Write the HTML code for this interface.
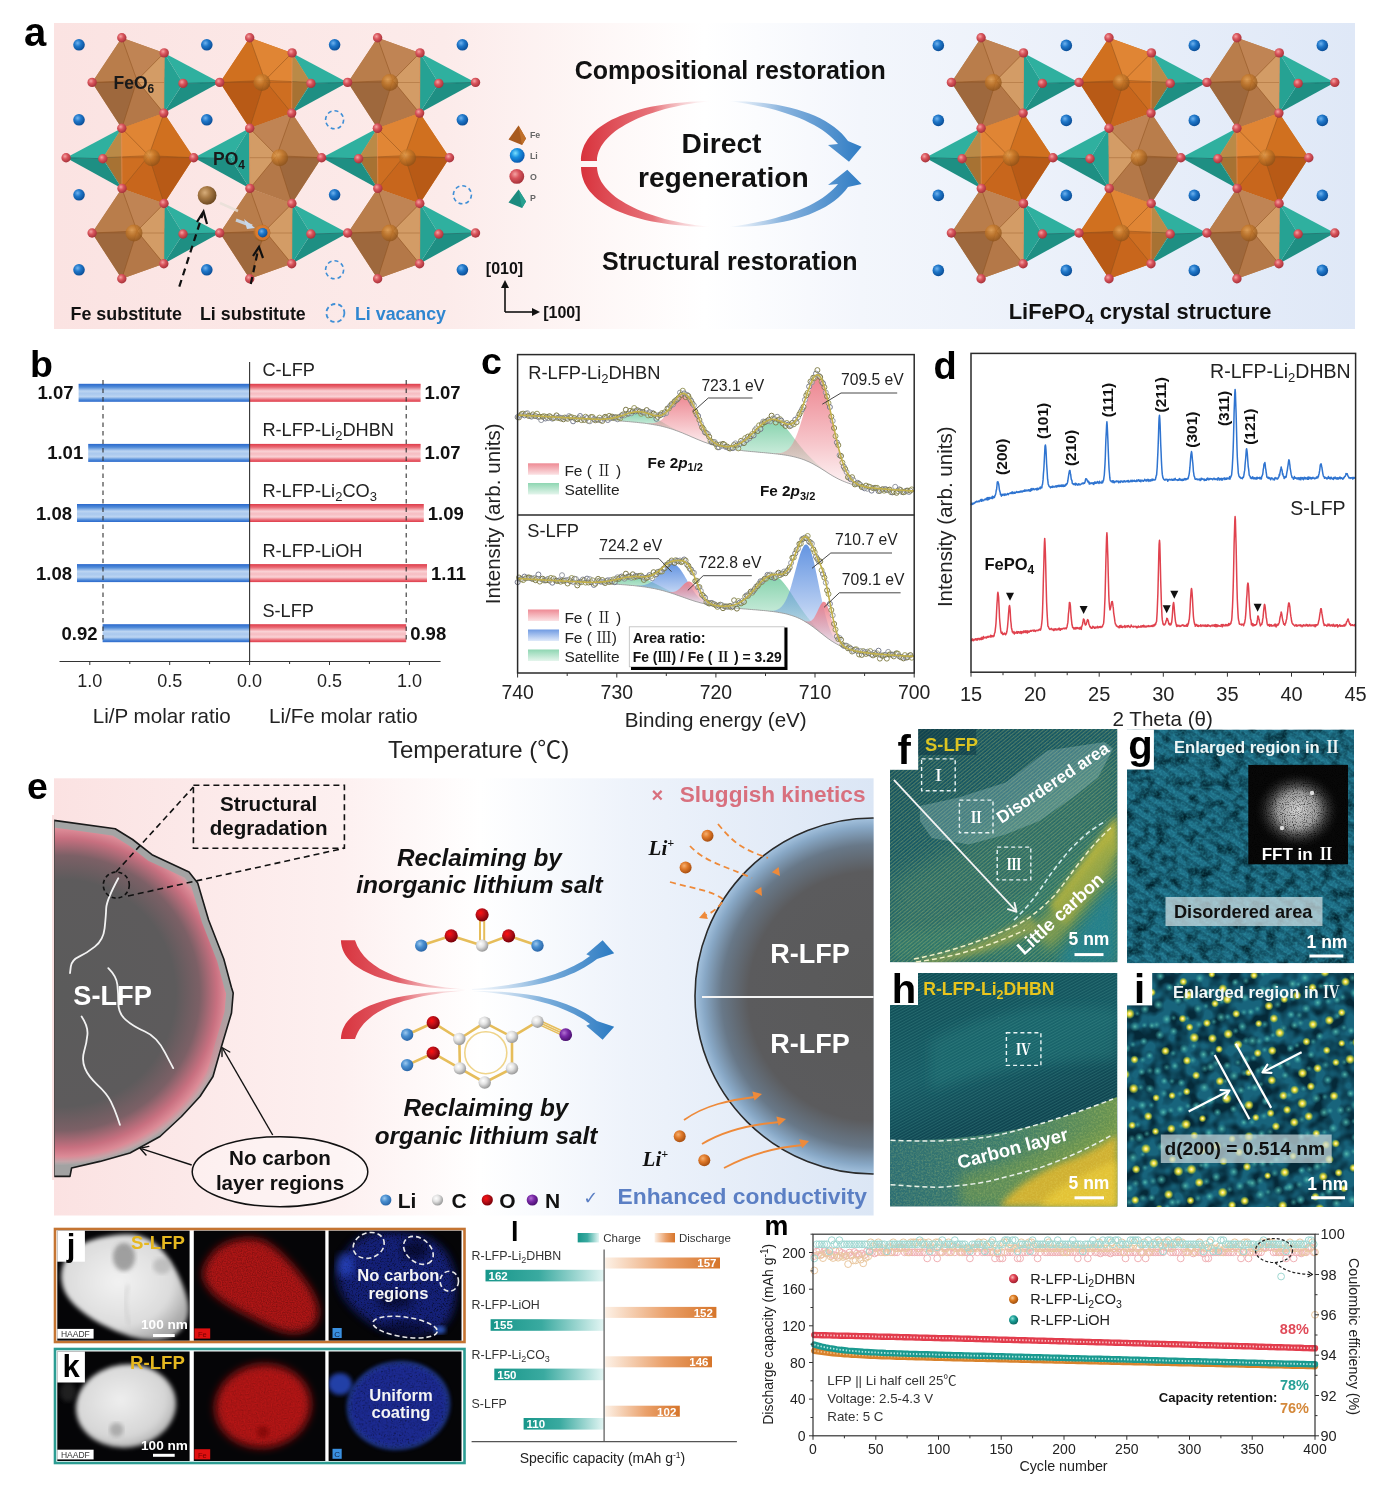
<!DOCTYPE html><html><head><meta charset="utf-8"><title>LFP regeneration figure</title><style>html,body{margin:0;padding:0;background:#fff;}svg{display:block;}</style></head><body><svg width="1381" height="1487" viewBox="0 0 1381 1487" font-family='"Liberation Sans", Arial, sans-serif'><defs><radialGradient id="gO" cx="0.38" cy="0.35" r="0.65"><stop offset="0" stop-color="#f4a3a3"/><stop offset="0.45" stop-color="#d9545c"/><stop offset="1" stop-color="#a8333b"/></radialGradient><radialGradient id="gLi" cx="0.38" cy="0.35" r="0.65"><stop offset="0" stop-color="#6fb2ee"/><stop offset="0.45" stop-color="#1f77c9"/><stop offset="1" stop-color="#0b4f99"/></radialGradient><radialGradient id="gLiL" cx="0.38" cy="0.35" r="0.65"><stop offset="0" stop-color="#7ae0ff"/><stop offset="0.45" stop-color="#1890e0"/><stop offset="1" stop-color="#0a5ab0"/></radialGradient><radialGradient id="gFe" cx="0.38" cy="0.35" r="0.65"><stop offset="0" stop-color="#e9a85a"/><stop offset="0.45" stop-color="#c67a2a"/><stop offset="1" stop-color="#8e5218"/></radialGradient><radialGradient id="gFeS" cx="0.38" cy="0.35" r="0.65"><stop offset="0" stop-color="#d7ad7a"/><stop offset="0.45" stop-color="#a87a45"/><stop offset="1" stop-color="#6e4a22"/></radialGradient><radialGradient id="gC" cx="0.38" cy="0.35" r="0.65"><stop offset="0" stop-color="#ffffff"/><stop offset="0.45" stop-color="#e2e2e2"/><stop offset="1" stop-color="#9a9a9a"/></radialGradient><radialGradient id="gOr" cx="0.38" cy="0.35" r="0.65"><stop offset="0" stop-color="#ff0f0f"/><stop offset="0.45" stop-color="#c01018"/><stop offset="1" stop-color="#7a0008"/></radialGradient><radialGradient id="gN" cx="0.38" cy="0.35" r="0.65"><stop offset="0" stop-color="#b070d0"/><stop offset="0.45" stop-color="#7a2aa8"/><stop offset="1" stop-color="#4a1070"/></radialGradient><radialGradient id="gLiE" cx="0.38" cy="0.35" r="0.65"><stop offset="0" stop-color="#9cc8ee"/><stop offset="0.45" stop-color="#4a8fd0"/><stop offset="1" stop-color="#2a66a8"/></radialGradient><radialGradient id="gOrg" cx="0.38" cy="0.35" r="0.65"><stop offset="0" stop-color="#f5b070"/><stop offset="0.45" stop-color="#e07a2a"/><stop offset="1" stop-color="#a85012"/></radialGradient><linearGradient id="bgA" x1="0" x2="1" y1="0" y2="0"><stop offset="0" stop-color="#fbe3e2"/><stop offset="0.30" stop-color="#fcebea"/><stop offset="0.50" stop-color="#ffffff"/><stop offset="0.62" stop-color="#f3f6fc"/><stop offset="1" stop-color="#dfe8f7"/></linearGradient><linearGradient id="gRedA" x1="0" x2="1" y1="0" y2="0"><stop offset="0" stop-color="#d8323c"/><stop offset="0.55" stop-color="#e4646c" stop-opacity="0.9"/><stop offset="1" stop-color="#f4c0c4" stop-opacity="0"/></linearGradient><linearGradient id="gBlueA" x1="0" x2="1" y1="0" y2="0"><stop offset="0" stop-color="#a8c8e8" stop-opacity="0"/><stop offset="0.4" stop-color="#8ab4de"/><stop offset="1" stop-color="#2f7cc4"/></linearGradient><linearGradient id="gBarB" x1="0" x2="0" y1="0" y2="1"><stop offset="0" stop-color="#2a68cc"/><stop offset="0.18" stop-color="#4f8ad8"/><stop offset="0.4" stop-color="#bcd5f2"/><stop offset="0.55" stop-color="#a9c8ee"/><stop offset="0.72" stop-color="#bcd5f2"/><stop offset="0.88" stop-color="#4f8ad8"/><stop offset="1" stop-color="#2a68cc"/></linearGradient><linearGradient id="gBarR" x1="0" x2="0" y1="0" y2="1"><stop offset="0" stop-color="#de3c4a"/><stop offset="0.18" stop-color="#ea6a74"/><stop offset="0.4" stop-color="#fad2d5"/><stop offset="0.55" stop-color="#f6bcc1"/><stop offset="0.72" stop-color="#fad2d5"/><stop offset="0.88" stop-color="#ea6a74"/><stop offset="1" stop-color="#de3c4a"/></linearGradient><linearGradient id="cP" x1="0" x2="0" y1="0" y2="1"><stop offset="0" stop-color="#ec7f8a" stop-opacity="0.95"/><stop offset="0.6" stop-color="#ec7f8a" stop-opacity="0.45"/><stop offset="1" stop-color="#ec7f8a" stop-opacity="0.08"/></linearGradient><linearGradient id="cG" x1="0" x2="0" y1="0" y2="1"><stop offset="0" stop-color="#7fd0a8" stop-opacity="0.95"/><stop offset="0.6" stop-color="#7fd0a8" stop-opacity="0.45"/><stop offset="1" stop-color="#7fd0a8" stop-opacity="0.08"/></linearGradient><linearGradient id="cB" x1="0" x2="0" y1="0" y2="1"><stop offset="0" stop-color="#5c8fe0" stop-opacity="0.95"/><stop offset="0.6" stop-color="#5c8fe0" stop-opacity="0.45"/><stop offset="1" stop-color="#5c8fe0" stop-opacity="0.08"/></linearGradient><linearGradient id="swP" x1="0" x2="0" y1="0" y2="1"><stop offset="0" stop-color="#ee8a94"/><stop offset="1" stop-color="#fbe2e4"/></linearGradient><linearGradient id="swG" x1="0" x2="0" y1="0" y2="1"><stop offset="0" stop-color="#8ed6b2"/><stop offset="1" stop-color="#e4f5ec"/></linearGradient><linearGradient id="swB" x1="0" x2="0" y1="0" y2="1"><stop offset="0" stop-color="#6f9ae2"/><stop offset="1" stop-color="#e0eafa"/></linearGradient><linearGradient id="bgE" x1="0" x2="1" y1="0" y2="0"><stop offset="0" stop-color="#fbe2e2"/><stop offset="0.35" stop-color="#fdf0f0"/><stop offset="0.52" stop-color="#ffffff"/><stop offset="0.7" stop-color="#eef3fb"/><stop offset="1" stop-color="#dbe6f5"/></linearGradient><clipPath id="cpS"><path d="M54,820.4 L115.2,828.7 L132.6,839.5 L152,854.7 L189,872 L197.7,883 L208.6,920 L223.8,959 L231.4,987.3 L233.2,993 L231.5,1013 L221.5,1046.5 L213,1076.5 L200,1096.5 L181.5,1116.5 L160,1136.5 L130,1153 L100,1161.4 L71.6,1168 L70,1176.4 L54,1176.4 Z"/></clipPath><radialGradient id="gS" cx="62" cy="993" r="172" gradientUnits="userSpaceOnUse"><stop offset="0" stop-color="#5b5b5b"/><stop offset="0.66" stop-color="#5d5b5c"/><stop offset="0.8" stop-color="#7c6066"/><stop offset="0.9" stop-color="#c87080"/><stop offset="0.95" stop-color="#dc8a96"/><stop offset="0.98" stop-color="#c4a4a8"/><stop offset="1" stop-color="#a6a6a6"/></radialGradient><linearGradient id="gShell" x1="0" y1="0" x2="0" y2="1"><stop offset="0" stop-color="#a4a4a4"/><stop offset="0.5" stop-color="#a4a4a4"/><stop offset="0.75" stop-color="#a4a4a4" stop-opacity="0"/></linearGradient><linearGradient id="gRedE" x1="340" x2="470" y1="0" y2="0" gradientUnits="userSpaceOnUse"><stop offset="0" stop-color="#d8343e"/><stop offset="0.45" stop-color="#e2606a"/><stop offset="1" stop-color="#f8d4d6" stop-opacity="0.2"/></linearGradient><linearGradient id="gBlueE" x1="470" x2="615" y1="0" y2="0" gradientUnits="userSpaceOnUse"><stop offset="0" stop-color="#cfe0f2" stop-opacity="0.2"/><stop offset="0.5" stop-color="#7fb0dc"/><stop offset="1" stop-color="#2a7ac2"/></linearGradient><clipPath id="cpE"><rect x="54" y="778.3" width="819.6" height="437.2"/></clipPath><radialGradient id="gR" cx="873" cy="996" r="178" gradientUnits="userSpaceOnUse"><stop offset="0" stop-color="#595959"/><stop offset="0.7" stop-color="#5b5b5d"/><stop offset="0.85" stop-color="#687888"/><stop offset="0.95" stop-color="#88a8c6"/><stop offset="1" stop-color="#a4c2de"/></radialGradient><clipPath id="cpF"><rect x="890" y="729" width="227.5" height="233.29999999999995"/></clipPath><linearGradient id="gF" x1="0" y1="0" x2="0.6" y2="1"><stop offset="0" stop-color="#0d4a5a"/><stop offset="0.5" stop-color="#135866"/><stop offset="1" stop-color="#1a6466"/></linearGradient><filter id="blur6"><feGaussianBlur stdDeviation="6"/></filter><filter id="blur3"><feGaussianBlur stdDeviation="3"/></filter><filter id="blur10"><feGaussianBlur stdDeviation="10"/></filter><pattern id="fringeF" width="2.8" height="2.8" patternUnits="userSpaceOnUse" patternTransform="rotate(-40)"><rect width="2.8" height="1.1" fill="#d8d870" opacity="0.3"/></pattern><filter id="nzF" x="0" y="0" width="1" height="1" color-interpolation-filters="sRGB"><feTurbulence type="fractalNoise" baseFrequency="0.7" numOctaves="2" seed="4" result="n"/><feColorMatrix in="n" type="matrix" values="0 0 0 0 0.85  0 0 0 0 0.9  0 0 0 0 0.6  0 0 0 -1.3 0.9" result="c"/><feComposite in="c" in2="SourceGraphic" operator="in"/></filter><clipPath id="cpG"><rect x="1127" y="729.5" width="227" height="233.79999999999995"/></clipPath><filter id="nzG" x="0" y="0" width="1" height="1" color-interpolation-filters="sRGB"><feTurbulence type="fractalNoise" baseFrequency="0.09" numOctaves="2" seed="11" result="n"/><feColorMatrix in="n" type="matrix" values="0 0 0 0 0.0  0 0 0 0 0.12  0 0 0 0 0.16  0 0 0 -2.6 1.45" result="c"/><feComposite in="c" in2="SourceGraphic" operator="in"/></filter><filter id="nzG2" x="0" y="0" width="1" height="1" color-interpolation-filters="sRGB"><feTurbulence type="fractalNoise" baseFrequency="0.45" numOctaves="1" seed="12" result="n"/><feColorMatrix in="n" type="matrix" values="0 0 0 0 0.3  0 0 0 0 0.8  0 0 0 0 0.85  0 0 0 -2.0 1.15" result="c"/><feComposite in="c" in2="SourceGraphic" operator="in"/></filter><pattern id="fringeG" width="9" height="9" patternUnits="userSpaceOnUse" patternTransform="rotate(33)"><rect width="9" height="3.6" fill="#042a38" opacity="0.3"/></pattern><clipPath id="cpFFT"><rect x="1248.3" y="764.9" width="99.70000000000005" height="99.39999999999998"/></clipPath><radialGradient id="gFFT" cx="0.5" cy="0.5" r="0.5"><stop offset="0" stop-color="#d8d8d8"/><stop offset="0.45" stop-color="#9a9a9a"/><stop offset="1" stop-color="#000" stop-opacity="0"/></radialGradient><filter id="nzFFT" x="0" y="0" width="1" height="1" color-interpolation-filters="sRGB"><feTurbulence type="fractalNoise" baseFrequency="0.9" numOctaves="1" seed="21" result="n"/><feColorMatrix in="n" type="matrix" values="0 0 0 0 0  0 0 0 0 0  0 0 0 0 0  0 0 0 -2.5 1.3" result="c"/><feComposite in="c" in2="SourceGraphic" operator="in"/></filter><clipPath id="cpH"><rect x="890" y="973" width="227.5" height="233.5"/></clipPath><linearGradient id="gH" x1="0" y1="0" x2="0.3" y2="1"><stop offset="0" stop-color="#0e4a52"/><stop offset="0.45" stop-color="#145862"/><stop offset="0.7" stop-color="#0e4450"/><stop offset="1" stop-color="#0c3e48"/></linearGradient><pattern id="fringeH" width="2.6" height="2.6" patternUnits="userSpaceOnUse" patternTransform="rotate(-28)"><rect width="2.6" height="1.1" fill="#5aa8a0" opacity="0.28"/></pattern><filter id="nzH" x="0" y="0" width="1" height="1" color-interpolation-filters="sRGB"><feTurbulence type="fractalNoise" baseFrequency="0.55" numOctaves="2" seed="31" result="n"/><feColorMatrix in="n" type="matrix" values="0 0 0 0 0.95  0 0 0 0 0.95  0 0 0 0 0.5  0 0 0 -1.6 1.0" result="c"/><feComposite in="c" in2="SourceGraphic" operator="in"/></filter><linearGradient id="gBand" x1="0" x2="1" y1="0" y2="0"><stop offset="0" stop-color="#2c6e74"/><stop offset="0.5" stop-color="#3c7c6c"/><stop offset="1" stop-color="#6a9450"/></linearGradient><clipPath id="cpI"><rect x="1127" y="972.9" width="227" height="234.10000000000002"/></clipPath><filter id="nzI" x="0" y="0" width="1" height="1" color-interpolation-filters="sRGB"><feTurbulence type="fractalNoise" baseFrequency="0.07" numOctaves="2" seed="41" result="n"/><feColorMatrix in="n" type="matrix" values="0 0 0 0 0.02  0 0 0 0 0.16  0 0 0 0 0.22  0 0 0 -3.0 1.9" result="c"/><feComposite in="c" in2="SourceGraphic" operator="in"/></filter><radialGradient id="gDot"><stop offset="0" stop-color="#fffbd0"/><stop offset="0.35" stop-color="#f2e040"/><stop offset="0.7" stop-color="#b8c830" stop-opacity="0.6"/><stop offset="1" stop-color="#60a060" stop-opacity="0"/></radialGradient><radialGradient id="gDot2"><stop offset="0" stop-color="#60c8b8"/><stop offset="1" stop-color="#2a9aa0" stop-opacity="0"/></radialGradient><filter id="nzJ" x="0" y="0" width="1" height="1" color-interpolation-filters="sRGB"><feTurbulence type="fractalNoise" baseFrequency="0.8" numOctaves="1" seed="51" result="n"/><feColorMatrix in="n" type="matrix" values="0 0 0 0 0  0 0 0 0 0  0 0 0 0 0  0 0 0 -1.6 1.05" result="c"/><feComposite in="c" in2="SourceGraphic" operator="in"/></filter><filter id="nzJ2" x="0" y="0" width="1" height="1" color-interpolation-filters="sRGB"><feTurbulence type="fractalNoise" baseFrequency="0.65" numOctaves="2" seed="52" result="n"/><feColorMatrix in="n" type="matrix" values="0 0 0 0 0  0 0 0 0 0  0 0 0 0 0  0 0 0 -2.2 1.1" result="c"/><feComposite in="c" in2="SourceGraphic" operator="in"/></filter><filter id="blur2"><feGaussianBlur stdDeviation="2"/></filter><filter id="blur4"><feGaussianBlur stdDeviation="4"/></filter><radialGradient id="gHA" cx="0.45" cy="0.45" r="0.6"><stop offset="0" stop-color="#f2f2f2"/><stop offset="0.7" stop-color="#dcdcdc"/><stop offset="1" stop-color="#a8a8a8"/></radialGradient><radialGradient id="gHA2" cx="0.45" cy="0.42" r="0.6"><stop offset="0" stop-color="#eeeeee"/><stop offset="0.75" stop-color="#d6d6d6"/><stop offset="1" stop-color="#b0b0b0"/></radialGradient><clipPath id="cJ1"><rect x="57.3" y="1230.7" width="132.3" height="109.9"/></clipPath><clipPath id="cJ2"><rect x="193.8" y="1230.7" width="131.5" height="109.9"/></clipPath><clipPath id="cJ3"><rect x="328.6" y="1230.7" width="132.9" height="109.9"/></clipPath><clipPath id="cK1"><rect x="57.3" y="1351.5" width="132.3" height="109.5"/></clipPath><clipPath id="cK2"><rect x="193.8" y="1351.5" width="131.5" height="109.5"/></clipPath><clipPath id="cK3"><rect x="328.6" y="1351.5" width="132.9" height="109.5"/></clipPath><linearGradient id="gCh" x1="0" x2="1" y1="0" y2="0"><stop offset="0" stop-color="#17968a"/><stop offset="0.45" stop-color="#3aaaa0"/><stop offset="1" stop-color="#e4f6f4"/></linearGradient><linearGradient id="gDis" x1="0" x2="1" y1="0" y2="0"><stop offset="0" stop-color="#fdf1e6"/><stop offset="0.55" stop-color="#eaa06a"/><stop offset="1" stop-color="#d6752a"/></linearGradient><radialGradient id="gRb" cx="0.38" cy="0.35" r="0.65"><stop offset="0" stop-color="#f8b8b8"/><stop offset="0.45" stop-color="#e04050"/><stop offset="1" stop-color="#a02030"/></radialGradient><radialGradient id="gOb" cx="0.38" cy="0.35" r="0.65"><stop offset="0" stop-color="#f8c890"/><stop offset="0.45" stop-color="#dc7a20"/><stop offset="1" stop-color="#a05010"/></radialGradient><radialGradient id="gTb" cx="0.38" cy="0.35" r="0.65"><stop offset="0" stop-color="#90e0d8"/><stop offset="0.45" stop-color="#1aa098"/><stop offset="1" stop-color="#0a6a64"/></radialGradient></defs><rect x="54" y="23" width="1301" height="306" fill="url(#bgA)" /><text x="24" y="46" font-size="40" font-weight="bold" text-anchor="start" fill="#000" >a</text><polygon points="164.2,52.9 219.7,82.4 183,83.4" fill="#2fb09f" /><polygon points="183,83.4 219.7,82.4 163.8,113.1" fill="#1e8f83" /><polygon points="164.2,52.9 183,83.4 163.8,113.1" fill="#26a293" /><line x1="183" y1="83.4" x2="219.7" y2="82.4" stroke="#17706a" stroke-width="0.8" /><polygon points="121.8,37.8 164.2,52.9 163.8,113.1 121.8,128.2 92.1,82.4" fill="#b97d4b" /><polygon points="92.1,82.4 121.8,37.8 137,80.4" fill="#b97d4b" /><polygon points="121.8,37.8 164.2,52.9 137,80.4" fill="#c08454" /><polygon points="164.2,52.9 163.8,113.1 137,80.4" fill="#d39c66" /><polygon points="163.8,113.1 121.8,128.2 137,80.4" fill="#b47848" /><polygon points="121.8,128.2 92.1,82.4 137,80.4" fill="#9e683d" /><line x1="137" y1="80.4" x2="121.8" y2="37.8" stroke="#8a4e1c" stroke-width="0.9" opacity="0.55"/><line x1="137" y1="80.4" x2="164.2" y2="52.9" stroke="#8a4e1c" stroke-width="0.9" opacity="0.55"/><line x1="137" y1="80.4" x2="163.8" y2="113.1" stroke="#8a4e1c" stroke-width="0.9" opacity="0.55"/><line x1="137" y1="80.4" x2="121.8" y2="128.2" stroke="#8a4e1c" stroke-width="0.9" opacity="0.55"/><line x1="137" y1="80.4" x2="92.1" y2="82.4" stroke="#8a4e1c" stroke-width="0.9" opacity="0.55"/><line x1="164.2" y1="52.9" x2="163.8" y2="113.1" stroke="#e0905a" stroke-width="1" opacity="0.7"/><line x1="92.1" y1="82.4" x2="164" y2="82.4" stroke="#8a4e1c" stroke-width="0.8" opacity="0.45"/><polygon points="292.1,52.9 347.6,82.4 310.9,83.4" fill="#2fb09f" /><polygon points="310.9,83.4 347.6,82.4 291.7,113.1" fill="#1e8f83" /><polygon points="292.1,52.9 310.9,83.4 291.7,113.1" fill="#26a293" /><line x1="310.9" y1="83.4" x2="347.6" y2="82.4" stroke="#17706a" stroke-width="0.8" /><polygon points="249.7,37.8 292.1,52.9 291.7,113.1 249.7,128.2 220,82.4" fill="#d0701f" /><polygon points="220,82.4 249.7,37.8 264.9,80.4" fill="#d0701f" /><polygon points="249.7,37.8 292.1,52.9 264.9,80.4" fill="#e08534" /><polygon points="292.1,52.9 291.7,113.1 264.9,80.4" fill="#e48c3a" /><polygon points="291.7,113.1 249.7,128.2 264.9,80.4" fill="#c8661c" /><polygon points="249.7,128.2 220,82.4 264.9,80.4" fill="#b85a16" /><polygon points="292.1,52.9 310.9,82.4 264.9,80.4" fill="#e08534" opacity="0.8"/><polygon points="310.9,82.4 291.7,113.1 264.9,80.4" fill="#c8661c" opacity="0.8"/><line x1="264.9" y1="80.4" x2="310.9" y2="82.4" stroke="#8a4e1c" stroke-width="0.9" opacity="0.55"/><line x1="264.9" y1="80.4" x2="249.7" y2="37.8" stroke="#8a4e1c" stroke-width="0.9" opacity="0.55"/><line x1="264.9" y1="80.4" x2="292.1" y2="52.9" stroke="#8a4e1c" stroke-width="0.9" opacity="0.55"/><line x1="264.9" y1="80.4" x2="291.7" y2="113.1" stroke="#8a4e1c" stroke-width="0.9" opacity="0.55"/><line x1="264.9" y1="80.4" x2="249.7" y2="128.2" stroke="#8a4e1c" stroke-width="0.9" opacity="0.55"/><line x1="264.9" y1="80.4" x2="220" y2="82.4" stroke="#8a4e1c" stroke-width="0.9" opacity="0.55"/><line x1="292.1" y1="52.9" x2="291.7" y2="113.1" stroke="#e0905a" stroke-width="1" opacity="0.7"/><line x1="220" y1="82.4" x2="291.9" y2="82.4" stroke="#8a4e1c" stroke-width="0.8" opacity="0.45"/><polygon points="420,52.9 475.5,82.4 438.8,83.4" fill="#2fb09f" /><polygon points="438.8,83.4 475.5,82.4 419.6,113.1" fill="#1e8f83" /><polygon points="420,52.9 438.8,83.4 419.6,113.1" fill="#26a293" /><line x1="438.8" y1="83.4" x2="475.5" y2="82.4" stroke="#17706a" stroke-width="0.8" /><polygon points="377.6,37.8 420,52.9 419.6,113.1 377.6,128.2 347.9,82.4" fill="#b97d4b" /><polygon points="347.9,82.4 377.6,37.8 392.8,80.4" fill="#b97d4b" /><polygon points="377.6,37.8 420,52.9 392.8,80.4" fill="#c08454" /><polygon points="420,52.9 419.6,113.1 392.8,80.4" fill="#d39c66" /><polygon points="419.6,113.1 377.6,128.2 392.8,80.4" fill="#b47848" /><polygon points="377.6,128.2 347.9,82.4 392.8,80.4" fill="#9e683d" /><line x1="392.8" y1="80.4" x2="377.6" y2="37.8" stroke="#8a4e1c" stroke-width="0.9" opacity="0.55"/><line x1="392.8" y1="80.4" x2="420" y2="52.9" stroke="#8a4e1c" stroke-width="0.9" opacity="0.55"/><line x1="392.8" y1="80.4" x2="419.6" y2="113.1" stroke="#8a4e1c" stroke-width="0.9" opacity="0.55"/><line x1="392.8" y1="80.4" x2="377.6" y2="128.2" stroke="#8a4e1c" stroke-width="0.9" opacity="0.55"/><line x1="392.8" y1="80.4" x2="347.9" y2="82.4" stroke="#8a4e1c" stroke-width="0.9" opacity="0.55"/><line x1="420" y1="52.9" x2="419.6" y2="113.1" stroke="#e0905a" stroke-width="1" opacity="0.7"/><line x1="347.9" y1="82.4" x2="419.8" y2="82.4" stroke="#8a4e1c" stroke-width="0.8" opacity="0.45"/><polygon points="121.6,128.2 66.1,157.7 102.8,158.7" fill="#2fb09f" /><polygon points="102.8,158.7 66.1,157.7 122,188.4" fill="#1e8f83" /><polygon points="121.6,128.2 102.8,158.7 122,188.4" fill="#26a293" /><line x1="102.8" y1="158.7" x2="66.1" y2="157.7" stroke="#17706a" stroke-width="0.8" /><polygon points="164,113.1 121.6,128.2 122,188.4 164,203.5 193.7,157.7" fill="#d0701f" /><polygon points="193.7,157.7 164,113.1 148.8,155.7" fill="#d0701f" /><polygon points="164,113.1 121.6,128.2 148.8,155.7" fill="#e08534" /><polygon points="121.6,128.2 122,188.4 148.8,155.7" fill="#e48c3a" /><polygon points="122,188.4 164,203.5 148.8,155.7" fill="#c8661c" /><polygon points="164,203.5 193.7,157.7 148.8,155.7" fill="#b85a16" /><polygon points="121.6,128.2 102.8,157.7 148.8,155.7" fill="#e08534" opacity="0.8"/><polygon points="102.8,157.7 122,188.4 148.8,155.7" fill="#c8661c" opacity="0.8"/><line x1="148.8" y1="155.7" x2="102.8" y2="157.7" stroke="#8a4e1c" stroke-width="0.9" opacity="0.55"/><line x1="148.8" y1="155.7" x2="164" y2="113.1" stroke="#8a4e1c" stroke-width="0.9" opacity="0.55"/><line x1="148.8" y1="155.7" x2="121.6" y2="128.2" stroke="#8a4e1c" stroke-width="0.9" opacity="0.55"/><line x1="148.8" y1="155.7" x2="122" y2="188.4" stroke="#8a4e1c" stroke-width="0.9" opacity="0.55"/><line x1="148.8" y1="155.7" x2="164" y2="203.5" stroke="#8a4e1c" stroke-width="0.9" opacity="0.55"/><line x1="148.8" y1="155.7" x2="193.7" y2="157.7" stroke="#8a4e1c" stroke-width="0.9" opacity="0.55"/><line x1="121.6" y1="128.2" x2="122" y2="188.4" stroke="#e0905a" stroke-width="1" opacity="0.7"/><line x1="193.7" y1="157.7" x2="121.8" y2="157.7" stroke="#8a4e1c" stroke-width="0.8" opacity="0.45"/><polygon points="249.5,128.2 194,157.7 230.7,158.7" fill="#2fb09f" /><polygon points="230.7,158.7 194,157.7 249.9,188.4" fill="#1e8f83" /><polygon points="249.5,128.2 230.7,158.7 249.9,188.4" fill="#26a293" /><line x1="230.7" y1="158.7" x2="194" y2="157.7" stroke="#17706a" stroke-width="0.8" /><polygon points="291.9,113.1 249.5,128.2 249.9,188.4 291.9,203.5 321.6,157.7" fill="#b97d4b" /><polygon points="321.6,157.7 291.9,113.1 276.7,155.7" fill="#b97d4b" /><polygon points="291.9,113.1 249.5,128.2 276.7,155.7" fill="#c08454" /><polygon points="249.5,128.2 249.9,188.4 276.7,155.7" fill="#d39c66" /><polygon points="249.9,188.4 291.9,203.5 276.7,155.7" fill="#b47848" /><polygon points="291.9,203.5 321.6,157.7 276.7,155.7" fill="#9e683d" /><line x1="276.7" y1="155.7" x2="291.9" y2="113.1" stroke="#8a4e1c" stroke-width="0.9" opacity="0.55"/><line x1="276.7" y1="155.7" x2="249.5" y2="128.2" stroke="#8a4e1c" stroke-width="0.9" opacity="0.55"/><line x1="276.7" y1="155.7" x2="249.9" y2="188.4" stroke="#8a4e1c" stroke-width="0.9" opacity="0.55"/><line x1="276.7" y1="155.7" x2="291.9" y2="203.5" stroke="#8a4e1c" stroke-width="0.9" opacity="0.55"/><line x1="276.7" y1="155.7" x2="321.6" y2="157.7" stroke="#8a4e1c" stroke-width="0.9" opacity="0.55"/><line x1="249.5" y1="128.2" x2="249.9" y2="188.4" stroke="#e0905a" stroke-width="1" opacity="0.7"/><line x1="321.6" y1="157.7" x2="249.7" y2="157.7" stroke="#8a4e1c" stroke-width="0.8" opacity="0.45"/><polygon points="377.4,128.2 321.9,157.7 358.6,158.7" fill="#2fb09f" /><polygon points="358.6,158.7 321.9,157.7 377.8,188.4" fill="#1e8f83" /><polygon points="377.4,128.2 358.6,158.7 377.8,188.4" fill="#26a293" /><line x1="358.6" y1="158.7" x2="321.9" y2="157.7" stroke="#17706a" stroke-width="0.8" /><polygon points="419.8,113.1 377.4,128.2 377.8,188.4 419.8,203.5 449.5,157.7" fill="#d0701f" /><polygon points="449.5,157.7 419.8,113.1 404.6,155.7" fill="#d0701f" /><polygon points="419.8,113.1 377.4,128.2 404.6,155.7" fill="#e08534" /><polygon points="377.4,128.2 377.8,188.4 404.6,155.7" fill="#e48c3a" /><polygon points="377.8,188.4 419.8,203.5 404.6,155.7" fill="#c8661c" /><polygon points="419.8,203.5 449.5,157.7 404.6,155.7" fill="#b85a16" /><polygon points="377.4,128.2 358.6,157.7 404.6,155.7" fill="#e08534" opacity="0.8"/><polygon points="358.6,157.7 377.8,188.4 404.6,155.7" fill="#c8661c" opacity="0.8"/><line x1="404.6" y1="155.7" x2="358.6" y2="157.7" stroke="#8a4e1c" stroke-width="0.9" opacity="0.55"/><line x1="404.6" y1="155.7" x2="419.8" y2="113.1" stroke="#8a4e1c" stroke-width="0.9" opacity="0.55"/><line x1="404.6" y1="155.7" x2="377.4" y2="128.2" stroke="#8a4e1c" stroke-width="0.9" opacity="0.55"/><line x1="404.6" y1="155.7" x2="377.8" y2="188.4" stroke="#8a4e1c" stroke-width="0.9" opacity="0.55"/><line x1="404.6" y1="155.7" x2="419.8" y2="203.5" stroke="#8a4e1c" stroke-width="0.9" opacity="0.55"/><line x1="404.6" y1="155.7" x2="449.5" y2="157.7" stroke="#8a4e1c" stroke-width="0.9" opacity="0.55"/><line x1="377.4" y1="128.2" x2="377.8" y2="188.4" stroke="#e0905a" stroke-width="1" opacity="0.7"/><line x1="449.5" y1="157.7" x2="377.6" y2="157.7" stroke="#8a4e1c" stroke-width="0.8" opacity="0.45"/><polygon points="164.2,203.5 219.7,233 183,234" fill="#2fb09f" /><polygon points="183,234 219.7,233 163.8,263.7" fill="#1e8f83" /><polygon points="164.2,203.5 183,234 163.8,263.7" fill="#26a293" /><line x1="183" y1="234" x2="219.7" y2="233" stroke="#17706a" stroke-width="0.8" /><polygon points="121.8,188.4 164.2,203.5 163.8,263.7 121.8,278.8 92.1,233" fill="#b97d4b" /><polygon points="92.1,233 121.8,188.4 137,231" fill="#b97d4b" /><polygon points="121.8,188.4 164.2,203.5 137,231" fill="#c08454" /><polygon points="164.2,203.5 163.8,263.7 137,231" fill="#d39c66" /><polygon points="163.8,263.7 121.8,278.8 137,231" fill="#b47848" /><polygon points="121.8,278.8 92.1,233 137,231" fill="#9e683d" /><line x1="137" y1="231" x2="121.8" y2="188.4" stroke="#8a4e1c" stroke-width="0.9" opacity="0.55"/><line x1="137" y1="231" x2="164.2" y2="203.5" stroke="#8a4e1c" stroke-width="0.9" opacity="0.55"/><line x1="137" y1="231" x2="163.8" y2="263.7" stroke="#8a4e1c" stroke-width="0.9" opacity="0.55"/><line x1="137" y1="231" x2="121.8" y2="278.8" stroke="#8a4e1c" stroke-width="0.9" opacity="0.55"/><line x1="137" y1="231" x2="92.1" y2="233" stroke="#8a4e1c" stroke-width="0.9" opacity="0.55"/><line x1="164.2" y1="203.5" x2="163.8" y2="263.7" stroke="#e0905a" stroke-width="1" opacity="0.7"/><line x1="92.1" y1="233" x2="164" y2="233" stroke="#8a4e1c" stroke-width="0.8" opacity="0.45"/><polygon points="292.1,203.5 347.6,233 310.9,234" fill="#2fb09f" /><polygon points="310.9,234 347.6,233 291.7,263.7" fill="#1e8f83" /><polygon points="292.1,203.5 310.9,234 291.7,263.7" fill="#26a293" /><line x1="310.9" y1="234" x2="347.6" y2="233" stroke="#17706a" stroke-width="0.8" /><polygon points="249.7,188.4 292.1,203.5 291.7,263.7 249.7,278.8 220,233" fill="#b97d4b" /><polygon points="220,233 249.7,188.4 264.9,231" fill="#b97d4b" /><polygon points="249.7,188.4 292.1,203.5 264.9,231" fill="#c08454" /><polygon points="292.1,203.5 291.7,263.7 264.9,231" fill="#d39c66" /><polygon points="291.7,263.7 249.7,278.8 264.9,231" fill="#b47848" /><polygon points="249.7,278.8 220,233 264.9,231" fill="#9e683d" /><line x1="264.9" y1="231" x2="249.7" y2="188.4" stroke="#8a4e1c" stroke-width="0.9" opacity="0.55"/><line x1="264.9" y1="231" x2="292.1" y2="203.5" stroke="#8a4e1c" stroke-width="0.9" opacity="0.55"/><line x1="264.9" y1="231" x2="291.7" y2="263.7" stroke="#8a4e1c" stroke-width="0.9" opacity="0.55"/><line x1="264.9" y1="231" x2="249.7" y2="278.8" stroke="#8a4e1c" stroke-width="0.9" opacity="0.55"/><line x1="264.9" y1="231" x2="220" y2="233" stroke="#8a4e1c" stroke-width="0.9" opacity="0.55"/><line x1="292.1" y1="203.5" x2="291.7" y2="263.7" stroke="#e0905a" stroke-width="1" opacity="0.7"/><line x1="220" y1="233" x2="291.9" y2="233" stroke="#8a4e1c" stroke-width="0.8" opacity="0.45"/><polygon points="420,203.5 475.5,233 438.8,234" fill="#2fb09f" /><polygon points="438.8,234 475.5,233 419.6,263.7" fill="#1e8f83" /><polygon points="420,203.5 438.8,234 419.6,263.7" fill="#26a293" /><line x1="438.8" y1="234" x2="475.5" y2="233" stroke="#17706a" stroke-width="0.8" /><polygon points="377.6,188.4 420,203.5 419.6,263.7 377.6,278.8 347.9,233" fill="#b97d4b" /><polygon points="347.9,233 377.6,188.4 392.8,231" fill="#b97d4b" /><polygon points="377.6,188.4 420,203.5 392.8,231" fill="#c08454" /><polygon points="420,203.5 419.6,263.7 392.8,231" fill="#d39c66" /><polygon points="419.6,263.7 377.6,278.8 392.8,231" fill="#b47848" /><polygon points="377.6,278.8 347.9,233 392.8,231" fill="#9e683d" /><line x1="392.8" y1="231" x2="377.6" y2="188.4" stroke="#8a4e1c" stroke-width="0.9" opacity="0.55"/><line x1="392.8" y1="231" x2="420" y2="203.5" stroke="#8a4e1c" stroke-width="0.9" opacity="0.55"/><line x1="392.8" y1="231" x2="419.6" y2="263.7" stroke="#8a4e1c" stroke-width="0.9" opacity="0.55"/><line x1="392.8" y1="231" x2="377.6" y2="278.8" stroke="#8a4e1c" stroke-width="0.9" opacity="0.55"/><line x1="392.8" y1="231" x2="347.9" y2="233" stroke="#8a4e1c" stroke-width="0.9" opacity="0.55"/><line x1="420" y1="203.5" x2="419.6" y2="263.7" stroke="#e0905a" stroke-width="1" opacity="0.7"/><line x1="347.9" y1="233" x2="419.8" y2="233" stroke="#8a4e1c" stroke-width="0.8" opacity="0.45"/><circle cx="261.9" cy="82.4" r="8.5" fill="url(#gFe)" opacity="0.75"/><circle cx="389.8" cy="82.4" r="8.5" fill="url(#gFe)" opacity="0.75"/><circle cx="151.8" cy="157.7" r="8.5" fill="url(#gFe)" opacity="0.75"/><circle cx="279.7" cy="157.7" r="8.5" fill="url(#gFe)" opacity="0.75"/><circle cx="407.6" cy="157.7" r="8.5" fill="url(#gFe)" opacity="0.75"/><circle cx="134" cy="233" r="8.5" fill="url(#gFe)" opacity="0.75"/><circle cx="261.9" cy="233" r="8.5" fill="url(#gFe)" opacity="0.75"/><circle cx="389.8" cy="233" r="8.5" fill="url(#gFe)" opacity="0.75"/><circle cx="121.8" cy="37.8" r="4.7" fill="url(#gO)" /><circle cx="164.2" cy="52.9" r="4.7" fill="url(#gO)" /><circle cx="92.1" cy="82.4" r="4.7" fill="url(#gO)" /><circle cx="163.8" cy="113.1" r="4.7" fill="url(#gO)" /><circle cx="121.8" cy="128.2" r="4.7" fill="url(#gO)" /><circle cx="183" cy="83.4" r="4.7" fill="url(#gO)" /><circle cx="219.7" cy="82.4" r="4.7" fill="url(#gO)" /><circle cx="249.7" cy="37.8" r="4.7" fill="url(#gO)" /><circle cx="292.1" cy="52.9" r="4.7" fill="url(#gO)" /><circle cx="291.7" cy="113.1" r="4.7" fill="url(#gO)" /><circle cx="249.7" cy="128.2" r="4.7" fill="url(#gO)" /><circle cx="310.9" cy="83.4" r="4.7" fill="url(#gO)" /><circle cx="347.6" cy="82.4" r="4.7" fill="url(#gO)" /><circle cx="377.6" cy="37.8" r="4.7" fill="url(#gO)" /><circle cx="420" cy="52.9" r="4.7" fill="url(#gO)" /><circle cx="419.6" cy="113.1" r="4.7" fill="url(#gO)" /><circle cx="377.6" cy="128.2" r="4.7" fill="url(#gO)" /><circle cx="438.8" cy="83.4" r="4.7" fill="url(#gO)" /><circle cx="475.5" cy="82.4" r="4.7" fill="url(#gO)" /><circle cx="193.7" cy="157.7" r="4.7" fill="url(#gO)" /><circle cx="122" cy="188.4" r="4.7" fill="url(#gO)" /><circle cx="164" cy="203.5" r="4.7" fill="url(#gO)" /><circle cx="102.8" cy="158.7" r="4.7" fill="url(#gO)" /><circle cx="66.1" cy="157.7" r="4.7" fill="url(#gO)" /><circle cx="321.6" cy="157.7" r="4.7" fill="url(#gO)" /><circle cx="249.9" cy="188.4" r="4.7" fill="url(#gO)" /><circle cx="291.9" cy="203.5" r="4.7" fill="url(#gO)" /><circle cx="377.4" cy="128.2" r="4.7" fill="url(#gO)" /><circle cx="449.5" cy="157.7" r="4.7" fill="url(#gO)" /><circle cx="377.8" cy="188.4" r="4.7" fill="url(#gO)" /><circle cx="419.8" cy="203.5" r="4.7" fill="url(#gO)" /><circle cx="358.6" cy="158.7" r="4.7" fill="url(#gO)" /><circle cx="92.1" cy="233" r="4.7" fill="url(#gO)" /><circle cx="163.8" cy="263.7" r="4.7" fill="url(#gO)" /><circle cx="121.8" cy="278.8" r="4.7" fill="url(#gO)" /><circle cx="183" cy="234" r="4.7" fill="url(#gO)" /><circle cx="219.7" cy="233" r="4.7" fill="url(#gO)" /><circle cx="291.7" cy="263.7" r="4.7" fill="url(#gO)" /><circle cx="249.7" cy="278.8" r="4.7" fill="url(#gO)" /><circle cx="310.9" cy="234" r="4.7" fill="url(#gO)" /><circle cx="347.6" cy="233" r="4.7" fill="url(#gO)" /><circle cx="419.6" cy="263.7" r="4.7" fill="url(#gO)" /><circle cx="377.6" cy="278.8" r="4.7" fill="url(#gO)" /><circle cx="438.8" cy="234" r="4.7" fill="url(#gO)" /><circle cx="475.5" cy="233" r="4.7" fill="url(#gO)" /><circle cx="79" cy="44.8" r="5.8" fill="url(#gLi)" /><circle cx="206.8" cy="44.8" r="5.8" fill="url(#gLi)" /><circle cx="334.6" cy="44.8" r="5.8" fill="url(#gLi)" /><circle cx="462.4" cy="44.8" r="5.8" fill="url(#gLi)" /><circle cx="79" cy="119.8" r="5.8" fill="url(#gLi)" /><circle cx="206.8" cy="119.8" r="5.8" fill="url(#gLi)" /><circle cx="334.6" cy="119.8" r="9" fill="none" stroke="#3f8fd6" stroke-width="1.6" stroke-dasharray="4 3"/><circle cx="462.4" cy="119.8" r="5.8" fill="url(#gLi)" /><circle cx="79" cy="194.8" r="5.8" fill="url(#gLi)" /><circle cx="206.8" cy="194.8" r="5.8" fill="url(#gLi)" /><circle cx="334.6" cy="194.8" r="5.8" fill="url(#gLi)" /><circle cx="462.4" cy="194.8" r="9" fill="none" stroke="#3f8fd6" stroke-width="1.6" stroke-dasharray="4 3"/><circle cx="79" cy="269.8" r="5.8" fill="url(#gLi)" /><circle cx="206.8" cy="269.8" r="5.8" fill="url(#gLi)" /><circle cx="334.6" cy="269.8" r="9" fill="none" stroke="#3f8fd6" stroke-width="1.6" stroke-dasharray="4 3"/><circle cx="462.4" cy="269.8" r="5.8" fill="url(#gLi)" /><polygon points="1023.5,52.9 1079,82.4 1042.3,83.4" fill="#2fb09f" /><polygon points="1042.3,83.4 1079,82.4 1023.1,113.1" fill="#1e8f83" /><polygon points="1023.5,52.9 1042.3,83.4 1023.1,113.1" fill="#26a293" /><line x1="1042.3" y1="83.4" x2="1079" y2="82.4" stroke="#17706a" stroke-width="0.8" /><polygon points="981.1,37.8 1023.5,52.9 1023.1,113.1 981.1,128.2 951.4,82.4" fill="#b97d4b" /><polygon points="951.4,82.4 981.1,37.8 996.3,80.4" fill="#b97d4b" /><polygon points="981.1,37.8 1023.5,52.9 996.3,80.4" fill="#c08454" /><polygon points="1023.5,52.9 1023.1,113.1 996.3,80.4" fill="#d39c66" /><polygon points="1023.1,113.1 981.1,128.2 996.3,80.4" fill="#b47848" /><polygon points="981.1,128.2 951.4,82.4 996.3,80.4" fill="#9e683d" /><line x1="996.3" y1="80.4" x2="981.1" y2="37.8" stroke="#8a4e1c" stroke-width="0.9" opacity="0.55"/><line x1="996.3" y1="80.4" x2="1023.5" y2="52.9" stroke="#8a4e1c" stroke-width="0.9" opacity="0.55"/><line x1="996.3" y1="80.4" x2="1023.1" y2="113.1" stroke="#8a4e1c" stroke-width="0.9" opacity="0.55"/><line x1="996.3" y1="80.4" x2="981.1" y2="128.2" stroke="#8a4e1c" stroke-width="0.9" opacity="0.55"/><line x1="996.3" y1="80.4" x2="951.4" y2="82.4" stroke="#8a4e1c" stroke-width="0.9" opacity="0.55"/><line x1="1023.5" y1="52.9" x2="1023.1" y2="113.1" stroke="#e0905a" stroke-width="1" opacity="0.7"/><line x1="951.4" y1="82.4" x2="1023.3" y2="82.4" stroke="#8a4e1c" stroke-width="0.8" opacity="0.45"/><polygon points="1151.4,52.9 1206.9,82.4 1170.2,83.4" fill="#2fb09f" /><polygon points="1170.2,83.4 1206.9,82.4 1151,113.1" fill="#1e8f83" /><polygon points="1151.4,52.9 1170.2,83.4 1151,113.1" fill="#26a293" /><line x1="1170.2" y1="83.4" x2="1206.9" y2="82.4" stroke="#17706a" stroke-width="0.8" /><polygon points="1109,37.8 1151.4,52.9 1151,113.1 1109,128.2 1079.3,82.4" fill="#d0701f" /><polygon points="1079.3,82.4 1109,37.8 1124.2,80.4" fill="#d0701f" /><polygon points="1109,37.8 1151.4,52.9 1124.2,80.4" fill="#e08534" /><polygon points="1151.4,52.9 1151,113.1 1124.2,80.4" fill="#e48c3a" /><polygon points="1151,113.1 1109,128.2 1124.2,80.4" fill="#c8661c" /><polygon points="1109,128.2 1079.3,82.4 1124.2,80.4" fill="#b85a16" /><polygon points="1151.4,52.9 1170.2,82.4 1124.2,80.4" fill="#e08534" opacity="0.8"/><polygon points="1170.2,82.4 1151,113.1 1124.2,80.4" fill="#c8661c" opacity="0.8"/><line x1="1124.2" y1="80.4" x2="1170.2" y2="82.4" stroke="#8a4e1c" stroke-width="0.9" opacity="0.55"/><line x1="1124.2" y1="80.4" x2="1109" y2="37.8" stroke="#8a4e1c" stroke-width="0.9" opacity="0.55"/><line x1="1124.2" y1="80.4" x2="1151.4" y2="52.9" stroke="#8a4e1c" stroke-width="0.9" opacity="0.55"/><line x1="1124.2" y1="80.4" x2="1151" y2="113.1" stroke="#8a4e1c" stroke-width="0.9" opacity="0.55"/><line x1="1124.2" y1="80.4" x2="1109" y2="128.2" stroke="#8a4e1c" stroke-width="0.9" opacity="0.55"/><line x1="1124.2" y1="80.4" x2="1079.3" y2="82.4" stroke="#8a4e1c" stroke-width="0.9" opacity="0.55"/><line x1="1151.4" y1="52.9" x2="1151" y2="113.1" stroke="#e0905a" stroke-width="1" opacity="0.7"/><line x1="1079.3" y1="82.4" x2="1151.2" y2="82.4" stroke="#8a4e1c" stroke-width="0.8" opacity="0.45"/><polygon points="1279.3,52.9 1334.8,82.4 1298.1,83.4" fill="#2fb09f" /><polygon points="1298.1,83.4 1334.8,82.4 1278.9,113.1" fill="#1e8f83" /><polygon points="1279.3,52.9 1298.1,83.4 1278.9,113.1" fill="#26a293" /><line x1="1298.1" y1="83.4" x2="1334.8" y2="82.4" stroke="#17706a" stroke-width="0.8" /><polygon points="1236.9,37.8 1279.3,52.9 1278.9,113.1 1236.9,128.2 1207.2,82.4" fill="#b97d4b" /><polygon points="1207.2,82.4 1236.9,37.8 1252.1,80.4" fill="#b97d4b" /><polygon points="1236.9,37.8 1279.3,52.9 1252.1,80.4" fill="#c08454" /><polygon points="1279.3,52.9 1278.9,113.1 1252.1,80.4" fill="#d39c66" /><polygon points="1278.9,113.1 1236.9,128.2 1252.1,80.4" fill="#b47848" /><polygon points="1236.9,128.2 1207.2,82.4 1252.1,80.4" fill="#9e683d" /><line x1="1252.1" y1="80.4" x2="1236.9" y2="37.8" stroke="#8a4e1c" stroke-width="0.9" opacity="0.55"/><line x1="1252.1" y1="80.4" x2="1279.3" y2="52.9" stroke="#8a4e1c" stroke-width="0.9" opacity="0.55"/><line x1="1252.1" y1="80.4" x2="1278.9" y2="113.1" stroke="#8a4e1c" stroke-width="0.9" opacity="0.55"/><line x1="1252.1" y1="80.4" x2="1236.9" y2="128.2" stroke="#8a4e1c" stroke-width="0.9" opacity="0.55"/><line x1="1252.1" y1="80.4" x2="1207.2" y2="82.4" stroke="#8a4e1c" stroke-width="0.9" opacity="0.55"/><line x1="1279.3" y1="52.9" x2="1278.9" y2="113.1" stroke="#e0905a" stroke-width="1" opacity="0.7"/><line x1="1207.2" y1="82.4" x2="1279.1" y2="82.4" stroke="#8a4e1c" stroke-width="0.8" opacity="0.45"/><polygon points="980.9,128.2 925.4,157.7 962.1,158.7" fill="#2fb09f" /><polygon points="962.1,158.7 925.4,157.7 981.3,188.4" fill="#1e8f83" /><polygon points="980.9,128.2 962.1,158.7 981.3,188.4" fill="#26a293" /><line x1="962.1" y1="158.7" x2="925.4" y2="157.7" stroke="#17706a" stroke-width="0.8" /><polygon points="1023.3,113.1 980.9,128.2 981.3,188.4 1023.3,203.5 1053,157.7" fill="#d0701f" /><polygon points="1053,157.7 1023.3,113.1 1008.1,155.7" fill="#d0701f" /><polygon points="1023.3,113.1 980.9,128.2 1008.1,155.7" fill="#e08534" /><polygon points="980.9,128.2 981.3,188.4 1008.1,155.7" fill="#e48c3a" /><polygon points="981.3,188.4 1023.3,203.5 1008.1,155.7" fill="#c8661c" /><polygon points="1023.3,203.5 1053,157.7 1008.1,155.7" fill="#b85a16" /><polygon points="980.9,128.2 962.1,157.7 1008.1,155.7" fill="#e08534" opacity="0.8"/><polygon points="962.1,157.7 981.3,188.4 1008.1,155.7" fill="#c8661c" opacity="0.8"/><line x1="1008.1" y1="155.7" x2="962.1" y2="157.7" stroke="#8a4e1c" stroke-width="0.9" opacity="0.55"/><line x1="1008.1" y1="155.7" x2="1023.3" y2="113.1" stroke="#8a4e1c" stroke-width="0.9" opacity="0.55"/><line x1="1008.1" y1="155.7" x2="980.9" y2="128.2" stroke="#8a4e1c" stroke-width="0.9" opacity="0.55"/><line x1="1008.1" y1="155.7" x2="981.3" y2="188.4" stroke="#8a4e1c" stroke-width="0.9" opacity="0.55"/><line x1="1008.1" y1="155.7" x2="1023.3" y2="203.5" stroke="#8a4e1c" stroke-width="0.9" opacity="0.55"/><line x1="1008.1" y1="155.7" x2="1053" y2="157.7" stroke="#8a4e1c" stroke-width="0.9" opacity="0.55"/><line x1="980.9" y1="128.2" x2="981.3" y2="188.4" stroke="#e0905a" stroke-width="1" opacity="0.7"/><line x1="1053" y1="157.7" x2="981.1" y2="157.7" stroke="#8a4e1c" stroke-width="0.8" opacity="0.45"/><polygon points="1108.8,128.2 1053.3,157.7 1090,158.7" fill="#2fb09f" /><polygon points="1090,158.7 1053.3,157.7 1109.2,188.4" fill="#1e8f83" /><polygon points="1108.8,128.2 1090,158.7 1109.2,188.4" fill="#26a293" /><line x1="1090" y1="158.7" x2="1053.3" y2="157.7" stroke="#17706a" stroke-width="0.8" /><polygon points="1151.2,113.1 1108.8,128.2 1109.2,188.4 1151.2,203.5 1180.9,157.7" fill="#b97d4b" /><polygon points="1180.9,157.7 1151.2,113.1 1136,155.7" fill="#b97d4b" /><polygon points="1151.2,113.1 1108.8,128.2 1136,155.7" fill="#c08454" /><polygon points="1108.8,128.2 1109.2,188.4 1136,155.7" fill="#d39c66" /><polygon points="1109.2,188.4 1151.2,203.5 1136,155.7" fill="#b47848" /><polygon points="1151.2,203.5 1180.9,157.7 1136,155.7" fill="#9e683d" /><line x1="1136" y1="155.7" x2="1151.2" y2="113.1" stroke="#8a4e1c" stroke-width="0.9" opacity="0.55"/><line x1="1136" y1="155.7" x2="1108.8" y2="128.2" stroke="#8a4e1c" stroke-width="0.9" opacity="0.55"/><line x1="1136" y1="155.7" x2="1109.2" y2="188.4" stroke="#8a4e1c" stroke-width="0.9" opacity="0.55"/><line x1="1136" y1="155.7" x2="1151.2" y2="203.5" stroke="#8a4e1c" stroke-width="0.9" opacity="0.55"/><line x1="1136" y1="155.7" x2="1180.9" y2="157.7" stroke="#8a4e1c" stroke-width="0.9" opacity="0.55"/><line x1="1108.8" y1="128.2" x2="1109.2" y2="188.4" stroke="#e0905a" stroke-width="1" opacity="0.7"/><line x1="1180.9" y1="157.7" x2="1109" y2="157.7" stroke="#8a4e1c" stroke-width="0.8" opacity="0.45"/><polygon points="1236.7,128.2 1181.2,157.7 1217.9,158.7" fill="#2fb09f" /><polygon points="1217.9,158.7 1181.2,157.7 1237.1,188.4" fill="#1e8f83" /><polygon points="1236.7,128.2 1217.9,158.7 1237.1,188.4" fill="#26a293" /><line x1="1217.9" y1="158.7" x2="1181.2" y2="157.7" stroke="#17706a" stroke-width="0.8" /><polygon points="1279.1,113.1 1236.7,128.2 1237.1,188.4 1279.1,203.5 1308.8,157.7" fill="#d0701f" /><polygon points="1308.8,157.7 1279.1,113.1 1263.9,155.7" fill="#d0701f" /><polygon points="1279.1,113.1 1236.7,128.2 1263.9,155.7" fill="#e08534" /><polygon points="1236.7,128.2 1237.1,188.4 1263.9,155.7" fill="#e48c3a" /><polygon points="1237.1,188.4 1279.1,203.5 1263.9,155.7" fill="#c8661c" /><polygon points="1279.1,203.5 1308.8,157.7 1263.9,155.7" fill="#b85a16" /><polygon points="1236.7,128.2 1217.9,157.7 1263.9,155.7" fill="#e08534" opacity="0.8"/><polygon points="1217.9,157.7 1237.1,188.4 1263.9,155.7" fill="#c8661c" opacity="0.8"/><line x1="1263.9" y1="155.7" x2="1217.9" y2="157.7" stroke="#8a4e1c" stroke-width="0.9" opacity="0.55"/><line x1="1263.9" y1="155.7" x2="1279.1" y2="113.1" stroke="#8a4e1c" stroke-width="0.9" opacity="0.55"/><line x1="1263.9" y1="155.7" x2="1236.7" y2="128.2" stroke="#8a4e1c" stroke-width="0.9" opacity="0.55"/><line x1="1263.9" y1="155.7" x2="1237.1" y2="188.4" stroke="#8a4e1c" stroke-width="0.9" opacity="0.55"/><line x1="1263.9" y1="155.7" x2="1279.1" y2="203.5" stroke="#8a4e1c" stroke-width="0.9" opacity="0.55"/><line x1="1263.9" y1="155.7" x2="1308.8" y2="157.7" stroke="#8a4e1c" stroke-width="0.9" opacity="0.55"/><line x1="1236.7" y1="128.2" x2="1237.1" y2="188.4" stroke="#e0905a" stroke-width="1" opacity="0.7"/><line x1="1308.8" y1="157.7" x2="1236.9" y2="157.7" stroke="#8a4e1c" stroke-width="0.8" opacity="0.45"/><polygon points="1023.5,203.5 1079,233 1042.3,234" fill="#2fb09f" /><polygon points="1042.3,234 1079,233 1023.1,263.7" fill="#1e8f83" /><polygon points="1023.5,203.5 1042.3,234 1023.1,263.7" fill="#26a293" /><line x1="1042.3" y1="234" x2="1079" y2="233" stroke="#17706a" stroke-width="0.8" /><polygon points="981.1,188.4 1023.5,203.5 1023.1,263.7 981.1,278.8 951.4,233" fill="#b97d4b" /><polygon points="951.4,233 981.1,188.4 996.3,231" fill="#b97d4b" /><polygon points="981.1,188.4 1023.5,203.5 996.3,231" fill="#c08454" /><polygon points="1023.5,203.5 1023.1,263.7 996.3,231" fill="#d39c66" /><polygon points="1023.1,263.7 981.1,278.8 996.3,231" fill="#b47848" /><polygon points="981.1,278.8 951.4,233 996.3,231" fill="#9e683d" /><line x1="996.3" y1="231" x2="981.1" y2="188.4" stroke="#8a4e1c" stroke-width="0.9" opacity="0.55"/><line x1="996.3" y1="231" x2="1023.5" y2="203.5" stroke="#8a4e1c" stroke-width="0.9" opacity="0.55"/><line x1="996.3" y1="231" x2="1023.1" y2="263.7" stroke="#8a4e1c" stroke-width="0.9" opacity="0.55"/><line x1="996.3" y1="231" x2="981.1" y2="278.8" stroke="#8a4e1c" stroke-width="0.9" opacity="0.55"/><line x1="996.3" y1="231" x2="951.4" y2="233" stroke="#8a4e1c" stroke-width="0.9" opacity="0.55"/><line x1="1023.5" y1="203.5" x2="1023.1" y2="263.7" stroke="#e0905a" stroke-width="1" opacity="0.7"/><line x1="951.4" y1="233" x2="1023.3" y2="233" stroke="#8a4e1c" stroke-width="0.8" opacity="0.45"/><polygon points="1151.4,203.5 1206.9,233 1170.2,234" fill="#2fb09f" /><polygon points="1170.2,234 1206.9,233 1151,263.7" fill="#1e8f83" /><polygon points="1151.4,203.5 1170.2,234 1151,263.7" fill="#26a293" /><line x1="1170.2" y1="234" x2="1206.9" y2="233" stroke="#17706a" stroke-width="0.8" /><polygon points="1109,188.4 1151.4,203.5 1151,263.7 1109,278.8 1079.3,233" fill="#d0701f" /><polygon points="1079.3,233 1109,188.4 1124.2,231" fill="#d0701f" /><polygon points="1109,188.4 1151.4,203.5 1124.2,231" fill="#e08534" /><polygon points="1151.4,203.5 1151,263.7 1124.2,231" fill="#e48c3a" /><polygon points="1151,263.7 1109,278.8 1124.2,231" fill="#c8661c" /><polygon points="1109,278.8 1079.3,233 1124.2,231" fill="#b85a16" /><polygon points="1151.4,203.5 1170.2,233 1124.2,231" fill="#e08534" opacity="0.8"/><polygon points="1170.2,233 1151,263.7 1124.2,231" fill="#c8661c" opacity="0.8"/><line x1="1124.2" y1="231" x2="1170.2" y2="233" stroke="#8a4e1c" stroke-width="0.9" opacity="0.55"/><line x1="1124.2" y1="231" x2="1109" y2="188.4" stroke="#8a4e1c" stroke-width="0.9" opacity="0.55"/><line x1="1124.2" y1="231" x2="1151.4" y2="203.5" stroke="#8a4e1c" stroke-width="0.9" opacity="0.55"/><line x1="1124.2" y1="231" x2="1151" y2="263.7" stroke="#8a4e1c" stroke-width="0.9" opacity="0.55"/><line x1="1124.2" y1="231" x2="1109" y2="278.8" stroke="#8a4e1c" stroke-width="0.9" opacity="0.55"/><line x1="1124.2" y1="231" x2="1079.3" y2="233" stroke="#8a4e1c" stroke-width="0.9" opacity="0.55"/><line x1="1151.4" y1="203.5" x2="1151" y2="263.7" stroke="#e0905a" stroke-width="1" opacity="0.7"/><line x1="1079.3" y1="233" x2="1151.2" y2="233" stroke="#8a4e1c" stroke-width="0.8" opacity="0.45"/><polygon points="1279.3,203.5 1334.8,233 1298.1,234" fill="#2fb09f" /><polygon points="1298.1,234 1334.8,233 1278.9,263.7" fill="#1e8f83" /><polygon points="1279.3,203.5 1298.1,234 1278.9,263.7" fill="#26a293" /><line x1="1298.1" y1="234" x2="1334.8" y2="233" stroke="#17706a" stroke-width="0.8" /><polygon points="1236.9,188.4 1279.3,203.5 1278.9,263.7 1236.9,278.8 1207.2,233" fill="#b97d4b" /><polygon points="1207.2,233 1236.9,188.4 1252.1,231" fill="#b97d4b" /><polygon points="1236.9,188.4 1279.3,203.5 1252.1,231" fill="#c08454" /><polygon points="1279.3,203.5 1278.9,263.7 1252.1,231" fill="#d39c66" /><polygon points="1278.9,263.7 1236.9,278.8 1252.1,231" fill="#b47848" /><polygon points="1236.9,278.8 1207.2,233 1252.1,231" fill="#9e683d" /><line x1="1252.1" y1="231" x2="1236.9" y2="188.4" stroke="#8a4e1c" stroke-width="0.9" opacity="0.55"/><line x1="1252.1" y1="231" x2="1279.3" y2="203.5" stroke="#8a4e1c" stroke-width="0.9" opacity="0.55"/><line x1="1252.1" y1="231" x2="1278.9" y2="263.7" stroke="#8a4e1c" stroke-width="0.9" opacity="0.55"/><line x1="1252.1" y1="231" x2="1236.9" y2="278.8" stroke="#8a4e1c" stroke-width="0.9" opacity="0.55"/><line x1="1252.1" y1="231" x2="1207.2" y2="233" stroke="#8a4e1c" stroke-width="0.9" opacity="0.55"/><line x1="1279.3" y1="203.5" x2="1278.9" y2="263.7" stroke="#e0905a" stroke-width="1" opacity="0.7"/><line x1="1207.2" y1="233" x2="1279.1" y2="233" stroke="#8a4e1c" stroke-width="0.8" opacity="0.45"/><circle cx="993.3" cy="82.4" r="8.5" fill="url(#gFe)" opacity="0.75"/><circle cx="1121.2" cy="82.4" r="8.5" fill="url(#gFe)" opacity="0.75"/><circle cx="1249.1" cy="82.4" r="8.5" fill="url(#gFe)" opacity="0.75"/><circle cx="1011.1" cy="157.7" r="8.5" fill="url(#gFe)" opacity="0.75"/><circle cx="1139" cy="157.7" r="8.5" fill="url(#gFe)" opacity="0.75"/><circle cx="1266.9" cy="157.7" r="8.5" fill="url(#gFe)" opacity="0.75"/><circle cx="993.3" cy="233" r="8.5" fill="url(#gFe)" opacity="0.75"/><circle cx="1121.2" cy="233" r="8.5" fill="url(#gFe)" opacity="0.75"/><circle cx="1249.1" cy="233" r="8.5" fill="url(#gFe)" opacity="0.75"/><circle cx="981.1" cy="37.8" r="4.7" fill="url(#gO)" /><circle cx="1023.5" cy="52.9" r="4.7" fill="url(#gO)" /><circle cx="951.4" cy="82.4" r="4.7" fill="url(#gO)" /><circle cx="1023.1" cy="113.1" r="4.7" fill="url(#gO)" /><circle cx="981.1" cy="128.2" r="4.7" fill="url(#gO)" /><circle cx="1042.3" cy="83.4" r="4.7" fill="url(#gO)" /><circle cx="1079" cy="82.4" r="4.7" fill="url(#gO)" /><circle cx="1109" cy="37.8" r="4.7" fill="url(#gO)" /><circle cx="1151.4" cy="52.9" r="4.7" fill="url(#gO)" /><circle cx="1151" cy="113.1" r="4.7" fill="url(#gO)" /><circle cx="1109" cy="128.2" r="4.7" fill="url(#gO)" /><circle cx="1170.2" cy="83.4" r="4.7" fill="url(#gO)" /><circle cx="1206.9" cy="82.4" r="4.7" fill="url(#gO)" /><circle cx="1236.9" cy="37.8" r="4.7" fill="url(#gO)" /><circle cx="1279.3" cy="52.9" r="4.7" fill="url(#gO)" /><circle cx="1278.9" cy="113.1" r="4.7" fill="url(#gO)" /><circle cx="1236.9" cy="128.2" r="4.7" fill="url(#gO)" /><circle cx="1298.1" cy="83.4" r="4.7" fill="url(#gO)" /><circle cx="1334.8" cy="82.4" r="4.7" fill="url(#gO)" /><circle cx="1053" cy="157.7" r="4.7" fill="url(#gO)" /><circle cx="981.3" cy="188.4" r="4.7" fill="url(#gO)" /><circle cx="1023.3" cy="203.5" r="4.7" fill="url(#gO)" /><circle cx="962.1" cy="158.7" r="4.7" fill="url(#gO)" /><circle cx="925.4" cy="157.7" r="4.7" fill="url(#gO)" /><circle cx="1180.9" cy="157.7" r="4.7" fill="url(#gO)" /><circle cx="1109.2" cy="188.4" r="4.7" fill="url(#gO)" /><circle cx="1151.2" cy="203.5" r="4.7" fill="url(#gO)" /><circle cx="1090" cy="158.7" r="4.7" fill="url(#gO)" /><circle cx="1308.8" cy="157.7" r="4.7" fill="url(#gO)" /><circle cx="1237.1" cy="188.4" r="4.7" fill="url(#gO)" /><circle cx="1279.1" cy="203.5" r="4.7" fill="url(#gO)" /><circle cx="1217.9" cy="158.7" r="4.7" fill="url(#gO)" /><circle cx="1023.5" cy="203.5" r="4.7" fill="url(#gO)" /><circle cx="951.4" cy="233" r="4.7" fill="url(#gO)" /><circle cx="1023.1" cy="263.7" r="4.7" fill="url(#gO)" /><circle cx="981.1" cy="278.8" r="4.7" fill="url(#gO)" /><circle cx="1042.3" cy="234" r="4.7" fill="url(#gO)" /><circle cx="1079" cy="233" r="4.7" fill="url(#gO)" /><circle cx="1151" cy="263.7" r="4.7" fill="url(#gO)" /><circle cx="1109" cy="278.8" r="4.7" fill="url(#gO)" /><circle cx="1170.2" cy="234" r="4.7" fill="url(#gO)" /><circle cx="1206.9" cy="233" r="4.7" fill="url(#gO)" /><circle cx="1278.9" cy="263.7" r="4.7" fill="url(#gO)" /><circle cx="1236.9" cy="278.8" r="4.7" fill="url(#gO)" /><circle cx="1298.1" cy="234" r="4.7" fill="url(#gO)" /><circle cx="1334.8" cy="233" r="4.7" fill="url(#gO)" /><circle cx="938.3" cy="45.4" r="5.8" fill="url(#gLi)" /><circle cx="1066.3" cy="45.4" r="5.8" fill="url(#gLi)" /><circle cx="1194.3" cy="45.4" r="5.8" fill="url(#gLi)" /><circle cx="1322.3" cy="45.4" r="5.8" fill="url(#gLi)" /><circle cx="938.3" cy="120.4" r="5.8" fill="url(#gLi)" /><circle cx="1066.3" cy="120.4" r="5.8" fill="url(#gLi)" /><circle cx="1194.3" cy="120.4" r="5.8" fill="url(#gLi)" /><circle cx="1322.3" cy="120.4" r="5.8" fill="url(#gLi)" /><circle cx="938.3" cy="195.4" r="5.8" fill="url(#gLi)" /><circle cx="1066.3" cy="195.4" r="5.8" fill="url(#gLi)" /><circle cx="1194.3" cy="195.4" r="5.8" fill="url(#gLi)" /><circle cx="1322.3" cy="195.4" r="5.8" fill="url(#gLi)" /><circle cx="938.3" cy="270.4" r="5.8" fill="url(#gLi)" /><circle cx="1066.3" cy="270.4" r="5.8" fill="url(#gLi)" /><circle cx="1194.3" cy="270.4" r="5.8" fill="url(#gLi)" /><circle cx="1322.3" cy="270.4" r="5.8" fill="url(#gLi)" /><circle cx="207.1" cy="195.4" r="9.4" fill="url(#gFeS)" /><circle cx="262.7" cy="232.7" r="7.5" fill="#e07a30" opacity="0.8"/><circle cx="262.7" cy="232.7" r="4.8" fill="url(#gLi)" /><line x1="220" y1="203" x2="238" y2="211" stroke="#e8e0d8" stroke-width="2.6" opacity="0.8"/><line x1="236" y1="220" x2="252" y2="226" stroke="#c8d8ea" stroke-width="3.2" opacity="0.9"/><polygon points="255,228 244,219 247,229" fill="#c8d8ea" /><line x1="179.3" y1="286.7" x2="203" y2="213" stroke="#111" stroke-width="2.2" stroke-dasharray="7 5"/><polyline points="197,222 203.5,211.5 207,224" fill="none" stroke="#111" stroke-width="2.2" /><line x1="250.8" y1="283.9" x2="258.5" y2="248" stroke="#111" stroke-width="2.2" stroke-dasharray="7 5"/><polyline points="253,256 259,247 263,258" fill="none" stroke="#111" stroke-width="2.2" /><text x="113.5" y="89" font-size="17.5" font-weight="bold" text-anchor="start" fill="#1a1a1a" >FeO<tspan dy="4" font-size="12">6</tspan></text><text x="213" y="165.3" font-size="17.5" font-weight="bold" text-anchor="start" fill="#1a1a1a" >PO<tspan dy="4" font-size="12">4</tspan></text><text x="70.5" y="319.5" font-size="17.9" font-weight="bold" text-anchor="start" fill="#111" >Fe substitute</text><text x="200" y="319.5" font-size="17.8" font-weight="bold" text-anchor="start" fill="#111" >Li substitute</text><circle cx="335.4" cy="313" r="9" fill="none" stroke="#3f8fd6" stroke-width="1.8" stroke-dasharray="4.5 3"/><text x="355" y="319.5" font-size="17.8" font-weight="bold" text-anchor="start" fill="#2f86d0" >Li vacancy</text><text x="485.8" y="273.5" font-size="16" font-weight="bold" text-anchor="start" fill="#111" >[010]</text><line x1="505" y1="312" x2="505" y2="285" stroke="#111" stroke-width="1.6" /><polygon points="505,280 501,288 509,288" fill="#111" /><line x1="505" y1="312" x2="534" y2="312" stroke="#111" stroke-width="1.6" /><polygon points="540,312 532,308 532,316" fill="#111" /><text x="543.2" y="318" font-size="16" font-weight="bold" text-anchor="start" fill="#111" >[100]</text><polygon points="508.5,139.5 518.5,125.5 526,138.5 522,145" fill="#a85a1e" /><polygon points="518.5,125.5 526,138.5 522,145" fill="#c0702a" /><text x="530" y="137.5" font-size="8.8" font-weight="bold" text-anchor="start" fill="#666" >Fe</text><circle cx="517.2" cy="155.4" r="7.4" fill="url(#gLiL)" /><text x="530" y="158.5" font-size="8.8" font-weight="bold" text-anchor="start" fill="#666" >Li</text><circle cx="516.8" cy="176.4" r="7.4" fill="url(#gO)" /><text x="530" y="179.5" font-size="8.8" font-weight="bold" text-anchor="start" fill="#666" >O</text><polygon points="508.5,202.5 518.5,189.5 526,201.5 522,208" fill="#1c8a7e" /><polygon points="518.5,189.5 526,201.5 522,208" fill="#28a090" /><text x="530" y="200.5" font-size="8.8" font-weight="bold" text-anchor="start" fill="#666" >P</text><text x="730.2" y="79" font-size="25" font-weight="bold" text-anchor="middle" fill="#111" >Compositional restoration</text><text x="721.5" y="153.2" font-size="28.2" font-weight="bold" text-anchor="middle" fill="#111" >Direct</text><text x="723.3" y="187.3" font-size="28.2" font-weight="bold" text-anchor="middle" fill="#111" >regeneration</text><text x="729.8" y="270.1" font-size="25" font-weight="bold" text-anchor="middle" fill="#111" >Structural restoration</text><path d="M581,161 C581,125 630,102 712,101 C655,106 598,128 597,161 Z" fill="url(#gRedA)"/><path d="M581,167 C581,203 630,226 712,227 C655,222 598,200 597,167 Z" fill="url(#gRedA)"/><path d="M728,101 C785,101 830,115 848,141 L861.6,146.8 L849,161.8 L828,145 L838,144 C822,124 785,108 728,101 Z" fill="url(#gBlueA)"/><path d="M728,227 C785,227 830,213 848,187 L861.6,184 L847.3,169.7 L828,185 L838,184 C822,204 785,220 728,227 Z" fill="url(#gBlueA)"/><text x="1008.7" y="318.5" font-size="21.9" font-weight="bold" text-anchor="start" fill="#111" >LiFePO<tspan dy="5" font-size="15">4</tspan><tspan dy="-5"> crystal structure</tspan></text><text x="30" y="376.5" font-size="37.5" font-weight="bold" text-anchor="start" fill="#000" >b</text><rect x="78.6" y="383.8" width="171" height="18" fill="url(#gBarB)" /><rect x="249.6" y="383.8" width="171" height="18" fill="url(#gBarR)" /><text x="73.6" y="399.3" font-size="18.5" font-weight="bold" text-anchor="end" fill="#111" >1.07</text><text x="424.6" y="399.3" font-size="18.5" font-weight="bold" text-anchor="start" fill="#111" >1.07</text><text x="262.4" y="376.3" font-size="18.2" font-weight="normal" text-anchor="start" fill="#222" >C-LFP</text><rect x="88.2" y="443.9" width="161.4" height="18" fill="url(#gBarB)" /><rect x="249.6" y="443.9" width="171" height="18" fill="url(#gBarR)" /><text x="83.2" y="459.4" font-size="18.5" font-weight="bold" text-anchor="end" fill="#111" >1.01</text><text x="424.6" y="459.4" font-size="18.5" font-weight="bold" text-anchor="start" fill="#111" >1.07</text><text x="262.4" y="436.4" font-size="18.2" font-weight="normal" text-anchor="start" fill="#222" >R-LFP-Li<tspan dy="4" font-size="13">2</tspan><tspan dy="-4">DHBN</tspan></text><rect x="77" y="504" width="172.6" height="18" fill="url(#gBarB)" /><rect x="249.6" y="504" width="174.2" height="18" fill="url(#gBarR)" /><text x="72" y="519.5" font-size="18.5" font-weight="bold" text-anchor="end" fill="#111" >1.08</text><text x="427.8" y="519.5" font-size="18.5" font-weight="bold" text-anchor="start" fill="#111" >1.09</text><text x="262.4" y="496.5" font-size="18.2" font-weight="normal" text-anchor="start" fill="#222" >R-LFP-Li<tspan dy="4" font-size="13">2</tspan><tspan dy="-4">CO</tspan><tspan dy="4" font-size="13">3</tspan></text><rect x="77" y="564.1" width="172.6" height="18" fill="url(#gBarB)" /><rect x="249.6" y="564.1" width="177.4" height="18" fill="url(#gBarR)" /><text x="72" y="579.6" font-size="18.5" font-weight="bold" text-anchor="end" fill="#111" >1.08</text><text x="431" y="579.6" font-size="18.5" font-weight="bold" text-anchor="start" fill="#111" >1.11</text><text x="262.4" y="556.6" font-size="18.2" font-weight="normal" text-anchor="start" fill="#222" >R-LFP-LiOH</text><rect x="102.6" y="624.2" width="147" height="18" fill="url(#gBarB)" /><rect x="249.6" y="624.2" width="156.6" height="18" fill="url(#gBarR)" /><text x="97.6" y="639.7" font-size="18.5" font-weight="bold" text-anchor="end" fill="#111" >0.92</text><text x="410.2" y="639.7" font-size="18.5" font-weight="bold" text-anchor="start" fill="#111" >0.98</text><text x="262.4" y="616.7" font-size="18.2" font-weight="normal" text-anchor="start" fill="#222" >S-LFP</text><line x1="103" y1="380" x2="103" y2="640" stroke="#333" stroke-width="1.1" stroke-dasharray="4.5 4"/><line x1="406.2" y1="380" x2="406.2" y2="640" stroke="#333" stroke-width="1.1" stroke-dasharray="4.5 4"/><line x1="249.6" y1="362" x2="249.6" y2="662" stroke="#333" stroke-width="1.1" /><line x1="59.5" y1="661.5" x2="440.6" y2="661.5" stroke="#333" stroke-width="1.2" /><line x1="89.8" y1="661.5" x2="89.8" y2="665" stroke="#333" stroke-width="1" /><line x1="129.8" y1="661.5" x2="129.8" y2="664" stroke="#333" stroke-width="1" /><line x1="169.7" y1="661.5" x2="169.7" y2="665" stroke="#333" stroke-width="1" /><line x1="209.6" y1="661.5" x2="209.6" y2="664" stroke="#333" stroke-width="1" /><line x1="249.6" y1="661.5" x2="249.6" y2="665" stroke="#333" stroke-width="1" /><line x1="289.6" y1="661.5" x2="289.6" y2="664" stroke="#333" stroke-width="1" /><line x1="329.5" y1="661.5" x2="329.5" y2="665" stroke="#333" stroke-width="1" /><line x1="369.4" y1="661.5" x2="369.4" y2="664" stroke="#333" stroke-width="1" /><line x1="409.4" y1="661.5" x2="409.4" y2="665" stroke="#333" stroke-width="1" /><text x="89.8" y="687.4" font-size="18" font-weight="normal" text-anchor="middle" fill="#222" >1.0</text><text x="169.7" y="687.4" font-size="18" font-weight="normal" text-anchor="middle" fill="#222" >0.5</text><text x="249.6" y="687.4" font-size="18" font-weight="normal" text-anchor="middle" fill="#222" >0.0</text><text x="329.5" y="687.4" font-size="18" font-weight="normal" text-anchor="middle" fill="#222" >0.5</text><text x="409.4" y="687.4" font-size="18" font-weight="normal" text-anchor="middle" fill="#222" >1.0</text><text x="92.7" y="723.1" font-size="20.6" font-weight="normal" text-anchor="start" fill="#222" >Li/P molar ratio</text><text x="269" y="723.1" font-size="20.6" font-weight="normal" text-anchor="start" fill="#222" >Li/Fe molar ratio</text><text x="387.9" y="758.4" font-size="24" fill="#222">Temperature (<tspan font-family='"Liberation Sans", "Noto Sans CJK SC", sans-serif'>&#8451;</tspan>)</text><text x="481" y="374" font-size="37.5" font-weight="bold" text-anchor="start" fill="#000" >c</text><polygon points="599.9,419.2 600.4,419.2 600.9,419.2 601.4,419.2 601.9,419.2 602.4,419.2 602.9,419.2 603.4,419.1 603.9,419.1 604.4,419.1 604.9,419.1 605.3,419 605.8,419 606.3,419 606.8,418.9 607.3,418.9 607.8,418.8 608.3,418.8 608.8,418.7 609.3,418.6 609.8,418.6 610.3,418.5 610.8,418.4 611.3,418.3 611.8,418.3 612.3,418.2 612.8,418.1 613.3,418 613.8,417.9 614.3,417.8 614.8,417.6 615.3,417.5 615.8,417.4 616.3,417.3 616.8,417.1 617.2,417 617.7,416.9 618.2,416.7 618.7,416.6 619.2,416.4 619.7,416.3 620.2,416.1 620.7,416 621.2,415.8 621.7,415.6 622.2,415.5 622.7,415.3 623.2,415.1 623.7,415 624.2,414.8 624.7,414.6 625.2,414.5 625.7,414.3 626.2,414.1 626.7,414 627.2,413.8 627.7,413.6 628.2,413.5 628.6,413.3 629.1,413.2 629.6,413 630.1,412.9 630.6,412.7 631.1,412.6 631.6,412.5 632.1,412.4 632.6,412.3 633.1,412.2 633.6,412.1 634.1,412 634.6,411.9 635.1,411.8 635.6,411.8 636.1,411.7 636.6,411.7 637.1,411.7 637.6,411.6 638.1,411.6 638.6,411.6 639.1,411.7 639.6,411.7 640.1,411.7 640.5,411.8 641,411.8 641.5,411.9 642,412 642.5,412.1 643,412.2 643.5,412.3 644,412.4 644.5,412.6 645,412.7 645.5,412.9 646,413.1 646.5,413.3 647,413.4 647.5,413.7 648,413.9 648.5,414.1 649,414.3 649.5,414.5 650,414.8 650.5,415 651,415.3 651.5,415.6 651.9,415.8 652.4,416.1 652.9,416.4 653.4,416.7 653.9,417 654.4,417.3 654.9,417.5 655.4,417.8 655.9,418.1 656.4,418.4 656.9,418.8 657.4,419.1 657.9,419.4 658.4,419.7 658.9,420 659.4,420.3 659.9,420.6 660.4,420.9 660.9,421.2 661.4,421.5 661.9,421.8 662.4,422.1 662.9,422.4 663.4,422.7 663.8,423 664.3,423.3 664.8,423.6 665.3,423.9 665.8,424.2 666.3,424.5 666.8,424.8 667.3,425 667.8,425.3 668.3,425.6 668.8,425.9 669.3,426.1 669.8,426.4 670.3,426.7 670.8,426.9 671.3,427.2 671.8,427.4 672.3,427.7 672.8,428 673.3,428.2 673.8,428.5 674.3,428.7 674.8,429 675.2,429.2 675.7,429.4 676.2,429.7 676.7,429.9 677.2,430.2 677.7,430.4 678.2,430.6 678.7,430.9 679.2,431.1 679.7,431.3 680.2,431.6 680.7,431.8 681.2,432 681.2,432.4 680.7,432.2 680.2,432.1 679.7,431.9 679.2,431.7 678.7,431.5 678.2,431.3 677.7,431.1 677.2,430.9 676.7,430.7 676.2,430.6 675.7,430.4 675.2,430.2 674.8,430 674.3,429.9 673.8,429.7 673.3,429.5 672.8,429.4 672.3,429.2 671.8,429 671.3,428.9 670.8,428.7 670.3,428.6 669.8,428.4 669.3,428.3 668.8,428.1 668.3,428 667.8,427.8 667.3,427.7 666.8,427.5 666.3,427.4 665.8,427.3 665.3,427.1 664.8,427 664.3,426.9 663.8,426.8 663.4,426.6 662.9,426.5 662.4,426.4 661.9,426.3 661.4,426.2 660.9,426.1 660.4,425.9 659.9,425.8 659.4,425.7 658.9,425.6 658.4,425.5 657.9,425.4 657.4,425.3 656.9,425.2 656.4,425.1 655.9,425 655.4,424.9 654.9,424.8 654.4,424.8 653.9,424.7 653.4,424.6 652.9,424.5 652.4,424.4 651.9,424.3 651.5,424.2 651,424.2 650.5,424.1 650,424 649.5,423.9 649,423.9 648.5,423.8 648,423.7 647.5,423.6 647,423.6 646.5,423.5 646,423.4 645.5,423.4 645,423.3 644.5,423.2 644,423.2 643.5,423.1 643,423.1 642.5,423 642,422.9 641.5,422.9 641,422.8 640.5,422.8 640.1,422.7 639.6,422.7 639.1,422.6 638.6,422.6 638.1,422.5 637.6,422.4 637.1,422.4 636.6,422.3 636.1,422.3 635.6,422.2 635.1,422.2 634.6,422.2 634.1,422.1 633.6,422.1 633.1,422 632.6,422 632.1,421.9 631.6,421.9 631.1,421.8 630.6,421.8 630.1,421.7 629.6,421.7 629.1,421.7 628.6,421.6 628.2,421.6 627.7,421.5 627.2,421.5 626.7,421.5 626.2,421.4 625.7,421.4 625.2,421.3 624.7,421.3 624.2,421.3 623.7,421.2 623.2,421.2 622.7,421.1 622.2,421.1 621.7,421.1 621.2,421 620.7,421 620.2,421 619.7,420.9 619.2,420.9 618.7,420.9 618.2,420.8 617.7,420.8 617.2,420.8 616.8,420.7 616.3,420.7 615.8,420.7 615.3,420.6 614.8,420.6 614.3,420.6 613.8,420.5 613.3,420.5 612.8,420.5 612.3,420.4 611.8,420.4 611.3,420.4 610.8,420.3 610.3,420.3 609.8,420.3 609.3,420.2 608.8,420.2 608.3,420.2 607.8,420.1 607.3,420.1 606.8,420.1 606.3,420 605.8,420 605.3,420 604.9,419.9 604.4,419.9 603.9,419.9 603.4,419.9 602.9,419.8 602.4,419.8 601.9,419.8 601.4,419.7 600.9,419.7 600.4,419.7 599.9,419.6" fill="url(#cG)" /><polygon points="648,423.3 648.5,423.3 649,423.3 649.5,423.3 650,423.3 650.5,423.3 651,423.3 651.5,423.3 651.9,423.2 652.4,423.2 652.9,423.1 653.4,423.1 653.9,423 654.4,422.9 654.9,422.8 655.4,422.7 655.9,422.6 656.4,422.4 656.9,422.2 657.4,422.1 657.9,421.9 658.4,421.6 658.9,421.4 659.4,421.1 659.9,420.8 660.4,420.5 660.9,420.2 661.4,419.8 661.9,419.4 662.4,419 662.9,418.6 663.4,418.1 663.8,417.6 664.3,417.1 664.8,416.6 665.3,416 665.8,415.4 666.3,414.8 666.8,414.2 667.3,413.5 667.8,412.8 668.3,412.1 668.8,411.4 669.3,410.6 669.8,409.9 670.3,409.1 670.8,408.3 671.3,407.5 671.8,406.7 672.3,405.9 672.8,405.1 673.3,404.3 673.8,403.5 674.3,402.7 674.8,401.9 675.2,401.2 675.7,400.4 676.2,399.7 676.7,399 677.2,398.3 677.7,397.7 678.2,397.1 678.7,396.5 679.2,396 679.7,395.5 680.2,395.1 680.7,394.8 681.2,394.4 681.7,394.2 682.2,394 682.7,393.8 683.2,393.8 683.7,393.7 684.2,393.8 684.7,393.9 685.2,394.1 685.7,394.3 686.2,394.6 686.7,395 687.1,395.4 687.6,395.9 688.1,396.5 688.6,397.1 689.1,397.8 689.6,398.5 690.1,399.3 690.6,400.1 691.1,401 691.6,401.9 692.1,402.9 692.6,403.9 693.1,404.9 693.6,406 694.1,407 694.6,408.2 695.1,409.3 695.6,410.4 696.1,411.6 696.6,412.8 697.1,413.9 697.6,415.1 698.1,416.3 698.5,417.5 699,418.6 699.5,419.8 700,420.9 700.5,422.1 701,423.2 701.5,424.3 702,425.3 702.5,426.4 703,427.4 703.5,428.4 704,429.4 704.5,430.3 705,431.2 705.5,432.1 706,432.9 706.5,433.8 707,434.6 707.5,435.3 708,436 708.5,436.7 709,437.4 709.5,438 710,438.7 710.4,439.2 710.9,439.8 711.4,440.3 711.9,440.8 712.4,441.3 712.9,441.7 713.4,442.2 713.9,442.6 714.4,443 714.9,443.3 715.4,443.7 715.9,444 716.4,444.3 716.9,444.6 717.4,444.9 717.9,445.1 718.4,445.4 718.9,445.6 719.4,445.9 719.9,446.1 720.4,446.3 720.9,446.5 721.4,446.6 721.8,446.8 722.3,447 722.3,447.4 721.8,447.3 721.4,447.2 720.9,447.1 720.4,447 719.9,446.9 719.4,446.7 718.9,446.6 718.4,446.5 717.9,446.4 717.4,446.2 716.9,446.1 716.4,446 715.9,445.8 715.4,445.7 714.9,445.6 714.4,445.4 713.9,445.3 713.4,445.1 712.9,445 712.4,444.8 711.9,444.7 711.4,444.5 710.9,444.4 710.4,444.2 710,444.1 709.5,443.9 709,443.7 708.5,443.6 708,443.4 707.5,443.2 707,443.1 706.5,442.9 706,442.7 705.5,442.5 705,442.3 704.5,442.2 704,442 703.5,441.8 703,441.6 702.5,441.4 702,441.2 701.5,441 701,440.8 700.5,440.6 700,440.4 699.5,440.2 699,440 698.5,439.8 698.1,439.6 697.6,439.4 697.1,439.2 696.6,439 696.1,438.8 695.6,438.6 695.1,438.3 694.6,438.1 694.1,437.9 693.6,437.7 693.1,437.5 692.6,437.3 692.1,437.1 691.6,436.8 691.1,436.6 690.6,436.4 690.1,436.2 689.6,436 689.1,435.8 688.6,435.6 688.1,435.3 687.6,435.1 687.1,434.9 686.7,434.7 686.2,434.5 685.7,434.3 685.2,434.1 684.7,433.9 684.2,433.7 683.7,433.5 683.2,433.2 682.7,433 682.2,432.8 681.7,432.6 681.2,432.4 680.7,432.2 680.2,432.1 679.7,431.9 679.2,431.7 678.7,431.5 678.2,431.3 677.7,431.1 677.2,430.9 676.7,430.7 676.2,430.6 675.7,430.4 675.2,430.2 674.8,430 674.3,429.9 673.8,429.7 673.3,429.5 672.8,429.4 672.3,429.2 671.8,429 671.3,428.9 670.8,428.7 670.3,428.6 669.8,428.4 669.3,428.3 668.8,428.1 668.3,428 667.8,427.8 667.3,427.7 666.8,427.5 666.3,427.4 665.8,427.3 665.3,427.1 664.8,427 664.3,426.9 663.8,426.8 663.4,426.6 662.9,426.5 662.4,426.4 661.9,426.3 661.4,426.2 660.9,426.1 660.4,425.9 659.9,425.8 659.4,425.7 658.9,425.6 658.4,425.5 657.9,425.4 657.4,425.3 656.9,425.2 656.4,425.1 655.9,425 655.4,424.9 654.9,424.8 654.4,424.8 653.9,424.7 653.4,424.6 652.9,424.5 652.4,424.4 651.9,424.3 651.5,424.2 651,424.2 650.5,424.1 650,424 649.5,423.9 649,423.9 648.5,423.8 648,423.7" fill="url(#cP)" /><polygon points="717.4,445.8 717.9,445.9 718.4,446 718.9,446.1 719.4,446.2 719.9,446.3 720.4,446.3 720.9,446.4 721.4,446.5 721.8,446.5 722.3,446.6 722.8,446.6 723.3,446.6 723.8,446.7 724.3,446.7 724.8,446.7 725.3,446.7 725.8,446.7 726.3,446.7 726.8,446.7 727.3,446.7 727.8,446.7 728.3,446.7 728.8,446.6 729.3,446.6 729.8,446.5 730.3,446.5 730.8,446.4 731.3,446.3 731.8,446.2 732.3,446.1 732.8,446 733.3,445.9 733.7,445.8 734.2,445.6 734.7,445.5 735.2,445.3 735.7,445.2 736.2,445 736.7,444.8 737.2,444.6 737.7,444.4 738.2,444.2 738.7,443.9 739.2,443.7 739.7,443.4 740.2,443.2 740.7,442.9 741.2,442.6 741.7,442.3 742.2,442 742.7,441.7 743.2,441.3 743.7,441 744.2,440.6 744.7,440.3 745.1,439.9 745.6,439.5 746.1,439.1 746.6,438.7 747.1,438.3 747.6,437.8 748.1,437.4 748.6,437 749.1,436.5 749.6,436.1 750.1,435.6 750.6,435.1 751.1,434.7 751.6,434.2 752.1,433.7 752.6,433.2 753.1,432.7 753.6,432.2 754.1,431.7 754.6,431.2 755.1,430.7 755.6,430.2 756.1,429.7 756.6,429.2 757,428.7 757.5,428.3 758,427.8 758.5,427.3 759,426.8 759.5,426.4 760,425.9 760.5,425.5 761,425 761.5,424.6 762,424.2 762.5,423.8 763,423.4 763.5,423 764,422.7 764.5,422.3 765,422 765.5,421.7 766,421.4 766.5,421.1 767,420.9 767.5,420.7 768,420.5 768.4,420.3 768.9,420.1 769.4,419.9 769.9,419.8 770.4,419.7 770.9,419.6 771.4,419.6 771.9,419.5 772.4,419.5 772.9,419.6 773.4,419.6 773.9,419.7 774.4,419.7 774.9,419.9 775.4,420 775.9,420.2 776.4,420.3 776.9,420.5 777.4,420.8 777.9,421 778.4,421.3 778.9,421.6 779.4,421.9 779.9,422.3 780.3,422.6 780.8,423 781.3,423.4 781.8,423.8 782.3,424.3 782.8,424.7 783.3,425.2 783.8,425.7 784.3,426.2 784.8,426.7 785.3,427.3 785.8,427.8 786.3,428.4 786.8,428.9 787.3,429.5 787.8,430.1 788.3,430.7 788.8,431.3 789.3,431.9 789.8,432.6 790.3,433.2 790.8,433.8 791.3,434.5 791.7,435.1 792.2,435.8 792.7,436.4 793.2,437.1 793.7,437.7 794.2,438.4 794.7,439 795.2,439.7 795.7,440.3 796.2,441 796.7,441.6 797.2,442.3 797.7,442.9 798.2,443.6 798.7,444.2 799.2,444.8 799.7,445.5 800.2,446.1 800.7,446.7 801.2,447.3 801.7,447.9 802.2,448.5 802.7,449.1 803.2,449.7 803.6,450.3 804.1,450.9 804.6,451.4 805.1,452 805.6,452.6 806.1,453.1 806.6,453.7 807.1,454.2 807.6,454.7 808.1,455.3 808.6,455.8 809.1,456.3 809.6,456.8 810.1,457.3 810.6,457.8 811.1,458.3 811.6,458.8 812.1,459.3 812.6,459.7 813.1,460.2 813.6,460.7 814.1,461.1 814.6,461.6 815,462 815.5,462.5 816,462.9 816.5,463.4 817,463.8 817.5,464.2 818,464.7 818.5,465.1 819,465.5 819.5,465.9 820,466.3 820.5,466.7 821,467.1 821.5,467.5 822,467.9 822.5,468.3 823,468.7 823.5,469.1 824,469.5 824.5,469.9 825,470.2 825.5,470.6 826,471 826.5,471.3 826.9,471.7 827.4,472.1 827.9,472.4 828.4,472.8 828.9,473.1 829.4,473.5 829.4,473.9 828.9,473.6 828.4,473.2 827.9,472.9 827.4,472.6 826.9,472.3 826.5,472 826,471.7 825.5,471.4 825,471 824.5,470.7 824,470.4 823.5,470.1 823,469.8 822.5,469.5 822,469.2 821.5,468.8 821,468.5 820.5,468.2 820,467.9 819.5,467.6 819,467.3 818.5,467 818,466.7 817.5,466.4 817,466.1 816.5,465.8 816,465.6 815.5,465.3 815,465 814.6,464.7 814.1,464.4 813.6,464.2 813.1,463.9 812.6,463.6 812.1,463.4 811.6,463.1 811.1,462.9 810.6,462.6 810.1,462.4 809.6,462.2 809.1,461.9 808.6,461.7 808.1,461.5 807.6,461.3 807.1,461.1 806.6,460.8 806.1,460.6 805.6,460.4 805.1,460.2 804.6,460 804.1,459.9 803.6,459.7 803.2,459.5 802.7,459.3 802.2,459.1 801.7,459 801.2,458.8 800.7,458.6 800.2,458.5 799.7,458.3 799.2,458.2 798.7,458 798.2,457.9 797.7,457.7 797.2,457.6 796.7,457.5 796.2,457.3 795.7,457.2 795.2,457.1 794.7,457 794.2,456.8 793.7,456.7 793.2,456.6 792.7,456.5 792.2,456.4 791.7,456.3 791.3,456.2 790.8,456.1 790.3,456 789.8,455.9 789.3,455.8 788.8,455.7 788.3,455.6 787.8,455.5 787.3,455.4 786.8,455.4 786.3,455.3 785.8,455.2 785.3,455.1 784.8,455 784.3,455 783.8,454.9 783.3,454.8 782.8,454.7 782.3,454.7 781.8,454.6 781.3,454.5 780.8,454.5 780.3,454.4 779.9,454.3 779.4,454.3 778.9,454.2 778.4,454.2 777.9,454.1 777.4,454 776.9,454 776.4,453.9 775.9,453.9 775.4,453.8 774.9,453.8 774.4,453.7 773.9,453.6 773.4,453.6 772.9,453.5 772.4,453.5 771.9,453.4 771.4,453.4 770.9,453.3 770.4,453.3 769.9,453.2 769.4,453.2 768.9,453.1 768.4,453.1 768,453.1 767.5,453 767,453 766.5,452.9 766,452.9 765.5,452.8 765,452.8 764.5,452.7 764,452.7 763.5,452.6 763,452.6 762.5,452.6 762,452.5 761.5,452.5 761,452.4 760.5,452.4 760,452.3 759.5,452.3 759,452.2 758.5,452.2 758,452.2 757.5,452.1 757,452.1 756.6,452 756.1,452 755.6,451.9 755.1,451.9 754.6,451.8 754.1,451.8 753.6,451.7 753.1,451.7 752.6,451.7 752.1,451.6 751.6,451.6 751.1,451.5 750.6,451.5 750.1,451.4 749.6,451.4 749.1,451.3 748.6,451.3 748.1,451.2 747.6,451.2 747.1,451.1 746.6,451.1 746.1,451 745.6,451 745.1,450.9 744.7,450.9 744.2,450.8 743.7,450.8 743.2,450.7 742.7,450.6 742.2,450.6 741.7,450.5 741.2,450.5 740.7,450.4 740.2,450.3 739.7,450.3 739.2,450.2 738.7,450.2 738.2,450.1 737.7,450 737.2,450 736.7,449.9 736.2,449.8 735.7,449.8 735.2,449.7 734.7,449.6 734.2,449.6 733.7,449.5 733.3,449.4 732.8,449.3 732.3,449.3 731.8,449.2 731.3,449.1 730.8,449 730.3,448.9 729.8,448.9 729.3,448.8 728.8,448.7 728.3,448.6 727.8,448.5 727.3,448.4 726.8,448.3 726.3,448.2 725.8,448.1 725.3,448 724.8,447.9 724.3,447.8 723.8,447.7 723.3,447.6 722.8,447.5 722.3,447.4 721.8,447.3 721.4,447.2 720.9,447.1 720.4,447 719.9,446.9 719.4,446.7 718.9,446.6 718.4,446.5 717.9,446.4 717.4,446.2" fill="url(#cG)" /><polygon points="775.4,453.4 775.9,453.4 776.4,453.4 776.9,453.3 777.4,453.3 777.9,453.3 778.4,453.3 778.9,453.2 779.4,453.2 779.9,453.1 780.3,453 780.8,452.9 781.3,452.8 781.8,452.7 782.3,452.6 782.8,452.4 783.3,452.2 783.8,452 784.3,451.8 784.8,451.6 785.3,451.3 785.8,451 786.3,450.7 786.8,450.4 787.3,450 787.8,449.6 788.3,449.2 788.8,448.7 789.3,448.2 789.8,447.6 790.3,447 790.8,446.4 791.3,445.7 791.7,445 792.2,444.2 792.7,443.4 793.2,442.5 793.7,441.6 794.2,440.6 794.7,439.6 795.2,438.5 795.7,437.4 796.2,436.3 796.7,435 797.2,433.7 797.7,432.4 798.2,431 798.7,429.6 799.2,428.1 799.7,426.6 800.2,425 800.7,423.4 801.2,421.8 801.7,420.1 802.2,418.4 802.7,416.7 803.2,414.9 803.6,413.1 804.1,411.3 804.6,409.5 805.1,407.7 805.6,405.8 806.1,404 806.6,402.2 807.1,400.4 807.6,398.7 808.1,396.9 808.6,395.2 809.1,393.5 809.6,391.9 810.1,390.3 810.6,388.8 811.1,387.4 811.6,386 812.1,384.7 812.6,383.5 813.1,382.4 813.6,381.3 814.1,380.4 814.6,379.6 815,378.9 815.5,378.2 816,377.7 816.5,377.4 817,377.1 817.5,377 818,377 818.5,377.1 819,377.3 819.5,377.7 820,378.2 820.5,378.8 821,379.5 821.5,380.4 822,381.4 822.5,382.4 823,383.6 823.5,385 824,386.4 824.5,387.9 825,389.5 825.5,391.2 826,393 826.5,394.9 826.9,396.8 827.4,398.8 827.9,400.9 828.4,403 828.9,405.1 829.4,407.4 829.9,409.6 830.4,411.9 830.9,414.2 831.4,416.5 831.9,418.8 832.4,421.1 832.9,423.4 833.4,425.7 833.9,428 834.4,430.3 834.9,432.5 835.4,434.7 835.9,436.9 836.4,439.1 836.9,441.2 837.4,443.2 837.9,445.3 838.4,447.2 838.8,449.2 839.3,451 839.8,452.8 840.3,454.6 840.8,456.3 841.3,457.9 841.8,459.5 842.3,461 842.8,462.5 843.3,463.9 843.8,465.2 844.3,466.5 844.8,467.8 845.3,468.9 845.8,470 846.3,471.1 846.8,472.1 847.3,473.1 847.8,474 848.3,474.8 848.8,475.7 849.3,476.4 849.8,477.2 850.2,477.8 850.7,478.5 851.2,479.1 851.7,479.7 852.2,480.2 852.7,480.7 853.2,481.2 853.7,481.6 854.2,482 854.7,482.4 855.2,482.8 855.7,483.1 856.2,483.4 856.7,483.7 857.2,484 857.7,484.3 858.2,484.5 858.7,484.8 859.2,485 859.7,485.2 860.2,485.4 860.7,485.5 861.2,485.7 861.7,485.9 862.1,486 862.6,486.2 862.6,486.6 862.1,486.5 861.7,486.4 861.2,486.3 860.7,486.3 860.2,486.2 859.7,486.1 859.2,486 858.7,485.9 858.2,485.8 857.7,485.7 857.2,485.6 856.7,485.5 856.2,485.3 855.7,485.2 855.2,485.1 854.7,485 854.2,484.9 853.7,484.7 853.2,484.6 852.7,484.5 852.2,484.3 851.7,484.2 851.2,484 850.7,483.9 850.2,483.8 849.8,483.6 849.3,483.4 848.8,483.3 848.3,483.1 847.8,482.9 847.3,482.8 846.8,482.6 846.3,482.4 845.8,482.2 845.3,482 844.8,481.8 844.3,481.6 843.8,481.4 843.3,481.2 842.8,481 842.3,480.8 841.8,480.6 841.3,480.4 840.8,480.1 840.3,479.9 839.8,479.7 839.3,479.4 838.8,479.2 838.4,478.9 837.9,478.7 837.4,478.4 836.9,478.2 836.4,477.9 835.9,477.6 835.4,477.4 834.9,477.1 834.4,476.8 833.9,476.5 833.4,476.3 832.9,476 832.4,475.7 831.9,475.4 831.4,475.1 830.9,474.8 830.4,474.5 829.9,474.2 829.4,473.9 828.9,473.6 828.4,473.2 827.9,472.9 827.4,472.6 826.9,472.3 826.5,472 826,471.7 825.5,471.4 825,471 824.5,470.7 824,470.4 823.5,470.1 823,469.8 822.5,469.5 822,469.2 821.5,468.8 821,468.5 820.5,468.2 820,467.9 819.5,467.6 819,467.3 818.5,467 818,466.7 817.5,466.4 817,466.1 816.5,465.8 816,465.6 815.5,465.3 815,465 814.6,464.7 814.1,464.4 813.6,464.2 813.1,463.9 812.6,463.6 812.1,463.4 811.6,463.1 811.1,462.9 810.6,462.6 810.1,462.4 809.6,462.2 809.1,461.9 808.6,461.7 808.1,461.5 807.6,461.3 807.1,461.1 806.6,460.8 806.1,460.6 805.6,460.4 805.1,460.2 804.6,460 804.1,459.9 803.6,459.7 803.2,459.5 802.7,459.3 802.2,459.1 801.7,459 801.2,458.8 800.7,458.6 800.2,458.5 799.7,458.3 799.2,458.2 798.7,458 798.2,457.9 797.7,457.7 797.2,457.6 796.7,457.5 796.2,457.3 795.7,457.2 795.2,457.1 794.7,457 794.2,456.8 793.7,456.7 793.2,456.6 792.7,456.5 792.2,456.4 791.7,456.3 791.3,456.2 790.8,456.1 790.3,456 789.8,455.9 789.3,455.8 788.8,455.7 788.3,455.6 787.8,455.5 787.3,455.4 786.8,455.4 786.3,455.3 785.8,455.2 785.3,455.1 784.8,455 784.3,455 783.8,454.9 783.3,454.8 782.8,454.7 782.3,454.7 781.8,454.6 781.3,454.5 780.8,454.5 780.3,454.4 779.9,454.3 779.4,454.3 778.9,454.2 778.4,454.2 777.9,454.1 777.4,454 776.9,454 776.4,453.9 775.9,453.9 775.4,453.8" fill="url(#cP)" /><polyline points="517.6,415 519.6,415.1 521.6,415.2 523.5,415.3 525.5,415.4 527.5,415.6 529.5,415.7 531.5,415.8 533.5,415.9 535.4,416 537.4,416.1 539.4,416.2 541.4,416.3 543.4,416.4 545.4,416.5 547.3,416.7 549.3,416.8 551.3,416.9 553.3,417 555.3,417.1 557.3,417.2 559.2,417.3 561.2,417.4 563.2,417.5 565.2,417.6 567.2,417.8 569.2,417.9 571.1,418 573.1,418.1 575.1,418.2 577.1,418.3 579.1,418.4 581.1,418.5 583,418.7 585,418.8 587,418.9 589,419 591,419.1 593,419.2 594.9,419.3 596.9,419.5 598.9,419.6 600.9,419.7 602.9,419.8 604.9,419.9 606.8,420.1 608.8,420.2 610.8,420.3 612.8,420.5 614.8,420.6 616.8,420.7 618.7,420.9 620.7,421 622.7,421.1 624.7,421.3 626.7,421.5 628.6,421.6 630.6,421.8 632.6,422 634.6,422.2 636.6,422.3 638.6,422.6 640.5,422.8 642.5,423 644.5,423.2 646.5,423.5 648.5,423.8 650.5,424.1 652.4,424.4 654.4,424.8 656.4,425.1 658.4,425.5 660.4,425.9 662.4,426.4 664.3,426.9 666.3,427.4 668.3,428 670.3,428.6 672.3,429.2 674.3,429.9 676.2,430.6 678.2,431.3 680.2,432.1 682.2,432.8 684.2,433.7 686.2,434.5 688.1,435.3 690.1,436.2 692.1,437.1 694.1,437.9 696.1,438.8 698.1,439.6 700,440.4 702,441.2 704,442 706,442.7 708,443.4 710,444.1 711.9,444.7 713.9,445.3 715.9,445.8 717.9,446.4 719.9,446.9 721.8,447.3 723.8,447.7 725.8,448.1 727.8,448.5 729.8,448.9 731.8,449.2 733.7,449.5 735.7,449.8 737.7,450 739.7,450.3 741.7,450.5 743.7,450.8 745.6,451 747.6,451.2 749.6,451.4 751.6,451.6 753.6,451.7 755.6,451.9 757.5,452.1 759.5,452.3 761.5,452.5 763.5,452.6 765.5,452.8 767.5,453 769.4,453.2 771.4,453.4 773.4,453.6 775.4,453.8 777.4,454 779.4,454.3 781.3,454.5 783.3,454.8 785.3,455.1 787.3,455.4 789.3,455.8 791.3,456.2 793.2,456.6 795.2,457.1 797.2,457.6 799.2,458.2 801.2,458.8 803.2,459.5 805.1,460.2 807.1,461.1 809.1,461.9 811.1,462.9 813.1,463.9 815,465 817,466.1 819,467.3 821,468.5 823,469.8 825,471 826.9,472.3 828.9,473.6 830.9,474.8 832.9,476 834.9,477.1 836.9,478.2 838.8,479.2 840.8,480.1 842.8,481 844.8,481.8 846.8,482.6 848.8,483.3 850.7,483.9 852.7,484.5 854.7,485 856.7,485.5 858.7,485.9 860.7,486.3 862.6,486.6 864.6,486.9 866.6,487.2 868.6,487.5 870.6,487.7 872.6,488 874.5,488.2 876.5,488.4 878.5,488.6 880.5,488.7 882.5,488.9 884.5,489.1 886.4,489.2 888.4,489.4 890.4,489.5 892.4,489.6 894.4,489.8 896.4,489.9 898.3,490 900.3,490.1 902.3,490.3 904.3,490.4 906.3,490.5 908.3,490.6 910.2,490.7 912.2,490.9 914.2,491" fill="none" stroke="#9a9a9a" stroke-width="0.9" /><circle cx="517.6" cy="417.1" r="2.5" fill="#fff" fill-opacity="0.25" stroke="#6a6e82" stroke-width="0.9"/><circle cx="519" cy="417.4" r="2.5" fill="#fff" fill-opacity="0.25" stroke="#7e7a42" stroke-width="0.9"/><circle cx="520.4" cy="415.3" r="2.5" fill="#fff" fill-opacity="0.25" stroke="#8a8e98" stroke-width="0.9"/><circle cx="521.8" cy="414" r="2.5" fill="#fff" fill-opacity="0.25" stroke="#6e6a34" stroke-width="0.9"/><circle cx="523.2" cy="413.6" r="2.5" fill="#fff" fill-opacity="0.25" stroke="#909050" stroke-width="0.9"/><circle cx="524.5" cy="415.4" r="2.5" fill="#fff" fill-opacity="0.25" stroke="#6a6e82" stroke-width="0.9"/><circle cx="525.9" cy="413.8" r="2.5" fill="#fff" fill-opacity="0.25" stroke="#7e7a42" stroke-width="0.9"/><circle cx="527.3" cy="413.2" r="2.5" fill="#fff" fill-opacity="0.25" stroke="#8a8e98" stroke-width="0.9"/><circle cx="528.7" cy="415.9" r="2.5" fill="#fff" fill-opacity="0.25" stroke="#6e6a34" stroke-width="0.9"/><circle cx="530.1" cy="415.9" r="2.5" fill="#fff" fill-opacity="0.25" stroke="#909050" stroke-width="0.9"/><circle cx="531.5" cy="416.6" r="2.5" fill="#fff" fill-opacity="0.25" stroke="#6a6e82" stroke-width="0.9"/><circle cx="532.9" cy="414.4" r="2.5" fill="#fff" fill-opacity="0.25" stroke="#7e7a42" stroke-width="0.9"/><circle cx="534.3" cy="415.9" r="2.5" fill="#fff" fill-opacity="0.25" stroke="#8a8e98" stroke-width="0.9"/><circle cx="535.6" cy="415.9" r="2.5" fill="#fff" fill-opacity="0.25" stroke="#6e6a34" stroke-width="0.9"/><circle cx="537" cy="413.7" r="2.5" fill="#fff" fill-opacity="0.25" stroke="#909050" stroke-width="0.9"/><circle cx="538.4" cy="417" r="2.5" fill="#fff" fill-opacity="0.25" stroke="#6a6e82" stroke-width="0.9"/><circle cx="539.8" cy="416.7" r="2.5" fill="#fff" fill-opacity="0.25" stroke="#7e7a42" stroke-width="0.9"/><circle cx="541.2" cy="420.1" r="2.5" fill="#fff" fill-opacity="0.25" stroke="#8a8e98" stroke-width="0.9"/><circle cx="542.6" cy="416.7" r="2.5" fill="#fff" fill-opacity="0.25" stroke="#6e6a34" stroke-width="0.9"/><circle cx="544" cy="416.2" r="2.5" fill="#fff" fill-opacity="0.25" stroke="#909050" stroke-width="0.9"/><circle cx="545.4" cy="418.5" r="2.5" fill="#fff" fill-opacity="0.25" stroke="#6a6e82" stroke-width="0.9"/><circle cx="546.8" cy="416.9" r="2.5" fill="#fff" fill-opacity="0.25" stroke="#7e7a42" stroke-width="0.9"/><circle cx="548.1" cy="418.2" r="2.5" fill="#fff" fill-opacity="0.25" stroke="#8a8e98" stroke-width="0.9"/><circle cx="549.5" cy="416.2" r="2.5" fill="#fff" fill-opacity="0.25" stroke="#6e6a34" stroke-width="0.9"/><circle cx="550.9" cy="417.2" r="2.5" fill="#fff" fill-opacity="0.25" stroke="#909050" stroke-width="0.9"/><circle cx="552.3" cy="418.6" r="2.5" fill="#fff" fill-opacity="0.25" stroke="#6a6e82" stroke-width="0.9"/><circle cx="553.7" cy="418.1" r="2.5" fill="#fff" fill-opacity="0.25" stroke="#7e7a42" stroke-width="0.9"/><circle cx="555.1" cy="417.3" r="2.5" fill="#fff" fill-opacity="0.25" stroke="#8a8e98" stroke-width="0.9"/><circle cx="556.5" cy="415.4" r="2.5" fill="#fff" fill-opacity="0.25" stroke="#6e6a34" stroke-width="0.9"/><circle cx="557.9" cy="418" r="2.5" fill="#fff" fill-opacity="0.25" stroke="#909050" stroke-width="0.9"/><circle cx="559.2" cy="417.4" r="2.5" fill="#fff" fill-opacity="0.25" stroke="#6a6e82" stroke-width="0.9"/><circle cx="560.6" cy="418.5" r="2.5" fill="#fff" fill-opacity="0.25" stroke="#7e7a42" stroke-width="0.9"/><circle cx="562" cy="417.8" r="2.5" fill="#fff" fill-opacity="0.25" stroke="#8a8e98" stroke-width="0.9"/><circle cx="563.4" cy="419.3" r="2.5" fill="#fff" fill-opacity="0.25" stroke="#6e6a34" stroke-width="0.9"/><circle cx="564.8" cy="417.5" r="2.5" fill="#fff" fill-opacity="0.25" stroke="#909050" stroke-width="0.9"/><circle cx="566.2" cy="418" r="2.5" fill="#fff" fill-opacity="0.25" stroke="#6a6e82" stroke-width="0.9"/><circle cx="567.6" cy="418.8" r="2.5" fill="#fff" fill-opacity="0.25" stroke="#7e7a42" stroke-width="0.9"/><circle cx="569" cy="416.1" r="2.5" fill="#fff" fill-opacity="0.25" stroke="#8a8e98" stroke-width="0.9"/><circle cx="570.3" cy="417.3" r="2.5" fill="#fff" fill-opacity="0.25" stroke="#6e6a34" stroke-width="0.9"/><circle cx="571.7" cy="417.2" r="2.5" fill="#fff" fill-opacity="0.25" stroke="#909050" stroke-width="0.9"/><circle cx="573.1" cy="421.3" r="2.5" fill="#fff" fill-opacity="0.25" stroke="#6a6e82" stroke-width="0.9"/><circle cx="574.5" cy="418" r="2.5" fill="#fff" fill-opacity="0.25" stroke="#7e7a42" stroke-width="0.9"/><circle cx="575.9" cy="419.3" r="2.5" fill="#fff" fill-opacity="0.25" stroke="#8a8e98" stroke-width="0.9"/><circle cx="577.3" cy="419.3" r="2.5" fill="#fff" fill-opacity="0.25" stroke="#6e6a34" stroke-width="0.9"/><circle cx="578.7" cy="418" r="2.5" fill="#fff" fill-opacity="0.25" stroke="#909050" stroke-width="0.9"/><circle cx="580.1" cy="416" r="2.5" fill="#fff" fill-opacity="0.25" stroke="#6a6e82" stroke-width="0.9"/><circle cx="581.5" cy="420.1" r="2.5" fill="#fff" fill-opacity="0.25" stroke="#7e7a42" stroke-width="0.9"/><circle cx="582.8" cy="418" r="2.5" fill="#fff" fill-opacity="0.25" stroke="#8a8e98" stroke-width="0.9"/><circle cx="584.2" cy="419.9" r="2.5" fill="#fff" fill-opacity="0.25" stroke="#6e6a34" stroke-width="0.9"/><circle cx="585.6" cy="416.7" r="2.5" fill="#fff" fill-opacity="0.25" stroke="#909050" stroke-width="0.9"/><circle cx="587" cy="418.1" r="2.5" fill="#fff" fill-opacity="0.25" stroke="#6a6e82" stroke-width="0.9"/><circle cx="588.4" cy="420.9" r="2.5" fill="#fff" fill-opacity="0.25" stroke="#7e7a42" stroke-width="0.9"/><circle cx="589.8" cy="421.3" r="2.5" fill="#fff" fill-opacity="0.25" stroke="#8a8e98" stroke-width="0.9"/><circle cx="591.2" cy="417" r="2.5" fill="#fff" fill-opacity="0.25" stroke="#6e6a34" stroke-width="0.9"/><circle cx="592.6" cy="417" r="2.5" fill="#fff" fill-opacity="0.25" stroke="#909050" stroke-width="0.9"/><circle cx="593.9" cy="419.1" r="2.5" fill="#fff" fill-opacity="0.25" stroke="#6a6e82" stroke-width="0.9"/><circle cx="595.3" cy="420.3" r="2.5" fill="#fff" fill-opacity="0.25" stroke="#7e7a42" stroke-width="0.9"/><circle cx="596.7" cy="419.5" r="2.5" fill="#fff" fill-opacity="0.25" stroke="#8a8e98" stroke-width="0.9"/><circle cx="598.1" cy="419.7" r="2.5" fill="#fff" fill-opacity="0.25" stroke="#6e6a34" stroke-width="0.9"/><circle cx="599.5" cy="417.6" r="2.5" fill="#fff" fill-opacity="0.25" stroke="#909050" stroke-width="0.9"/><circle cx="600.9" cy="420.2" r="2.5" fill="#fff" fill-opacity="0.25" stroke="#6a6e82" stroke-width="0.9"/><circle cx="602.3" cy="421" r="2.5" fill="#fff" fill-opacity="0.25" stroke="#7e7a42" stroke-width="0.9"/><circle cx="603.7" cy="418.4" r="2.5" fill="#fff" fill-opacity="0.25" stroke="#8a8e98" stroke-width="0.9"/><circle cx="605.1" cy="416.8" r="2.5" fill="#fff" fill-opacity="0.25" stroke="#6e6a34" stroke-width="0.9"/><circle cx="606.4" cy="417.7" r="2.5" fill="#fff" fill-opacity="0.25" stroke="#909050" stroke-width="0.9"/><circle cx="607.8" cy="420" r="2.5" fill="#fff" fill-opacity="0.25" stroke="#6a6e82" stroke-width="0.9"/><circle cx="609.2" cy="415.9" r="2.5" fill="#fff" fill-opacity="0.25" stroke="#7e7a42" stroke-width="0.9"/><circle cx="610.6" cy="418.3" r="2.5" fill="#fff" fill-opacity="0.25" stroke="#8a8e98" stroke-width="0.9"/><circle cx="612" cy="416.6" r="2.5" fill="#fff" fill-opacity="0.25" stroke="#6e6a34" stroke-width="0.9"/><circle cx="613.4" cy="417.7" r="2.5" fill="#fff" fill-opacity="0.25" stroke="#909050" stroke-width="0.9"/><circle cx="614.8" cy="417.3" r="2.5" fill="#fff" fill-opacity="0.25" stroke="#6a6e82" stroke-width="0.9"/><circle cx="616.2" cy="417.3" r="2.5" fill="#fff" fill-opacity="0.25" stroke="#7e7a42" stroke-width="0.9"/><circle cx="617.5" cy="419.3" r="2.5" fill="#fff" fill-opacity="0.25" stroke="#8a8e98" stroke-width="0.9"/><circle cx="618.9" cy="417.2" r="2.5" fill="#fff" fill-opacity="0.25" stroke="#6e6a34" stroke-width="0.9"/><circle cx="620.3" cy="418.2" r="2.5" fill="#fff" fill-opacity="0.25" stroke="#909050" stroke-width="0.9"/><circle cx="621.7" cy="415.4" r="2.5" fill="#fff" fill-opacity="0.25" stroke="#6a6e82" stroke-width="0.9"/><circle cx="623.1" cy="414.4" r="2.5" fill="#fff" fill-opacity="0.25" stroke="#7e7a42" stroke-width="0.9"/><circle cx="624.5" cy="415.3" r="2.5" fill="#fff" fill-opacity="0.25" stroke="#8a8e98" stroke-width="0.9"/><circle cx="625.9" cy="409.7" r="2.5" fill="#fff" fill-opacity="0.25" stroke="#6e6a34" stroke-width="0.9"/><circle cx="627.3" cy="413.7" r="2.5" fill="#fff" fill-opacity="0.25" stroke="#909050" stroke-width="0.9"/><circle cx="628.6" cy="413.6" r="2.5" fill="#fff" fill-opacity="0.25" stroke="#6a6e82" stroke-width="0.9"/><circle cx="630" cy="410.9" r="2.5" fill="#fff" fill-opacity="0.25" stroke="#7e7a42" stroke-width="0.9"/><circle cx="631.4" cy="413.3" r="2.5" fill="#fff" fill-opacity="0.25" stroke="#8a8e98" stroke-width="0.9"/><circle cx="632.8" cy="411.3" r="2.5" fill="#fff" fill-opacity="0.25" stroke="#6e6a34" stroke-width="0.9"/><circle cx="634.2" cy="408" r="2.5" fill="#fff" fill-opacity="0.25" stroke="#909050" stroke-width="0.9"/><circle cx="635.6" cy="411.4" r="2.5" fill="#fff" fill-opacity="0.25" stroke="#6a6e82" stroke-width="0.9"/><circle cx="637" cy="410.1" r="2.5" fill="#fff" fill-opacity="0.25" stroke="#7e7a42" stroke-width="0.9"/><circle cx="638.4" cy="410.8" r="2.5" fill="#fff" fill-opacity="0.25" stroke="#8a8e98" stroke-width="0.9"/><circle cx="639.8" cy="411.4" r="2.5" fill="#fff" fill-opacity="0.25" stroke="#6e6a34" stroke-width="0.9"/><circle cx="641.1" cy="413.8" r="2.5" fill="#fff" fill-opacity="0.25" stroke="#909050" stroke-width="0.9"/><circle cx="642.5" cy="412.1" r="2.5" fill="#fff" fill-opacity="0.25" stroke="#6a6e82" stroke-width="0.9"/><circle cx="643.9" cy="412.2" r="2.5" fill="#fff" fill-opacity="0.25" stroke="#7e7a42" stroke-width="0.9"/><circle cx="645.3" cy="413.2" r="2.5" fill="#fff" fill-opacity="0.25" stroke="#8a8e98" stroke-width="0.9"/><circle cx="646.7" cy="410.1" r="2.5" fill="#fff" fill-opacity="0.25" stroke="#6e6a34" stroke-width="0.9"/><circle cx="648.1" cy="415.4" r="2.5" fill="#fff" fill-opacity="0.25" stroke="#909050" stroke-width="0.9"/><circle cx="649.5" cy="412.2" r="2.5" fill="#fff" fill-opacity="0.25" stroke="#6a6e82" stroke-width="0.9"/><circle cx="650.9" cy="415.1" r="2.5" fill="#fff" fill-opacity="0.25" stroke="#7e7a42" stroke-width="0.9"/><circle cx="652.2" cy="413" r="2.5" fill="#fff" fill-opacity="0.25" stroke="#8a8e98" stroke-width="0.9"/><circle cx="653.6" cy="413.6" r="2.5" fill="#fff" fill-opacity="0.25" stroke="#6e6a34" stroke-width="0.9"/><circle cx="655" cy="414.9" r="2.5" fill="#fff" fill-opacity="0.25" stroke="#909050" stroke-width="0.9"/><circle cx="656.4" cy="418.8" r="2.5" fill="#fff" fill-opacity="0.25" stroke="#6a6e82" stroke-width="0.9"/><circle cx="657.8" cy="416.9" r="2.5" fill="#fff" fill-opacity="0.25" stroke="#7e7a42" stroke-width="0.9"/><circle cx="659.2" cy="414.8" r="2.5" fill="#fff" fill-opacity="0.25" stroke="#8a8e98" stroke-width="0.9"/><circle cx="660.6" cy="415" r="2.5" fill="#fff" fill-opacity="0.25" stroke="#6e6a34" stroke-width="0.9"/><circle cx="662" cy="413.1" r="2.5" fill="#fff" fill-opacity="0.25" stroke="#909050" stroke-width="0.9"/><circle cx="663.4" cy="414.2" r="2.5" fill="#fff" fill-opacity="0.25" stroke="#6a6e82" stroke-width="0.9"/><circle cx="664.7" cy="412.3" r="2.5" fill="#fff" fill-opacity="0.25" stroke="#7e7a42" stroke-width="0.9"/><circle cx="666.1" cy="413.2" r="2.5" fill="#fff" fill-opacity="0.25" stroke="#8a8e98" stroke-width="0.9"/><circle cx="667.5" cy="408.5" r="2.5" fill="#fff" fill-opacity="0.25" stroke="#6e6a34" stroke-width="0.9"/><circle cx="668.9" cy="408.5" r="2.5" fill="#fff" fill-opacity="0.25" stroke="#909050" stroke-width="0.9"/><circle cx="670.3" cy="405.8" r="2.5" fill="#fff" fill-opacity="0.25" stroke="#6a6e82" stroke-width="0.9"/><circle cx="671.7" cy="404.1" r="2.5" fill="#fff" fill-opacity="0.25" stroke="#7e7a42" stroke-width="0.9"/><circle cx="673.1" cy="404.4" r="2.5" fill="#fff" fill-opacity="0.25" stroke="#8a8e98" stroke-width="0.9"/><circle cx="674.5" cy="401.5" r="2.5" fill="#fff" fill-opacity="0.25" stroke="#6e6a34" stroke-width="0.9"/><circle cx="675.8" cy="400.3" r="2.5" fill="#fff" fill-opacity="0.25" stroke="#909050" stroke-width="0.9"/><circle cx="677.2" cy="399.5" r="2.5" fill="#fff" fill-opacity="0.25" stroke="#6a6e82" stroke-width="0.9"/><circle cx="678.6" cy="397.9" r="2.5" fill="#fff" fill-opacity="0.25" stroke="#7e7a42" stroke-width="0.9"/><circle cx="680" cy="392.6" r="2.5" fill="#fff" fill-opacity="0.25" stroke="#8a8e98" stroke-width="0.9"/><circle cx="681.4" cy="394.8" r="2.5" fill="#fff" fill-opacity="0.25" stroke="#6e6a34" stroke-width="0.9"/><circle cx="682.8" cy="390.7" r="2.5" fill="#fff" fill-opacity="0.25" stroke="#909050" stroke-width="0.9"/><circle cx="684.2" cy="393.4" r="2.5" fill="#fff" fill-opacity="0.25" stroke="#6a6e82" stroke-width="0.9"/><circle cx="685.6" cy="397.1" r="2.5" fill="#fff" fill-opacity="0.25" stroke="#7e7a42" stroke-width="0.9"/><circle cx="686.9" cy="394.8" r="2.5" fill="#fff" fill-opacity="0.25" stroke="#8a8e98" stroke-width="0.9"/><circle cx="688.3" cy="396" r="2.5" fill="#fff" fill-opacity="0.25" stroke="#6e6a34" stroke-width="0.9"/><circle cx="689.7" cy="398.8" r="2.5" fill="#fff" fill-opacity="0.25" stroke="#909050" stroke-width="0.9"/><circle cx="691.1" cy="400.9" r="2.5" fill="#fff" fill-opacity="0.25" stroke="#6a6e82" stroke-width="0.9"/><circle cx="692.5" cy="403.6" r="2.5" fill="#fff" fill-opacity="0.25" stroke="#7e7a42" stroke-width="0.9"/><circle cx="693.9" cy="405.4" r="2.5" fill="#fff" fill-opacity="0.25" stroke="#8a8e98" stroke-width="0.9"/><circle cx="695.3" cy="411.4" r="2.5" fill="#fff" fill-opacity="0.25" stroke="#6e6a34" stroke-width="0.9"/><circle cx="696.7" cy="414.4" r="2.5" fill="#fff" fill-opacity="0.25" stroke="#909050" stroke-width="0.9"/><circle cx="698.1" cy="415.9" r="2.5" fill="#fff" fill-opacity="0.25" stroke="#6a6e82" stroke-width="0.9"/><circle cx="699.4" cy="420" r="2.5" fill="#fff" fill-opacity="0.25" stroke="#7e7a42" stroke-width="0.9"/><circle cx="700.8" cy="423.8" r="2.5" fill="#fff" fill-opacity="0.25" stroke="#8a8e98" stroke-width="0.9"/><circle cx="702.2" cy="427.4" r="2.5" fill="#fff" fill-opacity="0.25" stroke="#6e6a34" stroke-width="0.9"/><circle cx="703.6" cy="429.2" r="2.5" fill="#fff" fill-opacity="0.25" stroke="#909050" stroke-width="0.9"/><circle cx="705" cy="432.3" r="2.5" fill="#fff" fill-opacity="0.25" stroke="#6a6e82" stroke-width="0.9"/><circle cx="706.4" cy="433.1" r="2.5" fill="#fff" fill-opacity="0.25" stroke="#7e7a42" stroke-width="0.9"/><circle cx="707.8" cy="434" r="2.5" fill="#fff" fill-opacity="0.25" stroke="#8a8e98" stroke-width="0.9"/><circle cx="709.2" cy="436.8" r="2.5" fill="#fff" fill-opacity="0.25" stroke="#6e6a34" stroke-width="0.9"/><circle cx="710.5" cy="440.8" r="2.5" fill="#fff" fill-opacity="0.25" stroke="#909050" stroke-width="0.9"/><circle cx="711.9" cy="442.2" r="2.5" fill="#fff" fill-opacity="0.25" stroke="#6a6e82" stroke-width="0.9"/><circle cx="713.3" cy="442.1" r="2.5" fill="#fff" fill-opacity="0.25" stroke="#7e7a42" stroke-width="0.9"/><circle cx="714.7" cy="442" r="2.5" fill="#fff" fill-opacity="0.25" stroke="#8a8e98" stroke-width="0.9"/><circle cx="716.1" cy="444.3" r="2.5" fill="#fff" fill-opacity="0.25" stroke="#6e6a34" stroke-width="0.9"/><circle cx="717.5" cy="447.2" r="2.5" fill="#fff" fill-opacity="0.25" stroke="#909050" stroke-width="0.9"/><circle cx="718.9" cy="447.3" r="2.5" fill="#fff" fill-opacity="0.25" stroke="#6a6e82" stroke-width="0.9"/><circle cx="720.3" cy="444.5" r="2.5" fill="#fff" fill-opacity="0.25" stroke="#7e7a42" stroke-width="0.9"/><circle cx="721.7" cy="445.9" r="2.5" fill="#fff" fill-opacity="0.25" stroke="#8a8e98" stroke-width="0.9"/><circle cx="723" cy="443.9" r="2.5" fill="#fff" fill-opacity="0.25" stroke="#6e6a34" stroke-width="0.9"/><circle cx="724.4" cy="444.6" r="2.5" fill="#fff" fill-opacity="0.25" stroke="#909050" stroke-width="0.9"/><circle cx="725.8" cy="446.9" r="2.5" fill="#fff" fill-opacity="0.25" stroke="#6a6e82" stroke-width="0.9"/><circle cx="727.2" cy="446.6" r="2.5" fill="#fff" fill-opacity="0.25" stroke="#7e7a42" stroke-width="0.9"/><circle cx="728.6" cy="448.1" r="2.5" fill="#fff" fill-opacity="0.25" stroke="#8a8e98" stroke-width="0.9"/><circle cx="730" cy="448.5" r="2.5" fill="#fff" fill-opacity="0.25" stroke="#6e6a34" stroke-width="0.9"/><circle cx="731.4" cy="447.6" r="2.5" fill="#fff" fill-opacity="0.25" stroke="#909050" stroke-width="0.9"/><circle cx="732.8" cy="448.1" r="2.5" fill="#fff" fill-opacity="0.25" stroke="#6a6e82" stroke-width="0.9"/><circle cx="734.1" cy="444.8" r="2.5" fill="#fff" fill-opacity="0.25" stroke="#7e7a42" stroke-width="0.9"/><circle cx="735.5" cy="443.4" r="2.5" fill="#fff" fill-opacity="0.25" stroke="#8a8e98" stroke-width="0.9"/><circle cx="736.9" cy="445.5" r="2.5" fill="#fff" fill-opacity="0.25" stroke="#6e6a34" stroke-width="0.9"/><circle cx="738.3" cy="448.4" r="2.5" fill="#fff" fill-opacity="0.25" stroke="#909050" stroke-width="0.9"/><circle cx="739.7" cy="444" r="2.5" fill="#fff" fill-opacity="0.25" stroke="#6a6e82" stroke-width="0.9"/><circle cx="741.1" cy="440.8" r="2.5" fill="#fff" fill-opacity="0.25" stroke="#7e7a42" stroke-width="0.9"/><circle cx="742.5" cy="442.2" r="2.5" fill="#fff" fill-opacity="0.25" stroke="#8a8e98" stroke-width="0.9"/><circle cx="743.9" cy="443.1" r="2.5" fill="#fff" fill-opacity="0.25" stroke="#6e6a34" stroke-width="0.9"/><circle cx="745.2" cy="438.1" r="2.5" fill="#fff" fill-opacity="0.25" stroke="#909050" stroke-width="0.9"/><circle cx="746.6" cy="440" r="2.5" fill="#fff" fill-opacity="0.25" stroke="#6a6e82" stroke-width="0.9"/><circle cx="748" cy="436.5" r="2.5" fill="#fff" fill-opacity="0.25" stroke="#7e7a42" stroke-width="0.9"/><circle cx="749.4" cy="438.3" r="2.5" fill="#fff" fill-opacity="0.25" stroke="#8a8e98" stroke-width="0.9"/><circle cx="750.8" cy="436.2" r="2.5" fill="#fff" fill-opacity="0.25" stroke="#6e6a34" stroke-width="0.9"/><circle cx="752.2" cy="434.1" r="2.5" fill="#fff" fill-opacity="0.25" stroke="#909050" stroke-width="0.9"/><circle cx="753.6" cy="435.4" r="2.5" fill="#fff" fill-opacity="0.25" stroke="#6a6e82" stroke-width="0.9"/><circle cx="755" cy="430.2" r="2.5" fill="#fff" fill-opacity="0.25" stroke="#7e7a42" stroke-width="0.9"/><circle cx="756.4" cy="428.3" r="2.5" fill="#fff" fill-opacity="0.25" stroke="#8a8e98" stroke-width="0.9"/><circle cx="757.7" cy="431" r="2.5" fill="#fff" fill-opacity="0.25" stroke="#6e6a34" stroke-width="0.9"/><circle cx="759.1" cy="425.3" r="2.5" fill="#fff" fill-opacity="0.25" stroke="#909050" stroke-width="0.9"/><circle cx="760.5" cy="429" r="2.5" fill="#fff" fill-opacity="0.25" stroke="#6a6e82" stroke-width="0.9"/><circle cx="761.9" cy="424.2" r="2.5" fill="#fff" fill-opacity="0.25" stroke="#7e7a42" stroke-width="0.9"/><circle cx="763.3" cy="421.5" r="2.5" fill="#fff" fill-opacity="0.25" stroke="#8a8e98" stroke-width="0.9"/><circle cx="764.7" cy="422.2" r="2.5" fill="#fff" fill-opacity="0.25" stroke="#6e6a34" stroke-width="0.9"/><circle cx="766.1" cy="421.5" r="2.5" fill="#fff" fill-opacity="0.25" stroke="#909050" stroke-width="0.9"/><circle cx="767.5" cy="420.9" r="2.5" fill="#fff" fill-opacity="0.25" stroke="#6a6e82" stroke-width="0.9"/><circle cx="768.8" cy="419.7" r="2.5" fill="#fff" fill-opacity="0.25" stroke="#7e7a42" stroke-width="0.9"/><circle cx="770.2" cy="421.4" r="2.5" fill="#fff" fill-opacity="0.25" stroke="#8a8e98" stroke-width="0.9"/><circle cx="771.6" cy="415.7" r="2.5" fill="#fff" fill-opacity="0.25" stroke="#6e6a34" stroke-width="0.9"/><circle cx="773" cy="418.4" r="2.5" fill="#fff" fill-opacity="0.25" stroke="#909050" stroke-width="0.9"/><circle cx="774.4" cy="419" r="2.5" fill="#fff" fill-opacity="0.25" stroke="#6a6e82" stroke-width="0.9"/><circle cx="775.8" cy="422.5" r="2.5" fill="#fff" fill-opacity="0.25" stroke="#7e7a42" stroke-width="0.9"/><circle cx="777.2" cy="416.8" r="2.5" fill="#fff" fill-opacity="0.25" stroke="#8a8e98" stroke-width="0.9"/><circle cx="778.6" cy="419.9" r="2.5" fill="#fff" fill-opacity="0.25" stroke="#6e6a34" stroke-width="0.9"/><circle cx="780" cy="419.2" r="2.5" fill="#fff" fill-opacity="0.25" stroke="#909050" stroke-width="0.9"/><circle cx="781.3" cy="420.6" r="2.5" fill="#fff" fill-opacity="0.25" stroke="#6a6e82" stroke-width="0.9"/><circle cx="782.7" cy="423.4" r="2.5" fill="#fff" fill-opacity="0.25" stroke="#7e7a42" stroke-width="0.9"/><circle cx="784.1" cy="423.6" r="2.5" fill="#fff" fill-opacity="0.25" stroke="#8a8e98" stroke-width="0.9"/><circle cx="785.5" cy="425.9" r="2.5" fill="#fff" fill-opacity="0.25" stroke="#6e6a34" stroke-width="0.9"/><circle cx="786.9" cy="423" r="2.5" fill="#fff" fill-opacity="0.25" stroke="#909050" stroke-width="0.9"/><circle cx="788.3" cy="424.7" r="2.5" fill="#fff" fill-opacity="0.25" stroke="#6a6e82" stroke-width="0.9"/><circle cx="789.7" cy="426.2" r="2.5" fill="#fff" fill-opacity="0.25" stroke="#7e7a42" stroke-width="0.9"/><circle cx="791.1" cy="425.5" r="2.5" fill="#fff" fill-opacity="0.25" stroke="#8a8e98" stroke-width="0.9"/><circle cx="792.4" cy="422.9" r="2.5" fill="#fff" fill-opacity="0.25" stroke="#6e6a34" stroke-width="0.9"/><circle cx="793.8" cy="424.3" r="2.5" fill="#fff" fill-opacity="0.25" stroke="#909050" stroke-width="0.9"/><circle cx="795.2" cy="419.7" r="2.5" fill="#fff" fill-opacity="0.25" stroke="#6a6e82" stroke-width="0.9"/><circle cx="796.6" cy="422.2" r="2.5" fill="#fff" fill-opacity="0.25" stroke="#7e7a42" stroke-width="0.9"/><circle cx="798" cy="417.3" r="2.5" fill="#fff" fill-opacity="0.25" stroke="#8a8e98" stroke-width="0.9"/><circle cx="799.4" cy="414.2" r="2.5" fill="#fff" fill-opacity="0.25" stroke="#6e6a34" stroke-width="0.9"/><circle cx="800.8" cy="411.7" r="2.5" fill="#fff" fill-opacity="0.25" stroke="#909050" stroke-width="0.9"/><circle cx="802.2" cy="409.2" r="2.5" fill="#fff" fill-opacity="0.25" stroke="#6a6e82" stroke-width="0.9"/><circle cx="803.5" cy="406.8" r="2.5" fill="#fff" fill-opacity="0.25" stroke="#7e7a42" stroke-width="0.9"/><circle cx="804.9" cy="399.8" r="2.5" fill="#fff" fill-opacity="0.25" stroke="#8a8e98" stroke-width="0.9"/><circle cx="806.3" cy="395.3" r="2.5" fill="#fff" fill-opacity="0.25" stroke="#6e6a34" stroke-width="0.9"/><circle cx="807.7" cy="392.8" r="2.5" fill="#fff" fill-opacity="0.25" stroke="#909050" stroke-width="0.9"/><circle cx="809.1" cy="386.5" r="2.5" fill="#fff" fill-opacity="0.25" stroke="#6a6e82" stroke-width="0.9"/><circle cx="810.5" cy="381.5" r="2.5" fill="#fff" fill-opacity="0.25" stroke="#7e7a42" stroke-width="0.9"/><circle cx="811.9" cy="382.3" r="2.5" fill="#fff" fill-opacity="0.25" stroke="#8a8e98" stroke-width="0.9"/><circle cx="813.3" cy="377.7" r="2.5" fill="#fff" fill-opacity="0.25" stroke="#6e6a34" stroke-width="0.9"/><circle cx="814.7" cy="378.1" r="2.5" fill="#fff" fill-opacity="0.25" stroke="#909050" stroke-width="0.9"/><circle cx="816" cy="373.5" r="2.5" fill="#fff" fill-opacity="0.25" stroke="#6a6e82" stroke-width="0.9"/><circle cx="817.4" cy="370.1" r="2.5" fill="#fff" fill-opacity="0.25" stroke="#7e7a42" stroke-width="0.9"/><circle cx="818.8" cy="375.8" r="2.5" fill="#fff" fill-opacity="0.25" stroke="#8a8e98" stroke-width="0.9"/><circle cx="820.2" cy="377.1" r="2.5" fill="#fff" fill-opacity="0.25" stroke="#6e6a34" stroke-width="0.9"/><circle cx="821.6" cy="381.8" r="2.5" fill="#fff" fill-opacity="0.25" stroke="#909050" stroke-width="0.9"/><circle cx="823" cy="383.4" r="2.5" fill="#fff" fill-opacity="0.25" stroke="#6a6e82" stroke-width="0.9"/><circle cx="824.4" cy="387.2" r="2.5" fill="#fff" fill-opacity="0.25" stroke="#7e7a42" stroke-width="0.9"/><circle cx="825.8" cy="392.5" r="2.5" fill="#fff" fill-opacity="0.25" stroke="#8a8e98" stroke-width="0.9"/><circle cx="827.1" cy="396.4" r="2.5" fill="#fff" fill-opacity="0.25" stroke="#6e6a34" stroke-width="0.9"/><circle cx="828.5" cy="403.1" r="2.5" fill="#fff" fill-opacity="0.25" stroke="#909050" stroke-width="0.9"/><circle cx="829.9" cy="407.1" r="2.5" fill="#fff" fill-opacity="0.25" stroke="#6a6e82" stroke-width="0.9"/><circle cx="831.3" cy="416.5" r="2.5" fill="#fff" fill-opacity="0.25" stroke="#7e7a42" stroke-width="0.9"/><circle cx="832.7" cy="420.9" r="2.5" fill="#fff" fill-opacity="0.25" stroke="#8a8e98" stroke-width="0.9"/><circle cx="834.1" cy="428" r="2.5" fill="#fff" fill-opacity="0.25" stroke="#6e6a34" stroke-width="0.9"/><circle cx="835.5" cy="436.1" r="2.5" fill="#fff" fill-opacity="0.25" stroke="#909050" stroke-width="0.9"/><circle cx="836.9" cy="442.5" r="2.5" fill="#fff" fill-opacity="0.25" stroke="#6a6e82" stroke-width="0.9"/><circle cx="838.3" cy="445.1" r="2.5" fill="#fff" fill-opacity="0.25" stroke="#7e7a42" stroke-width="0.9"/><circle cx="839.6" cy="455.3" r="2.5" fill="#fff" fill-opacity="0.25" stroke="#8a8e98" stroke-width="0.9"/><circle cx="841" cy="456" r="2.5" fill="#fff" fill-opacity="0.25" stroke="#6e6a34" stroke-width="0.9"/><circle cx="842.4" cy="462.6" r="2.5" fill="#fff" fill-opacity="0.25" stroke="#909050" stroke-width="0.9"/><circle cx="843.8" cy="466.7" r="2.5" fill="#fff" fill-opacity="0.25" stroke="#6a6e82" stroke-width="0.9"/><circle cx="845.2" cy="469" r="2.5" fill="#fff" fill-opacity="0.25" stroke="#7e7a42" stroke-width="0.9"/><circle cx="846.6" cy="472" r="2.5" fill="#fff" fill-opacity="0.25" stroke="#8a8e98" stroke-width="0.9"/><circle cx="848" cy="477.2" r="2.5" fill="#fff" fill-opacity="0.25" stroke="#6e6a34" stroke-width="0.9"/><circle cx="849.4" cy="478" r="2.5" fill="#fff" fill-opacity="0.25" stroke="#909050" stroke-width="0.9"/><circle cx="850.7" cy="479.2" r="2.5" fill="#fff" fill-opacity="0.25" stroke="#6a6e82" stroke-width="0.9"/><circle cx="852.1" cy="477.2" r="2.5" fill="#fff" fill-opacity="0.25" stroke="#7e7a42" stroke-width="0.9"/><circle cx="853.5" cy="480.2" r="2.5" fill="#fff" fill-opacity="0.25" stroke="#8a8e98" stroke-width="0.9"/><circle cx="854.9" cy="484.4" r="2.5" fill="#fff" fill-opacity="0.25" stroke="#6e6a34" stroke-width="0.9"/><circle cx="856.3" cy="483.8" r="2.5" fill="#fff" fill-opacity="0.25" stroke="#909050" stroke-width="0.9"/><circle cx="857.7" cy="482.8" r="2.5" fill="#fff" fill-opacity="0.25" stroke="#6a6e82" stroke-width="0.9"/><circle cx="859.1" cy="483.9" r="2.5" fill="#fff" fill-opacity="0.25" stroke="#7e7a42" stroke-width="0.9"/><circle cx="860.5" cy="485" r="2.5" fill="#fff" fill-opacity="0.25" stroke="#8a8e98" stroke-width="0.9"/><circle cx="861.8" cy="487" r="2.5" fill="#fff" fill-opacity="0.25" stroke="#6e6a34" stroke-width="0.9"/><circle cx="863.2" cy="486.9" r="2.5" fill="#fff" fill-opacity="0.25" stroke="#909050" stroke-width="0.9"/><circle cx="864.6" cy="488.3" r="2.5" fill="#fff" fill-opacity="0.25" stroke="#6a6e82" stroke-width="0.9"/><circle cx="866" cy="485.6" r="2.5" fill="#fff" fill-opacity="0.25" stroke="#7e7a42" stroke-width="0.9"/><circle cx="867.4" cy="488.8" r="2.5" fill="#fff" fill-opacity="0.25" stroke="#8a8e98" stroke-width="0.9"/><circle cx="868.8" cy="486.6" r="2.5" fill="#fff" fill-opacity="0.25" stroke="#6e6a34" stroke-width="0.9"/><circle cx="870.2" cy="487.1" r="2.5" fill="#fff" fill-opacity="0.25" stroke="#909050" stroke-width="0.9"/><circle cx="871.6" cy="490.6" r="2.5" fill="#fff" fill-opacity="0.25" stroke="#6a6e82" stroke-width="0.9"/><circle cx="873" cy="488.1" r="2.5" fill="#fff" fill-opacity="0.25" stroke="#7e7a42" stroke-width="0.9"/><circle cx="874.3" cy="487.9" r="2.5" fill="#fff" fill-opacity="0.25" stroke="#8a8e98" stroke-width="0.9"/><circle cx="875.7" cy="487.9" r="2.5" fill="#fff" fill-opacity="0.25" stroke="#6e6a34" stroke-width="0.9"/><circle cx="877.1" cy="487.8" r="2.5" fill="#fff" fill-opacity="0.25" stroke="#909050" stroke-width="0.9"/><circle cx="878.5" cy="491" r="2.5" fill="#fff" fill-opacity="0.25" stroke="#6a6e82" stroke-width="0.9"/><circle cx="879.9" cy="490.9" r="2.5" fill="#fff" fill-opacity="0.25" stroke="#7e7a42" stroke-width="0.9"/><circle cx="881.3" cy="489.9" r="2.5" fill="#fff" fill-opacity="0.25" stroke="#8a8e98" stroke-width="0.9"/><circle cx="882.7" cy="489.2" r="2.5" fill="#fff" fill-opacity="0.25" stroke="#6e6a34" stroke-width="0.9"/><circle cx="884.1" cy="490.7" r="2.5" fill="#fff" fill-opacity="0.25" stroke="#909050" stroke-width="0.9"/><circle cx="885.4" cy="489" r="2.5" fill="#fff" fill-opacity="0.25" stroke="#6a6e82" stroke-width="0.9"/><circle cx="886.8" cy="490" r="2.5" fill="#fff" fill-opacity="0.25" stroke="#7e7a42" stroke-width="0.9"/><circle cx="888.2" cy="490" r="2.5" fill="#fff" fill-opacity="0.25" stroke="#8a8e98" stroke-width="0.9"/><circle cx="889.6" cy="489.6" r="2.5" fill="#fff" fill-opacity="0.25" stroke="#6e6a34" stroke-width="0.9"/><circle cx="891" cy="492.2" r="2.5" fill="#fff" fill-opacity="0.25" stroke="#909050" stroke-width="0.9"/><circle cx="892.4" cy="492.4" r="2.5" fill="#fff" fill-opacity="0.25" stroke="#6a6e82" stroke-width="0.9"/><circle cx="893.8" cy="491.8" r="2.5" fill="#fff" fill-opacity="0.25" stroke="#7e7a42" stroke-width="0.9"/><circle cx="895.2" cy="486.8" r="2.5" fill="#fff" fill-opacity="0.25" stroke="#8a8e98" stroke-width="0.9"/><circle cx="896.6" cy="492.8" r="2.5" fill="#fff" fill-opacity="0.25" stroke="#6e6a34" stroke-width="0.9"/><circle cx="897.9" cy="491.1" r="2.5" fill="#fff" fill-opacity="0.25" stroke="#909050" stroke-width="0.9"/><circle cx="899.3" cy="489.4" r="2.5" fill="#fff" fill-opacity="0.25" stroke="#6a6e82" stroke-width="0.9"/><circle cx="900.7" cy="490.1" r="2.5" fill="#fff" fill-opacity="0.25" stroke="#7e7a42" stroke-width="0.9"/><circle cx="902.1" cy="492.1" r="2.5" fill="#fff" fill-opacity="0.25" stroke="#8a8e98" stroke-width="0.9"/><circle cx="903.5" cy="492.2" r="2.5" fill="#fff" fill-opacity="0.25" stroke="#6e6a34" stroke-width="0.9"/><circle cx="904.9" cy="491.8" r="2.5" fill="#fff" fill-opacity="0.25" stroke="#909050" stroke-width="0.9"/><circle cx="906.3" cy="490.7" r="2.5" fill="#fff" fill-opacity="0.25" stroke="#6a6e82" stroke-width="0.9"/><circle cx="907.7" cy="490.6" r="2.5" fill="#fff" fill-opacity="0.25" stroke="#7e7a42" stroke-width="0.9"/><circle cx="909" cy="492" r="2.5" fill="#fff" fill-opacity="0.25" stroke="#8a8e98" stroke-width="0.9"/><circle cx="910.4" cy="490.6" r="2.5" fill="#fff" fill-opacity="0.25" stroke="#6e6a34" stroke-width="0.9"/><circle cx="911.8" cy="489.4" r="2.5" fill="#fff" fill-opacity="0.25" stroke="#909050" stroke-width="0.9"/><polyline points="517.6,415 518.6,415.1 519.6,415.1 520.6,415.2 521.6,415.2 522.6,415.3 523.5,415.3 524.5,415.4 525.5,415.4 526.5,415.5 527.5,415.6 528.5,415.6 529.5,415.7 530.5,415.7 531.5,415.8 532.5,415.8 533.5,415.9 534.5,415.9 535.4,416 536.4,416 537.4,416.1 538.4,416.2 539.4,416.2 540.4,416.3 541.4,416.3 542.4,416.4 543.4,416.4 544.4,416.5 545.4,416.5 546.4,416.6 547.3,416.7 548.3,416.7 549.3,416.8 550.3,416.8 551.3,416.9 552.3,416.9 553.3,417 554.3,417 555.3,417.1 556.3,417.1 557.3,417.2 558.3,417.3 559.2,417.3 560.2,417.4 561.2,417.4 562.2,417.5 563.2,417.5 564.2,417.6 565.2,417.6 566.2,417.7 567.2,417.8 568.2,417.8 569.2,417.9 570.1,417.9 571.1,418 572.1,418 573.1,418.1 574.1,418.1 575.1,418.2 576.1,418.3 577.1,418.3 578.1,418.4 579.1,418.4 580.1,418.5 581.1,418.5 582,418.6 583,418.6 584,418.7 585,418.7 586,418.8 587,418.8 588,418.9 589,418.9 590,419 591,419 592,419.1 593,419.1 593.9,419.1 594.9,419.2 595.9,419.2 596.9,419.2 597.9,419.2 598.9,419.2 599.9,419.2 600.9,419.2 601.9,419.2 602.9,419.2 603.9,419.1 604.9,419.1 605.8,419 606.8,418.9 607.8,418.8 608.8,418.7 609.8,418.6 610.8,418.4 611.8,418.3 612.8,418.1 613.8,417.9 614.8,417.6 615.8,417.4 616.8,417.1 617.7,416.9 618.7,416.6 619.7,416.3 620.7,416 621.7,415.6 622.7,415.3 623.7,415 624.7,414.6 625.7,414.3 626.7,414 627.7,413.6 628.6,413.3 629.6,413 630.6,412.7 631.6,412.5 632.6,412.3 633.6,412.1 634.6,411.9 635.6,411.8 636.6,411.7 637.6,411.6 638.6,411.6 639.6,411.6 640.5,411.7 641.5,411.8 642.5,412 643.5,412.2 644.5,412.4 645.5,412.7 646.5,412.9 647.5,413.3 648.5,413.6 649.5,413.9 650.5,414.2 651.5,414.6 652.4,414.9 653.4,415.2 654.4,415.4 655.4,415.6 656.4,415.7 657.4,415.8 658.4,415.8 659.4,415.7 660.4,415.5 661.4,415.2 662.4,414.8 663.4,414.2 664.3,413.6 665.3,412.8 666.3,411.9 667.3,410.9 668.3,409.7 669.3,408.5 670.3,407.2 671.3,405.8 672.3,404.4 673.3,403 674.3,401.5 675.2,400.1 676.2,398.8 677.2,397.6 678.2,396.4 679.2,395.5 680.2,394.6 681.2,394 682.2,393.6 683.2,393.5 684.2,393.5 685.2,393.9 686.2,394.4 687.1,395.3 688.1,396.4 689.1,397.7 690.1,399.2 691.1,400.9 692.1,402.8 693.1,404.8 694.1,407 695.1,409.3 696.1,411.6 697.1,413.9 698.1,416.3 699,418.6 700,420.9 701,423.1 702,425.3 703,427.4 704,429.3 705,431.2 706,432.9 707,434.5 708,436 709,437.3 710,438.5 710.9,439.6 711.9,440.6 712.9,441.5 713.9,442.3 714.9,443.1 715.9,443.7 716.9,444.2 717.9,444.7 718.9,445.1 719.9,445.5 720.9,445.8 721.8,446 722.8,446.2 723.8,446.4 724.8,446.5 725.8,446.6 726.8,446.6 727.8,446.6 728.8,446.6 729.8,446.5 730.8,446.4 731.8,446.2 732.8,446 733.7,445.8 734.7,445.5 735.7,445.2 736.7,444.8 737.7,444.4 738.7,443.9 739.7,443.4 740.7,442.9 741.7,442.3 742.7,441.7 743.7,441 744.7,440.3 745.6,439.5 746.6,438.7 747.6,437.8 748.6,437 749.6,436.1 750.6,435.1 751.6,434.2 752.6,433.2 753.6,432.2 754.6,431.2 755.6,430.2 756.6,429.2 757.5,428.3 758.5,427.3 759.5,426.4 760.5,425.5 761.5,424.6 762.5,423.8 763.5,423 764.5,422.3 765.5,421.7 766.5,421.1 767.5,420.6 768.4,420.2 769.4,419.8 770.4,419.6 771.4,419.4 772.4,419.3 773.4,419.3 774.4,419.4 775.4,419.6 776.4,419.8 777.4,420.1 778.4,420.4 779.4,420.8 780.3,421.2 781.3,421.7 782.3,422.2 783.3,422.6 784.3,423.1 785.3,423.5 786.3,423.8 787.3,424.1 788.3,424.3 789.3,424.3 790.3,424.2 791.3,424 792.2,423.6 793.2,423 794.2,422.2 795.2,421.2 796.2,419.9 797.2,418.4 798.2,416.7 799.2,414.8 800.2,412.7 801.2,410.3 802.2,407.8 803.2,405.1 804.1,402.3 805.1,399.4 806.1,396.5 807.1,393.6 808.1,390.7 809.1,387.9 810.1,385.2 811.1,382.8 812.1,380.6 813.1,378.7 814.1,377.1 815,375.9 816,375.1 817,374.8 818,374.9 819,375.5 820,376.6 821,378.1 822,380.1 823,382.6 824,385.5 825,388.7 826,392.3 826.9,396.2 827.9,400.4 828.9,404.7 829.9,409.2 830.9,413.8 831.9,418.5 832.9,423.2 833.9,427.8 834.9,432.3 835.9,436.8 836.9,441.1 837.9,445.2 838.8,449.1 839.8,452.8 840.8,456.2 841.8,459.5 842.8,462.5 843.8,465.2 844.8,467.7 845.8,470 846.8,472.1 847.8,474 848.8,475.6 849.8,477.1 850.7,478.5 851.7,479.7 852.7,480.7 853.7,481.6 854.7,482.4 855.7,483.1 856.7,483.7 857.7,484.3 858.7,484.8 859.7,485.2 860.7,485.5 861.7,485.9 862.6,486.2 863.6,486.4 864.6,486.7 865.6,486.9 866.6,487.1 867.6,487.2 868.6,487.4 869.6,487.5 870.6,487.7 871.6,487.8 872.6,487.9 873.5,488 874.5,488.2 875.5,488.3 876.5,488.4 877.5,488.5 878.5,488.6 879.5,488.6 880.5,488.7 881.5,488.8 882.5,488.9 883.5,489 884.5,489.1 885.4,489.1 886.4,489.2 887.4,489.3 888.4,489.4 889.4,489.4 890.4,489.5 891.4,489.6 892.4,489.6 893.4,489.7 894.4,489.8 895.4,489.8 896.4,489.9 897.3,490 898.3,490 899.3,490.1 900.3,490.1 901.3,490.2 902.3,490.3 903.3,490.3 904.3,490.4 905.3,490.4 906.3,490.5 907.3,490.6 908.3,490.6 909.2,490.7 910.2,490.7 911.2,490.8 912.2,490.9 913.2,490.9 914.2,491" fill="none" stroke="#c2b04a" stroke-width="1.6" /><polygon points="592.5,582.3 593,582.3 593.4,582.3 593.9,582.3 594.4,582.3 594.9,582.3 595.4,582.2 595.9,582.2 596.4,582.2 596.9,582.2 597.4,582.2 597.9,582.2 598.4,582.1 598.9,582.1 599.4,582.1 599.9,582.1 600.4,582 600.9,582 601.4,581.9 601.9,581.9 602.4,581.9 602.9,581.8 603.4,581.8 603.9,581.7 604.4,581.7 604.9,581.6 605.3,581.5 605.8,581.5 606.3,581.4 606.8,581.3 607.3,581.3 607.8,581.2 608.3,581.1 608.8,581 609.3,580.9 609.8,580.8 610.3,580.7 610.8,580.7 611.3,580.6 611.8,580.5 612.3,580.4 612.8,580.3 613.3,580.2 613.8,580 614.3,579.9 614.8,579.8 615.3,579.7 615.8,579.6 616.3,579.5 616.8,579.4 617.2,579.3 617.7,579.1 618.2,579 618.7,578.9 619.2,578.8 619.7,578.7 620.2,578.6 620.7,578.5 621.2,578.3 621.7,578.2 622.2,578.1 622.7,578 623.2,577.9 623.7,577.8 624.2,577.7 624.7,577.6 625.2,577.5 625.7,577.4 626.2,577.4 626.7,577.3 627.2,577.2 627.7,577.1 628.2,577.1 628.6,577 629.1,577 629.6,576.9 630.1,576.9 630.6,576.8 631.1,576.8 631.6,576.8 632.1,576.8 632.6,576.8 633.1,576.8 633.6,576.8 634.1,576.8 634.6,576.8 635.1,576.8 635.6,576.9 636.1,576.9 636.6,577 637.1,577 637.6,577.1 638.1,577.2 638.6,577.2 639.1,577.3 639.6,577.4 640.1,577.5 640.5,577.6 641,577.8 641.5,577.9 642,578 642.5,578.2 643,578.3 643.5,578.5 644,578.6 644.5,578.8 645,579 645.5,579.1 646,579.3 646.5,579.5 647,579.7 647.5,579.9 648,580.1 648.5,580.3 649,580.6 649.5,580.8 650,581 650.5,581.2 651,581.5 651.5,581.7 651.9,582 652.4,582.2 652.9,582.4 653.4,582.7 653.9,582.9 654.4,583.2 654.9,583.4 655.4,583.7 655.9,583.9 656.4,584.2 656.9,584.5 657.4,584.7 657.9,585 658.4,585.2 658.9,585.5 659.4,585.8 659.9,586 660.4,586.3 660.9,586.5 661.4,586.8 661.9,587.1 662.4,587.3 662.9,587.6 663.4,587.8 663.8,588.1 664.3,588.3 664.8,588.6 665.3,588.8 665.8,589.1 666.3,589.3 666.8,589.6 667.3,589.8 667.8,590.1 668.3,590.3 668.8,590.6 669.3,590.8 669.8,591.1 670.3,591.3 670.8,591.5 671.3,591.8 671.8,592 672.3,592.2 672.8,592.5 673.3,592.7 673.8,592.9 674.3,593.2 674.8,593.4 675.2,593.6 675.7,593.8 676.2,594.1 676.7,594.3 677.2,594.5 677.7,594.7 678.2,594.9 678.7,595.1 679.2,595.3 679.7,595.6 680.2,595.8 680.7,596 680.7,596.4 680.2,596.2 679.7,596 679.2,595.9 678.7,595.7 678.2,595.5 677.7,595.3 677.2,595.2 676.7,595 676.2,594.8 675.7,594.6 675.2,594.5 674.8,594.3 674.3,594.1 673.8,594 673.3,593.8 672.8,593.6 672.3,593.5 671.8,593.3 671.3,593.1 670.8,593 670.3,592.8 669.8,592.7 669.3,592.5 668.8,592.3 668.3,592.2 667.8,592 667.3,591.9 666.8,591.7 666.3,591.6 665.8,591.4 665.3,591.3 664.8,591.2 664.3,591 663.8,590.9 663.4,590.8 662.9,590.6 662.4,590.5 661.9,590.4 661.4,590.2 660.9,590.1 660.4,590 659.9,589.9 659.4,589.7 658.9,589.6 658.4,589.5 657.9,589.4 657.4,589.3 656.9,589.2 656.4,589.1 655.9,589 655.4,588.8 654.9,588.7 654.4,588.6 653.9,588.5 653.4,588.4 652.9,588.3 652.4,588.3 651.9,588.2 651.5,588.1 651,588 650.5,587.9 650,587.8 649.5,587.7 649,587.6 648.5,587.6 648,587.5 647.5,587.4 647,587.3 646.5,587.2 646,587.2 645.5,587.1 645,587 644.5,586.9 644,586.9 643.5,586.8 643,586.7 642.5,586.7 642,586.6 641.5,586.5 641,586.5 640.5,586.4 640.1,586.4 639.6,586.3 639.1,586.2 638.6,586.2 638.1,586.1 637.6,586.1 637.1,586 636.6,586 636.1,585.9 635.6,585.8 635.1,585.8 634.6,585.7 634.1,585.7 633.6,585.6 633.1,585.6 632.6,585.5 632.1,585.5 631.6,585.4 631.1,585.4 630.6,585.4 630.1,585.3 629.6,585.3 629.1,585.2 628.6,585.2 628.2,585.1 627.7,585.1 627.2,585 626.7,585 626.2,585 625.7,584.9 625.2,584.9 624.7,584.8 624.2,584.8 623.7,584.8 623.2,584.7 622.7,584.7 622.2,584.6 621.7,584.6 621.2,584.6 620.7,584.5 620.2,584.5 619.7,584.4 619.2,584.4 618.7,584.4 618.2,584.3 617.7,584.3 617.2,584.3 616.8,584.2 616.3,584.2 615.8,584.2 615.3,584.1 614.8,584.1 614.3,584.1 613.8,584 613.3,584 612.8,584 612.3,583.9 611.8,583.9 611.3,583.9 610.8,583.8 610.3,583.8 609.8,583.8 609.3,583.7 608.8,583.7 608.3,583.7 607.8,583.6 607.3,583.6 606.8,583.6 606.3,583.5 605.8,583.5 605.3,583.5 604.9,583.4 604.4,583.4 603.9,583.4 603.4,583.4 602.9,583.3 602.4,583.3 601.9,583.3 601.4,583.2 600.9,583.2 600.4,583.2 599.9,583.1 599.4,583.1 598.9,583.1 598.4,583.1 597.9,583 597.4,583 596.9,583 596.4,582.9 595.9,582.9 595.4,582.9 594.9,582.8 594.4,582.8 593.9,582.8 593.4,582.8 593,582.7 592.5,582.7" fill="url(#cG)" /><polygon points="636.6,585.5 637.1,585.5 637.6,585.5 638.1,585.5 638.6,585.5 639.1,585.5 639.6,585.5 640.1,585.5 640.5,585.4 641,585.4 641.5,585.3 642,585.3 642.5,585.2 643,585.1 643.5,585.1 644,585 644.5,584.9 645,584.7 645.5,584.6 646,584.5 646.5,584.3 647,584.1 647.5,583.9 648,583.7 648.5,583.5 649,583.3 649.5,583 650,582.7 650.5,582.4 651,582.1 651.5,581.8 651.9,581.5 652.4,581.1 652.9,580.7 653.4,580.3 653.9,579.9 654.4,579.5 654.9,579 655.4,578.5 655.9,578.1 656.4,577.6 656.9,577 657.4,576.5 657.9,576 658.4,575.4 658.9,574.9 659.4,574.3 659.9,573.8 660.4,573.2 660.9,572.6 661.4,572 661.9,571.5 662.4,570.9 662.9,570.3 663.4,569.8 663.8,569.2 664.3,568.7 664.8,568.2 665.3,567.7 665.8,567.2 666.3,566.8 666.8,566.3 667.3,565.9 667.8,565.6 668.3,565.2 668.8,564.9 669.3,564.6 669.8,564.4 670.3,564.2 670.8,564 671.3,563.9 671.8,563.8 672.3,563.8 672.8,563.8 673.3,563.9 673.8,564 674.3,564.1 674.8,564.3 675.2,564.6 675.7,564.8 676.2,565.2 676.7,565.5 677.2,566 677.7,566.4 678.2,566.9 678.7,567.4 679.2,568 679.7,568.6 680.2,569.3 680.7,569.9 681.2,570.6 681.7,571.4 682.2,572.1 682.7,572.9 683.2,573.7 683.7,574.5 684.2,575.3 684.7,576.2 685.2,577 685.7,577.9 686.2,578.7 686.7,579.6 687.1,580.5 687.6,581.4 688.1,582.2 688.6,583.1 689.1,583.9 689.6,584.8 690.1,585.6 690.6,586.5 691.1,587.3 691.6,588.1 692.1,588.8 692.6,589.6 693.1,590.3 693.6,591.1 694.1,591.8 694.6,592.5 695.1,593.1 695.6,593.8 696.1,594.4 696.6,595 697.1,595.6 697.6,596.1 698.1,596.7 698.5,597.2 699,597.7 699.5,598.2 700,598.6 700.5,599 701,599.5 701.5,599.8 702,600.2 702.5,600.6 703,600.9 703.5,601.2 704,601.6 704.5,601.9 705,602.1 705.5,602.4 706,602.6 706.5,602.9 707,603.1 707.5,603.3 708,603.5 708.5,603.7 709,603.9 709.5,604.1 710,604.3 710.4,604.4 710.9,604.6 711.4,604.7 711.9,604.8 711.9,605.3 711.4,605.2 710.9,605.1 710.4,605 710,604.9 709.5,604.8 709,604.7 708.5,604.6 708,604.5 707.5,604.4 707,604.3 706.5,604.2 706,604.1 705.5,604 705,603.9 704.5,603.8 704,603.6 703.5,603.5 703,603.4 702.5,603.3 702,603.2 701.5,603 701,602.9 700.5,602.8 700,602.7 699.5,602.5 699,602.4 698.5,602.3 698.1,602.1 697.6,602 697.1,601.8 696.6,601.7 696.1,601.6 695.6,601.4 695.1,601.3 694.6,601.1 694.1,601 693.6,600.8 693.1,600.7 692.6,600.5 692.1,600.3 691.6,600.2 691.1,600 690.6,599.9 690.1,599.7 689.6,599.5 689.1,599.4 688.6,599.2 688.1,599 687.6,598.9 687.1,598.7 686.7,598.5 686.2,598.3 685.7,598.2 685.2,598 684.7,597.8 684.2,597.6 683.7,597.5 683.2,597.3 682.7,597.1 682.2,596.9 681.7,596.8 681.2,596.6 680.7,596.4 680.2,596.2 679.7,596 679.2,595.9 678.7,595.7 678.2,595.5 677.7,595.3 677.2,595.2 676.7,595 676.2,594.8 675.7,594.6 675.2,594.5 674.8,594.3 674.3,594.1 673.8,594 673.3,593.8 672.8,593.6 672.3,593.5 671.8,593.3 671.3,593.1 670.8,593 670.3,592.8 669.8,592.7 669.3,592.5 668.8,592.3 668.3,592.2 667.8,592 667.3,591.9 666.8,591.7 666.3,591.6 665.8,591.4 665.3,591.3 664.8,591.2 664.3,591 663.8,590.9 663.4,590.8 662.9,590.6 662.4,590.5 661.9,590.4 661.4,590.2 660.9,590.1 660.4,590 659.9,589.9 659.4,589.7 658.9,589.6 658.4,589.5 657.9,589.4 657.4,589.3 656.9,589.2 656.4,589.1 655.9,589 655.4,588.8 654.9,588.7 654.4,588.6 653.9,588.5 653.4,588.4 652.9,588.3 652.4,588.3 651.9,588.2 651.5,588.1 651,588 650.5,587.9 650,587.8 649.5,587.7 649,587.6 648.5,587.6 648,587.5 647.5,587.4 647,587.3 646.5,587.2 646,587.2 645.5,587.1 645,587 644.5,586.9 644,586.9 643.5,586.8 643,586.7 642.5,586.7 642,586.6 641.5,586.5 641,586.5 640.5,586.4 640.1,586.4 639.6,586.3 639.1,586.2 638.6,586.2 638.1,586.1 637.6,586.1 637.1,586 636.6,586" fill="url(#cB)" /><polygon points="668.3,591.8 668.8,591.9 669.3,591.9 669.8,592 670.3,592 670.8,592 671.3,592.1 671.8,592.1 672.3,592 672.8,592 673.3,591.9 673.8,591.8 674.3,591.7 674.8,591.5 675.2,591.4 675.7,591.2 676.2,590.9 676.7,590.7 677.2,590.4 677.7,590 678.2,589.7 678.7,589.3 679.2,588.9 679.7,588.4 680.2,588 680.7,587.5 681.2,587 681.7,586.5 682.2,586 682.7,585.5 683.2,585 683.7,584.5 684.2,584.1 684.7,583.6 685.2,583.2 685.7,582.8 686.2,582.5 686.7,582.2 687.1,581.9 687.6,581.7 688.1,581.6 688.6,581.5 689.1,581.5 689.6,581.6 690.1,581.7 690.6,581.9 691.1,582.2 691.6,582.5 692.1,582.9 692.6,583.4 693.1,583.9 693.6,584.5 694.1,585.1 694.6,585.8 695.1,586.5 695.6,587.2 696.1,588 696.6,588.8 697.1,589.6 697.6,590.4 698.1,591.2 698.5,592 699,592.8 699.5,593.6 700,594.4 700.5,595.2 701,595.9 701.5,596.6 702,597.3 702.5,598 703,598.6 703.5,599.2 704,599.8 704.5,600.3 705,600.8 705.5,601.2 706,601.7 706.5,602.1 707,602.4 707.5,602.8 708,603.1 708.5,603.4 709,603.6 709.5,603.9 710,604.1 710.4,604.3 710.9,604.5 711.4,604.7 711.9,604.9 711.9,605.3 711.4,605.2 710.9,605.1 710.4,605 710,604.9 709.5,604.8 709,604.7 708.5,604.6 708,604.5 707.5,604.4 707,604.3 706.5,604.2 706,604.1 705.5,604 705,603.9 704.5,603.8 704,603.6 703.5,603.5 703,603.4 702.5,603.3 702,603.2 701.5,603 701,602.9 700.5,602.8 700,602.7 699.5,602.5 699,602.4 698.5,602.3 698.1,602.1 697.6,602 697.1,601.8 696.6,601.7 696.1,601.6 695.6,601.4 695.1,601.3 694.6,601.1 694.1,601 693.6,600.8 693.1,600.7 692.6,600.5 692.1,600.3 691.6,600.2 691.1,600 690.6,599.9 690.1,599.7 689.6,599.5 689.1,599.4 688.6,599.2 688.1,599 687.6,598.9 687.1,598.7 686.7,598.5 686.2,598.3 685.7,598.2 685.2,598 684.7,597.8 684.2,597.6 683.7,597.5 683.2,597.3 682.7,597.1 682.2,596.9 681.7,596.8 681.2,596.6 680.7,596.4 680.2,596.2 679.7,596 679.2,595.9 678.7,595.7 678.2,595.5 677.7,595.3 677.2,595.2 676.7,595 676.2,594.8 675.7,594.6 675.2,594.5 674.8,594.3 674.3,594.1 673.8,594 673.3,593.8 672.8,593.6 672.3,593.5 671.8,593.3 671.3,593.1 670.8,593 670.3,592.8 669.8,592.7 669.3,592.5 668.8,592.3 668.3,592.2" fill="url(#cP)" /><polygon points="720.4,606.1 720.9,606.2 721.4,606.2 721.8,606.2 722.3,606.2 722.8,606.2 723.3,606.2 723.8,606.2 724.3,606.2 724.8,606.2 725.3,606.2 725.8,606.2 726.3,606.2 726.8,606.1 727.3,606.1 727.8,606.1 728.3,606 728.8,606 729.3,605.9 729.8,605.8 730.3,605.8 730.8,605.7 731.3,605.6 731.8,605.5 732.3,605.4 732.8,605.2 733.3,605.1 733.7,605 734.2,604.8 734.7,604.7 735.2,604.5 735.7,604.3 736.2,604.1 736.7,603.9 737.2,603.7 737.7,603.5 738.2,603.3 738.7,603 739.2,602.8 739.7,602.5 740.2,602.2 740.7,601.9 741.2,601.6 741.7,601.3 742.2,601 742.7,600.6 743.2,600.3 743.7,599.9 744.2,599.5 744.7,599.1 745.1,598.7 745.6,598.3 746.1,597.9 746.6,597.4 747.1,597 747.6,596.5 748.1,596 748.6,595.6 749.1,595.1 749.6,594.6 750.1,594 750.6,593.5 751.1,593 751.6,592.5 752.1,591.9 752.6,591.4 753.1,590.8 753.6,590.3 754.1,589.7 754.6,589.1 755.1,588.6 755.6,588 756.1,587.4 756.6,586.9 757,586.3 757.5,585.7 758,585.2 758.5,584.6 759,584.1 759.5,583.6 760,583 760.5,582.5 761,582 761.5,581.5 762,581 762.5,580.6 763,580.1 763.5,579.7 764,579.3 764.5,578.9 765,578.5 765.5,578.1 766,577.8 766.5,577.5 767,577.2 767.5,576.9 768,576.6 768.4,576.4 768.9,576.2 769.4,576 769.9,575.9 770.4,575.8 770.9,575.7 771.4,575.6 771.9,575.6 772.4,575.6 772.9,575.6 773.4,575.6 773.9,575.7 774.4,575.8 774.9,576 775.4,576.1 775.9,576.3 776.4,576.6 776.9,576.8 777.4,577.1 777.9,577.4 778.4,577.7 778.9,578.1 779.4,578.5 779.9,578.9 780.3,579.3 780.8,579.8 781.3,580.3 781.8,580.8 782.3,581.3 782.8,581.9 783.3,582.5 783.8,583 784.3,583.7 784.8,584.3 785.3,584.9 785.8,585.6 786.3,586.2 786.8,586.9 787.3,587.6 787.8,588.3 788.3,589 788.8,589.8 789.3,590.5 789.8,591.3 790.3,592 790.8,592.8 791.3,593.5 791.7,594.3 792.2,595.1 792.7,595.8 793.2,596.6 793.7,597.4 794.2,598.1 794.7,598.9 795.2,599.7 795.7,600.4 796.2,601.2 796.7,602 797.2,602.7 797.7,603.5 798.2,604.2 798.7,605 799.2,605.7 799.7,606.5 800.2,607.2 800.7,607.9 801.2,608.6 801.7,609.4 802.2,610.1 802.7,610.8 803.2,611.4 803.6,612.1 804.1,612.8 804.6,613.5 805.1,614.1 805.6,614.8 806.1,615.5 806.6,616.1 807.1,616.7 807.6,617.4 808.1,618 808.6,618.6 809.1,619.2 809.6,619.8 810.1,620.4 810.6,621 811.1,621.6 811.6,622.2 812.1,622.7 812.6,623.3 813.1,623.8 813.6,624.4 814.1,624.9 814.6,625.5 815,626 815.5,626.6 816,627.1 816.5,627.6 817,628.1 817.5,628.6 818,629.1 818.5,629.6 819,630.1 819.5,630.6 820,631.1 820.5,631.6 821,632 821.5,632.5 822,633 822.5,633.4 823,633.9 823.5,634.3 824,634.7 824.5,635.2 825,635.6 825.5,636 826,636.4 826.5,636.9 826.5,637.3 826,636.9 825.5,636.5 825,636.2 824.5,635.8 824,635.4 823.5,635 823,634.6 822.5,634.2 822,633.8 821.5,633.5 821,633.1 820.5,632.7 820,632.3 819.5,631.9 819,631.5 818.5,631.1 818,630.7 817.5,630.3 817,629.9 816.5,629.5 816,629.2 815.5,628.8 815,628.4 814.6,628 814.1,627.6 813.6,627.3 813.1,626.9 812.6,626.5 812.1,626.2 811.6,625.8 811.1,625.5 810.6,625.1 810.1,624.8 809.6,624.4 809.1,624.1 808.6,623.7 808.1,623.4 807.6,623.1 807.1,622.8 806.6,622.5 806.1,622.2 805.6,621.9 805.1,621.6 804.6,621.3 804.1,621 803.6,620.7 803.2,620.4 802.7,620.2 802.2,619.9 801.7,619.6 801.2,619.4 800.7,619.1 800.2,618.9 799.7,618.6 799.2,618.4 798.7,618.2 798.2,618 797.7,617.7 797.2,617.5 796.7,617.3 796.2,617.1 795.7,616.9 795.2,616.7 794.7,616.5 794.2,616.4 793.7,616.2 793.2,616 792.7,615.8 792.2,615.7 791.7,615.5 791.3,615.4 790.8,615.2 790.3,615.1 789.8,614.9 789.3,614.8 788.8,614.6 788.3,614.5 787.8,614.4 787.3,614.2 786.8,614.1 786.3,614 785.8,613.9 785.3,613.7 784.8,613.6 784.3,613.5 783.8,613.4 783.3,613.3 782.8,613.2 782.3,613.1 781.8,613 781.3,612.9 780.8,612.8 780.3,612.7 779.9,612.6 779.4,612.6 778.9,612.5 778.4,612.4 777.9,612.3 777.4,612.2 776.9,612.1 776.4,612.1 775.9,612 775.4,611.9 774.9,611.9 774.4,611.8 773.9,611.7 773.4,611.6 772.9,611.6 772.4,611.5 771.9,611.5 771.4,611.4 770.9,611.3 770.4,611.3 769.9,611.2 769.4,611.2 768.9,611.1 768.4,611 768,611 767.5,610.9 767,610.9 766.5,610.8 766,610.8 765.5,610.7 765,610.7 764.5,610.6 764,610.6 763.5,610.5 763,610.5 762.5,610.4 762,610.4 761.5,610.4 761,610.3 760.5,610.3 760,610.2 759.5,610.2 759,610.1 758.5,610.1 758,610 757.5,610 757,610 756.6,609.9 756.1,609.9 755.6,609.8 755.1,609.8 754.6,609.8 754.1,609.7 753.6,609.7 753.1,609.6 752.6,609.6 752.1,609.6 751.6,609.5 751.1,609.5 750.6,609.4 750.1,609.4 749.6,609.4 749.1,609.3 748.6,609.3 748.1,609.2 747.6,609.2 747.1,609.2 746.6,609.1 746.1,609.1 745.6,609 745.1,609 744.7,609 744.2,608.9 743.7,608.9 743.2,608.8 742.7,608.8 742.2,608.8 741.7,608.7 741.2,608.7 740.7,608.6 740.2,608.6 739.7,608.5 739.2,608.5 738.7,608.5 738.2,608.4 737.7,608.4 737.2,608.3 736.7,608.3 736.2,608.3 735.7,608.2 735.2,608.2 734.7,608.1 734.2,608.1 733.7,608 733.3,608 732.8,607.9 732.3,607.9 731.8,607.8 731.3,607.8 730.8,607.7 730.3,607.7 729.8,607.6 729.3,607.6 728.8,607.5 728.3,607.5 727.8,607.4 727.3,607.4 726.8,607.3 726.3,607.3 725.8,607.2 725.3,607.2 724.8,607.1 724.3,607.1 723.8,607 723.3,606.9 722.8,606.9 722.3,606.8 721.8,606.8 721.4,606.7 720.9,606.6 720.4,606.6" fill="url(#cG)" /><polygon points="770.4,610.8 770.9,610.8 771.4,610.8 771.9,610.8 772.4,610.8 772.9,610.7 773.4,610.7 773.9,610.6 774.4,610.5 774.9,610.4 775.4,610.3 775.9,610.2 776.4,610 776.9,609.8 777.4,609.6 777.9,609.4 778.4,609.1 778.9,608.8 779.4,608.5 779.9,608.2 780.3,607.8 780.8,607.3 781.3,606.9 781.8,606.3 782.3,605.8 782.8,605.1 783.3,604.5 783.8,603.7 784.3,603 784.8,602.1 785.3,601.2 785.8,600.3 786.3,599.3 786.8,598.2 787.3,597 787.8,595.8 788.3,594.6 788.8,593.2 789.3,591.8 789.8,590.4 790.3,588.9 790.8,587.3 791.3,585.7 791.7,584.1 792.2,582.4 792.7,580.6 793.2,578.8 793.7,577 794.2,575.2 794.7,573.3 795.2,571.5 795.7,569.6 796.2,567.8 796.7,565.9 797.2,564.1 797.7,562.3 798.2,560.5 798.7,558.8 799.2,557.2 799.7,555.6 800.2,554.1 800.7,552.6 801.2,551.3 801.7,550.1 802.2,548.9 802.7,547.9 803.2,547 803.6,546.2 804.1,545.6 804.6,545.1 805.1,544.7 805.6,544.5 806.1,544.5 806.6,544.5 807.1,544.8 807.6,545.2 808.1,545.7 808.6,546.4 809.1,547.2 809.6,548.2 810.1,549.4 810.6,550.6 811.1,552 811.6,553.6 812.1,555.2 812.6,557 813.1,558.8 813.6,560.8 814.1,562.8 814.6,565 815,567.2 815.5,569.4 816,571.7 816.5,574.1 817,576.5 817.5,578.9 818,581.3 818.5,583.8 819,586.2 819.5,588.7 820,591.1 820.5,593.5 821,595.9 821.5,598.2 822,600.5 822.5,602.8 823,605 823.5,607.1 824,609.2 824.5,611.3 825,613.2 825.5,615.2 826,617 826.5,618.8 826.9,620.5 827.4,622.1 827.9,623.7 828.4,625.2 828.9,626.6 829.4,627.9 829.9,629.2 830.4,630.5 830.9,631.6 831.4,632.7 831.9,633.8 832.4,634.8 832.9,635.7 833.4,636.6 833.9,637.4 834.4,638.2 834.9,639 835.4,639.7 835.9,640.3 836.4,640.9 836.9,641.5 837.4,642.1 837.9,642.6 838.4,643.1 838.8,643.5 839.3,644 839.8,644.4 840.3,644.8 840.8,645.1 841.3,645.5 841.8,645.8 842.3,646.1 842.8,646.4 843.3,646.7 843.8,647 843.8,647.4 843.3,647.2 842.8,647 842.3,646.8 841.8,646.6 841.3,646.4 840.8,646.1 840.3,645.9 839.8,645.7 839.3,645.4 838.8,645.2 838.4,644.9 837.9,644.7 837.4,644.4 836.9,644.1 836.4,643.8 835.9,643.6 835.4,643.3 834.9,643 834.4,642.7 833.9,642.4 833.4,642.1 832.9,641.8 832.4,641.5 831.9,641.1 831.4,640.8 830.9,640.5 830.4,640.1 829.9,639.8 829.4,639.4 828.9,639.1 828.4,638.7 827.9,638.4 827.4,638 826.9,637.7 826.5,637.3 826,636.9 825.5,636.5 825,636.2 824.5,635.8 824,635.4 823.5,635 823,634.6 822.5,634.2 822,633.8 821.5,633.5 821,633.1 820.5,632.7 820,632.3 819.5,631.9 819,631.5 818.5,631.1 818,630.7 817.5,630.3 817,629.9 816.5,629.5 816,629.2 815.5,628.8 815,628.4 814.6,628 814.1,627.6 813.6,627.3 813.1,626.9 812.6,626.5 812.1,626.2 811.6,625.8 811.1,625.5 810.6,625.1 810.1,624.8 809.6,624.4 809.1,624.1 808.6,623.7 808.1,623.4 807.6,623.1 807.1,622.8 806.6,622.5 806.1,622.2 805.6,621.9 805.1,621.6 804.6,621.3 804.1,621 803.6,620.7 803.2,620.4 802.7,620.2 802.2,619.9 801.7,619.6 801.2,619.4 800.7,619.1 800.2,618.9 799.7,618.6 799.2,618.4 798.7,618.2 798.2,618 797.7,617.7 797.2,617.5 796.7,617.3 796.2,617.1 795.7,616.9 795.2,616.7 794.7,616.5 794.2,616.4 793.7,616.2 793.2,616 792.7,615.8 792.2,615.7 791.7,615.5 791.3,615.4 790.8,615.2 790.3,615.1 789.8,614.9 789.3,614.8 788.8,614.6 788.3,614.5 787.8,614.4 787.3,614.2 786.8,614.1 786.3,614 785.8,613.9 785.3,613.7 784.8,613.6 784.3,613.5 783.8,613.4 783.3,613.3 782.8,613.2 782.3,613.1 781.8,613 781.3,612.9 780.8,612.8 780.3,612.7 779.9,612.6 779.4,612.6 778.9,612.5 778.4,612.4 777.9,612.3 777.4,612.2 776.9,612.1 776.4,612.1 775.9,612 775.4,611.9 774.9,611.9 774.4,611.8 773.9,611.7 773.4,611.6 772.9,611.6 772.4,611.5 771.9,611.5 771.4,611.4 770.9,611.3 770.4,611.3" fill="url(#cB)" /><polygon points="804.6,620.8 805.1,621 805.6,621.2 806.1,621.3 806.6,621.4 807.1,621.5 807.6,621.6 808.1,621.6 808.6,621.6 809.1,621.6 809.6,621.5 810.1,621.3 810.6,621.1 811.1,620.8 811.6,620.5 812.1,620.1 812.6,619.6 813.1,619.1 813.6,618.4 814.1,617.7 814.6,617 815,616.1 815.5,615.2 816,614.3 816.5,613.3 817,612.2 817.5,611.2 818,610.1 818.5,609 819,607.9 819.5,606.9 820,605.9 820.5,605 821,604.2 821.5,603.4 822,602.8 822.5,602.3 823,602 823.5,601.8 824,601.7 824.5,601.9 825,602.2 825.5,602.6 826,603.3 826.5,604.1 826.9,605 827.4,606.1 827.9,607.4 828.4,608.7 828.9,610.2 829.4,611.8 829.9,613.4 830.4,615.2 830.9,616.9 831.4,618.7 831.9,620.5 832.4,622.3 832.9,624.1 833.4,625.8 833.9,627.5 834.4,629.2 834.9,630.7 835.4,632.2 835.9,633.7 836.4,635 836.9,636.3 837.4,637.5 837.9,638.6 838.4,639.6 838.8,640.6 839.3,641.4 839.8,642.2 840.3,643 840.8,643.6 841.3,644.2 841.8,644.8 842.3,645.3 842.8,645.8 843.3,646.2 843.8,646.6 844.3,646.9 844.8,647.2 845.3,647.5 845.3,648 844.8,647.8 844.3,647.6 843.8,647.4 843.3,647.2 842.8,647 842.3,646.8 841.8,646.6 841.3,646.4 840.8,646.1 840.3,645.9 839.8,645.7 839.3,645.4 838.8,645.2 838.4,644.9 837.9,644.7 837.4,644.4 836.9,644.1 836.4,643.8 835.9,643.6 835.4,643.3 834.9,643 834.4,642.7 833.9,642.4 833.4,642.1 832.9,641.8 832.4,641.5 831.9,641.1 831.4,640.8 830.9,640.5 830.4,640.1 829.9,639.8 829.4,639.4 828.9,639.1 828.4,638.7 827.9,638.4 827.4,638 826.9,637.7 826.5,637.3 826,636.9 825.5,636.5 825,636.2 824.5,635.8 824,635.4 823.5,635 823,634.6 822.5,634.2 822,633.8 821.5,633.5 821,633.1 820.5,632.7 820,632.3 819.5,631.9 819,631.5 818.5,631.1 818,630.7 817.5,630.3 817,629.9 816.5,629.5 816,629.2 815.5,628.8 815,628.4 814.6,628 814.1,627.6 813.6,627.3 813.1,626.9 812.6,626.5 812.1,626.2 811.6,625.8 811.1,625.5 810.6,625.1 810.1,624.8 809.6,624.4 809.1,624.1 808.6,623.7 808.1,623.4 807.6,623.1 807.1,622.8 806.6,622.5 806.1,622.2 805.6,621.9 805.1,621.6 804.6,621.3" fill="url(#cP)" /><polyline points="517.6,578.5 519.6,578.6 521.6,578.7 523.5,578.8 525.5,578.9 527.5,579.1 529.5,579.2 531.5,579.3 533.5,579.4 535.4,579.5 537.4,579.6 539.4,579.7 541.4,579.8 543.4,579.9 545.4,580 547.3,580.2 549.3,580.3 551.3,580.4 553.3,580.5 555.3,580.6 557.3,580.7 559.2,580.8 561.2,580.9 563.2,581 565.2,581.1 567.2,581.3 569.2,581.4 571.1,581.5 573.1,581.6 575.1,581.7 577.1,581.8 579.1,581.9 581.1,582 583,582.2 585,582.3 587,582.4 589,582.5 591,582.6 593,582.7 594.9,582.8 596.9,583 598.9,583.1 600.9,583.2 602.9,583.3 604.9,583.4 606.8,583.6 608.8,583.7 610.8,583.8 612.8,584 614.8,584.1 616.8,584.2 618.7,584.4 620.7,584.5 622.7,584.7 624.7,584.8 626.7,585 628.6,585.2 630.6,585.4 632.6,585.5 634.6,585.7 636.6,586 638.6,586.2 640.5,586.4 642.5,586.7 644.5,586.9 646.5,587.2 648.5,587.6 650.5,587.9 652.4,588.3 654.4,588.6 656.4,589.1 658.4,589.5 660.4,590 662.4,590.5 664.3,591 666.3,591.6 668.3,592.2 670.3,592.8 672.3,593.5 674.3,594.1 676.2,594.8 678.2,595.5 680.2,596.2 682.2,596.9 684.2,597.6 686.2,598.3 688.1,599 690.1,599.7 692.1,600.3 694.1,601 696.1,601.6 698.1,602.1 700,602.7 702,603.2 704,603.6 706,604.1 708,604.5 710,604.9 711.9,605.3 713.9,605.6 715.9,605.9 717.9,606.2 719.9,606.5 721.8,606.8 723.8,607 725.8,607.2 727.8,607.4 729.8,607.6 731.8,607.8 733.7,608 735.7,608.2 737.7,608.4 739.7,608.5 741.7,608.7 743.7,608.9 745.6,609 747.6,609.2 749.6,609.4 751.6,609.5 753.6,609.7 755.6,609.8 757.5,610 759.5,610.2 761.5,610.4 763.5,610.5 765.5,610.7 767.5,610.9 769.4,611.2 771.4,611.4 773.4,611.6 775.4,611.9 777.4,612.2 779.4,612.6 781.3,612.9 783.3,613.3 785.3,613.7 787.3,614.2 789.3,614.8 791.3,615.4 793.2,616 795.2,616.7 797.2,617.5 799.2,618.4 801.2,619.4 803.2,620.4 805.1,621.6 807.1,622.8 809.1,624.1 811.1,625.5 813.1,626.9 815,628.4 817,629.9 819,631.5 821,633.1 823,634.6 825,636.2 826.9,637.7 828.9,639.1 830.9,640.5 832.9,641.8 834.9,643 836.9,644.1 838.8,645.2 840.8,646.1 842.8,647 844.8,647.8 846.8,648.5 848.8,649.2 850.7,649.8 852.7,650.3 854.7,650.8 856.7,651.2 858.7,651.6 860.7,652 862.6,652.3 864.6,652.6 866.6,652.9 868.6,653.1 870.6,653.3 872.6,653.6 874.5,653.8 876.5,653.9 878.5,654.1 880.5,654.3 882.5,654.4 884.5,654.6 886.4,654.7 888.4,654.9 890.4,655 892.4,655.2 894.4,655.3 896.4,655.4 898.3,655.5 900.3,655.7 902.3,655.8 904.3,655.9 906.3,656 908.3,656.1 910.2,656.2 912.2,656.4 914.2,656.5" fill="none" stroke="#9a9a9a" stroke-width="0.9" /><circle cx="517.6" cy="582.2" r="2.5" fill="#fff" fill-opacity="0.25" stroke="#6a6e82" stroke-width="0.9"/><circle cx="519" cy="577.5" r="2.5" fill="#fff" fill-opacity="0.25" stroke="#7e7a42" stroke-width="0.9"/><circle cx="520.4" cy="579.3" r="2.5" fill="#fff" fill-opacity="0.25" stroke="#8a8e98" stroke-width="0.9"/><circle cx="521.8" cy="579" r="2.5" fill="#fff" fill-opacity="0.25" stroke="#6e6a34" stroke-width="0.9"/><circle cx="523.2" cy="580.1" r="2.5" fill="#fff" fill-opacity="0.25" stroke="#909050" stroke-width="0.9"/><circle cx="524.5" cy="576.6" r="2.5" fill="#fff" fill-opacity="0.25" stroke="#6a6e82" stroke-width="0.9"/><circle cx="525.9" cy="578.3" r="2.5" fill="#fff" fill-opacity="0.25" stroke="#7e7a42" stroke-width="0.9"/><circle cx="527.3" cy="577.8" r="2.5" fill="#fff" fill-opacity="0.25" stroke="#8a8e98" stroke-width="0.9"/><circle cx="528.7" cy="577.4" r="2.5" fill="#fff" fill-opacity="0.25" stroke="#6e6a34" stroke-width="0.9"/><circle cx="530.1" cy="577.8" r="2.5" fill="#fff" fill-opacity="0.25" stroke="#909050" stroke-width="0.9"/><circle cx="531.5" cy="578.5" r="2.5" fill="#fff" fill-opacity="0.25" stroke="#6a6e82" stroke-width="0.9"/><circle cx="532.9" cy="578.9" r="2.5" fill="#fff" fill-opacity="0.25" stroke="#7e7a42" stroke-width="0.9"/><circle cx="534.3" cy="578" r="2.5" fill="#fff" fill-opacity="0.25" stroke="#8a8e98" stroke-width="0.9"/><circle cx="535.6" cy="580.2" r="2.5" fill="#fff" fill-opacity="0.25" stroke="#6e6a34" stroke-width="0.9"/><circle cx="537" cy="578.7" r="2.5" fill="#fff" fill-opacity="0.25" stroke="#909050" stroke-width="0.9"/><circle cx="538.4" cy="574.5" r="2.5" fill="#fff" fill-opacity="0.25" stroke="#6a6e82" stroke-width="0.9"/><circle cx="539.8" cy="581.6" r="2.5" fill="#fff" fill-opacity="0.25" stroke="#7e7a42" stroke-width="0.9"/><circle cx="541.2" cy="579.2" r="2.5" fill="#fff" fill-opacity="0.25" stroke="#8a8e98" stroke-width="0.9"/><circle cx="542.6" cy="578.7" r="2.5" fill="#fff" fill-opacity="0.25" stroke="#6e6a34" stroke-width="0.9"/><circle cx="544" cy="580.4" r="2.5" fill="#fff" fill-opacity="0.25" stroke="#909050" stroke-width="0.9"/><circle cx="545.4" cy="580.4" r="2.5" fill="#fff" fill-opacity="0.25" stroke="#6a6e82" stroke-width="0.9"/><circle cx="546.8" cy="580.2" r="2.5" fill="#fff" fill-opacity="0.25" stroke="#7e7a42" stroke-width="0.9"/><circle cx="548.1" cy="578.8" r="2.5" fill="#fff" fill-opacity="0.25" stroke="#8a8e98" stroke-width="0.9"/><circle cx="549.5" cy="580.6" r="2.5" fill="#fff" fill-opacity="0.25" stroke="#6e6a34" stroke-width="0.9"/><circle cx="550.9" cy="577.9" r="2.5" fill="#fff" fill-opacity="0.25" stroke="#909050" stroke-width="0.9"/><circle cx="552.3" cy="582.7" r="2.5" fill="#fff" fill-opacity="0.25" stroke="#6a6e82" stroke-width="0.9"/><circle cx="553.7" cy="578.5" r="2.5" fill="#fff" fill-opacity="0.25" stroke="#7e7a42" stroke-width="0.9"/><circle cx="555.1" cy="580.3" r="2.5" fill="#fff" fill-opacity="0.25" stroke="#8a8e98" stroke-width="0.9"/><circle cx="556.5" cy="580.7" r="2.5" fill="#fff" fill-opacity="0.25" stroke="#6e6a34" stroke-width="0.9"/><circle cx="557.9" cy="581.1" r="2.5" fill="#fff" fill-opacity="0.25" stroke="#909050" stroke-width="0.9"/><circle cx="559.2" cy="580.4" r="2.5" fill="#fff" fill-opacity="0.25" stroke="#6a6e82" stroke-width="0.9"/><circle cx="560.6" cy="581.7" r="2.5" fill="#fff" fill-opacity="0.25" stroke="#7e7a42" stroke-width="0.9"/><circle cx="562" cy="575.2" r="2.5" fill="#fff" fill-opacity="0.25" stroke="#8a8e98" stroke-width="0.9"/><circle cx="563.4" cy="580.7" r="2.5" fill="#fff" fill-opacity="0.25" stroke="#6e6a34" stroke-width="0.9"/><circle cx="564.8" cy="580.7" r="2.5" fill="#fff" fill-opacity="0.25" stroke="#909050" stroke-width="0.9"/><circle cx="566.2" cy="580.3" r="2.5" fill="#fff" fill-opacity="0.25" stroke="#6a6e82" stroke-width="0.9"/><circle cx="567.6" cy="583.5" r="2.5" fill="#fff" fill-opacity="0.25" stroke="#7e7a42" stroke-width="0.9"/><circle cx="569" cy="579.6" r="2.5" fill="#fff" fill-opacity="0.25" stroke="#8a8e98" stroke-width="0.9"/><circle cx="570.3" cy="581.1" r="2.5" fill="#fff" fill-opacity="0.25" stroke="#6e6a34" stroke-width="0.9"/><circle cx="571.7" cy="578" r="2.5" fill="#fff" fill-opacity="0.25" stroke="#909050" stroke-width="0.9"/><circle cx="573.1" cy="581.8" r="2.5" fill="#fff" fill-opacity="0.25" stroke="#6a6e82" stroke-width="0.9"/><circle cx="574.5" cy="578.8" r="2.5" fill="#fff" fill-opacity="0.25" stroke="#7e7a42" stroke-width="0.9"/><circle cx="575.9" cy="579" r="2.5" fill="#fff" fill-opacity="0.25" stroke="#8a8e98" stroke-width="0.9"/><circle cx="577.3" cy="585.4" r="2.5" fill="#fff" fill-opacity="0.25" stroke="#6e6a34" stroke-width="0.9"/><circle cx="578.7" cy="582.8" r="2.5" fill="#fff" fill-opacity="0.25" stroke="#909050" stroke-width="0.9"/><circle cx="580.1" cy="581.7" r="2.5" fill="#fff" fill-opacity="0.25" stroke="#6a6e82" stroke-width="0.9"/><circle cx="581.5" cy="582.1" r="2.5" fill="#fff" fill-opacity="0.25" stroke="#7e7a42" stroke-width="0.9"/><circle cx="582.8" cy="579.5" r="2.5" fill="#fff" fill-opacity="0.25" stroke="#8a8e98" stroke-width="0.9"/><circle cx="584.2" cy="580.2" r="2.5" fill="#fff" fill-opacity="0.25" stroke="#6e6a34" stroke-width="0.9"/><circle cx="585.6" cy="582.6" r="2.5" fill="#fff" fill-opacity="0.25" stroke="#909050" stroke-width="0.9"/><circle cx="587" cy="578.6" r="2.5" fill="#fff" fill-opacity="0.25" stroke="#6a6e82" stroke-width="0.9"/><circle cx="588.4" cy="582.5" r="2.5" fill="#fff" fill-opacity="0.25" stroke="#7e7a42" stroke-width="0.9"/><circle cx="589.8" cy="579.2" r="2.5" fill="#fff" fill-opacity="0.25" stroke="#8a8e98" stroke-width="0.9"/><circle cx="591.2" cy="582.3" r="2.5" fill="#fff" fill-opacity="0.25" stroke="#6e6a34" stroke-width="0.9"/><circle cx="592.6" cy="580.3" r="2.5" fill="#fff" fill-opacity="0.25" stroke="#909050" stroke-width="0.9"/><circle cx="593.9" cy="584.9" r="2.5" fill="#fff" fill-opacity="0.25" stroke="#6a6e82" stroke-width="0.9"/><circle cx="595.3" cy="583.7" r="2.5" fill="#fff" fill-opacity="0.25" stroke="#7e7a42" stroke-width="0.9"/><circle cx="596.7" cy="581.2" r="2.5" fill="#fff" fill-opacity="0.25" stroke="#8a8e98" stroke-width="0.9"/><circle cx="598.1" cy="578.9" r="2.5" fill="#fff" fill-opacity="0.25" stroke="#6e6a34" stroke-width="0.9"/><circle cx="599.5" cy="580.6" r="2.5" fill="#fff" fill-opacity="0.25" stroke="#909050" stroke-width="0.9"/><circle cx="600.9" cy="581.7" r="2.5" fill="#fff" fill-opacity="0.25" stroke="#6a6e82" stroke-width="0.9"/><circle cx="602.3" cy="580" r="2.5" fill="#fff" fill-opacity="0.25" stroke="#7e7a42" stroke-width="0.9"/><circle cx="603.7" cy="582" r="2.5" fill="#fff" fill-opacity="0.25" stroke="#8a8e98" stroke-width="0.9"/><circle cx="605.1" cy="583" r="2.5" fill="#fff" fill-opacity="0.25" stroke="#6e6a34" stroke-width="0.9"/><circle cx="606.4" cy="581.1" r="2.5" fill="#fff" fill-opacity="0.25" stroke="#909050" stroke-width="0.9"/><circle cx="607.8" cy="580.3" r="2.5" fill="#fff" fill-opacity="0.25" stroke="#6a6e82" stroke-width="0.9"/><circle cx="609.2" cy="582" r="2.5" fill="#fff" fill-opacity="0.25" stroke="#7e7a42" stroke-width="0.9"/><circle cx="610.6" cy="580" r="2.5" fill="#fff" fill-opacity="0.25" stroke="#8a8e98" stroke-width="0.9"/><circle cx="612" cy="581.6" r="2.5" fill="#fff" fill-opacity="0.25" stroke="#6e6a34" stroke-width="0.9"/><circle cx="613.4" cy="579.4" r="2.5" fill="#fff" fill-opacity="0.25" stroke="#909050" stroke-width="0.9"/><circle cx="614.8" cy="582.2" r="2.5" fill="#fff" fill-opacity="0.25" stroke="#6a6e82" stroke-width="0.9"/><circle cx="616.2" cy="578.9" r="2.5" fill="#fff" fill-opacity="0.25" stroke="#7e7a42" stroke-width="0.9"/><circle cx="617.5" cy="577.3" r="2.5" fill="#fff" fill-opacity="0.25" stroke="#8a8e98" stroke-width="0.9"/><circle cx="618.9" cy="578.8" r="2.5" fill="#fff" fill-opacity="0.25" stroke="#6e6a34" stroke-width="0.9"/><circle cx="620.3" cy="577.3" r="2.5" fill="#fff" fill-opacity="0.25" stroke="#909050" stroke-width="0.9"/><circle cx="621.7" cy="576.5" r="2.5" fill="#fff" fill-opacity="0.25" stroke="#6a6e82" stroke-width="0.9"/><circle cx="623.1" cy="577.5" r="2.5" fill="#fff" fill-opacity="0.25" stroke="#7e7a42" stroke-width="0.9"/><circle cx="624.5" cy="578.7" r="2.5" fill="#fff" fill-opacity="0.25" stroke="#8a8e98" stroke-width="0.9"/><circle cx="625.9" cy="573.7" r="2.5" fill="#fff" fill-opacity="0.25" stroke="#6e6a34" stroke-width="0.9"/><circle cx="627.3" cy="576.9" r="2.5" fill="#fff" fill-opacity="0.25" stroke="#909050" stroke-width="0.9"/><circle cx="628.6" cy="576.5" r="2.5" fill="#fff" fill-opacity="0.25" stroke="#6a6e82" stroke-width="0.9"/><circle cx="630" cy="576.4" r="2.5" fill="#fff" fill-opacity="0.25" stroke="#7e7a42" stroke-width="0.9"/><circle cx="631.4" cy="577.8" r="2.5" fill="#fff" fill-opacity="0.25" stroke="#8a8e98" stroke-width="0.9"/><circle cx="632.8" cy="574.3" r="2.5" fill="#fff" fill-opacity="0.25" stroke="#6e6a34" stroke-width="0.9"/><circle cx="634.2" cy="577.4" r="2.5" fill="#fff" fill-opacity="0.25" stroke="#909050" stroke-width="0.9"/><circle cx="635.6" cy="576" r="2.5" fill="#fff" fill-opacity="0.25" stroke="#6a6e82" stroke-width="0.9"/><circle cx="637" cy="576.5" r="2.5" fill="#fff" fill-opacity="0.25" stroke="#7e7a42" stroke-width="0.9"/><circle cx="638.4" cy="576" r="2.5" fill="#fff" fill-opacity="0.25" stroke="#8a8e98" stroke-width="0.9"/><circle cx="639.8" cy="575.9" r="2.5" fill="#fff" fill-opacity="0.25" stroke="#6e6a34" stroke-width="0.9"/><circle cx="641.1" cy="575.6" r="2.5" fill="#fff" fill-opacity="0.25" stroke="#909050" stroke-width="0.9"/><circle cx="642.5" cy="577.2" r="2.5" fill="#fff" fill-opacity="0.25" stroke="#6a6e82" stroke-width="0.9"/><circle cx="643.9" cy="579.9" r="2.5" fill="#fff" fill-opacity="0.25" stroke="#7e7a42" stroke-width="0.9"/><circle cx="645.3" cy="578.2" r="2.5" fill="#fff" fill-opacity="0.25" stroke="#8a8e98" stroke-width="0.9"/><circle cx="646.7" cy="577.8" r="2.5" fill="#fff" fill-opacity="0.25" stroke="#6e6a34" stroke-width="0.9"/><circle cx="648.1" cy="577.1" r="2.5" fill="#fff" fill-opacity="0.25" stroke="#909050" stroke-width="0.9"/><circle cx="649.5" cy="575.1" r="2.5" fill="#fff" fill-opacity="0.25" stroke="#6a6e82" stroke-width="0.9"/><circle cx="650.9" cy="576.5" r="2.5" fill="#fff" fill-opacity="0.25" stroke="#7e7a42" stroke-width="0.9"/><circle cx="652.2" cy="578.3" r="2.5" fill="#fff" fill-opacity="0.25" stroke="#8a8e98" stroke-width="0.9"/><circle cx="653.6" cy="572.2" r="2.5" fill="#fff" fill-opacity="0.25" stroke="#6e6a34" stroke-width="0.9"/><circle cx="655" cy="574.8" r="2.5" fill="#fff" fill-opacity="0.25" stroke="#909050" stroke-width="0.9"/><circle cx="656.4" cy="574.2" r="2.5" fill="#fff" fill-opacity="0.25" stroke="#6a6e82" stroke-width="0.9"/><circle cx="657.8" cy="572" r="2.5" fill="#fff" fill-opacity="0.25" stroke="#7e7a42" stroke-width="0.9"/><circle cx="659.2" cy="571.6" r="2.5" fill="#fff" fill-opacity="0.25" stroke="#8a8e98" stroke-width="0.9"/><circle cx="660.6" cy="571.4" r="2.5" fill="#fff" fill-opacity="0.25" stroke="#6e6a34" stroke-width="0.9"/><circle cx="662" cy="571.5" r="2.5" fill="#fff" fill-opacity="0.25" stroke="#909050" stroke-width="0.9"/><circle cx="663.4" cy="568.8" r="2.5" fill="#fff" fill-opacity="0.25" stroke="#6a6e82" stroke-width="0.9"/><circle cx="664.7" cy="568.1" r="2.5" fill="#fff" fill-opacity="0.25" stroke="#7e7a42" stroke-width="0.9"/><circle cx="666.1" cy="564.9" r="2.5" fill="#fff" fill-opacity="0.25" stroke="#8a8e98" stroke-width="0.9"/><circle cx="667.5" cy="564.7" r="2.5" fill="#fff" fill-opacity="0.25" stroke="#6e6a34" stroke-width="0.9"/><circle cx="668.9" cy="562.8" r="2.5" fill="#fff" fill-opacity="0.25" stroke="#909050" stroke-width="0.9"/><circle cx="670.3" cy="562.3" r="2.5" fill="#fff" fill-opacity="0.25" stroke="#6a6e82" stroke-width="0.9"/><circle cx="671.7" cy="560.5" r="2.5" fill="#fff" fill-opacity="0.25" stroke="#7e7a42" stroke-width="0.9"/><circle cx="673.1" cy="561.9" r="2.5" fill="#fff" fill-opacity="0.25" stroke="#8a8e98" stroke-width="0.9"/><circle cx="674.5" cy="562.9" r="2.5" fill="#fff" fill-opacity="0.25" stroke="#6e6a34" stroke-width="0.9"/><circle cx="675.8" cy="560.2" r="2.5" fill="#fff" fill-opacity="0.25" stroke="#909050" stroke-width="0.9"/><circle cx="677.2" cy="560.8" r="2.5" fill="#fff" fill-opacity="0.25" stroke="#6a6e82" stroke-width="0.9"/><circle cx="678.6" cy="561.4" r="2.5" fill="#fff" fill-opacity="0.25" stroke="#7e7a42" stroke-width="0.9"/><circle cx="680" cy="560.5" r="2.5" fill="#fff" fill-opacity="0.25" stroke="#8a8e98" stroke-width="0.9"/><circle cx="681.4" cy="562.1" r="2.5" fill="#fff" fill-opacity="0.25" stroke="#6e6a34" stroke-width="0.9"/><circle cx="682.8" cy="561.3" r="2.5" fill="#fff" fill-opacity="0.25" stroke="#909050" stroke-width="0.9"/><circle cx="684.2" cy="559.5" r="2.5" fill="#fff" fill-opacity="0.25" stroke="#6a6e82" stroke-width="0.9"/><circle cx="685.6" cy="560.5" r="2.5" fill="#fff" fill-opacity="0.25" stroke="#7e7a42" stroke-width="0.9"/><circle cx="686.9" cy="564.5" r="2.5" fill="#fff" fill-opacity="0.25" stroke="#8a8e98" stroke-width="0.9"/><circle cx="688.3" cy="565.8" r="2.5" fill="#fff" fill-opacity="0.25" stroke="#6e6a34" stroke-width="0.9"/><circle cx="689.7" cy="568.6" r="2.5" fill="#fff" fill-opacity="0.25" stroke="#909050" stroke-width="0.9"/><circle cx="691.1" cy="569.7" r="2.5" fill="#fff" fill-opacity="0.25" stroke="#6a6e82" stroke-width="0.9"/><circle cx="692.5" cy="572.4" r="2.5" fill="#fff" fill-opacity="0.25" stroke="#7e7a42" stroke-width="0.9"/><circle cx="693.9" cy="572.8" r="2.5" fill="#fff" fill-opacity="0.25" stroke="#8a8e98" stroke-width="0.9"/><circle cx="695.3" cy="581" r="2.5" fill="#fff" fill-opacity="0.25" stroke="#6e6a34" stroke-width="0.9"/><circle cx="696.7" cy="580.7" r="2.5" fill="#fff" fill-opacity="0.25" stroke="#909050" stroke-width="0.9"/><circle cx="698.1" cy="587.3" r="2.5" fill="#fff" fill-opacity="0.25" stroke="#6a6e82" stroke-width="0.9"/><circle cx="699.4" cy="587.1" r="2.5" fill="#fff" fill-opacity="0.25" stroke="#7e7a42" stroke-width="0.9"/><circle cx="700.8" cy="590.9" r="2.5" fill="#fff" fill-opacity="0.25" stroke="#8a8e98" stroke-width="0.9"/><circle cx="702.2" cy="594.9" r="2.5" fill="#fff" fill-opacity="0.25" stroke="#6e6a34" stroke-width="0.9"/><circle cx="703.6" cy="596.3" r="2.5" fill="#fff" fill-opacity="0.25" stroke="#909050" stroke-width="0.9"/><circle cx="705" cy="597.8" r="2.5" fill="#fff" fill-opacity="0.25" stroke="#6a6e82" stroke-width="0.9"/><circle cx="706.4" cy="602" r="2.5" fill="#fff" fill-opacity="0.25" stroke="#7e7a42" stroke-width="0.9"/><circle cx="707.8" cy="602.9" r="2.5" fill="#fff" fill-opacity="0.25" stroke="#8a8e98" stroke-width="0.9"/><circle cx="709.2" cy="603.5" r="2.5" fill="#fff" fill-opacity="0.25" stroke="#6e6a34" stroke-width="0.9"/><circle cx="710.5" cy="603.1" r="2.5" fill="#fff" fill-opacity="0.25" stroke="#909050" stroke-width="0.9"/><circle cx="711.9" cy="603" r="2.5" fill="#fff" fill-opacity="0.25" stroke="#6a6e82" stroke-width="0.9"/><circle cx="713.3" cy="604" r="2.5" fill="#fff" fill-opacity="0.25" stroke="#7e7a42" stroke-width="0.9"/><circle cx="714.7" cy="604.3" r="2.5" fill="#fff" fill-opacity="0.25" stroke="#8a8e98" stroke-width="0.9"/><circle cx="716.1" cy="605.4" r="2.5" fill="#fff" fill-opacity="0.25" stroke="#6e6a34" stroke-width="0.9"/><circle cx="717.5" cy="606.9" r="2.5" fill="#fff" fill-opacity="0.25" stroke="#909050" stroke-width="0.9"/><circle cx="718.9" cy="605.6" r="2.5" fill="#fff" fill-opacity="0.25" stroke="#6a6e82" stroke-width="0.9"/><circle cx="720.3" cy="604.7" r="2.5" fill="#fff" fill-opacity="0.25" stroke="#7e7a42" stroke-width="0.9"/><circle cx="721.7" cy="605.1" r="2.5" fill="#fff" fill-opacity="0.25" stroke="#8a8e98" stroke-width="0.9"/><circle cx="723" cy="608.2" r="2.5" fill="#fff" fill-opacity="0.25" stroke="#6e6a34" stroke-width="0.9"/><circle cx="724.4" cy="606.4" r="2.5" fill="#fff" fill-opacity="0.25" stroke="#909050" stroke-width="0.9"/><circle cx="725.8" cy="606.5" r="2.5" fill="#fff" fill-opacity="0.25" stroke="#6a6e82" stroke-width="0.9"/><circle cx="727.2" cy="606.5" r="2.5" fill="#fff" fill-opacity="0.25" stroke="#7e7a42" stroke-width="0.9"/><circle cx="728.6" cy="606.9" r="2.5" fill="#fff" fill-opacity="0.25" stroke="#8a8e98" stroke-width="0.9"/><circle cx="730" cy="606" r="2.5" fill="#fff" fill-opacity="0.25" stroke="#6e6a34" stroke-width="0.9"/><circle cx="731.4" cy="607.4" r="2.5" fill="#fff" fill-opacity="0.25" stroke="#909050" stroke-width="0.9"/><circle cx="732.8" cy="606.5" r="2.5" fill="#fff" fill-opacity="0.25" stroke="#6a6e82" stroke-width="0.9"/><circle cx="734.1" cy="600.3" r="2.5" fill="#fff" fill-opacity="0.25" stroke="#7e7a42" stroke-width="0.9"/><circle cx="735.5" cy="604.2" r="2.5" fill="#fff" fill-opacity="0.25" stroke="#8a8e98" stroke-width="0.9"/><circle cx="736.9" cy="608.6" r="2.5" fill="#fff" fill-opacity="0.25" stroke="#6e6a34" stroke-width="0.9"/><circle cx="738.3" cy="601.1" r="2.5" fill="#fff" fill-opacity="0.25" stroke="#909050" stroke-width="0.9"/><circle cx="739.7" cy="602.7" r="2.5" fill="#fff" fill-opacity="0.25" stroke="#6a6e82" stroke-width="0.9"/><circle cx="741.1" cy="603.4" r="2.5" fill="#fff" fill-opacity="0.25" stroke="#7e7a42" stroke-width="0.9"/><circle cx="742.5" cy="600.8" r="2.5" fill="#fff" fill-opacity="0.25" stroke="#8a8e98" stroke-width="0.9"/><circle cx="743.9" cy="601.9" r="2.5" fill="#fff" fill-opacity="0.25" stroke="#6e6a34" stroke-width="0.9"/><circle cx="745.2" cy="596.6" r="2.5" fill="#fff" fill-opacity="0.25" stroke="#909050" stroke-width="0.9"/><circle cx="746.6" cy="595.4" r="2.5" fill="#fff" fill-opacity="0.25" stroke="#6a6e82" stroke-width="0.9"/><circle cx="748" cy="595.8" r="2.5" fill="#fff" fill-opacity="0.25" stroke="#7e7a42" stroke-width="0.9"/><circle cx="749.4" cy="593.6" r="2.5" fill="#fff" fill-opacity="0.25" stroke="#8a8e98" stroke-width="0.9"/><circle cx="750.8" cy="591.6" r="2.5" fill="#fff" fill-opacity="0.25" stroke="#6e6a34" stroke-width="0.9"/><circle cx="752.2" cy="592.7" r="2.5" fill="#fff" fill-opacity="0.25" stroke="#909050" stroke-width="0.9"/><circle cx="753.6" cy="590.7" r="2.5" fill="#fff" fill-opacity="0.25" stroke="#6a6e82" stroke-width="0.9"/><circle cx="755" cy="588.7" r="2.5" fill="#fff" fill-opacity="0.25" stroke="#7e7a42" stroke-width="0.9"/><circle cx="756.4" cy="586.4" r="2.5" fill="#fff" fill-opacity="0.25" stroke="#8a8e98" stroke-width="0.9"/><circle cx="757.7" cy="585.9" r="2.5" fill="#fff" fill-opacity="0.25" stroke="#6e6a34" stroke-width="0.9"/><circle cx="759.1" cy="583.8" r="2.5" fill="#fff" fill-opacity="0.25" stroke="#909050" stroke-width="0.9"/><circle cx="760.5" cy="581.3" r="2.5" fill="#fff" fill-opacity="0.25" stroke="#6a6e82" stroke-width="0.9"/><circle cx="761.9" cy="581.9" r="2.5" fill="#fff" fill-opacity="0.25" stroke="#7e7a42" stroke-width="0.9"/><circle cx="763.3" cy="580.4" r="2.5" fill="#fff" fill-opacity="0.25" stroke="#8a8e98" stroke-width="0.9"/><circle cx="764.7" cy="578.8" r="2.5" fill="#fff" fill-opacity="0.25" stroke="#6e6a34" stroke-width="0.9"/><circle cx="766.1" cy="578.7" r="2.5" fill="#fff" fill-opacity="0.25" stroke="#909050" stroke-width="0.9"/><circle cx="767.5" cy="574.9" r="2.5" fill="#fff" fill-opacity="0.25" stroke="#6a6e82" stroke-width="0.9"/><circle cx="768.8" cy="575.7" r="2.5" fill="#fff" fill-opacity="0.25" stroke="#7e7a42" stroke-width="0.9"/><circle cx="770.2" cy="574.6" r="2.5" fill="#fff" fill-opacity="0.25" stroke="#8a8e98" stroke-width="0.9"/><circle cx="771.6" cy="577.1" r="2.5" fill="#fff" fill-opacity="0.25" stroke="#6e6a34" stroke-width="0.9"/><circle cx="773" cy="575.5" r="2.5" fill="#fff" fill-opacity="0.25" stroke="#909050" stroke-width="0.9"/><circle cx="774.4" cy="578" r="2.5" fill="#fff" fill-opacity="0.25" stroke="#6a6e82" stroke-width="0.9"/><circle cx="775.8" cy="577" r="2.5" fill="#fff" fill-opacity="0.25" stroke="#7e7a42" stroke-width="0.9"/><circle cx="777.2" cy="573.9" r="2.5" fill="#fff" fill-opacity="0.25" stroke="#8a8e98" stroke-width="0.9"/><circle cx="778.6" cy="572.7" r="2.5" fill="#fff" fill-opacity="0.25" stroke="#6e6a34" stroke-width="0.9"/><circle cx="780" cy="575.2" r="2.5" fill="#fff" fill-opacity="0.25" stroke="#909050" stroke-width="0.9"/><circle cx="781.3" cy="573.8" r="2.5" fill="#fff" fill-opacity="0.25" stroke="#6a6e82" stroke-width="0.9"/><circle cx="782.7" cy="573.6" r="2.5" fill="#fff" fill-opacity="0.25" stroke="#7e7a42" stroke-width="0.9"/><circle cx="784.1" cy="571.5" r="2.5" fill="#fff" fill-opacity="0.25" stroke="#8a8e98" stroke-width="0.9"/><circle cx="785.5" cy="573.2" r="2.5" fill="#fff" fill-opacity="0.25" stroke="#6e6a34" stroke-width="0.9"/><circle cx="786.9" cy="571.2" r="2.5" fill="#fff" fill-opacity="0.25" stroke="#909050" stroke-width="0.9"/><circle cx="788.3" cy="569.8" r="2.5" fill="#fff" fill-opacity="0.25" stroke="#6a6e82" stroke-width="0.9"/><circle cx="789.7" cy="567.4" r="2.5" fill="#fff" fill-opacity="0.25" stroke="#7e7a42" stroke-width="0.9"/><circle cx="791.1" cy="562.9" r="2.5" fill="#fff" fill-opacity="0.25" stroke="#8a8e98" stroke-width="0.9"/><circle cx="792.4" cy="557.7" r="2.5" fill="#fff" fill-opacity="0.25" stroke="#6e6a34" stroke-width="0.9"/><circle cx="793.8" cy="557.5" r="2.5" fill="#fff" fill-opacity="0.25" stroke="#909050" stroke-width="0.9"/><circle cx="795.2" cy="553.4" r="2.5" fill="#fff" fill-opacity="0.25" stroke="#6a6e82" stroke-width="0.9"/><circle cx="796.6" cy="550" r="2.5" fill="#fff" fill-opacity="0.25" stroke="#7e7a42" stroke-width="0.9"/><circle cx="798" cy="548.8" r="2.5" fill="#fff" fill-opacity="0.25" stroke="#8a8e98" stroke-width="0.9"/><circle cx="799.4" cy="543.9" r="2.5" fill="#fff" fill-opacity="0.25" stroke="#6e6a34" stroke-width="0.9"/><circle cx="800.8" cy="543.6" r="2.5" fill="#fff" fill-opacity="0.25" stroke="#909050" stroke-width="0.9"/><circle cx="802.2" cy="539.2" r="2.5" fill="#fff" fill-opacity="0.25" stroke="#6a6e82" stroke-width="0.9"/><circle cx="803.5" cy="538.5" r="2.5" fill="#fff" fill-opacity="0.25" stroke="#7e7a42" stroke-width="0.9"/><circle cx="804.9" cy="537.6" r="2.5" fill="#fff" fill-opacity="0.25" stroke="#8a8e98" stroke-width="0.9"/><circle cx="806.3" cy="538.3" r="2.5" fill="#fff" fill-opacity="0.25" stroke="#6e6a34" stroke-width="0.9"/><circle cx="807.7" cy="536" r="2.5" fill="#fff" fill-opacity="0.25" stroke="#909050" stroke-width="0.9"/><circle cx="809.1" cy="541.6" r="2.5" fill="#fff" fill-opacity="0.25" stroke="#6a6e82" stroke-width="0.9"/><circle cx="810.5" cy="542.5" r="2.5" fill="#fff" fill-opacity="0.25" stroke="#7e7a42" stroke-width="0.9"/><circle cx="811.9" cy="543.7" r="2.5" fill="#fff" fill-opacity="0.25" stroke="#8a8e98" stroke-width="0.9"/><circle cx="813.3" cy="549.4" r="2.5" fill="#fff" fill-opacity="0.25" stroke="#6e6a34" stroke-width="0.9"/><circle cx="814.7" cy="552.2" r="2.5" fill="#fff" fill-opacity="0.25" stroke="#909050" stroke-width="0.9"/><circle cx="816" cy="556.8" r="2.5" fill="#fff" fill-opacity="0.25" stroke="#6a6e82" stroke-width="0.9"/><circle cx="817.4" cy="559" r="2.5" fill="#fff" fill-opacity="0.25" stroke="#7e7a42" stroke-width="0.9"/><circle cx="818.8" cy="561.5" r="2.5" fill="#fff" fill-opacity="0.25" stroke="#8a8e98" stroke-width="0.9"/><circle cx="820.2" cy="561.4" r="2.5" fill="#fff" fill-opacity="0.25" stroke="#6e6a34" stroke-width="0.9"/><circle cx="821.6" cy="570.2" r="2.5" fill="#fff" fill-opacity="0.25" stroke="#909050" stroke-width="0.9"/><circle cx="823" cy="574" r="2.5" fill="#fff" fill-opacity="0.25" stroke="#6a6e82" stroke-width="0.9"/><circle cx="824.4" cy="577.6" r="2.5" fill="#fff" fill-opacity="0.25" stroke="#7e7a42" stroke-width="0.9"/><circle cx="825.8" cy="582.7" r="2.5" fill="#fff" fill-opacity="0.25" stroke="#8a8e98" stroke-width="0.9"/><circle cx="827.1" cy="590.3" r="2.5" fill="#fff" fill-opacity="0.25" stroke="#6e6a34" stroke-width="0.9"/><circle cx="828.5" cy="594" r="2.5" fill="#fff" fill-opacity="0.25" stroke="#909050" stroke-width="0.9"/><circle cx="829.9" cy="603.8" r="2.5" fill="#fff" fill-opacity="0.25" stroke="#6a6e82" stroke-width="0.9"/><circle cx="831.3" cy="610" r="2.5" fill="#fff" fill-opacity="0.25" stroke="#7e7a42" stroke-width="0.9"/><circle cx="832.7" cy="615.3" r="2.5" fill="#fff" fill-opacity="0.25" stroke="#8a8e98" stroke-width="0.9"/><circle cx="834.1" cy="623.9" r="2.5" fill="#fff" fill-opacity="0.25" stroke="#6e6a34" stroke-width="0.9"/><circle cx="835.5" cy="629.5" r="2.5" fill="#fff" fill-opacity="0.25" stroke="#909050" stroke-width="0.9"/><circle cx="836.9" cy="636.4" r="2.5" fill="#fff" fill-opacity="0.25" stroke="#6a6e82" stroke-width="0.9"/><circle cx="838.3" cy="639" r="2.5" fill="#fff" fill-opacity="0.25" stroke="#7e7a42" stroke-width="0.9"/><circle cx="839.6" cy="638" r="2.5" fill="#fff" fill-opacity="0.25" stroke="#8a8e98" stroke-width="0.9"/><circle cx="841" cy="639.8" r="2.5" fill="#fff" fill-opacity="0.25" stroke="#6e6a34" stroke-width="0.9"/><circle cx="842.4" cy="644.6" r="2.5" fill="#fff" fill-opacity="0.25" stroke="#909050" stroke-width="0.9"/><circle cx="843.8" cy="645.8" r="2.5" fill="#fff" fill-opacity="0.25" stroke="#6a6e82" stroke-width="0.9"/><circle cx="845.2" cy="645.7" r="2.5" fill="#fff" fill-opacity="0.25" stroke="#7e7a42" stroke-width="0.9"/><circle cx="846.6" cy="645.7" r="2.5" fill="#fff" fill-opacity="0.25" stroke="#8a8e98" stroke-width="0.9"/><circle cx="848" cy="648.3" r="2.5" fill="#fff" fill-opacity="0.25" stroke="#6e6a34" stroke-width="0.9"/><circle cx="849.4" cy="647.4" r="2.5" fill="#fff" fill-opacity="0.25" stroke="#909050" stroke-width="0.9"/><circle cx="850.7" cy="648.6" r="2.5" fill="#fff" fill-opacity="0.25" stroke="#6a6e82" stroke-width="0.9"/><circle cx="852.1" cy="651.5" r="2.5" fill="#fff" fill-opacity="0.25" stroke="#7e7a42" stroke-width="0.9"/><circle cx="853.5" cy="650.9" r="2.5" fill="#fff" fill-opacity="0.25" stroke="#8a8e98" stroke-width="0.9"/><circle cx="854.9" cy="649.6" r="2.5" fill="#fff" fill-opacity="0.25" stroke="#6e6a34" stroke-width="0.9"/><circle cx="856.3" cy="649.3" r="2.5" fill="#fff" fill-opacity="0.25" stroke="#909050" stroke-width="0.9"/><circle cx="857.7" cy="651.1" r="2.5" fill="#fff" fill-opacity="0.25" stroke="#6a6e82" stroke-width="0.9"/><circle cx="859.1" cy="654.5" r="2.5" fill="#fff" fill-opacity="0.25" stroke="#7e7a42" stroke-width="0.9"/><circle cx="860.5" cy="651.1" r="2.5" fill="#fff" fill-opacity="0.25" stroke="#8a8e98" stroke-width="0.9"/><circle cx="861.8" cy="654.9" r="2.5" fill="#fff" fill-opacity="0.25" stroke="#6e6a34" stroke-width="0.9"/><circle cx="863.2" cy="651.1" r="2.5" fill="#fff" fill-opacity="0.25" stroke="#909050" stroke-width="0.9"/><circle cx="864.6" cy="652.3" r="2.5" fill="#fff" fill-opacity="0.25" stroke="#6a6e82" stroke-width="0.9"/><circle cx="866" cy="653.9" r="2.5" fill="#fff" fill-opacity="0.25" stroke="#7e7a42" stroke-width="0.9"/><circle cx="867.4" cy="651.7" r="2.5" fill="#fff" fill-opacity="0.25" stroke="#8a8e98" stroke-width="0.9"/><circle cx="868.8" cy="653.2" r="2.5" fill="#fff" fill-opacity="0.25" stroke="#6e6a34" stroke-width="0.9"/><circle cx="870.2" cy="651.1" r="2.5" fill="#fff" fill-opacity="0.25" stroke="#909050" stroke-width="0.9"/><circle cx="871.6" cy="654.5" r="2.5" fill="#fff" fill-opacity="0.25" stroke="#6a6e82" stroke-width="0.9"/><circle cx="873" cy="655.4" r="2.5" fill="#fff" fill-opacity="0.25" stroke="#7e7a42" stroke-width="0.9"/><circle cx="874.3" cy="652.7" r="2.5" fill="#fff" fill-opacity="0.25" stroke="#8a8e98" stroke-width="0.9"/><circle cx="875.7" cy="654.2" r="2.5" fill="#fff" fill-opacity="0.25" stroke="#6e6a34" stroke-width="0.9"/><circle cx="877.1" cy="653.3" r="2.5" fill="#fff" fill-opacity="0.25" stroke="#909050" stroke-width="0.9"/><circle cx="878.5" cy="650.7" r="2.5" fill="#fff" fill-opacity="0.25" stroke="#6a6e82" stroke-width="0.9"/><circle cx="879.9" cy="658.6" r="2.5" fill="#fff" fill-opacity="0.25" stroke="#7e7a42" stroke-width="0.9"/><circle cx="881.3" cy="655.4" r="2.5" fill="#fff" fill-opacity="0.25" stroke="#8a8e98" stroke-width="0.9"/><circle cx="882.7" cy="655.8" r="2.5" fill="#fff" fill-opacity="0.25" stroke="#6e6a34" stroke-width="0.9"/><circle cx="884.1" cy="655.2" r="2.5" fill="#fff" fill-opacity="0.25" stroke="#909050" stroke-width="0.9"/><circle cx="885.4" cy="654.9" r="2.5" fill="#fff" fill-opacity="0.25" stroke="#6a6e82" stroke-width="0.9"/><circle cx="886.8" cy="658.6" r="2.5" fill="#fff" fill-opacity="0.25" stroke="#7e7a42" stroke-width="0.9"/><circle cx="888.2" cy="651.9" r="2.5" fill="#fff" fill-opacity="0.25" stroke="#8a8e98" stroke-width="0.9"/><circle cx="889.6" cy="654.5" r="2.5" fill="#fff" fill-opacity="0.25" stroke="#6e6a34" stroke-width="0.9"/><circle cx="891" cy="654.4" r="2.5" fill="#fff" fill-opacity="0.25" stroke="#909050" stroke-width="0.9"/><circle cx="892.4" cy="654.8" r="2.5" fill="#fff" fill-opacity="0.25" stroke="#6a6e82" stroke-width="0.9"/><circle cx="893.8" cy="656.4" r="2.5" fill="#fff" fill-opacity="0.25" stroke="#7e7a42" stroke-width="0.9"/><circle cx="895.2" cy="654.2" r="2.5" fill="#fff" fill-opacity="0.25" stroke="#8a8e98" stroke-width="0.9"/><circle cx="896.6" cy="653.3" r="2.5" fill="#fff" fill-opacity="0.25" stroke="#6e6a34" stroke-width="0.9"/><circle cx="897.9" cy="653.7" r="2.5" fill="#fff" fill-opacity="0.25" stroke="#909050" stroke-width="0.9"/><circle cx="899.3" cy="656.3" r="2.5" fill="#fff" fill-opacity="0.25" stroke="#6a6e82" stroke-width="0.9"/><circle cx="900.7" cy="657.2" r="2.5" fill="#fff" fill-opacity="0.25" stroke="#7e7a42" stroke-width="0.9"/><circle cx="902.1" cy="657.1" r="2.5" fill="#fff" fill-opacity="0.25" stroke="#8a8e98" stroke-width="0.9"/><circle cx="903.5" cy="658.4" r="2.5" fill="#fff" fill-opacity="0.25" stroke="#6e6a34" stroke-width="0.9"/><circle cx="904.9" cy="655.1" r="2.5" fill="#fff" fill-opacity="0.25" stroke="#909050" stroke-width="0.9"/><circle cx="906.3" cy="657.6" r="2.5" fill="#fff" fill-opacity="0.25" stroke="#6a6e82" stroke-width="0.9"/><circle cx="907.7" cy="657.2" r="2.5" fill="#fff" fill-opacity="0.25" stroke="#7e7a42" stroke-width="0.9"/><circle cx="909" cy="655.9" r="2.5" fill="#fff" fill-opacity="0.25" stroke="#8a8e98" stroke-width="0.9"/><circle cx="910.4" cy="655.1" r="2.5" fill="#fff" fill-opacity="0.25" stroke="#6e6a34" stroke-width="0.9"/><circle cx="911.8" cy="657.7" r="2.5" fill="#fff" fill-opacity="0.25" stroke="#909050" stroke-width="0.9"/><polyline points="517.6,578.5 518.6,578.6 519.6,578.6 520.6,578.7 521.6,578.7 522.6,578.8 523.5,578.8 524.5,578.9 525.5,578.9 526.5,579 527.5,579.1 528.5,579.1 529.5,579.2 530.5,579.2 531.5,579.3 532.5,579.3 533.5,579.4 534.5,579.4 535.4,579.5 536.4,579.5 537.4,579.6 538.4,579.7 539.4,579.7 540.4,579.8 541.4,579.8 542.4,579.9 543.4,579.9 544.4,580 545.4,580 546.4,580.1 547.3,580.2 548.3,580.2 549.3,580.3 550.3,580.3 551.3,580.4 552.3,580.4 553.3,580.5 554.3,580.5 555.3,580.6 556.3,580.6 557.3,580.7 558.3,580.8 559.2,580.8 560.2,580.9 561.2,580.9 562.2,581 563.2,581 564.2,581.1 565.2,581.1 566.2,581.2 567.2,581.3 568.2,581.3 569.2,581.4 570.1,581.4 571.1,581.5 572.1,581.5 573.1,581.6 574.1,581.6 575.1,581.7 576.1,581.7 577.1,581.8 578.1,581.8 579.1,581.9 580.1,581.9 581.1,582 582,582 583,582.1 584,582.1 585,582.1 586,582.2 587,582.2 588,582.2 589,582.2 590,582.3 591,582.3 592,582.3 593,582.3 593.9,582.3 594.9,582.3 595.9,582.2 596.9,582.2 597.9,582.2 598.9,582.1 599.9,582.1 600.9,582 601.9,581.9 602.9,581.8 603.9,581.7 604.9,581.6 605.8,581.5 606.8,581.3 607.8,581.2 608.8,581 609.8,580.8 610.8,580.7 611.8,580.5 612.8,580.3 613.8,580 614.8,579.8 615.8,579.6 616.8,579.4 617.7,579.1 618.7,578.9 619.7,578.7 620.7,578.5 621.7,578.2 622.7,578 623.7,577.8 624.7,577.6 625.7,577.4 626.7,577.3 627.7,577.1 628.6,577 629.6,576.8 630.6,576.7 631.6,576.7 632.6,576.6 633.6,576.6 634.6,576.5 635.6,576.5 636.6,576.5 637.6,576.6 638.6,576.6 639.6,576.6 640.5,576.7 641.5,576.7 642.5,576.7 643.5,576.7 644.5,576.7 645.5,576.7 646.5,576.6 647.5,576.5 648.5,576.3 649.5,576.1 650.5,575.8 651.5,575.4 652.4,575 653.4,574.5 654.4,574 655.4,573.4 656.4,572.7 657.4,572 658.4,571.2 659.4,570.3 660.4,569.5 661.4,568.6 662.4,567.7 663.4,566.8 664.3,565.9 665.3,565.1 666.3,564.3 667.3,563.6 668.3,563 669.3,562.4 670.3,561.9 671.3,561.5 672.3,561.2 673.3,560.9 674.3,560.7 675.2,560.6 676.2,560.5 677.2,560.5 678.2,560.5 679.2,560.5 680.2,560.6 681.2,560.7 682.2,560.8 683.2,561.1 684.2,561.5 685.2,562 686.2,562.7 687.1,563.5 688.1,564.6 689.1,566 690.1,567.5 691.1,569.3 692.1,571.3 693.1,573.5 694.1,575.8 695.1,578.3 696.1,580.8 697.1,583.3 698.1,585.7 699,588.1 700,590.3 701,592.4 702,594.4 703,596.1 704,597.6 705,599 706,600.2 707,601.2 708,602.1 709,602.8 710,603.4 710.9,603.9 711.9,604.3 712.9,604.7 713.9,605 714.9,605.3 715.9,605.5 716.9,605.6 717.9,605.8 718.9,605.9 719.9,606 720.9,606.1 721.8,606.2 722.8,606.2 723.8,606.2 724.8,606.2 725.8,606.2 726.8,606.1 727.8,606.1 728.8,606 729.8,605.8 730.8,605.7 731.8,605.5 732.8,605.2 733.7,605 734.7,604.7 735.7,604.3 736.7,603.9 737.7,603.5 738.7,603 739.7,602.5 740.7,601.9 741.7,601.3 742.7,600.6 743.7,599.9 744.7,599.1 745.6,598.3 746.6,597.4 747.6,596.5 748.6,595.6 749.6,594.6 750.6,593.5 751.6,592.5 752.6,591.4 753.6,590.3 754.6,589.1 755.6,588 756.6,586.9 757.5,585.7 758.5,584.6 759.5,583.6 760.5,582.5 761.5,581.5 762.5,580.5 763.5,579.6 764.5,578.8 765.5,578 766.5,577.3 767.5,576.7 768.4,576.2 769.4,575.7 770.4,575.3 771.4,575 772.4,574.8 773.4,574.7 774.4,574.6 775.4,574.5 776.4,574.5 777.4,574.5 778.4,574.5 779.4,574.5 780.3,574.4 781.3,574.2 782.3,574 783.3,573.6 784.3,573.1 785.3,572.4 786.3,571.5 787.3,570.4 788.3,569.1 789.3,567.6 790.3,565.8 791.3,563.9 792.2,561.7 793.2,559.4 794.2,557 795.2,554.4 796.2,551.8 797.2,549.3 798.2,546.8 799.2,544.5 800.2,542.3 801.2,540.5 802.2,538.9 803.2,537.8 804.1,537 805.1,536.7 806.1,536.9 807.1,537.5 808.1,538.5 809.1,539.9 810.1,541.6 811.1,543.6 812.1,545.7 813.1,547.9 814.1,550.2 815,552.5 816,554.8 817,557 818,559.1 819,561.3 820,563.6 821,566 822,568.6 823,571.6 824,574.9 825,578.7 826,582.9 826.9,587.4 827.9,592.3 828.9,597.4 829.9,602.7 830.9,607.9 831.9,613 832.9,617.9 833.9,622.4 834.9,626.6 835.9,630.3 836.9,633.6 837.9,636.5 838.8,638.9 839.8,640.9 840.8,642.6 841.8,644 842.8,645.2 843.8,646.1 844.8,646.9 845.8,647.5 846.8,648.1 847.8,648.6 848.8,649 849.8,649.4 850.7,649.7 851.7,650 852.7,650.3 853.7,650.5 854.7,650.8 855.7,651 856.7,651.2 857.7,651.4 858.7,651.6 859.7,651.8 860.7,652 861.7,652.1 862.6,652.3 863.6,652.4 864.6,652.6 865.6,652.7 866.6,652.9 867.6,653 868.6,653.1 869.6,653.2 870.6,653.3 871.6,653.5 872.6,653.6 873.5,653.7 874.5,653.8 875.5,653.9 876.5,653.9 877.5,654 878.5,654.1 879.5,654.2 880.5,654.3 881.5,654.4 882.5,654.4 883.5,654.5 884.5,654.6 885.4,654.7 886.4,654.7 887.4,654.8 888.4,654.9 889.4,655 890.4,655 891.4,655.1 892.4,655.2 893.4,655.2 894.4,655.3 895.4,655.3 896.4,655.4 897.3,655.5 898.3,655.5 899.3,655.6 900.3,655.7 901.3,655.7 902.3,655.8 903.3,655.8 904.3,655.9 905.3,656 906.3,656 907.3,656.1 908.3,656.1 909.2,656.2 910.2,656.2 911.2,656.3 912.2,656.4 913.2,656.4 914.2,656.5" fill="none" stroke="#c2b04a" stroke-width="1.6" /><rect x="517.6" y="354.6" width="396.6" height="318.4" fill="none" stroke="#2a2a2a" stroke-width="1.5"/><line x1="517.6" y1="515" x2="914.2" y2="515" stroke="#2a2a2a" stroke-width="1.5" /><line x1="914.2" y1="673" x2="914.2" y2="677.5" stroke="#333" stroke-width="1" /><line x1="864.6" y1="673" x2="864.6" y2="676" stroke="#333" stroke-width="1" /><line x1="815" y1="673" x2="815" y2="677.5" stroke="#333" stroke-width="1" /><line x1="765.5" y1="673" x2="765.5" y2="676" stroke="#333" stroke-width="1" /><line x1="715.9" y1="673" x2="715.9" y2="677.5" stroke="#333" stroke-width="1" /><line x1="666.3" y1="673" x2="666.3" y2="676" stroke="#333" stroke-width="1" /><line x1="616.8" y1="673" x2="616.8" y2="677.5" stroke="#333" stroke-width="1" /><line x1="567.2" y1="673" x2="567.2" y2="676" stroke="#333" stroke-width="1" /><line x1="517.6" y1="673" x2="517.6" y2="677.5" stroke="#333" stroke-width="1" /><text x="914.2" y="698.8" font-size="19.4" font-weight="normal" text-anchor="middle" fill="#222" >700</text><text x="815" y="698.8" font-size="19.4" font-weight="normal" text-anchor="middle" fill="#222" >710</text><text x="715.9" y="698.8" font-size="19.4" font-weight="normal" text-anchor="middle" fill="#222" >720</text><text x="616.8" y="698.8" font-size="19.4" font-weight="normal" text-anchor="middle" fill="#222" >730</text><text x="517.6" y="698.8" font-size="19.4" font-weight="normal" text-anchor="middle" fill="#222" >740</text><text x="715.7" y="726.5" font-size="20.6" font-weight="normal" text-anchor="middle" fill="#222" >Binding energy (eV)</text><text x="0" y="0" font-size="20.6" font-weight="normal" text-anchor="middle" fill="#222" transform="translate(500,513.8) rotate(-90)">Intensity (arb. units)</text><text x="528.2" y="378.6" font-size="18.3" font-weight="normal" text-anchor="start" fill="#222" >R-LFP-Li<tspan dy="4" font-size="13">2</tspan><tspan dy="-4">DHBN</tspan></text><text x="701.4" y="390.6" font-size="15.7" font-weight="normal" text-anchor="start" fill="#222" >723.1 eV</text><polyline points="693,411.7 708.3,398 752.5,398" fill="none" stroke="#333" stroke-width="0.9" /><text x="841" y="385.1" font-size="15.7" font-weight="normal" text-anchor="start" fill="#222" >709.5 eV</text><polyline points="822.3,404.2 841,393 897.2,393" fill="none" stroke="#333" stroke-width="0.9" /><text x="647.6" y="467.9" font-size="15.3" font-weight="bold" text-anchor="start" fill="#111" >Fe 2<tspan font-style="italic">p</tspan><tspan dy="3.5" font-size="11">1/2</tspan></text><text x="760" y="496.1" font-size="15.3" font-weight="bold" text-anchor="start" fill="#111" >Fe 2<tspan font-style="italic">p</tspan><tspan dy="3.5" font-size="11">3/2</tspan></text><rect x="528" y="463.3" width="31" height="11.5" fill="url(#swP)" /><text x="564.4" y="475.5" font-size="15.5" font-weight="normal" text-anchor="start" fill="#222" >Fe ( <tspan font-family='"Noto Serif CJK SC", "Liberation Serif", serif'>&#8545;</tspan> )</text><rect x="528" y="483" width="31" height="11.5" fill="url(#swG)" /><text x="564.4" y="495.2" font-size="15.5" font-weight="normal" text-anchor="start" fill="#222" >Satellite</text><text x="527.2" y="537" font-size="18.3" font-weight="normal" text-anchor="start" fill="#222" >S-LFP</text><text x="599.3" y="551.2" font-size="15.7" font-weight="normal" text-anchor="start" fill="#222" >724.2 eV</text><polyline points="599.3,558.7 659,558.7 671.5,571.7" fill="none" stroke="#333" stroke-width="0.9" /><text x="698.7" y="568.3" font-size="15.7" font-weight="normal" text-anchor="start" fill="#222" >722.8 eV</text><polyline points="687.8,590.4 703.2,575.7 751.8,575.7" fill="none" stroke="#333" stroke-width="0.9" /><text x="834.9" y="545.1" font-size="15.7" font-weight="normal" text-anchor="start" fill="#222" >710.7 eV</text><polyline points="812,568.3 830.8,553 892,553" fill="none" stroke="#333" stroke-width="0.9" /><text x="841.7" y="584.6" font-size="15.7" font-weight="normal" text-anchor="start" fill="#222" >709.1 eV</text><polyline points="824,607.4 839.3,592.8 900.6,592.8" fill="none" stroke="#333" stroke-width="0.9" /><rect x="528" y="609.5" width="31" height="11.5" fill="url(#swP)" /><text x="564.4" y="622.7" font-size="15.5" font-weight="normal" text-anchor="start" fill="#222" >Fe ( <tspan font-family='"Noto Serif CJK SC", "Liberation Serif", serif'>&#8545;</tspan> )</text><rect x="528" y="629.5" width="31" height="11.5" fill="url(#swB)" /><text x="564.4" y="642.5" font-size="15.5" font-weight="normal" text-anchor="start" fill="#222" >Fe ( <tspan font-family='"Noto Serif CJK SC", "Liberation Serif", serif'>&#8546;</tspan>)</text><rect x="528" y="649.5" width="31" height="11.5" fill="url(#swG)" /><text x="564.4" y="661.9" font-size="15.5" font-weight="normal" text-anchor="start" fill="#222" >Satellite</text><rect x="629.3" y="626.8" width="155" height="40" fill="#fff" stroke="#bbb" stroke-width="0.8"/><polyline points="786,627.5 786,668.5 631,668.5" fill="none" stroke="#000" stroke-width="3" /><text x="632.7" y="643.1" font-size="14.6" font-weight="bold" text-anchor="start" fill="#111" >Area ratio:</text><text x="632.7" y="661.9" font-size="14.6" font-weight="bold" text-anchor="start" fill="#111" textLength="149" lengthAdjust="spacingAndGlyphs">Fe (<tspan font-family='"Noto Serif CJK SC", "Liberation Serif", serif'>&#8546;</tspan>) / Fe ( <tspan font-family='"Noto Serif CJK SC", "Liberation Serif", serif'>&#8545;</tspan> ) = 3.29</text><text x="933.5" y="379" font-size="38" font-weight="bold" text-anchor="start" fill="#000" >d</text><polyline points="971,504 971.3,504.6 971.6,503.3 972,504.2 972.3,503.4 972.6,503.3 972.9,504.4 973.2,503.3 973.6,503.1 973.9,503.4 974.2,503.5 974.5,502.8 974.8,503 975.2,502.1 975.5,502.3 975.8,502.2 976.1,501.6 976.4,501.4 976.8,501.2 977.1,501.9 977.4,501.8 977.7,501.6 978.1,501.7 978.4,500.9 978.7,501.5 979,501.5 979.3,501.7 979.7,500.8 980,500.9 980.3,499.9 980.6,500.6 980.9,499.6 981.3,500 981.6,501.2 981.9,499.3 982.2,500.9 982.5,500.5 982.9,500.1 983.2,500.4 983.5,500.4 983.8,500.6 984.1,499.8 984.5,499.5 984.8,499.4 985.1,499.1 985.4,499.5 985.7,499 986.1,499.9 986.4,498.2 986.7,498.6 987,498.5 987.3,497.8 987.7,499.9 988,497.5 988.3,498.6 988.6,498.3 988.9,499.4 989.3,497.4 989.6,498.9 989.9,497.9 990.2,498.1 990.6,497.7 990.9,498.4 991.2,497.3 991.5,497.8 991.8,497.9 992.2,498.6 992.5,496.2 992.8,498.3 993.1,497.9 993.4,496.9 993.8,497.2 994.1,496.6 994.4,497.5 994.7,496.4 995,495.6 995.4,494.8 995.7,493.7 996,492.2 996.3,490 996.6,489.5 997,485.2 997.3,482.1 997.6,482.4 997.9,481.7 998.2,482.5 998.6,483.7 998.9,485.7 999.2,488 999.5,490.3 999.8,491.2 1000.2,492.5 1000.5,494.7 1000.8,494.6 1001.1,494.2 1001.4,496.2 1001.8,495.5 1002.1,494.8 1002.4,494.4 1002.7,495.2 1003,494.5 1003.4,494.4 1003.7,494.2 1004,494.5 1004.3,495.4 1004.7,494.5 1005,493.8 1005.3,494.9 1005.6,494.5 1005.9,494.9 1006.3,495 1006.6,494.2 1006.9,494.2 1007.2,494.2 1007.5,493.5 1007.9,494.4 1008.2,494.7 1008.5,494 1008.8,493.7 1009.1,493.6 1009.5,493.3 1009.8,493.2 1010.1,493.4 1010.4,493.1 1010.7,493.2 1011.1,492.5 1011.4,493.5 1011.7,493.3 1012,492.6 1012.3,491.9 1012.7,493.1 1013,493.6 1013.3,492.6 1013.6,492.6 1013.9,492.5 1014.3,493.1 1014.6,492.2 1014.9,493.2 1015.2,492.4 1015.5,493 1015.9,492.5 1016.2,492.3 1016.5,491.5 1016.8,491.9 1017.2,492.1 1017.5,492.5 1017.8,492.3 1018.1,491.7 1018.4,492.2 1018.8,492.5 1019.1,491.8 1019.4,491.6 1019.7,491.6 1020,492.2 1020.4,492 1020.7,491.1 1021,491.7 1021.3,491.2 1021.6,491 1022,492.1 1022.3,491.8 1022.6,490.9 1022.9,491.2 1023.2,491.4 1023.6,490.7 1023.9,491 1024.2,491.3 1024.5,489.9 1024.8,491.1 1025.2,491.2 1025.5,491 1025.8,490 1026.1,490.8 1026.4,490.1 1026.8,490.9 1027.1,490.8 1027.4,490.6 1027.7,490 1028,490 1028.4,490.8 1028.7,489.7 1029,490.4 1029.3,490.4 1029.7,489.9 1030,491.3 1030.3,490 1030.6,491.1 1030.9,488.8 1031.3,488.6 1031.6,490.3 1031.9,490.1 1032.2,489.5 1032.5,489.6 1032.9,488.5 1033.2,489.2 1033.5,488.9 1033.8,489.3 1034.1,489.8 1034.5,489.3 1034.8,489.4 1035.1,488.8 1035.4,488.9 1035.7,489.1 1036.1,488.9 1036.4,489.7 1036.7,488.4 1037,489.9 1037.3,488.3 1037.7,489.3 1038,488.2 1038.3,489.5 1038.6,488.6 1038.9,488.7 1039.3,488.8 1039.6,488 1039.9,487.7 1040.2,487 1040.5,488.7 1040.9,487.5 1041.2,487.3 1041.5,487.3 1041.8,487.8 1042.2,484.9 1042.5,484.5 1042.8,482 1043.1,479.4 1043.4,473.9 1043.8,469.5 1044.1,464.2 1044.4,458.2 1044.7,452.2 1045,446.2 1045.4,444.9 1045.7,446.6 1046,450.4 1046.3,456.3 1046.6,463.8 1047,469.4 1047.3,474.3 1047.6,479.2 1047.9,481 1048.2,483.9 1048.6,485 1048.9,485.8 1049.2,486.6 1049.5,486.7 1049.8,486.9 1050.2,486.9 1050.5,487.9 1050.8,486.7 1051.1,487.4 1051.4,487.2 1051.8,486.6 1052.1,487.2 1052.4,486.3 1052.7,487.4 1053,486.3 1053.4,486.4 1053.7,486.9 1054,487.1 1054.3,487.1 1054.7,487.1 1055,486.5 1055.3,486 1055.6,486.8 1055.9,486.7 1056.3,485.9 1056.6,487 1056.9,486.5 1057.2,485.8 1057.5,486.6 1057.9,485.6 1058.2,485.8 1058.5,486.4 1058.8,485.3 1059.1,486.2 1059.5,485.4 1059.8,486.5 1060.1,485.7 1060.4,486.1 1060.7,485.2 1061.1,485.8 1061.4,486.4 1061.7,486.1 1062,484.8 1062.3,486.3 1062.7,486.3 1063,485.5 1063.3,486.5 1063.6,485.1 1063.9,485.6 1064.3,486.2 1064.6,486.2 1064.9,486.2 1065.2,484.8 1065.5,484.3 1065.9,485.4 1066.2,484.2 1066.5,484.5 1066.8,483.4 1067.1,483.9 1067.5,482.6 1067.8,481 1068.1,478.9 1068.4,476.8 1068.8,474.4 1069.1,472.7 1069.4,471 1069.7,470.4 1070,470.5 1070.4,473.4 1070.7,474.5 1071,477.3 1071.3,479.3 1071.6,479.9 1072,480.9 1072.3,483.5 1072.6,483.3 1072.9,484.1 1073.2,484.1 1073.6,484.5 1073.9,483.9 1074.2,484.5 1074.5,484.3 1074.8,484.5 1075.2,483.3 1075.5,485 1075.8,484.7 1076.1,483.5 1076.4,484.1 1076.8,484.5 1077.1,484.8 1077.4,484.4 1077.7,485.1 1078,484.4 1078.4,483.8 1078.7,483.9 1079,484.7 1079.3,483.9 1079.6,484.7 1080,484.8 1080.3,484.5 1080.6,484.7 1080.9,484 1081.3,484.1 1081.6,483.7 1081.9,483.7 1082.2,483.1 1082.5,483.6 1082.9,483.3 1083.2,483 1083.5,483.7 1083.8,483.6 1084.1,482.8 1084.5,483.3 1084.8,482.4 1085.1,481.8 1085.4,480.1 1085.7,478.8 1086.1,479.3 1086.4,478.9 1086.7,479.3 1087,479.7 1087.3,480.9 1087.7,480.8 1088,482 1088.3,481.8 1088.6,481.4 1088.9,482.7 1089.3,484 1089.6,482.4 1089.9,483.9 1090.2,483 1090.5,483.1 1090.9,483.4 1091.2,483.4 1091.5,482.8 1091.8,483.3 1092.1,483.5 1092.5,483.7 1092.8,482.8 1093.1,484 1093.4,484.2 1093.8,484.5 1094.1,482.4 1094.4,483.2 1094.7,482 1095,483.2 1095.4,483.3 1095.7,482.4 1096,482.1 1096.3,483 1096.6,483.2 1097,482.4 1097.3,482.7 1097.6,481.4 1097.9,482.4 1098.2,482.8 1098.6,482.8 1098.9,483.5 1099.2,482 1099.5,481.3 1099.8,482.8 1100.2,482.2 1100.5,482.6 1100.8,482.8 1101.1,482.6 1101.4,483 1101.8,482.9 1102.1,481.1 1102.4,481.8 1102.7,482.7 1103,480.9 1103.4,480.9 1103.7,479.1 1104,477 1104.3,475 1104.6,470.4 1105,463.9 1105.3,457.4 1105.6,447.8 1105.9,439.3 1106.3,431.8 1106.6,425 1106.9,421.8 1107.2,425.1 1107.5,431.4 1107.9,440.3 1108.2,448.9 1108.5,456.5 1108.8,463.6 1109.1,469.5 1109.5,473.8 1109.8,477.7 1110.1,479.7 1110.4,480.7 1110.7,480.9 1111.1,481 1111.4,481.8 1111.7,481.3 1112,481.7 1112.3,480.7 1112.7,481.4 1113,482.5 1113.3,481.1 1113.6,480.9 1113.9,481.6 1114.3,482.7 1114.6,482.5 1114.9,481.5 1115.2,481.5 1115.5,481.7 1115.9,481.2 1116.2,481.8 1116.5,481.6 1116.8,480.9 1117.1,481.4 1117.5,481.6 1117.8,481.2 1118.1,481.1 1118.4,482.2 1118.8,482.7 1119.1,481.5 1119.4,481.4 1119.7,481.9 1120,481.5 1120.4,481.2 1120.7,482.4 1121,481 1121.3,481.2 1121.6,481.2 1122,481.1 1122.3,481.4 1122.6,481.9 1122.9,482.3 1123.2,481.9 1123.6,481.5 1123.9,480.8 1124.2,481.4 1124.5,480.9 1124.8,481.4 1125.2,482 1125.5,481.5 1125.8,481.3 1126.1,481 1126.4,481.4 1126.8,481.4 1127.1,480.8 1127.4,481.1 1127.7,481.8 1128,480.4 1128.4,481.1 1128.7,480.6 1129,482.1 1129.3,481.6 1129.6,481.5 1130,481.5 1130.3,481.4 1130.6,481.4 1130.9,480.3 1131.2,481.3 1131.6,481.5 1131.9,480.4 1132.2,481.6 1132.5,481.5 1132.9,480.3 1133.2,480.8 1133.5,480.9 1133.8,480.8 1134.1,481.3 1134.5,480.3 1134.8,480.9 1135.1,481.1 1135.4,481.4 1135.7,481 1136.1,480.8 1136.4,481.3 1136.7,479.9 1137,481.5 1137.3,480.8 1137.7,480.2 1138,480.7 1138.3,479.9 1138.6,479.8 1138.9,480.7 1139.3,480.4 1139.6,481.2 1139.9,480.3 1140.2,480.1 1140.5,480.3 1140.9,481.7 1141.2,480.8 1141.5,480.4 1141.8,480.2 1142.1,480.1 1142.5,480.6 1142.8,480.9 1143.1,481.3 1143.4,481.3 1143.7,480.8 1144.1,480.3 1144.4,480.2 1144.7,479.3 1145,480 1145.4,480.8 1145.7,480.4 1146,480.8 1146.3,479.8 1146.6,481 1147,480.7 1147.3,480.5 1147.6,480.7 1147.9,479.2 1148.2,480.1 1148.6,479.9 1148.9,481.4 1149.2,480.3 1149.5,480.1 1149.8,480.8 1150.2,479.7 1150.5,481.1 1150.8,479.9 1151.1,480.2 1151.4,479.7 1151.8,480.6 1152.1,479 1152.4,480.5 1152.7,479.6 1153,480 1153.4,479.3 1153.7,480 1154,479.9 1154.3,480.1 1154.6,479.8 1155,479.8 1155.3,479.7 1155.6,478.5 1155.9,477.3 1156.2,475.9 1156.6,474.9 1156.9,471.1 1157.2,467.2 1157.5,460.4 1157.9,452.1 1158.2,444.2 1158.5,435.3 1158.8,425.1 1159.1,417.8 1159.5,415.2 1159.8,418.8 1160.1,424.8 1160.4,433.9 1160.7,444 1161.1,452.6 1161.4,460.4 1161.7,466.2 1162,470.8 1162.3,474.4 1162.7,476.5 1163,478 1163.3,478.2 1163.6,479.1 1163.9,479.5 1164.3,479.4 1164.6,479.8 1164.9,480.1 1165.2,479.7 1165.5,479.6 1165.9,479.1 1166.2,479.8 1166.5,479.6 1166.8,479.5 1167.1,479.3 1167.5,480.1 1167.8,481.2 1168.1,480 1168.4,479.8 1168.7,480 1169.1,479.4 1169.4,479.8 1169.7,479.4 1170,479.4 1170.4,479.9 1170.7,479.9 1171,479.7 1171.3,479.3 1171.6,479.9 1172,479.2 1172.3,480.2 1172.6,479.6 1172.9,479.8 1173.2,480.2 1173.6,480.1 1173.9,479 1174.2,479.6 1174.5,479.9 1174.8,479.1 1175.2,478.4 1175.5,479.7 1175.8,479.7 1176.1,479.9 1176.4,479.7 1176.8,479.8 1177.1,479.8 1177.4,480.4 1177.7,479.9 1178,480 1178.4,479.4 1178.7,480.3 1179,479.5 1179.3,480 1179.6,478.5 1180,479.7 1180.3,479.5 1180.6,479.3 1180.9,480.3 1181.2,479.8 1181.6,479.5 1181.9,479.3 1182.2,480.6 1182.5,479.9 1182.9,479.9 1183.2,479.1 1183.5,480.2 1183.8,479.8 1184.1,479.3 1184.5,479.4 1184.8,478.5 1185.1,479.8 1185.4,478.8 1185.7,479.8 1186.1,479.1 1186.4,478.9 1186.7,479.4 1187,479.3 1187.3,478.4 1187.7,478.8 1188,478.8 1188.3,477.8 1188.6,476.3 1188.9,475.5 1189.3,473.1 1189.6,470.6 1189.9,467.7 1190.2,463.8 1190.5,459.6 1190.9,454.9 1191.2,453.1 1191.5,451.6 1191.8,452.7 1192.1,455.9 1192.5,460.7 1192.8,463 1193.1,466.7 1193.4,471.3 1193.7,473.1 1194.1,476.2 1194.4,476.4 1194.7,477.5 1195,478.8 1195.3,479.2 1195.7,479.1 1196,479.2 1196.3,479 1196.6,478.8 1197,479 1197.3,479.8 1197.6,479.5 1197.9,479.2 1198.2,479.3 1198.6,479.6 1198.9,479.8 1199.2,479.1 1199.5,479.1 1199.8,479.4 1200.2,480.6 1200.5,479.3 1200.8,479.9 1201.1,478.3 1201.4,479.7 1201.8,478.4 1202.1,478.6 1202.4,478.8 1202.7,479.1 1203,479.3 1203.4,479.4 1203.7,479.3 1204,478.9 1204.3,480.6 1204.6,479.4 1205,479.5 1205.3,480.3 1205.6,479.7 1205.9,479.5 1206.2,479.3 1206.6,480.2 1206.9,478.5 1207.2,478.6 1207.5,479.2 1207.8,478 1208.2,478.7 1208.5,479.7 1208.8,478.9 1209.1,479.2 1209.5,479.5 1209.8,478.5 1210.1,479.2 1210.4,478.7 1210.7,478.5 1211.1,478.9 1211.4,479 1211.7,478.8 1212,478.7 1212.3,479.6 1212.7,479.7 1213,479.3 1213.3,479 1213.6,478.4 1213.9,478.6 1214.3,478.4 1214.6,479.1 1214.9,479.5 1215.2,479.5 1215.5,479 1215.9,478.8 1216.2,479.1 1216.5,479 1216.8,479.3 1217.1,479.8 1217.5,478.6 1217.8,480.1 1218.1,477.8 1218.4,477.9 1218.7,478.1 1219.1,478.3 1219.4,478.8 1219.7,480 1220,478.5 1220.3,479.5 1220.7,478.7 1221,478.9 1221.3,478.3 1221.6,480.1 1222,478.8 1222.3,478.5 1222.6,480 1222.9,478.9 1223.2,479 1223.6,478.7 1223.9,478.3 1224.2,477.9 1224.5,478.6 1224.8,479.6 1225.2,478.9 1225.5,478.5 1225.8,479.2 1226.1,478.1 1226.4,479.3 1226.8,478.5 1227.1,478 1227.4,478.8 1227.7,478.7 1228,478.2 1228.4,478.4 1228.7,478.8 1229,478.9 1229.3,477.6 1229.6,476.6 1230,479 1230.3,477.5 1230.6,477.1 1230.9,477 1231.2,475.7 1231.6,475.1 1231.9,471.6 1232.2,468.6 1232.5,463 1232.8,457.6 1233.2,447.8 1233.5,437.9 1233.8,426 1234.1,412.2 1234.5,401.2 1234.8,393.1 1235.1,389.4 1235.4,392.6 1235.7,401.8 1236.1,413.3 1236.4,424.9 1236.7,437.1 1237,448.2 1237.3,456.8 1237.7,463.7 1238,468 1238.3,473 1238.6,474.2 1238.9,475.9 1239.3,476.6 1239.6,477.1 1239.9,477.5 1240.2,477.1 1240.5,477.9 1240.9,478.4 1241.2,478 1241.5,478.2 1241.8,478.1 1242.1,477.8 1242.5,478.7 1242.8,477.2 1243.1,477.5 1243.4,477.3 1243.7,476 1244.1,473.8 1244.4,471.7 1244.7,470.4 1245,465.6 1245.3,462.2 1245.7,458.2 1246,454 1246.3,449.9 1246.6,448.7 1247,450.8 1247.3,453.6 1247.6,457.8 1247.9,462.3 1248.2,466.3 1248.6,468.9 1248.9,471.5 1249.2,475 1249.5,475.6 1249.8,476.2 1250.2,476.4 1250.5,478.1 1250.8,477.3 1251.1,477.6 1251.4,478.6 1251.8,478.4 1252.1,478.6 1252.4,477.6 1252.7,476.8 1253,477.8 1253.4,478.2 1253.7,478 1254,478.9 1254.3,478.6 1254.6,477.8 1255,478.7 1255.3,478.3 1255.6,478.2 1255.9,479 1256.2,477.5 1256.6,479 1256.9,479 1257.2,477.3 1257.5,478.3 1257.8,478.3 1258.2,477.8 1258.5,478.1 1258.8,477.9 1259.1,478.4 1259.4,478.1 1259.8,477.2 1260.1,479 1260.4,478.8 1260.7,477.7 1261.1,478.5 1261.4,478.9 1261.7,476.5 1262,476.4 1262.3,475.3 1262.7,474.4 1263,472 1263.3,469.1 1263.6,468 1263.9,464.7 1264.3,463.4 1264.6,463.5 1264.9,462.5 1265.2,464.6 1265.5,467.8 1265.9,469.8 1266.2,472.5 1266.5,474.1 1266.8,477.1 1267.1,477 1267.5,477.5 1267.8,477.8 1268.1,478.2 1268.4,477.3 1268.7,478.1 1269.1,478.7 1269.4,477.6 1269.7,478.3 1270,478.3 1270.3,478.1 1270.7,479.7 1271,478.8 1271.3,478.5 1271.6,477.9 1271.9,478.4 1272.3,478.2 1272.6,478.3 1272.9,478.5 1273.2,479.7 1273.6,479.1 1273.9,479.3 1274.2,479.1 1274.5,479.9 1274.8,478 1275.2,477.6 1275.5,478.4 1275.8,478.5 1276.1,478.3 1276.4,478 1276.8,478.7 1277.1,479.2 1277.4,478.3 1277.7,478 1278,478.6 1278.4,477.5 1278.7,477 1279,476.7 1279.3,474.2 1279.6,475.3 1280,472.6 1280.3,471.3 1280.6,469.6 1280.9,468.4 1281.2,466.9 1281.6,469.1 1281.9,469.7 1282.2,471.1 1282.5,474.4 1282.8,473.4 1283.2,475.8 1283.5,476.3 1283.8,476.2 1284.1,478.5 1284.4,476.8 1284.8,477.8 1285.1,477.6 1285.4,477.5 1285.7,476.5 1286.1,477.1 1286.4,475.5 1286.7,473.3 1287,471.6 1287.3,470.3 1287.7,467.2 1288,465.6 1288.3,463.3 1288.6,461.1 1288.9,459.7 1289.3,460.7 1289.6,463.3 1289.9,465.1 1290.2,468.8 1290.5,469.9 1290.9,472.5 1291.2,474.4 1291.5,475.4 1291.8,476.5 1292.1,477.6 1292.5,477.4 1292.8,478 1293.1,477.8 1293.4,479.2 1293.7,478.2 1294.1,478.6 1294.4,476.5 1294.7,477.9 1295,477.6 1295.3,478.3 1295.7,478 1296,477.7 1296.3,478.1 1296.6,478.7 1296.9,478.9 1297.3,478 1297.6,478.9 1297.9,477.9 1298.2,478.6 1298.6,477.8 1298.9,478.9 1299.2,479.6 1299.5,478.1 1299.8,479 1300.2,477.5 1300.5,477.9 1300.8,479.8 1301.1,478.3 1301.4,478.6 1301.8,477.4 1302.1,478.3 1302.4,477.9 1302.7,479 1303,478 1303.4,479.7 1303.7,477.7 1304,478.5 1304.3,477.2 1304.6,478.1 1305,479 1305.3,478.2 1305.6,477.6 1305.9,478.6 1306.2,478.8 1306.6,478.5 1306.9,478.8 1307.2,477.5 1307.5,479.3 1307.8,478.7 1308.2,477.1 1308.5,479.3 1308.8,478 1309.1,478.6 1309.4,477.2 1309.8,477.9 1310.1,477.3 1310.4,478.7 1310.7,478.1 1311.1,477.7 1311.4,478 1311.7,478.9 1312,477.8 1312.3,478.5 1312.7,477.6 1313,477.3 1313.3,478 1313.6,478.1 1313.9,478.3 1314.3,478.7 1314.6,478 1314.9,478 1315.2,478.6 1315.5,478.4 1315.9,478.1 1316.2,478.2 1316.5,476.9 1316.8,477.7 1317.1,477 1317.5,477.5 1317.8,477.9 1318.1,476 1318.4,476.7 1318.7,474.9 1319.1,473.7 1319.4,471.8 1319.7,470.4 1320,467.6 1320.3,464.8 1320.7,464.5 1321,463.7 1321.3,464.7 1321.6,466.2 1321.9,467.3 1322.3,470.2 1322.6,472.1 1322.9,473.8 1323.2,475.2 1323.5,476.4 1323.9,476.6 1324.2,477.3 1324.5,478.2 1324.8,477.3 1325.2,477.9 1325.5,477.5 1325.8,477.5 1326.1,477.9 1326.4,478.2 1326.8,479 1327.1,478 1327.4,478.7 1327.7,478.5 1328,478.2 1328.4,476.5 1328.7,478.2 1329,478.2 1329.3,477.6 1329.6,478.3 1330,479 1330.3,477.6 1330.6,477.9 1330.9,478.7 1331.2,477.2 1331.6,477.6 1331.9,478.4 1332.2,478.7 1332.5,478.9 1332.8,478.6 1333.2,479.5 1333.5,478.4 1333.8,477.5 1334.1,478.1 1334.4,478.5 1334.8,478.4 1335.1,477.1 1335.4,478.4 1335.7,477.8 1336,478.1 1336.4,479 1336.7,478.1 1337,477.8 1337.3,478.1 1337.7,477.8 1338,479.3 1338.3,478.6 1338.6,478.7 1338.9,477.8 1339.3,477.8 1339.6,478.3 1339.9,477 1340.2,478.7 1340.5,477.5 1340.9,478.2 1341.2,478.3 1341.5,477.7 1341.8,478.3 1342.1,478.5 1342.5,479.1 1342.8,478.3 1343.1,479 1343.4,478.1 1343.7,477.6 1344.1,477.9 1344.4,476.8 1344.7,476.7 1345,476.4 1345.3,476.1 1345.7,475 1346,473.5 1346.3,474.6 1346.6,473.8 1346.9,473.7 1347.3,473.8 1347.6,475.2 1347.9,475.7 1348.2,476.5 1348.5,476.6 1348.9,477.9 1349.2,477.3 1349.5,477.9 1349.8,478 1350.2,478.5 1350.5,477.7 1350.8,477.9 1351.1,478 1351.4,477.7 1351.8,477.8 1352.1,477.5 1352.4,478.5 1352.7,479 1353,477.6 1353.4,478.6 1353.7,477.5 1354,477.7 1354.3,478 1354.6,478.2 1355,478.4 1355.3,477.1 1355.6,477.4" fill="none" stroke="#2f74d0" stroke-width="1.5" stroke-linejoin="round"/><polyline points="971,639.8 971.3,639.8 971.6,640.7 972,639 972.3,640.1 972.6,638.9 972.9,640.6 973.2,640.1 973.6,640.6 973.9,639.5 974.2,640 974.5,639.5 974.8,639.2 975.2,639.6 975.5,638.8 975.8,639.2 976.1,639.7 976.4,639.3 976.8,638.9 977.1,640.3 977.4,639.1 977.7,638.6 978.1,639 978.4,638.5 978.7,638.5 979,638.5 979.3,639.7 979.7,638.6 980,638.6 980.3,638.8 980.6,639.5 980.9,638.2 981.3,637.9 981.6,639.5 981.9,637.3 982.2,637.8 982.5,638.3 982.9,639.2 983.2,637.3 983.5,636.4 983.8,638.1 984.1,637.4 984.5,637.4 984.8,637.8 985.1,637.6 985.4,637.5 985.7,637.1 986.1,638 986.4,638 986.7,637.1 987,636.8 987.3,637.4 987.7,637.2 988,636.3 988.3,636.6 988.6,637.3 988.9,636.6 989.3,636.4 989.6,636.7 989.9,636.4 990.2,636.4 990.6,635.3 990.9,637.2 991.2,636.3 991.5,635.6 991.8,636.5 992.2,636.1 992.5,635.8 992.8,636.3 993.1,636.8 993.4,635.7 993.8,636.1 994.1,636 994.4,633.7 994.7,633 995,632.3 995.4,628.7 995.7,626.3 996,623 996.3,617.6 996.6,611.2 997,603.5 997.3,599.7 997.6,594 997.9,592.3 998.2,593.9 998.6,597.3 998.9,603.4 999.2,609.8 999.5,617.5 999.8,621.2 1000.2,625.6 1000.5,628.7 1000.8,631.2 1001.1,632.6 1001.4,633.3 1001.8,632.9 1002.1,632.1 1002.4,634 1002.7,634.1 1003,634.7 1003.4,633.9 1003.7,633.6 1004,634.2 1004.3,633.1 1004.7,633.3 1005,633.2 1005.3,633.9 1005.6,634.7 1005.9,633.8 1006.3,633.7 1006.6,632.6 1006.9,631.5 1007.2,629.5 1007.5,627.1 1007.9,622.6 1008.2,619 1008.5,614.2 1008.8,610.7 1009.1,606.8 1009.5,605.5 1009.8,607.2 1010.1,609.9 1010.4,615.3 1010.7,620.5 1011.1,623.5 1011.4,627.4 1011.7,629.1 1012,629.9 1012.3,631.8 1012.7,631.9 1013,632.7 1013.3,632.5 1013.6,633 1013.9,631.6 1014.3,634 1014.6,633.6 1014.9,632.6 1015.2,632.3 1015.5,632.8 1015.9,633.1 1016.2,632.9 1016.5,632.9 1016.8,631.6 1017.2,632 1017.5,633.3 1017.8,632.7 1018.1,631.7 1018.4,632 1018.8,631.7 1019.1,631.9 1019.4,633.1 1019.7,632.3 1020,633 1020.4,632.4 1020.7,631.5 1021,631.9 1021.3,633.5 1021.6,631.8 1022,631.6 1022.3,632.8 1022.6,632.1 1022.9,632.1 1023.2,632.8 1023.6,631 1023.9,632.2 1024.2,631.3 1024.5,631.1 1024.8,631.4 1025.2,632.5 1025.5,631.7 1025.8,630.7 1026.1,631.1 1026.4,632.6 1026.8,632.2 1027.1,631 1027.4,633 1027.7,631.4 1028,630.9 1028.4,631.4 1028.7,632 1029,632.3 1029.3,632 1029.7,631.1 1030,631 1030.3,630.5 1030.6,631.2 1030.9,630.9 1031.3,631.3 1031.6,630.4 1031.9,630.8 1032.2,630.6 1032.5,630.4 1032.9,630.3 1033.2,630.4 1033.5,630.3 1033.8,631.2 1034.1,630.9 1034.5,630.1 1034.8,631.1 1035.1,630.9 1035.4,631.5 1035.7,630.5 1036.1,630.5 1036.4,630.2 1036.7,630.6 1037,630.7 1037.3,630.5 1037.7,630.2 1038,630.6 1038.3,630.2 1038.6,630.2 1038.9,629.5 1039.3,630 1039.6,629.2 1039.9,629.1 1040.2,629.4 1040.5,630.1 1040.9,628.8 1041.2,627.1 1041.5,625.2 1041.8,622.8 1042.2,618.5 1042.5,611.9 1042.8,602.4 1043.1,591.7 1043.4,578.8 1043.8,565.5 1044.1,552.6 1044.4,543.3 1044.7,538.4 1045,542.7 1045.4,553.2 1045.7,565 1046,579.1 1046.3,590.6 1046.6,602 1047,611.1 1047.3,616.8 1047.6,621.4 1047.9,626.2 1048.2,626.2 1048.6,627.3 1048.9,627.9 1049.2,628.6 1049.5,628.8 1049.8,629.5 1050.2,629.5 1050.5,628.9 1050.8,629 1051.1,628.4 1051.4,628.4 1051.8,628.8 1052.1,629.7 1052.4,629.3 1052.7,629.7 1053,629.8 1053.4,629.2 1053.7,630.5 1054,629 1054.3,628.9 1054.7,629 1055,629.9 1055.3,629.2 1055.6,628.8 1055.9,629.5 1056.3,629.9 1056.6,629.2 1056.9,629.1 1057.2,629.8 1057.5,629.7 1057.9,629.7 1058.2,628.7 1058.5,629.3 1058.8,629.3 1059.1,628.1 1059.5,629.8 1059.8,629.1 1060.1,628.9 1060.4,630.3 1060.7,629.1 1061.1,628.6 1061.4,628.9 1061.7,629.3 1062,629.4 1062.3,628.9 1062.7,628.4 1063,628.5 1063.3,628.4 1063.6,628.2 1063.9,628.7 1064.3,628.4 1064.6,628.7 1064.9,628.2 1065.2,628.1 1065.5,628.4 1065.9,628.2 1066.2,628.9 1066.5,627.4 1066.8,627.5 1067.1,626.4 1067.5,624.1 1067.8,622.9 1068.1,619.5 1068.4,614.2 1068.8,611.3 1069.1,607.1 1069.4,602.5 1069.7,602.5 1070,603 1070.4,605.8 1070.7,611.2 1071,615.1 1071.3,618.4 1071.6,621.1 1072,624.8 1072.3,625.7 1072.6,627.4 1072.9,627.8 1073.2,627.6 1073.6,627.7 1073.9,629.1 1074.2,629.1 1074.5,628.6 1074.8,628 1075.2,627.6 1075.5,628 1075.8,629.1 1076.1,628.4 1076.4,628 1076.8,627.5 1077.1,628.2 1077.4,627.6 1077.7,628.1 1078,628.5 1078.4,628.7 1078.7,628.2 1079,627.9 1079.3,628.2 1079.6,629 1080,628.2 1080.3,627.2 1080.6,628.7 1080.9,627.9 1081.3,629.4 1081.6,626.8 1081.9,626.4 1082.2,625.3 1082.5,624.5 1082.9,622.5 1083.2,620.5 1083.5,619 1083.8,619.5 1084.1,619.7 1084.5,620.8 1084.8,623.7 1085.1,624.1 1085.4,625.1 1085.7,624.5 1086.1,624.6 1086.4,623.5 1086.7,622.3 1087,621.5 1087.3,620.2 1087.7,619.6 1088,620 1088.3,620.3 1088.6,622.2 1088.9,624.2 1089.3,625 1089.6,625.7 1089.9,626.9 1090.2,626.6 1090.5,626.9 1090.9,627.9 1091.2,627.3 1091.5,628.3 1091.8,627.8 1092.1,628 1092.5,628.1 1092.8,626.3 1093.1,627.4 1093.4,626.7 1093.8,627.2 1094.1,627.4 1094.4,628.1 1094.7,627.4 1095,628.3 1095.4,627.1 1095.7,627.3 1096,627.4 1096.3,627.8 1096.6,627.3 1097,626.9 1097.3,627 1097.6,626.4 1097.9,627.9 1098.2,627.6 1098.6,627.3 1098.9,627.2 1099.2,626.7 1099.5,626.7 1099.8,627.4 1100.2,626.4 1100.5,626.4 1100.8,627.6 1101.1,627.5 1101.4,626.7 1101.8,626.7 1102.1,626.3 1102.4,626.8 1102.7,625.3 1103,624.9 1103.4,624 1103.7,622.6 1104,618.6 1104.3,614.2 1104.6,607 1105,597.9 1105.3,586.6 1105.6,574 1105.9,560.7 1106.3,546.7 1106.6,536.7 1106.9,532.8 1107.2,536.9 1107.5,546.8 1107.9,558.3 1108.2,572.4 1108.5,583.8 1108.8,594.9 1109.1,601.5 1109.5,606.3 1109.8,609 1110.1,609.9 1110.4,608.5 1110.7,607.4 1111.1,605.3 1111.4,603.2 1111.7,601.8 1112,601.7 1112.3,601.5 1112.7,603.7 1113,606.2 1113.3,607.9 1113.6,612.1 1113.9,614.3 1114.3,616.8 1114.6,619.2 1114.9,621.4 1115.2,623 1115.5,624.2 1115.9,624.4 1116.2,625.7 1116.5,626 1116.8,625.8 1117.1,626.2 1117.5,626.8 1117.8,626.7 1118.1,626.9 1118.4,626.6 1118.8,627.2 1119.1,627.8 1119.4,626.9 1119.7,625.7 1120,627.6 1120.4,626.3 1120.7,625.9 1121,625.4 1121.3,626.9 1121.6,627.3 1122,627.2 1122.3,626.5 1122.6,627.5 1122.9,626.6 1123.2,626.4 1123.6,626.7 1123.9,626.8 1124.2,626.7 1124.5,626.9 1124.8,625.5 1125.2,627.5 1125.5,626.4 1125.8,627 1126.1,626.2 1126.4,626.8 1126.8,626.6 1127.1,625.8 1127.4,626.9 1127.7,627 1128,626 1128.4,625.5 1128.7,626.3 1129,626.2 1129.3,626.7 1129.6,626.6 1130,627.5 1130.3,627 1130.6,626.5 1130.9,626.7 1131.2,625 1131.6,626.1 1131.9,626.1 1132.2,626.5 1132.5,626.8 1132.9,626.7 1133.2,627.1 1133.5,626.2 1133.8,626.7 1134.1,626.5 1134.5,626.6 1134.8,626.7 1135.1,626.4 1135.4,626.7 1135.7,626.5 1136.1,627.1 1136.4,626.5 1136.7,626.7 1137,627.9 1137.3,626.9 1137.7,626.8 1138,627.1 1138.3,625.9 1138.6,626.9 1138.9,626.9 1139.3,626.7 1139.6,627 1139.9,626.9 1140.2,627.1 1140.5,626.1 1140.9,626.7 1141.2,626.1 1141.5,627.1 1141.8,626.5 1142.1,625.7 1142.5,626.5 1142.8,625.9 1143.1,626.9 1143.4,626.2 1143.7,625.2 1144.1,626.2 1144.4,626.9 1144.7,626.5 1145,626 1145.4,626.7 1145.7,626.6 1146,627.1 1146.3,626.8 1146.6,626.5 1147,625.9 1147.3,626.4 1147.6,626.4 1147.9,626.3 1148.2,626.5 1148.6,625.6 1148.9,626.5 1149.2,626.2 1149.5,626.4 1149.8,626.1 1150.2,626 1150.5,626.3 1150.8,626.5 1151.1,625.9 1151.4,626.2 1151.8,625.6 1152.1,626.2 1152.4,626 1152.7,625.2 1153,626.5 1153.4,625.3 1153.7,625.8 1154,624.9 1154.3,624.6 1154.6,625.8 1155,624.5 1155.3,623.9 1155.6,624.5 1155.9,623 1156.2,622.4 1156.6,621.3 1156.9,616.4 1157.2,611.2 1157.5,603.4 1157.9,593 1158.2,580.6 1158.5,568.1 1158.8,554.3 1159.1,544.4 1159.5,540.3 1159.8,543.5 1160.1,554.5 1160.4,567.3 1160.7,580.9 1161.1,593.2 1161.4,603.9 1161.7,609.9 1162,616.2 1162.3,619.9 1162.7,621.9 1163,623.9 1163.3,624.4 1163.6,624.9 1163.9,624.1 1164.3,624.5 1164.6,624.9 1164.9,624.4 1165.2,623.8 1165.5,623.3 1165.9,622.1 1166.2,620.4 1166.5,620.6 1166.8,618.2 1167.1,618.5 1167.5,618.9 1167.8,620.2 1168.1,620.7 1168.4,621.8 1168.7,623.7 1169.1,624.4 1169.4,623.6 1169.7,623.7 1170,625 1170.4,625 1170.7,624.8 1171,624.6 1171.3,622.7 1171.6,623 1172,619.4 1172.3,616.2 1172.6,611.7 1172.9,606.3 1173.2,604.2 1173.6,602.4 1173.9,604.3 1174.2,607.4 1174.5,611.9 1174.8,615.1 1175.2,618.8 1175.5,621.6 1175.8,622.9 1176.1,624.2 1176.4,625.4 1176.8,626.5 1177.1,625.5 1177.4,626.1 1177.7,625.1 1178,625.5 1178.4,626 1178.7,626.1 1179,625.3 1179.3,626.1 1179.6,625.9 1180,626.5 1180.3,626.3 1180.6,626.1 1180.9,625.6 1181.2,626 1181.6,625.4 1181.9,625.4 1182.2,624.8 1182.5,625.1 1182.9,625.1 1183.2,625.8 1183.5,625.9 1183.8,625.1 1184.1,625.7 1184.5,626 1184.8,626.3 1185.1,625.7 1185.4,625.8 1185.7,625.5 1186.1,626.2 1186.4,624.8 1186.7,625.7 1187,624.2 1187.3,626.3 1187.7,625.7 1188,623.7 1188.3,624 1188.6,622.5 1188.9,620.7 1189.3,619 1189.6,615.2 1189.9,611.7 1190.2,605.5 1190.5,599.3 1190.9,594.1 1191.2,589.9 1191.5,588.4 1191.8,590 1192.1,593.3 1192.5,599.4 1192.8,605.7 1193.1,610.7 1193.4,616.1 1193.7,619 1194.1,621.6 1194.4,623 1194.7,624.3 1195,624 1195.3,626.3 1195.7,625 1196,625 1196.3,624.5 1196.6,625.5 1197,624.8 1197.3,625.8 1197.6,626.3 1197.9,626 1198.2,625.4 1198.6,626.4 1198.9,625.6 1199.2,625.7 1199.5,625.8 1199.8,625.5 1200.2,626 1200.5,625.1 1200.8,624.8 1201.1,626.4 1201.4,625.4 1201.8,625.6 1202.1,625.9 1202.4,625.5 1202.7,625.1 1203,625.7 1203.4,625.3 1203.7,626.1 1204,625.5 1204.3,625.6 1204.6,626.2 1205,624.9 1205.3,625 1205.6,626.2 1205.9,626.4 1206.2,625.8 1206.6,625.4 1206.9,626.4 1207.2,626 1207.5,626.3 1207.8,624.8 1208.2,625.7 1208.5,625.2 1208.8,625.2 1209.1,626.1 1209.5,626.1 1209.8,625.5 1210.1,625.6 1210.4,626.5 1210.7,626.1 1211.1,625.7 1211.4,626 1211.7,625.8 1212,625 1212.3,625.4 1212.7,625.9 1213,626.1 1213.3,625.1 1213.6,625.3 1213.9,625.4 1214.3,624.9 1214.6,626.3 1214.9,625.9 1215.2,626.4 1215.5,624.5 1215.9,625.2 1216.2,626.7 1216.5,624.9 1216.8,624.7 1217.1,625.8 1217.5,626.5 1217.8,626 1218.1,625.1 1218.4,625.9 1218.7,625.9 1219.1,625.8 1219.4,625.8 1219.7,626.1 1220,626.2 1220.3,626.3 1220.7,626.2 1221,625.5 1221.3,624.6 1221.6,625.9 1222,624.7 1222.3,626.8 1222.6,624.9 1222.9,624.5 1223.2,624.5 1223.6,625.7 1223.9,625.6 1224.2,625.8 1224.5,625.6 1224.8,625 1225.2,625.8 1225.5,625 1225.8,624.5 1226.1,625.8 1226.4,625.6 1226.8,624.8 1227.1,625.1 1227.4,625.7 1227.7,625.6 1228,624.5 1228.4,625.6 1228.7,623.5 1229,624.9 1229.3,625 1229.6,624.6 1230,624.5 1230.3,623.3 1230.6,623.8 1230.9,623.5 1231.2,621.6 1231.6,620.5 1231.9,617.5 1232.2,612.1 1232.5,606.9 1232.8,599.1 1233.2,587.1 1233.5,574.8 1233.8,560.4 1234.1,544.3 1234.5,530.8 1234.8,520.8 1235.1,516.6 1235.4,519.8 1235.7,531.4 1236.1,545.1 1236.4,560.2 1236.7,575.6 1237,588.2 1237.3,598.9 1237.7,607.6 1238,613.6 1238.3,618.2 1238.6,620.2 1238.9,621 1239.3,623.9 1239.6,624.1 1239.9,624.3 1240.2,624.3 1240.5,624.4 1240.9,624.6 1241.2,624.1 1241.5,625.1 1241.8,624.7 1242.1,624.2 1242.5,624.8 1242.8,624.5 1243.1,624.6 1243.4,624.8 1243.7,625.7 1244.1,623.3 1244.4,623.5 1244.7,622.5 1245,620.7 1245.3,618.9 1245.7,614.6 1246,610.4 1246.3,605.4 1246.6,598.9 1247,594.3 1247.3,587.5 1247.6,584.3 1247.9,583.1 1248.2,583.6 1248.6,588.1 1248.9,593.7 1249.2,600.7 1249.5,605.6 1249.8,609.7 1250.2,615.5 1250.5,618.8 1250.8,619.6 1251.1,620.8 1251.4,624.8 1251.8,624.1 1252.1,623.4 1252.4,625.3 1252.7,625.7 1253,623.7 1253.4,625.8 1253.7,625.5 1254,625.1 1254.3,624.8 1254.6,625.4 1255,624.7 1255.3,625.2 1255.6,624.9 1255.9,624.5 1256.2,624.6 1256.6,624 1256.9,622.6 1257.2,620.7 1257.5,619.4 1257.8,616.1 1258.2,616.1 1258.5,616.9 1258.8,619.1 1259.1,619.2 1259.4,621.9 1259.8,623.2 1260.1,624.3 1260.4,625.9 1260.7,624.9 1261.1,624.7 1261.4,624.7 1261.7,624.5 1262,623 1262.3,622.6 1262.7,619.1 1263,617.9 1263.3,614.6 1263.6,611.4 1263.9,608.5 1264.3,605.1 1264.6,604.4 1264.9,605.3 1265.2,607.4 1265.5,610.5 1265.9,613.8 1266.2,617.7 1266.5,618.6 1266.8,621 1267.1,623.2 1267.5,624.8 1267.8,624.5 1268.1,625.6 1268.4,625.1 1268.7,624.9 1269.1,624.4 1269.4,625.4 1269.7,626.3 1270,625.4 1270.3,624.8 1270.7,625.7 1271,624.7 1271.3,624.8 1271.6,626 1271.9,625.7 1272.3,626 1272.6,625.6 1272.9,625.4 1273.2,625.5 1273.6,625.3 1273.9,626 1274.2,624.7 1274.5,624.4 1274.8,625 1275.2,625.9 1275.5,625.1 1275.8,624.1 1276.1,626.9 1276.4,624.9 1276.8,625.2 1277.1,625.6 1277.4,625.4 1277.7,625 1278,624.1 1278.4,624.9 1278.7,623.5 1279,623.1 1279.3,622.5 1279.6,620.3 1280,617.7 1280.3,616.4 1280.6,615.2 1280.9,613.7 1281.2,612 1281.6,613.3 1281.9,614.9 1282.2,617.3 1282.5,618.9 1282.8,620.5 1283.2,621.7 1283.5,623.3 1283.8,624.2 1284.1,624.1 1284.4,624.3 1284.8,625.3 1285.1,624.1 1285.4,623.2 1285.7,623.2 1286.1,621.1 1286.4,619.7 1286.7,618.9 1287,616.1 1287.3,613.9 1287.7,611.1 1288,607.4 1288.3,605.6 1288.6,603.3 1288.9,602.9 1289.3,603.6 1289.6,605.3 1289.9,607.2 1290.2,610.8 1290.5,613.5 1290.9,616.4 1291.2,617.9 1291.5,620.5 1291.8,621.7 1292.1,622.8 1292.5,623.6 1292.8,624.2 1293.1,624 1293.4,624.7 1293.7,624.9 1294.1,625.4 1294.4,625.2 1294.7,626.1 1295,625.7 1295.3,625.5 1295.7,625.5 1296,624.6 1296.3,625.6 1296.6,626.1 1296.9,624.9 1297.3,626.1 1297.6,625.8 1297.9,625.6 1298.2,625.2 1298.6,625.5 1298.9,625 1299.2,625.5 1299.5,625.5 1299.8,625.5 1300.2,624.8 1300.5,626 1300.8,625.1 1301.1,625.7 1301.4,625.8 1301.8,625.4 1302.1,626.8 1302.4,625.6 1302.7,625.7 1303,625.4 1303.4,625.7 1303.7,624.8 1304,625.9 1304.3,625.3 1304.6,625.2 1305,625.9 1305.3,626 1305.6,625.3 1305.9,625 1306.2,624.4 1306.6,625 1306.9,625.8 1307.2,625.9 1307.5,624.8 1307.8,625.5 1308.2,626.1 1308.5,625.1 1308.8,625.2 1309.1,625 1309.4,625.7 1309.8,624.5 1310.1,625.4 1310.4,625.7 1310.7,625.5 1311.1,626 1311.4,625.8 1311.7,625.2 1312,624.9 1312.3,624.9 1312.7,625.7 1313,625.4 1313.3,625.5 1313.6,625 1313.9,626.1 1314.3,625.9 1314.6,625.8 1314.9,624.8 1315.2,626.8 1315.5,625.8 1315.9,624.8 1316.2,625.8 1316.5,625.2 1316.8,624.7 1317.1,624.6 1317.5,625 1317.8,624.5 1318.1,623.7 1318.4,622.6 1318.7,620.8 1319.1,619.8 1319.4,617.5 1319.7,615.3 1320,613.3 1320.3,611.7 1320.7,608.8 1321,609.1 1321.3,608.8 1321.6,611.3 1321.9,613.4 1322.3,615.4 1322.6,617.8 1322.9,619.3 1323.2,621.2 1323.5,623.2 1323.9,624 1324.2,625.5 1324.5,624.2 1324.8,624.7 1325.2,625.2 1325.5,625.3 1325.8,625 1326.1,625.1 1326.4,625.3 1326.8,626.1 1327.1,625.4 1327.4,625 1327.7,625.6 1328,624 1328.4,625 1328.7,625.1 1329,625.6 1329.3,624.2 1329.6,625.4 1330,624.9 1330.3,626 1330.6,625.9 1330.9,625.2 1331.2,625.7 1331.6,624.9 1331.9,625.6 1332.2,625.6 1332.5,626.1 1332.8,625.3 1333.2,624.3 1333.5,625.9 1333.8,624.9 1334.1,625.2 1334.4,625.3 1334.8,626.4 1335.1,625.5 1335.4,626.1 1335.7,625.5 1336,624.8 1336.4,625.8 1336.7,625.8 1337,625.2 1337.3,624.7 1337.7,627 1338,626.7 1338.3,625.7 1338.6,625.8 1338.9,626 1339.3,625.8 1339.6,624.7 1339.9,624.8 1340.2,625.9 1340.5,626.2 1340.9,626.1 1341.2,625.9 1341.5,625.5 1341.8,626 1342.1,626.3 1342.5,625.8 1342.8,626.1 1343.1,626.1 1343.4,625.1 1343.7,626.1 1344.1,625 1344.4,624.9 1344.7,626.1 1345,624.2 1345.3,624.8 1345.7,624.9 1346,624.1 1346.3,623 1346.6,621.8 1346.9,621.7 1347.3,620.8 1347.6,619.8 1347.9,619 1348.2,619 1348.5,620.5 1348.9,621.4 1349.2,622.8 1349.5,623 1349.8,624.4 1350.2,623.8 1350.5,623.9 1350.8,625.6 1351.1,625 1351.4,624.9 1351.8,625.3 1352.1,624.8 1352.4,625.3 1352.7,624.7 1353,625.6 1353.4,625.2 1353.7,625.5 1354,625.5 1354.3,625.7 1354.6,624.6 1355,625.6 1355.3,625.4 1355.6,624.9" fill="none" stroke="#e0424e" stroke-width="1.5" stroke-linejoin="round"/><rect x="971" y="353.4" width="384.5999999999999" height="318.80000000000007" fill="none" stroke="#2a2a2a" stroke-width="1.5"/><line x1="971" y1="672.2" x2="971" y2="676.7" stroke="#333" stroke-width="1" /><line x1="1003" y1="672.2" x2="1003" y2="675.2" stroke="#333" stroke-width="1" /><line x1="1035.1" y1="672.2" x2="1035.1" y2="676.7" stroke="#333" stroke-width="1" /><line x1="1067.2" y1="672.2" x2="1067.2" y2="675.2" stroke="#333" stroke-width="1" /><line x1="1099.2" y1="672.2" x2="1099.2" y2="676.7" stroke="#333" stroke-width="1" /><line x1="1131.2" y1="672.2" x2="1131.2" y2="675.2" stroke="#333" stroke-width="1" /><line x1="1163.3" y1="672.2" x2="1163.3" y2="676.7" stroke="#333" stroke-width="1" /><line x1="1195.3" y1="672.2" x2="1195.3" y2="675.2" stroke="#333" stroke-width="1" /><line x1="1227.4" y1="672.2" x2="1227.4" y2="676.7" stroke="#333" stroke-width="1" /><line x1="1259.5" y1="672.2" x2="1259.5" y2="675.2" stroke="#333" stroke-width="1" /><line x1="1291.5" y1="672.2" x2="1291.5" y2="676.7" stroke="#333" stroke-width="1" /><line x1="1323.5" y1="672.2" x2="1323.5" y2="675.2" stroke="#333" stroke-width="1" /><line x1="1355.6" y1="672.2" x2="1355.6" y2="676.7" stroke="#333" stroke-width="1" /><text x="971" y="700.5" font-size="20" font-weight="normal" text-anchor="middle" fill="#222" >15</text><text x="1035.1" y="700.5" font-size="20" font-weight="normal" text-anchor="middle" fill="#222" >20</text><text x="1099.2" y="700.5" font-size="20" font-weight="normal" text-anchor="middle" fill="#222" >25</text><text x="1163.3" y="700.5" font-size="20" font-weight="normal" text-anchor="middle" fill="#222" >30</text><text x="1227.4" y="700.5" font-size="20" font-weight="normal" text-anchor="middle" fill="#222" >35</text><text x="1291.5" y="700.5" font-size="20" font-weight="normal" text-anchor="middle" fill="#222" >40</text><text x="1355.6" y="700.5" font-size="20" font-weight="normal" text-anchor="middle" fill="#222" >45</text><text x="1162.7" y="726" font-size="20.6" font-weight="normal" text-anchor="middle" fill="#222" >2 Theta (&#952;)</text><text x="0" y="0" font-size="20.6" font-weight="normal" text-anchor="middle" fill="#222" transform="translate(952,516.7) rotate(-90)">Intensity (arb. units)</text><text x="1350.6" y="378" font-size="19.5" font-weight="normal" text-anchor="end" fill="#222" >R-LFP-Li<tspan dy="4" font-size="13">2</tspan><tspan dy="-4">DHBN</tspan></text><text x="1345.6" y="515" font-size="19.5" font-weight="normal" text-anchor="end" fill="#222" >S-LFP</text><text x="984.4" y="570" font-size="16.5" font-weight="bold" text-anchor="start" fill="#111" >FePO<tspan dy="4" font-size="12">4</tspan></text><text x="0" y="0" font-size="15.5" font-weight="bold" text-anchor="middle" fill="#111" transform="translate(1007.3,456.8) rotate(-90)">(200)</text><text x="0" y="0" font-size="15.5" font-weight="bold" text-anchor="middle" fill="#111" transform="translate(1048.3,420.9) rotate(-90)">(101)</text><text x="0" y="0" font-size="15.5" font-weight="bold" text-anchor="middle" fill="#111" transform="translate(1076.4,448) rotate(-90)">(210)</text><text x="0" y="0" font-size="15.5" font-weight="bold" text-anchor="middle" fill="#111" transform="translate(1112.5,400.1) rotate(-90)">(111)</text><text x="0" y="0" font-size="15.5" font-weight="bold" text-anchor="middle" fill="#111" transform="translate(1165.8,394.8) rotate(-90)">(211)</text><text x="0" y="0" font-size="15.5" font-weight="bold" text-anchor="middle" fill="#111" transform="translate(1196.5,429.6) rotate(-90)">(301)</text><text x="0" y="0" font-size="15.5" font-weight="bold" text-anchor="middle" fill="#111" transform="translate(1228.5,408.4) rotate(-90)">(311)</text><text x="0" y="0" font-size="15.5" font-weight="bold" text-anchor="middle" fill="#111" transform="translate(1255.3,426.7) rotate(-90)">(121)</text><polygon points="1006,592.7 1014,592.7 1010,600.7" fill="#111" /><polygon points="1079.6,606 1087.6,606 1083.6,614" fill="#111" /><polygon points="1162.7,605.3 1170.7,605.3 1166.7,613.3" fill="#111" /><polygon points="1170.3,590.7 1178.3,590.7 1174.3,598.7" fill="#111" /><polygon points="1253.6,603.8 1261.6,603.8 1257.6,611.8" fill="#111" /><rect x="54" y="778.3" width="819.6" height="437.2" fill="url(#bgE)" /><text x="27" y="798.5" font-size="37.5" font-weight="bold" text-anchor="start" fill="#000" >e</text><path d="M54,820.4 L115.2,828.7 L132.6,839.5 L152,854.7 L189,872 L197.7,883 L208.6,920 L223.8,959 L231.4,987.3 L233.2,993 L231.5,1013 L221.5,1046.5 L213,1076.5 L200,1096.5 L181.5,1116.5 L160,1136.5 L130,1153 L100,1161.4 L71.6,1168 L70,1176.4 L54,1176.4 Z" fill="#a2a2a2"/><circle cx="62" cy="993" r="172" fill="url(#gS)" clip-path="url(#cpS)"/><path d="M54,820.4 L115.2,828.7 L132.6,839.5 L152,854.7 L189,872 L197.7,883 L208.6,920 L223.8,959 L231.4,987.3 L233.2,993 L231.5,1013 L221.5,1046.5 L213,1076.5 L200,1096.5 L181.5,1116.5 L160,1136.5 L130,1153 L100,1161.4 L71.6,1168 L70,1176.4" fill="none" stroke="url(#gShell)" stroke-width="14" clip-path="url(#cpS)"/><path d="M54,820.4 L115.2,828.7 L132.6,839.5 L152,854.7 L189,872 L197.7,883 L208.6,920 L223.8,959 L231.4,987.3 L233.2,993 L231.5,1013 L221.5,1046.5 L213,1076.5 L200,1096.5 L181.5,1116.5 L160,1136.5 L130,1153 L100,1161.4 L71.6,1168 L70,1176.4 L54,1176.4 Z" fill="none" stroke="#1a1a1a" stroke-width="1.6" stroke-linejoin="round"/><rect x="52" y="815" width="2.2" height="365" fill="#fbe2e2" /><path d="M118.3,878.3 Q106.6,900 106.2,908.3 Q105.9,916.6 104.6,928.3 Q103.3,940 94.9,946.6 Q86.6,953.2 79.1,956.6 Q71.6,960 70.8,966.6 L70,973.2" fill="none" stroke="#f2f2f2" stroke-width="1.8" stroke-linecap="round"/><path d="M108.3,968.2 Q116.6,976.5 117.4,984.9 Q118.3,993.2 118.3,1003.2 Q118.3,1013.2 125.8,1019.9 Q133.2,1026.5 144.9,1031.5 Q156.6,1036.5 164.9,1052.3 L173.2,1068.1" fill="none" stroke="#f2f2f2" stroke-width="1.8" stroke-linecap="round"/><path d="M81.6,1016.5 Q88.3,1026.5 87.4,1034.8 Q86.6,1043.2 84.1,1051.5 Q81.6,1059.8 84.9,1068.2 Q88.3,1076.5 97.4,1084.8 Q106.6,1093.1 110.8,1101.4 Q114.9,1109.8 117.4,1117.3 L119.9,1124.8" fill="none" stroke="#f2f2f2" stroke-width="1.8" stroke-linecap="round"/><text x="73.3" y="1005" font-size="27.2" font-weight="bold" text-anchor="start" fill="#fff" >S-LFP</text><circle cx="116.3" cy="885.1" r="13" fill="none" stroke="#111" stroke-width="1.6" stroke-dasharray="4 3"/><line x1="116" y1="872" x2="193.4" y2="787" stroke="#111" stroke-width="1.6" stroke-dasharray="6 4"/><line x1="128" y1="896" x2="344.4" y2="848.2" stroke="#111" stroke-width="1.6" stroke-dasharray="6 4"/><rect x="193.4" y="785.2" width="151" height="63" fill="none" stroke="#111" stroke-width="1.6" stroke-dasharray="6 4"/><text x="268.6" y="810.8" font-size="20.6" font-weight="bold" text-anchor="middle" fill="#111" >Structural</text><text x="268.6" y="835.2" font-size="20.6" font-weight="bold" text-anchor="middle" fill="#111" >degradation</text><ellipse cx="280" cy="1171.7" rx="87.8" ry="35" fill="#fff" fill-opacity="0.3" stroke="#111" stroke-width="1.5"/><text x="280" y="1165" font-size="20.6" font-weight="bold" text-anchor="middle" fill="#111" >No carbon</text><text x="280" y="1190" font-size="20.6" font-weight="bold" text-anchor="middle" fill="#111" >layer regions</text><line x1="272.7" y1="1135" x2="223" y2="1049" stroke="#111" stroke-width="1.4" /><polyline points="229.8,1052 222,1047.5 222,1056.5" fill="none" stroke="#111" stroke-width="1.4" stroke-linecap="round" stroke-linejoin="round"/><line x1="191.7" y1="1165" x2="142" y2="1148.8" stroke="#111" stroke-width="1.4" /><polyline points="148.8,1146.4 140,1148.3 146,1155" fill="none" stroke="#111" stroke-width="1.4" stroke-linecap="round" stroke-linejoin="round"/><path d="M340.9,940.2 C342,975 400,988 466,989.5 C410,985 365,972 355,940.2 Z" fill="url(#gRedE)"/><path d="M340.9,1039 C342,1004 400,992 466,990.5 C410,995 365,1008 355,1039 Z" fill="url(#gRedE)"/><path d="M472,989 C525,985 565,975 590,956 L586.3,954.3 L602.6,940.2 L614.2,953.2 L597,959 C570,980 530,990 472,990 Z" fill="url(#gBlueE)"/><path d="M472,991 C525,995 565,1005 590,1024 L586.3,1025.7 L602.6,1039.8 L614.2,1026.8 L597,1021 C570,1000 530,991 472,991 Z" fill="url(#gBlueE)"/><line x1="421.2" y1="945.6" x2="451.2" y2="935.8" stroke="#e6bd5a" stroke-width="2.6" stroke-linecap="round"/><line x1="451.2" y1="935.8" x2="482.1" y2="945.6" stroke="#e6bd5a" stroke-width="2.6" stroke-linecap="round"/><line x1="482.1" y1="945.6" x2="508.6" y2="935.8" stroke="#e6bd5a" stroke-width="2.6" stroke-linecap="round"/><line x1="508.6" y1="935.8" x2="537.5" y2="945.6" stroke="#e6bd5a" stroke-width="2.6" stroke-linecap="round"/><line x1="480" y1="945" x2="480" y2="915" stroke="#e6bd5a" stroke-width="2" stroke-linecap="round"/><line x1="484.2" y1="945" x2="484.2" y2="915" stroke="#e6bd5a" stroke-width="2" stroke-linecap="round"/><circle cx="421.2" cy="945.6" r="6.2" fill="url(#gLiE)" /><circle cx="451.2" cy="935.8" r="6.6" fill="url(#gOr)" /><circle cx="482.1" cy="945.6" r="6.2" fill="url(#gC)" /><circle cx="482.1" cy="914.8" r="6.6" fill="url(#gOr)" /><circle cx="508.6" cy="935.8" r="6.6" fill="url(#gOr)" /><circle cx="537.5" cy="945.6" r="6.2" fill="url(#gLiE)" /><line x1="407.1" y1="1034.7" x2="433.2" y2="1022.7" stroke="#e6bd5a" stroke-width="2.6" stroke-linecap="round"/><line x1="433.2" y1="1022.7" x2="459.3" y2="1039" stroke="#e6bd5a" stroke-width="2.6" stroke-linecap="round"/><line x1="459.3" y1="1039" x2="484.7" y2="1022.7" stroke="#e6bd5a" stroke-width="2.6" stroke-linecap="round"/><line x1="484.7" y1="1022.7" x2="512" y2="1036.9" stroke="#e6bd5a" stroke-width="2.6" stroke-linecap="round"/><line x1="512" y1="1036.9" x2="512" y2="1068.4" stroke="#e6bd5a" stroke-width="2.6" stroke-linecap="round"/><line x1="512" y1="1068.4" x2="484.7" y2="1082.5" stroke="#e6bd5a" stroke-width="2.6" stroke-linecap="round"/><line x1="484.7" y1="1082.5" x2="459.9" y2="1068.4" stroke="#e6bd5a" stroke-width="2.6" stroke-linecap="round"/><line x1="459.9" y1="1068.4" x2="459.3" y2="1039" stroke="#e6bd5a" stroke-width="2.6" stroke-linecap="round"/><line x1="407.1" y1="1065.1" x2="433.2" y2="1053.2" stroke="#e6bd5a" stroke-width="2.6" stroke-linecap="round"/><line x1="433.2" y1="1053.2" x2="459.9" y2="1068.4" stroke="#e6bd5a" stroke-width="2.6" stroke-linecap="round"/><line x1="512" y1="1036.9" x2="537.5" y2="1021.7" stroke="#e6bd5a" stroke-width="2.6" stroke-linecap="round"/><line x1="537.5" y1="1019.5" x2="565.7" y2="1032.5" stroke="#e6bd5a" stroke-width="1.5" stroke-linecap="round"/><line x1="537.5" y1="1021.7" x2="565.7" y2="1034.7" stroke="#e6bd5a" stroke-width="1.5" stroke-linecap="round"/><line x1="537.5" y1="1023.9" x2="565.7" y2="1036.9" stroke="#e6bd5a" stroke-width="1.5" stroke-linecap="round"/><circle cx="485.8" cy="1052.7" r="21" fill="none" stroke="#efd48a" stroke-width="1.6"/><circle cx="407.1" cy="1034.7" r="6.2" fill="url(#gLiE)" /><circle cx="433.2" cy="1022.7" r="6.6" fill="url(#gOr)" /><circle cx="459.3" cy="1039" r="6.2" fill="url(#gC)" /><circle cx="484.7" cy="1022.7" r="6.2" fill="url(#gC)" /><circle cx="512" cy="1036.9" r="6.2" fill="url(#gC)" /><circle cx="512" cy="1068.4" r="6.2" fill="url(#gC)" /><circle cx="484.7" cy="1082.5" r="6.2" fill="url(#gC)" /><circle cx="459.9" cy="1068.4" r="6.2" fill="url(#gC)" /><circle cx="407.1" cy="1065.1" r="6.2" fill="url(#gLiE)" /><circle cx="433.2" cy="1053.2" r="6.6" fill="url(#gOr)" /><circle cx="537.5" cy="1021.7" r="6.2" fill="url(#gC)" /><circle cx="565.7" cy="1034.7" r="6.4" fill="url(#gN)" /><text x="479.4" y="865.5" font-size="24.3" font-weight="bold" text-anchor="middle" fill="#111" font-style="italic" >Reclaiming by</text><text x="479.4" y="893.4" font-size="24.5" font-weight="bold" text-anchor="middle" fill="#111" font-style="italic" >inorganic lithium salt</text><text x="485.9" y="1115.6" font-size="24.3" font-weight="bold" text-anchor="middle" fill="#111" font-style="italic" >Reclaiming by</text><text x="486.1" y="1144.3" font-size="24.3" font-weight="bold" text-anchor="middle" fill="#111" font-style="italic" >organic lithium salt</text><circle cx="385.8" cy="1200" r="5.6" fill="url(#gLiE)" /><text x="397.7" y="1208" font-size="21" font-weight="bold" text-anchor="start" fill="#111" >Li</text><circle cx="437.5" cy="1200" r="5.6" fill="url(#gC)" /><text x="451.5" y="1208" font-size="21" font-weight="bold" text-anchor="start" fill="#111" >C</text><circle cx="487.3" cy="1200" r="5.6" fill="url(#gOr)" /><text x="499.3" y="1208" font-size="21" font-weight="bold" text-anchor="start" fill="#111" >O</text><circle cx="532.3" cy="1200" r="5.6" fill="url(#gN)" /><text x="545" y="1208" font-size="21" font-weight="bold" text-anchor="start" fill="#111" >N</text><g clip-path="url(#cpE)"><circle cx="873" cy="996" r="178" fill="url(#gR)" stroke="#2a2a2a" stroke-width="1.6"/></g><line x1="702" y1="997" x2="873.6" y2="997" stroke="#f4f4f4" stroke-width="2.2" /><text x="810" y="963" font-size="27" font-weight="bold" text-anchor="middle" fill="#fff" >R-LFP</text><text x="810" y="1052.7" font-size="27" font-weight="bold" text-anchor="middle" fill="#fff" >R-LFP</text><circle cx="707.5" cy="835.7" r="6" fill="url(#gOrg)" /><circle cx="685.6" cy="867.5" r="6" fill="url(#gOrg)" /><circle cx="679.7" cy="1136.3" r="6" fill="url(#gOrg)" /><circle cx="704.3" cy="1160.2" r="6" fill="url(#gOrg)" /><text x="648.6" y="855" font-family='"Liberation Serif", "Times New Roman", serif' font-size="21" font-weight="bold" font-style="italic" fill="#111">Li<tspan dy="-8" font-size="12">+</tspan></text><text x="642.6" y="1166" font-family='"Liberation Serif", "Times New Roman", serif' font-size="21" font-weight="bold" font-style="italic" fill="#111">Li<tspan dy="-8" font-size="12">+</tspan></text><path d="M718,824 C735,845 745,850 768,858" fill="none" stroke="#ee8a3a" stroke-width="1.8" stroke-dasharray="6 4"/><polygon points="771.9,872.2 780,876 778.6,867.1" fill="#ee8a3a" /><path d="M690,846 C705,862 725,866 752,878" fill="none" stroke="#ee8a3a" stroke-width="1.8" stroke-dasharray="6 4"/><polygon points="754.2,891.5 762,896 761.3,887" fill="#ee8a3a" /><path d="M670,882 C690,888 712,890 724,900 C718,908 712,913 706,915" fill="none" stroke="#ee8a3a" stroke-width="1.8" stroke-dasharray="6 4"/><polygon points="704.9,911.2 699,918 707.9,919.1" fill="#ee8a3a" /><path d="M684,1120 C705,1105 730,1100 755,1097" fill="none" stroke="#ee8a3a" stroke-width="1.8"/><polygon points="754.5,1100.6 762,1094 752.3,1091.5" fill="#ee8a3a" /><path d="M702,1144 C725,1130 755,1124 780,1122" fill="none" stroke="#ee8a3a" stroke-width="1.8"/><polygon points="778.6,1125.7 786,1119 776.3,1116.6" fill="#ee8a3a" /><path d="M724,1168 C750,1154 780,1147 803,1145" fill="none" stroke="#ee8a3a" stroke-width="1.8"/><polygon points="802.1,1148.2 809,1141 799.1,1139.3" fill="#ee8a3a" /><text x="657.4" y="801.8" font-size="20" font-weight="bold" text-anchor="middle" fill="#d8707e" >&#215;</text><text x="679.7" y="801.8" font-size="22.6" font-weight="bold" text-anchor="start" fill="#d8707e" >Sluggish kinetics</text><text x="590.8" y="1204" font-size="18" font-weight="normal" text-anchor="middle" fill="#5b7fc4" font-family='DejaVu Sans, sans-serif'>&#10003;</text><text x="617.5" y="1204" font-size="22.8" font-weight="bold" text-anchor="start" fill="#5b7fc4" >Enhanced conductivity</text><g clip-path="url(#cpF)"><rect x="890" y="729" width="227.5" height="233.3" fill="url(#gF)" /><path d="M890,880 C930,860 980,840 1030,800 C1060,780 1090,760 1117,750 L1117,830 C1080,860 1040,900 990,930 C950,950 920,958 890,962 Z" fill="#2f7068" opacity="0.7" filter="url(#blur10)"/><path d="M890,962 L890,930 C940,935 985,920 1025,895 C1060,870 1085,840 1117,815 L1117,962 Z" fill="#2d7a6c" opacity="0.6" filter="url(#blur6)"/><rect x="890" y="729" width="227.5" height="233.3" fill="url(#fringeF)" /><path d="M1050,905 C1070,880 1090,850 1117,815 L1117,850 C1100,875 1085,900 1065,925 Z" fill="#c0b83a" filter="url(#blur3)"/><path d="M1030,930 C1060,900 1090,860 1117,830 L1117,870 C1095,900 1070,930 1050,950 Z" fill="#8aa048" opacity="0.8" filter="url(#blur6)"/><path d="M910,962 C950,955 990,940 1030,915 L1040,930 C1000,950 960,960 930,965 Z" fill="#a0a848" opacity="0.7" filter="url(#blur3)"/><path d="M1055,965 C1075,935 1095,905 1117,880 L1117,965 Z" fill="#24808e" opacity="0.95" filter="url(#blur6)"/><rect x="890" y="729" width="227.5" height="233.3" fill="#fff" filter="url(#nzF)" opacity="0.12"/><polygon points="919.9,806 958.6,797.6 1005.6,782.4 1047.6,750.5 1104.7,742.1 1113.1,748.8 1098,777.4 1072.8,797.6 1039.2,821.1 1005.6,834.5 968.6,844.6 931.7,837.9 919.9,821.1" fill="#a8d0d0" opacity="0.3"/></g><rect x="890" y="729" width="28.2" height="40.8" fill="#fff" /><text x="904.1" y="763.5" font-size="40" font-weight="bold" text-anchor="middle" fill="#000" >f</text><rect x="918.2" y="729" width="58" height="26" fill="#0a3442" opacity="0.5"/><text x="925" y="750.5" font-size="18.4" font-weight="bold" text-anchor="start" fill="#dcc422" >S-LFP</text><rect x="921.6" y="758.9" width="33.6" height="31.9" fill="none" stroke="#e8f4f4" stroke-width="1.4" stroke-dasharray="4 3"/><rect x="959.4" y="800.1" width="33.6" height="32.7" fill="none" stroke="#e8f4f4" stroke-width="1.4" stroke-dasharray="4 3"/><rect x="997.2" y="847.1" width="33.6" height="32.8" fill="none" stroke="#e8f4f4" stroke-width="1.4" stroke-dasharray="4 3"/><text x="938.4" y="781" font-size="15" font-weight="bold" text-anchor="middle" fill="#fff" ><tspan font-family='"Noto Serif CJK SC", "Liberation Serif", serif'>&#8544;</tspan></text><text x="976.2" y="822.5" font-size="15" font-weight="bold" text-anchor="middle" fill="#fff" ><tspan font-family='"Noto Serif CJK SC", "Liberation Serif", serif'>&#8545;</tspan></text><text x="1014" y="869.5" font-size="15" font-weight="bold" text-anchor="middle" fill="#fff" ><tspan font-family='"Noto Serif CJK SC", "Liberation Serif", serif'>&#8546;</tspan></text><line x1="893.9" y1="779.9" x2="1015.5" y2="910.3" stroke="#f4f4f4" stroke-width="1.8" /><polyline points="1007.9,909.2 1016.5,911.8 1014.5,903" fill="none" stroke="#f4f4f4" stroke-width="1.8" stroke-linecap="round" stroke-linejoin="round"/><text x="0" y="0" font-size="17.2" font-weight="bold" text-anchor="middle" fill="#fff" transform="translate(1056,787.5) rotate(-33.8)" >Disordered area</text><text x="0" y="0" font-size="18.4" font-weight="bold" text-anchor="middle" fill="#fff" transform="translate(1064.5,918.5) rotate(-42.6)" >Little carbon</text><path d="M1014,920 C1030,905 1040,890 1050,875 C1065,855 1080,835 1106,821" fill="none" stroke="#d8f0f0" stroke-width="1.5" stroke-dasharray="5 3"/><path d="M914,959 C950,952 985,940 1017,925 C1035,915 1045,905 1054,896 C1068,880 1085,850 1113,826" fill="none" stroke="#f0f0c8" stroke-width="1.5" stroke-dasharray="5 3"/><path d="M916,962 C955,957 990,946 1025,930" fill="none" stroke="#f0f0c8" stroke-width="1.5" stroke-dasharray="5 3"/><text x="1089" y="945.4" font-size="17.5" font-weight="bold" text-anchor="middle" fill="#fff" >5 nm</text><line x1="1074.5" y1="954.6" x2="1103.5" y2="954.6" stroke="#fff" stroke-width="3" /><g clip-path="url(#cpG)"><rect x="1127" y="729.5" width="227" height="233.8" fill="#1e6e86" /><rect x="1127" y="729.5" width="227" height="233.8" fill="#fff" filter="url(#nzG)"/><rect x="1127" y="729.5" width="227" height="233.8" fill="url(#fringeG)" /><rect x="1127" y="729.5" width="227" height="233.8" fill="#fff" filter="url(#nzG2)" opacity="0.35"/></g><rect x="1248.3" y="764.9" width="99.7" height="99.4" fill="#080808" /><g clip-path="url(#cpFFT)"><ellipse cx="1297.3" cy="810.4" rx="44" ry="40" fill="url(#gFFT)"/><rect x="1248.3" y="764.9" width="99.7" height="99.4" fill="#000" filter="url(#nzFFT)" opacity="0.85"/><circle cx="1312" cy="793" r="2.2" fill="#ddd" /><circle cx="1282" cy="828" r="2.2" fill="#ddd" /></g><text x="1298.1" y="860" font-size="17" font-weight="bold" text-anchor="middle" fill="#fff" >FFT in <tspan font-family='"Noto Serif CJK SC", "Liberation Serif", serif'>&#8545;</tspan></text><rect x="1127" y="729.5" width="26.9" height="40" fill="#fff" /><text x="1140.5" y="758.5" font-size="40" font-weight="bold" text-anchor="middle" fill="#000" >g</text><text x="1257.5" y="753.1" font-size="16.6" font-weight="bold" text-anchor="middle" fill="#eef6f6" >Enlarged region in <tspan font-family='"Noto Serif CJK SC", "Liberation Serif", serif'>&#8545;</tspan></text><rect x="1165.5" y="897" width="157" height="29" fill="#d2e2e6" opacity="0.72"/><text x="1243.2" y="918.2" font-size="18.2" font-weight="bold" text-anchor="middle" fill="#111" >Disordered area</text><text x="1327" y="947.7" font-size="17.5" font-weight="bold" text-anchor="middle" fill="#fff" >1 nm</text><line x1="1309.4" y1="956.1" x2="1343.3" y2="956.1" stroke="#fff" stroke-width="3" /><g clip-path="url(#cpH)"><rect x="890" y="973" width="227.5" height="233.5" fill="url(#gH)" /><path d="M930,1040 C990,1010 1060,1000 1117,1010 L1117,1060 C1050,1060 990,1070 930,1090 Z" fill="#1f6e72" opacity="0.55" filter="url(#blur6)"/><rect x="890" y="973" width="227.5" height="233.5" fill="url(#fringeH)" /><path d="M890,1140 C940,1141 990,1137 1039,1124 C1075,1114 1100,1104 1117,1097 L1117,1206.5 L890,1206.5 Z" fill="url(#gBand)"/><path d="M960,1175 C1000,1165 1040,1150 1075,1140 L1117,1125 L1117,1206.5 L960,1206.5 Z" fill="#7a9c48" opacity="0.55" filter="url(#blur6)"/><path d="M1000,1206.5 C1010,1190 1040,1170 1075,1158 C1095,1150 1110,1140 1117,1135 L1117,1206.5 Z" fill="#d0b030" filter="url(#blur3)"/><path d="M1040,1206.5 C1050,1190 1080,1175 1117,1160 L1117,1206.5 Z" fill="#e8c838" opacity="0.8" filter="url(#blur3)"/><path d="M890,1140 C940,1141 990,1137 1039,1124 C1075,1114 1100,1104 1117,1097 L1117,1206.5 L890,1206.5 Z" fill="#fff" filter="url(#nzH)" opacity="0.28"/></g><rect x="890" y="973" width="28" height="32" fill="#fff" /><text x="904" y="1003" font-size="40" font-weight="bold" text-anchor="middle" fill="#000" >h</text><text x="923.3" y="994.9" font-size="17.6" font-weight="bold" text-anchor="start" fill="#e8c51e" >R-LFP-Li<tspan dy="4" font-size="12.5">2</tspan><tspan dy="-4">DHBN</tspan></text><rect x="1006.4" y="1032.7" width="34.5" height="32.7" fill="none" stroke="#e8f4f4" stroke-width="1.4" stroke-dasharray="4 3"/><text x="1023.6" y="1054.5" font-size="15" font-weight="bold" text-anchor="middle" fill="#fff" ><tspan font-family='"Noto Serif CJK SC", "Liberation Serif", serif'>&#8547;</tspan></text><path d="M890.5,1140.2 C910,1141 920,1141 938.4,1141 C960,1140 975,1139 988.8,1136.8 C1010,1133 1025,1128 1039.2,1124.2 C1060,1118 1090,1108 1113,1099" fill="none" stroke="#e8f0e8" stroke-width="1.5" stroke-dasharray="5 3"/><path d="M890.5,1184.7 C910,1186 920,1187 938.4,1187.2 C960,1186 975,1184 988.8,1181.3 C1010,1176 1025,1172 1039.2,1167.9 C1060,1161 1090,1148 1113,1134.3" fill="none" stroke="#e8f0e8" stroke-width="1.5" stroke-dasharray="5 3"/><text x="0" y="0" font-size="18.6" font-weight="bold" text-anchor="middle" fill="#fff" transform="translate(1014.3,1154.5) rotate(-14.8)" >Carbon layer</text><text x="1089" y="1189.4" font-size="17.5" font-weight="bold" text-anchor="middle" fill="#fff" >5 nm</text><line x1="1074.5" y1="1197.8" x2="1104" y2="1197.8" stroke="#fff" stroke-width="3" /><g clip-path="url(#cpI)"><rect x="1127" y="972.9" width="227" height="234.1" fill="#18647c" /><rect x="1127" y="972.9" width="227" height="234.1" fill="#fff" filter="url(#nzI)"/><circle cx="1121.4" cy="1205.8" r="4.2" fill="url(#gDot)" /><circle cx="1129.2" cy="1202.3" r="3.8" fill="url(#gDot2)" opacity="0.6"/><circle cx="1119.9" cy="1172.5" r="4.5" fill="url(#gDot)" /><circle cx="1129.5" cy="1188.1" r="4" fill="url(#gDot2)" opacity="0.85"/><circle cx="1135.6" cy="1183.3" r="4.1" fill="url(#gDot2)" opacity="0.6"/><circle cx="1135.2" cy="1200.1" r="4.4" fill="url(#gDot)" /><circle cx="1142.9" cy="1198" r="4.2" fill="url(#gDot2)" opacity="0.6"/><circle cx="1122.8" cy="1141.2" r="4.6" fill="url(#gDot2)" opacity="0.85"/><circle cx="1131.9" cy="1138.7" r="4.1" fill="url(#gDot2)" opacity="0.6"/><circle cx="1133" cy="1157.5" r="5.2" fill="url(#gDot2)" opacity="0.85"/><circle cx="1142.8" cy="1154.4" r="3" fill="url(#gDot2)" opacity="0.6"/><circle cx="1136.1" cy="1169.3" r="4.5" fill="url(#gDot)" /><circle cx="1144.9" cy="1167.6" r="3.4" fill="url(#gDot2)" opacity="0.6"/><circle cx="1145" cy="1182.3" r="3.9" fill="url(#gDot2)" opacity="0.85"/><circle cx="1153" cy="1181.1" r="3.9" fill="url(#gDot2)" opacity="0.6"/><circle cx="1151.8" cy="1197.8" r="4" fill="url(#gDot2)" opacity="0.85"/><circle cx="1159.2" cy="1208.6" r="4" fill="url(#gDot)" /><circle cx="1167.4" cy="1207.2" r="3.2" fill="url(#gDot2)" opacity="0.6"/><circle cx="1123.1" cy="1108.8" r="5" fill="url(#gDot2)" opacity="0.85"/><circle cx="1132.9" cy="1108.4" r="3.1" fill="url(#gDot2)" opacity="0.6"/><circle cx="1132.2" cy="1125.3" r="4.1" fill="url(#gDot)" /><circle cx="1137.7" cy="1124.7" r="3.5" fill="url(#gDot2)" opacity="0.6"/><circle cx="1139.4" cy="1137.5" r="5.1" fill="url(#gDot2)" opacity="0.85"/><circle cx="1146.9" cy="1133.7" r="3.4" fill="url(#gDot2)" opacity="0.6"/><circle cx="1145.9" cy="1148.8" r="5.2" fill="url(#gDot)" /><circle cx="1153.8" cy="1163.2" r="5" fill="url(#gDot)" /><circle cx="1161.4" cy="1179.6" r="5" fill="url(#gDot2)" opacity="0.85"/><circle cx="1168.6" cy="1194.5" r="4.9" fill="url(#gDot)" /><circle cx="1172.4" cy="1202.3" r="4.4" fill="url(#gDot2)" opacity="0.85"/><circle cx="1177.9" cy="1202.1" r="3.8" fill="url(#gDot2)" opacity="0.6"/><circle cx="1125.3" cy="1074.4" r="4.9" fill="url(#gDot)" /><circle cx="1133.7" cy="1088.6" r="5.2" fill="url(#gDot)" /><circle cx="1140.6" cy="1087.5" r="3.6" fill="url(#gDot2)" opacity="0.6"/><circle cx="1142.3" cy="1105.2" r="4.8" fill="url(#gDot2)" opacity="0.85"/><circle cx="1151.3" cy="1105.2" r="3.2" fill="url(#gDot2)" opacity="0.6"/><circle cx="1148.2" cy="1116.3" r="4.6" fill="url(#gDot)" /><circle cx="1155.5" cy="1131.4" r="4" fill="url(#gDot)" /><circle cx="1161.4" cy="1146.7" r="5.1" fill="url(#gDot2)" opacity="0.85"/><circle cx="1172.5" cy="1159.5" r="4.1" fill="url(#gDot)" /><circle cx="1179.4" cy="1157.4" r="3.5" fill="url(#gDot2)" opacity="0.6"/><circle cx="1178.4" cy="1171.3" r="5.3" fill="url(#gDot)" /><circle cx="1186.6" cy="1170" r="3.7" fill="url(#gDot2)" opacity="0.6"/><circle cx="1185.3" cy="1185.9" r="5.1" fill="url(#gDot2)" opacity="0.85"/><circle cx="1190.5" cy="1200.5" r="4.2" fill="url(#gDot)" /><circle cx="1198" cy="1198.3" r="3.6" fill="url(#gDot2)" opacity="0.6"/><circle cx="1126.4" cy="1048.3" r="4.5" fill="url(#gDot2)" opacity="0.85"/><circle cx="1132.9" cy="1044.5" r="3.2" fill="url(#gDot2)" opacity="0.6"/><circle cx="1134.5" cy="1059.6" r="4.3" fill="url(#gDot)" /><circle cx="1142.6" cy="1059.8" r="3.5" fill="url(#gDot2)" opacity="0.6"/><circle cx="1141.6" cy="1071.9" r="4" fill="url(#gDot2)" opacity="0.85"/><circle cx="1149.9" cy="1070.7" r="3.7" fill="url(#gDot2)" opacity="0.6"/><circle cx="1149.9" cy="1088.8" r="4.7" fill="url(#gDot2)" opacity="0.85"/><circle cx="1156.1" cy="1097.8" r="3.9" fill="url(#gDot)" /><circle cx="1163.9" cy="1093.4" r="4" fill="url(#gDot2)" opacity="0.6"/><circle cx="1163.3" cy="1112.2" r="4.7" fill="url(#gDot2)" opacity="0.85"/><circle cx="1170.8" cy="1110.3" r="3.8" fill="url(#gDot2)" opacity="0.6"/><circle cx="1171.3" cy="1128.7" r="4.6" fill="url(#gDot)" /><circle cx="1181.4" cy="1125.9" r="3.5" fill="url(#gDot2)" opacity="0.6"/><circle cx="1177.8" cy="1140.8" r="4.1" fill="url(#gDot2)" opacity="0.85"/><circle cx="1187.7" cy="1156.3" r="5" fill="url(#gDot2)" opacity="0.85"/><circle cx="1195.7" cy="1152.6" r="3.1" fill="url(#gDot2)" opacity="0.6"/><circle cx="1191.5" cy="1169.4" r="5.3" fill="url(#gDot)" /><circle cx="1201.2" cy="1165.2" r="3.1" fill="url(#gDot2)" opacity="0.6"/><circle cx="1199.2" cy="1182.5" r="4.8" fill="url(#gDot)" /><circle cx="1206.4" cy="1181.4" r="4" fill="url(#gDot2)" opacity="0.6"/><circle cx="1209.6" cy="1196.4" r="4.6" fill="url(#gDot2)" opacity="0.85"/><circle cx="1213.7" cy="1210.9" r="5.1" fill="url(#gDot2)" opacity="0.85"/><circle cx="1122.1" cy="1002.9" r="4.7" fill="url(#gDot)" /><circle cx="1128.1" cy="1001.4" r="3.2" fill="url(#gDot2)" opacity="0.6"/><circle cx="1129.6" cy="1013.8" r="5.4" fill="url(#gDot)" /><circle cx="1137.3" cy="1013.5" r="3" fill="url(#gDot2)" opacity="0.6"/><circle cx="1134.9" cy="1026.6" r="5.2" fill="url(#gDot2)" opacity="0.85"/><circle cx="1144.4" cy="1025.2" r="3.2" fill="url(#gDot2)" opacity="0.6"/><circle cx="1143.8" cy="1041.3" r="4.1" fill="url(#gDot2)" opacity="0.85"/><circle cx="1149.5" cy="1055.6" r="4" fill="url(#gDot2)" opacity="0.85"/><circle cx="1157.5" cy="1071" r="4.5" fill="url(#gDot2)" opacity="0.85"/><circle cx="1166.6" cy="1067.3" r="3.6" fill="url(#gDot2)" opacity="0.6"/><circle cx="1164.2" cy="1081" r="3.9" fill="url(#gDot2)" opacity="0.85"/><circle cx="1171.9" cy="1081.2" r="3.2" fill="url(#gDot2)" opacity="0.6"/><circle cx="1172.1" cy="1095.6" r="3.9" fill="url(#gDot)" /><circle cx="1180" cy="1093.8" r="3.3" fill="url(#gDot2)" opacity="0.6"/><circle cx="1180.2" cy="1109.1" r="4.2" fill="url(#gDot2)" opacity="0.85"/><circle cx="1187.9" cy="1106" r="3.2" fill="url(#gDot2)" opacity="0.6"/><circle cx="1186" cy="1124.3" r="5.3" fill="url(#gDot)" /><circle cx="1194.3" cy="1135.5" r="4.3" fill="url(#gDot)" /><circle cx="1201.7" cy="1150.5" r="4.8" fill="url(#gDot)" /><circle cx="1209.5" cy="1147.7" r="3.1" fill="url(#gDot2)" opacity="0.6"/><circle cx="1205.9" cy="1164.9" r="4.3" fill="url(#gDot2)" opacity="0.85"/><circle cx="1216.2" cy="1176.9" r="4.9" fill="url(#gDot2)" opacity="0.85"/><circle cx="1222.7" cy="1192.5" r="5.2" fill="url(#gDot)" /><circle cx="1229.6" cy="1189.4" r="3.5" fill="url(#gDot2)" opacity="0.6"/><circle cx="1232.1" cy="1205.1" r="4.4" fill="url(#gDot)" /><circle cx="1124.6" cy="967.6" r="5.3" fill="url(#gDot)" /><circle cx="1126.9" cy="981.9" r="4.3" fill="url(#gDot)" /><circle cx="1135.4" cy="996.7" r="3.9" fill="url(#gDot2)" opacity="0.85"/><circle cx="1144.9" cy="1009.1" r="4.7" fill="url(#gDot2)" opacity="0.85"/><circle cx="1151.9" cy="1025.6" r="3.8" fill="url(#gDot2)" opacity="0.85"/><circle cx="1156.5" cy="1024.8" r="4" fill="url(#gDot2)" opacity="0.6"/><circle cx="1159.7" cy="1034.9" r="4.8" fill="url(#gDot2)" opacity="0.85"/><circle cx="1165.4" cy="1051" r="4.6" fill="url(#gDot)" /><circle cx="1173.1" cy="1053.2" r="3.3" fill="url(#gDot2)" opacity="0.6"/><circle cx="1174.9" cy="1065.9" r="4.2" fill="url(#gDot2)" opacity="0.85"/><circle cx="1181.3" cy="1082.8" r="4.2" fill="url(#gDot2)" opacity="0.85"/><circle cx="1186.7" cy="1091.6" r="4" fill="url(#gDot)" /><circle cx="1196.4" cy="1105.8" r="4.6" fill="url(#gDot2)" opacity="0.85"/><circle cx="1202.8" cy="1105.8" r="4" fill="url(#gDot2)" opacity="0.6"/><circle cx="1202.5" cy="1118.6" r="3.9" fill="url(#gDot)" /><circle cx="1208.9" cy="1132.9" r="4.8" fill="url(#gDot2)" opacity="0.85"/><circle cx="1216.9" cy="1146.2" r="5.1" fill="url(#gDot)" /><circle cx="1224.3" cy="1145.2" r="3.8" fill="url(#gDot2)" opacity="0.6"/><circle cx="1223.5" cy="1161.3" r="4.4" fill="url(#gDot)" /><circle cx="1233.8" cy="1171.8" r="4.9" fill="url(#gDot2)" opacity="0.85"/><circle cx="1239.9" cy="1186.1" r="4.8" fill="url(#gDot2)" opacity="0.85"/><circle cx="1248.7" cy="1182.3" r="3.7" fill="url(#gDot2)" opacity="0.6"/><circle cx="1244.7" cy="1200.9" r="4.7" fill="url(#gDot)" /><circle cx="1146" cy="979.2" r="4.8" fill="url(#gDot2)" opacity="0.85"/><circle cx="1152" cy="992.4" r="4.1" fill="url(#gDot)" /><circle cx="1158.4" cy="1004.8" r="5.1" fill="url(#gDot2)" opacity="0.85"/><circle cx="1166.7" cy="1019.2" r="5.1" fill="url(#gDot2)" opacity="0.85"/><circle cx="1173.6" cy="1017.9" r="3.1" fill="url(#gDot2)" opacity="0.6"/><circle cx="1173.6" cy="1031.3" r="4.4" fill="url(#gDot2)" opacity="0.85"/><circle cx="1184.1" cy="1048.9" r="4.9" fill="url(#gDot2)" opacity="0.85"/><circle cx="1193.7" cy="1046" r="3.2" fill="url(#gDot2)" opacity="0.6"/><circle cx="1187" cy="1060.6" r="4.5" fill="url(#gDot)" /><circle cx="1192.6" cy="1060.2" r="4.1" fill="url(#gDot2)" opacity="0.6"/><circle cx="1196.1" cy="1075.4" r="4.3" fill="url(#gDot)" /><circle cx="1204.7" cy="1068.6" r="4" fill="url(#gDot2)" opacity="0.6"/><circle cx="1204.3" cy="1087.4" r="5.2" fill="url(#gDot2)" opacity="0.85"/><circle cx="1210.7" cy="1100.3" r="4.8" fill="url(#gDot2)" opacity="0.85"/><circle cx="1217.5" cy="1112.2" r="4.1" fill="url(#gDot2)" opacity="0.85"/><circle cx="1221.7" cy="1128.9" r="5.1" fill="url(#gDot2)" opacity="0.85"/><circle cx="1232.1" cy="1138.8" r="3.9" fill="url(#gDot)" /><circle cx="1241" cy="1136.7" r="3.4" fill="url(#gDot2)" opacity="0.6"/><circle cx="1239.2" cy="1152.3" r="4.4" fill="url(#gDot)" /><circle cx="1248.7" cy="1148.5" r="3.4" fill="url(#gDot2)" opacity="0.6"/><circle cx="1247" cy="1166.7" r="4.5" fill="url(#gDot)" /><circle cx="1254.4" cy="1163.6" r="4" fill="url(#gDot2)" opacity="0.6"/><circle cx="1252.2" cy="1183" r="5.1" fill="url(#gDot2)" opacity="0.85"/><circle cx="1260" cy="1180.7" r="4.2" fill="url(#gDot2)" opacity="0.6"/><circle cx="1260.3" cy="1194.6" r="5" fill="url(#gDot2)" opacity="0.85"/><circle cx="1268" cy="1192" r="3.3" fill="url(#gDot2)" opacity="0.6"/><circle cx="1267.7" cy="1210.7" r="5.2" fill="url(#gDot)" /><circle cx="1274.9" cy="1209" r="3.6" fill="url(#gDot2)" opacity="0.6"/><circle cx="1160.4" cy="976.2" r="4.8" fill="url(#gDot2)" opacity="0.85"/><circle cx="1169.5" cy="987.5" r="4" fill="url(#gDot2)" opacity="0.85"/><circle cx="1178.3" cy="984.9" r="3.8" fill="url(#gDot2)" opacity="0.6"/><circle cx="1177.9" cy="1000.4" r="4.3" fill="url(#gDot2)" opacity="0.85"/><circle cx="1185.7" cy="998.6" r="3.8" fill="url(#gDot2)" opacity="0.6"/><circle cx="1182.6" cy="1018.7" r="4.2" fill="url(#gDot)" /><circle cx="1187.2" cy="1018.4" r="3.2" fill="url(#gDot2)" opacity="0.6"/><circle cx="1189.6" cy="1027.2" r="4.1" fill="url(#gDot)" /><circle cx="1198.9" cy="1024.6" r="4.1" fill="url(#gDot2)" opacity="0.6"/><circle cx="1194.2" cy="1037.6" r="5.2" fill="url(#gDot)" /><circle cx="1203.5" cy="1054.4" r="4.8" fill="url(#gDot2)" opacity="0.85"/><circle cx="1212.4" cy="1053.4" r="3.2" fill="url(#gDot2)" opacity="0.6"/><circle cx="1210.6" cy="1067" r="4.6" fill="url(#gDot2)" opacity="0.85"/><circle cx="1216.4" cy="1063" r="4.2" fill="url(#gDot2)" opacity="0.6"/><circle cx="1219.9" cy="1081.2" r="4.6" fill="url(#gDot)" /><circle cx="1225.3" cy="1081.1" r="3.1" fill="url(#gDot2)" opacity="0.6"/><circle cx="1226.7" cy="1098.7" r="5.3" fill="url(#gDot)" /><circle cx="1233.4" cy="1108.9" r="4.1" fill="url(#gDot2)" opacity="0.85"/><circle cx="1243.6" cy="1105.8" r="3.4" fill="url(#gDot2)" opacity="0.6"/><circle cx="1243.8" cy="1122.4" r="3.9" fill="url(#gDot2)" opacity="0.85"/><circle cx="1252" cy="1122.1" r="3.6" fill="url(#gDot2)" opacity="0.6"/><circle cx="1249" cy="1136.7" r="5.1" fill="url(#gDot)" /><circle cx="1254.9" cy="1137" r="3" fill="url(#gDot2)" opacity="0.6"/><circle cx="1253.6" cy="1150.5" r="5" fill="url(#gDot2)" opacity="0.85"/><circle cx="1262.7" cy="1163.2" r="4.3" fill="url(#gDot2)" opacity="0.85"/><circle cx="1271.4" cy="1162.9" r="3.4" fill="url(#gDot2)" opacity="0.6"/><circle cx="1267.6" cy="1175.7" r="3.8" fill="url(#gDot)" /><circle cx="1274.7" cy="1173.2" r="4.1" fill="url(#gDot2)" opacity="0.6"/><circle cx="1278.4" cy="1190.3" r="4.8" fill="url(#gDot2)" opacity="0.85"/><circle cx="1286.2" cy="1187.9" r="3.4" fill="url(#gDot2)" opacity="0.6"/><circle cx="1282.7" cy="1205.6" r="5" fill="url(#gDot)" /><circle cx="1293.6" cy="1202.2" r="3.7" fill="url(#gDot2)" opacity="0.6"/><circle cx="1176.6" cy="970.1" r="4.6" fill="url(#gDot2)" opacity="0.85"/><circle cx="1183.3" cy="981.7" r="4.3" fill="url(#gDot)" /><circle cx="1188.2" cy="995.1" r="5.1" fill="url(#gDot)" /><circle cx="1197.4" cy="992.9" r="3.3" fill="url(#gDot2)" opacity="0.6"/><circle cx="1197.9" cy="1008.7" r="4.6" fill="url(#gDot2)" opacity="0.85"/><circle cx="1205.9" cy="1006.1" r="3" fill="url(#gDot2)" opacity="0.6"/><circle cx="1206.9" cy="1023.1" r="4.3" fill="url(#gDot)" /><circle cx="1213.9" cy="1021.7" r="3.3" fill="url(#gDot2)" opacity="0.6"/><circle cx="1212.4" cy="1038.4" r="4.8" fill="url(#gDot)" /><circle cx="1219.1" cy="1049.2" r="4" fill="url(#gDot)" /><circle cx="1227.1" cy="1065.5" r="4.2" fill="url(#gDot2)" opacity="0.85"/><circle cx="1237.9" cy="1062.5" r="3.3" fill="url(#gDot2)" opacity="0.6"/><circle cx="1234" cy="1075.8" r="5" fill="url(#gDot2)" opacity="0.85"/><circle cx="1244.4" cy="1073" r="3.7" fill="url(#gDot2)" opacity="0.6"/><circle cx="1241" cy="1090.3" r="4.2" fill="url(#gDot2)" opacity="0.85"/><circle cx="1248.9" cy="1087.8" r="3" fill="url(#gDot2)" opacity="0.6"/><circle cx="1248.9" cy="1105.1" r="5" fill="url(#gDot)" /><circle cx="1255.8" cy="1117.5" r="3.9" fill="url(#gDot)" /><circle cx="1263.9" cy="1116.1" r="4.1" fill="url(#gDot2)" opacity="0.6"/><circle cx="1261.4" cy="1133.8" r="4.2" fill="url(#gDot2)" opacity="0.85"/><circle cx="1270.2" cy="1131.8" r="3.6" fill="url(#gDot2)" opacity="0.6"/><circle cx="1269.1" cy="1147.6" r="4" fill="url(#gDot2)" opacity="0.85"/><circle cx="1277.9" cy="1144.1" r="3" fill="url(#gDot2)" opacity="0.6"/><circle cx="1276.4" cy="1159.3" r="4.1" fill="url(#gDot2)" opacity="0.85"/><circle cx="1285" cy="1158.4" r="4.1" fill="url(#gDot2)" opacity="0.6"/><circle cx="1284.8" cy="1172.3" r="5.1" fill="url(#gDot)" /><circle cx="1289.7" cy="1187.1" r="4.8" fill="url(#gDot2)" opacity="0.85"/><circle cx="1299.2" cy="1184.5" r="3.9" fill="url(#gDot2)" opacity="0.6"/><circle cx="1300.6" cy="1199.7" r="4.9" fill="url(#gDot2)" opacity="0.85"/><circle cx="1199.7" cy="978.3" r="4.7" fill="url(#gDot2)" opacity="0.85"/><circle cx="1207.7" cy="992.8" r="4.2" fill="url(#gDot2)" opacity="0.85"/><circle cx="1215" cy="1003.6" r="4.1" fill="url(#gDot)" /><circle cx="1221.6" cy="1001.2" r="3.2" fill="url(#gDot2)" opacity="0.6"/><circle cx="1221" cy="1017.2" r="5.1" fill="url(#gDot2)" opacity="0.85"/><circle cx="1227.5" cy="1016.8" r="3.3" fill="url(#gDot2)" opacity="0.6"/><circle cx="1228.2" cy="1034" r="5.1" fill="url(#gDot)" /><circle cx="1235.7" cy="1030.9" r="3.3" fill="url(#gDot2)" opacity="0.6"/><circle cx="1238.1" cy="1044.7" r="4.8" fill="url(#gDot)" /><circle cx="1245.9" cy="1040.6" r="4" fill="url(#gDot2)" opacity="0.6"/><circle cx="1245.8" cy="1059.7" r="4.7" fill="url(#gDot2)" opacity="0.85"/><circle cx="1253.5" cy="1058.1" r="3.6" fill="url(#gDot2)" opacity="0.6"/><circle cx="1248.6" cy="1072.6" r="4" fill="url(#gDot)" /><circle cx="1258.2" cy="1070.6" r="3.7" fill="url(#gDot2)" opacity="0.6"/><circle cx="1254.7" cy="1087.5" r="4.4" fill="url(#gDot2)" opacity="0.85"/><circle cx="1260.9" cy="1084.3" r="3" fill="url(#gDot2)" opacity="0.6"/><circle cx="1265.6" cy="1101.2" r="4.3" fill="url(#gDot2)" opacity="0.85"/><circle cx="1270.6" cy="1113.2" r="4.2" fill="url(#gDot)" /><circle cx="1275.9" cy="1126.3" r="4.4" fill="url(#gDot)" /><circle cx="1285.3" cy="1140.1" r="3.9" fill="url(#gDot2)" opacity="0.85"/><circle cx="1293.1" cy="1156.1" r="4" fill="url(#gDot)" /><circle cx="1301.6" cy="1170.4" r="3.9" fill="url(#gDot2)" opacity="0.85"/><circle cx="1309.4" cy="1169.4" r="3.7" fill="url(#gDot2)" opacity="0.6"/><circle cx="1306.9" cy="1179.8" r="4.6" fill="url(#gDot2)" opacity="0.85"/><circle cx="1315.4" cy="1196.7" r="4.4" fill="url(#gDot)" /><circle cx="1322.7" cy="1194.8" r="3.3" fill="url(#gDot2)" opacity="0.6"/><circle cx="1319.7" cy="1208.8" r="5.2" fill="url(#gDot)" /><circle cx="1211.8" cy="974.3" r="3.8" fill="url(#gDot)" /><circle cx="1222.8" cy="988.7" r="4.8" fill="url(#gDot)" /><circle cx="1227.3" cy="999.4" r="5" fill="url(#gDot)" /><circle cx="1236.2" cy="1013.8" r="4.3" fill="url(#gDot)" /><circle cx="1243.9" cy="1012.2" r="3.6" fill="url(#gDot2)" opacity="0.6"/><circle cx="1242.3" cy="1026.5" r="4.8" fill="url(#gDot2)" opacity="0.85"/><circle cx="1252.4" cy="1040.8" r="5.1" fill="url(#gDot2)" opacity="0.85"/><circle cx="1259" cy="1041.1" r="4" fill="url(#gDot2)" opacity="0.6"/><circle cx="1257.7" cy="1053.1" r="4.3" fill="url(#gDot)" /><circle cx="1264.5" cy="1049.8" r="3.3" fill="url(#gDot2)" opacity="0.6"/><circle cx="1263" cy="1068.7" r="3.8" fill="url(#gDot2)" opacity="0.85"/><circle cx="1270.3" cy="1066" r="3.3" fill="url(#gDot2)" opacity="0.6"/><circle cx="1271.8" cy="1080.3" r="4.6" fill="url(#gDot)" /><circle cx="1283.4" cy="1095.6" r="4.6" fill="url(#gDot)" /><circle cx="1289" cy="1095" r="4.1" fill="url(#gDot2)" opacity="0.6"/><circle cx="1287.1" cy="1109.8" r="4.4" fill="url(#gDot)" /><circle cx="1294.2" cy="1122.3" r="4.8" fill="url(#gDot)" /><circle cx="1301.9" cy="1119.5" r="3.8" fill="url(#gDot2)" opacity="0.6"/><circle cx="1301.2" cy="1136.6" r="4" fill="url(#gDot2)" opacity="0.85"/><circle cx="1307.5" cy="1134.2" r="4" fill="url(#gDot2)" opacity="0.6"/><circle cx="1308.7" cy="1147.7" r="5" fill="url(#gDot2)" opacity="0.85"/><circle cx="1317.1" cy="1166.4" r="4.9" fill="url(#gDot2)" opacity="0.85"/><circle cx="1323.4" cy="1163.6" r="4.1" fill="url(#gDot2)" opacity="0.6"/><circle cx="1323.2" cy="1176.6" r="4.9" fill="url(#gDot)" /><circle cx="1329.1" cy="1191.1" r="5.1" fill="url(#gDot2)" opacity="0.85"/><circle cx="1336" cy="1189" r="4.2" fill="url(#gDot2)" opacity="0.6"/><circle cx="1336.5" cy="1203.2" r="5" fill="url(#gDot2)" opacity="0.85"/><circle cx="1228.6" cy="967.7" r="4.8" fill="url(#gDot)" /><circle cx="1235.2" cy="982.4" r="4" fill="url(#gDot2)" opacity="0.85"/><circle cx="1245.9" cy="980.9" r="3.5" fill="url(#gDot2)" opacity="0.6"/><circle cx="1244.9" cy="997.8" r="4.3" fill="url(#gDot2)" opacity="0.85"/><circle cx="1250.7" cy="1011.9" r="3.8" fill="url(#gDot2)" opacity="0.85"/><circle cx="1257.3" cy="1008.8" r="3.3" fill="url(#gDot2)" opacity="0.6"/><circle cx="1258.7" cy="1023.6" r="3.9" fill="url(#gDot)" /><circle cx="1264.8" cy="1024.3" r="4" fill="url(#gDot2)" opacity="0.6"/><circle cx="1267.1" cy="1038.8" r="4.1" fill="url(#gDot2)" opacity="0.85"/><circle cx="1272.8" cy="1035.2" r="3" fill="url(#gDot2)" opacity="0.6"/><circle cx="1272.2" cy="1050.7" r="4.7" fill="url(#gDot)" /><circle cx="1280.2" cy="1066" r="3.9" fill="url(#gDot2)" opacity="0.85"/><circle cx="1288" cy="1063.7" r="3.7" fill="url(#gDot2)" opacity="0.6"/><circle cx="1285.1" cy="1075.3" r="4.1" fill="url(#gDot2)" opacity="0.85"/><circle cx="1294.6" cy="1089.9" r="4.7" fill="url(#gDot)" /><circle cx="1303.5" cy="1088.7" r="3.5" fill="url(#gDot2)" opacity="0.6"/><circle cx="1302.3" cy="1103.4" r="5.3" fill="url(#gDot)" /><circle cx="1308.7" cy="1116.4" r="4.7" fill="url(#gDot)" /><circle cx="1316.3" cy="1133.6" r="4.3" fill="url(#gDot)" /><circle cx="1324.4" cy="1132.2" r="3.1" fill="url(#gDot2)" opacity="0.6"/><circle cx="1325.9" cy="1144.8" r="4.5" fill="url(#gDot)" /><circle cx="1334" cy="1141.8" r="3.1" fill="url(#gDot2)" opacity="0.6"/><circle cx="1329.3" cy="1159.4" r="4.7" fill="url(#gDot)" /><circle cx="1338.6" cy="1172.7" r="4.2" fill="url(#gDot)" /><circle cx="1343.9" cy="1188.6" r="4" fill="url(#gDot)" /><circle cx="1352.4" cy="1199.7" r="5" fill="url(#gDot2)" opacity="0.85"/><circle cx="1357.8" cy="1197.2" r="3.4" fill="url(#gDot2)" opacity="0.6"/><circle cx="1254" cy="975.3" r="4.3" fill="url(#gDot)" /><circle cx="1262.5" cy="973.7" r="3.4" fill="url(#gDot2)" opacity="0.6"/><circle cx="1262.7" cy="989.6" r="4.3" fill="url(#gDot2)" opacity="0.85"/><circle cx="1268.1" cy="989.3" r="3.5" fill="url(#gDot2)" opacity="0.6"/><circle cx="1268.9" cy="1006" r="4.7" fill="url(#gDot)" /><circle cx="1277.8" cy="1004.5" r="4.1" fill="url(#gDot2)" opacity="0.6"/><circle cx="1273.9" cy="1018.5" r="4.6" fill="url(#gDot)" /><circle cx="1279.8" cy="1032.8" r="5.2" fill="url(#gDot)" /><circle cx="1283.6" cy="1028.2" r="4.1" fill="url(#gDot2)" opacity="0.6"/><circle cx="1290.4" cy="1048.4" r="4" fill="url(#gDot2)" opacity="0.85"/><circle cx="1297" cy="1045.4" r="3.1" fill="url(#gDot2)" opacity="0.6"/><circle cx="1297.6" cy="1059.3" r="4.6" fill="url(#gDot2)" opacity="0.85"/><circle cx="1302.5" cy="1073.1" r="5.1" fill="url(#gDot)" /><circle cx="1309" cy="1068.5" r="3.3" fill="url(#gDot2)" opacity="0.6"/><circle cx="1310.9" cy="1086.4" r="4.4" fill="url(#gDot)" /><circle cx="1316.2" cy="1098.3" r="5" fill="url(#gDot2)" opacity="0.85"/><circle cx="1324.8" cy="1096.8" r="3.4" fill="url(#gDot2)" opacity="0.6"/><circle cx="1324.1" cy="1112.4" r="5.2" fill="url(#gDot2)" opacity="0.85"/><circle cx="1330" cy="1110.7" r="3.5" fill="url(#gDot2)" opacity="0.6"/><circle cx="1333.1" cy="1128.2" r="4.8" fill="url(#gDot2)" opacity="0.85"/><circle cx="1335.8" cy="1143.5" r="4.3" fill="url(#gDot)" /><circle cx="1346.5" cy="1153.9" r="5.1" fill="url(#gDot2)" opacity="0.85"/><circle cx="1353.6" cy="1151.4" r="3.4" fill="url(#gDot2)" opacity="0.6"/><circle cx="1353.4" cy="1167.9" r="4.4" fill="url(#gDot)" /><circle cx="1360.6" cy="1168.1" r="3.2" fill="url(#gDot2)" opacity="0.6"/><circle cx="1267" cy="971" r="4.8" fill="url(#gDot2)" opacity="0.85"/><circle cx="1275.2" cy="986.6" r="4.4" fill="url(#gDot2)" opacity="0.85"/><circle cx="1284.3" cy="999.3" r="4.1" fill="url(#gDot)" /><circle cx="1293.1" cy="998.2" r="3.7" fill="url(#gDot2)" opacity="0.6"/><circle cx="1291" cy="1014.6" r="4" fill="url(#gDot2)" opacity="0.85"/><circle cx="1299.2" cy="1015.1" r="3.5" fill="url(#gDot2)" opacity="0.6"/><circle cx="1294.5" cy="1025.2" r="4.4" fill="url(#gDot2)" opacity="0.85"/><circle cx="1300.4" cy="1022.9" r="3.8" fill="url(#gDot2)" opacity="0.6"/><circle cx="1306.4" cy="1041.6" r="4.3" fill="url(#gDot)" /><circle cx="1313.1" cy="1041.6" r="3.5" fill="url(#gDot2)" opacity="0.6"/><circle cx="1311" cy="1054.7" r="4.1" fill="url(#gDot2)" opacity="0.85"/><circle cx="1317.6" cy="1068.3" r="4.6" fill="url(#gDot)" /><circle cx="1325.6" cy="1064.9" r="4.1" fill="url(#gDot2)" opacity="0.6"/><circle cx="1327.7" cy="1079.9" r="4.5" fill="url(#gDot2)" opacity="0.85"/><circle cx="1334" cy="1096" r="4.8" fill="url(#gDot)" /><circle cx="1340.4" cy="1110.1" r="4.4" fill="url(#gDot2)" opacity="0.85"/><circle cx="1348.6" cy="1109.4" r="3.9" fill="url(#gDot2)" opacity="0.6"/><circle cx="1345.9" cy="1122.2" r="5" fill="url(#gDot2)" opacity="0.85"/><circle cx="1354.1" cy="1121.3" r="3.1" fill="url(#gDot2)" opacity="0.6"/><circle cx="1355.3" cy="1137.4" r="4.4" fill="url(#gDot2)" opacity="0.85"/><circle cx="1282.4" cy="968.9" r="4.7" fill="url(#gDot)" /><circle cx="1292.5" cy="983.8" r="4.9" fill="url(#gDot2)" opacity="0.85"/><circle cx="1298.3" cy="984.4" r="3.1" fill="url(#gDot2)" opacity="0.6"/><circle cx="1297.1" cy="995.5" r="4.6" fill="url(#gDot)" /><circle cx="1306" cy="992.2" r="4" fill="url(#gDot2)" opacity="0.6"/><circle cx="1306" cy="1008.5" r="4.7" fill="url(#gDot2)" opacity="0.85"/><circle cx="1313" cy="1024.4" r="5" fill="url(#gDot)" /><circle cx="1319.6" cy="1036.2" r="4.3" fill="url(#gDot2)" opacity="0.85"/><circle cx="1326.7" cy="1050.3" r="4.1" fill="url(#gDot)" /><circle cx="1335.9" cy="1062.4" r="4" fill="url(#gDot)" /><circle cx="1344.3" cy="1062.1" r="3.5" fill="url(#gDot2)" opacity="0.6"/><circle cx="1344.8" cy="1074.5" r="4.6" fill="url(#gDot2)" opacity="0.85"/><circle cx="1350.6" cy="1093.5" r="4.3" fill="url(#gDot2)" opacity="0.85"/><circle cx="1359.1" cy="1090.4" r="3.4" fill="url(#gDot2)" opacity="0.6"/><circle cx="1355.5" cy="1104.8" r="5.1" fill="url(#gDot2)" opacity="0.85"/><circle cx="1304.9" cy="977.9" r="4.9" fill="url(#gDot2)" opacity="0.85"/><circle cx="1312.5" cy="987.5" r="4.4" fill="url(#gDot)" /><circle cx="1320.9" cy="986.2" r="3.6" fill="url(#gDot2)" opacity="0.6"/><circle cx="1317.7" cy="1002.6" r="4.6" fill="url(#gDot2)" opacity="0.85"/><circle cx="1328.3" cy="1001.3" r="3.7" fill="url(#gDot2)" opacity="0.6"/><circle cx="1329.3" cy="1020.3" r="4.9" fill="url(#gDot)" /><circle cx="1337.4" cy="1016" r="4" fill="url(#gDot2)" opacity="0.6"/><circle cx="1335.7" cy="1031.7" r="4.9" fill="url(#gDot2)" opacity="0.85"/><circle cx="1344" cy="1027.6" r="3.4" fill="url(#gDot2)" opacity="0.6"/><circle cx="1341.7" cy="1043.3" r="3.8" fill="url(#gDot)" /><circle cx="1351.4" cy="1042.8" r="3.1" fill="url(#gDot2)" opacity="0.6"/><circle cx="1350.1" cy="1059.3" r="5.1" fill="url(#gDot)" /><circle cx="1360.6" cy="1056.7" r="3.4" fill="url(#gDot2)" opacity="0.6"/><circle cx="1358.7" cy="1075.2" r="4.2" fill="url(#gDot)" /><circle cx="1324.9" cy="972.2" r="4.9" fill="url(#gDot)" /><circle cx="1335.4" cy="970.3" r="4" fill="url(#gDot2)" opacity="0.6"/><circle cx="1326.2" cy="985.3" r="4.3" fill="url(#gDot2)" opacity="0.85"/><circle cx="1331.8" cy="984" r="3" fill="url(#gDot2)" opacity="0.6"/><circle cx="1337" cy="999.8" r="4" fill="url(#gDot2)" opacity="0.85"/><circle cx="1342.6" cy="997.2" r="3.4" fill="url(#gDot2)" opacity="0.6"/><circle cx="1341.7" cy="1012.5" r="4.2" fill="url(#gDot)" /><circle cx="1351.1" cy="1030.7" r="3.9" fill="url(#gDot2)" opacity="0.85"/><circle cx="1359.9" cy="1031.2" r="3.6" fill="url(#gDot2)" opacity="0.6"/><circle cx="1357.1" cy="1042.3" r="5.4" fill="url(#gDot)" /><circle cx="1362.7" cy="1039.4" r="3.3" fill="url(#gDot2)" opacity="0.6"/><circle cx="1338.3" cy="967.4" r="4.4" fill="url(#gDot2)" opacity="0.85"/><circle cx="1345.5" cy="981.8" r="4.7" fill="url(#gDot)" /><circle cx="1352.5" cy="977.9" r="4.1" fill="url(#gDot2)" opacity="0.6"/><circle cx="1354.7" cy="992.9" r="5" fill="url(#gDot2)" opacity="0.85"/><circle cx="1361.6" cy="987" r="3.2" fill="url(#gDot2)" opacity="0.6"/><circle cx="1360.8" cy="1005.8" r="4.6" fill="url(#gDot2)" opacity="0.85"/><circle cx="1366.9" cy="1001.9" r="3.1" fill="url(#gDot2)" opacity="0.6"/></g><rect x="1127" y="972.9" width="25.2" height="32.5" fill="#fff" /><text x="1139.6" y="1003" font-size="40" font-weight="bold" text-anchor="middle" fill="#000" >i</text><text x="1256.4" y="998.4" font-size="16.6" font-weight="bold" text-anchor="middle" fill="#f4f8f8" >Enlarged region in <tspan font-family='"Noto Serif CJK SC", "Liberation Serif", serif'>&#8547;</tspan></text><line x1="1214.7" y1="1054.9" x2="1249.5" y2="1119.2" stroke="#fff" stroke-width="2.2" /><line x1="1235.6" y1="1043.6" x2="1271.2" y2="1107.9" stroke="#fff" stroke-width="2.2" /><line x1="1188.6" y1="1111.4" x2="1228" y2="1091.3" stroke="#fff" stroke-width="2.2" /><polyline points="1224.6,1098.1 1229.5,1090.5 1220.5,1090" fill="none" stroke="#fff" stroke-width="2.2" stroke-linecap="round" stroke-linejoin="round"/><line x1="1301.6" y1="1052.3" x2="1264" y2="1071.5" stroke="#fff" stroke-width="2.2" /><polyline points="1267.4,1064.7 1262.5,1072.3 1271.5,1072.8" fill="none" stroke="#fff" stroke-width="2.2" stroke-linecap="round" stroke-linejoin="round"/><rect x="1160.8" y="1134.5" width="170.9" height="28.5" fill="#c8d8dc" opacity="0.72"/><text x="1244.7" y="1155.3" font-size="19.2" font-weight="bold" text-anchor="middle" fill="#111" >d(200) = 0.514 nm</text><text x="1327.8" y="1190.1" font-size="17.5" font-weight="bold" text-anchor="middle" fill="#fff" >1 nm</text><line x1="1311.2" y1="1197.7" x2="1345" y2="1197.7" stroke="#fff" stroke-width="3" /><rect x="55" y="1229" width="409.5" height="113" fill="#fff" stroke="#c47432" stroke-width="2.6"/><rect x="55" y="1349" width="409.5" height="114" fill="#fff" stroke="#2c9c92" stroke-width="2.6"/><rect x="57.3" y="1230.7" width="132.3" height="109.9" fill="#050507" /><rect x="193.8" y="1230.7" width="131.5" height="109.9" fill="#050507" /><rect x="328.6" y="1230.7" width="132.9" height="109.9" fill="#050507" /><rect x="57.3" y="1351.5" width="132.3" height="109.5" fill="#050507" /><rect x="193.8" y="1351.5" width="131.5" height="109.5" fill="#050507" /><rect x="328.6" y="1351.5" width="132.9" height="109.5" fill="#050507" /><g clip-path="url(#cJ1)"><path d="M69,1254.5 Q78,1243 98.8,1238 Q119.7,1233 133.8,1234.5 Q148,1236 160,1248 Q172,1260 180,1278.6 Q188,1297.2 188.5,1307.6 Q189,1318 182.5,1328 Q176,1338 160.6,1339.5 Q145.1,1341 130.6,1336.5 Q116,1332 101,1324 Q86,1316 74.5,1305 Q63,1294 61.5,1280 Q60,1266 69,1254.5 Z" fill="url(#gHA)" filter="url(#blur2)"/><ellipse cx="124" cy="1257" rx="11" ry="14" fill="#8e8e8e" opacity="0.8" filter="url(#blur2)"/><ellipse cx="162" cy="1266" rx="9" ry="8" fill="#9a9a9a" opacity="0.45" filter="url(#blur2)"/><path d="M128,1285 Q122,1305 130,1325" fill="none" stroke="#c4c4c4" stroke-width="1.6" filter="url(#blur2)"/></g><g clip-path="url(#cJ2)"><path d="M210.4,1256.2 Q218.4,1245 232.8,1241 Q247.1,1237.1 258.2,1239.5 Q269.4,1241.9 282.1,1254.6 Q294.9,1267.3 304.4,1280 Q314,1292.8 317.2,1303.9 Q320.4,1315.1 315.6,1323 Q310.8,1331 298.1,1332.7 Q285.3,1334.3 266.2,1324.7 Q247.1,1315.1 232.8,1307.2 Q218.4,1299.2 211.2,1291.2 Q204.1,1283.3 203.3,1275.3 Q202.5,1267.3 210.4,1256.2 Z" fill="#b01212" filter="url(#blur4)"/><path d="M210.4,1256.2 Q218.4,1245 232.8,1241 Q247.1,1237.1 258.2,1239.5 Q269.4,1241.9 282.1,1254.6 Q294.9,1267.3 304.4,1280 Q314,1292.8 317.2,1303.9 Q320.4,1315.1 315.6,1323 Q310.8,1331 298.1,1332.7 Q285.3,1334.3 266.2,1324.7 Q247.1,1315.1 232.8,1307.2 Q218.4,1299.2 211.2,1291.2 Q204.1,1283.3 203.3,1275.3 Q202.5,1267.3 210.4,1256.2 Z" fill="#000" filter="url(#nzJ)" opacity="0.35"/></g><g clip-path="url(#cJ3)"><path d="M347.5,1249.8 Q358.6,1235.5 374.6,1233.1 Q390.5,1230.7 414.4,1234.7 Q438.3,1238.7 447.9,1256.2 Q457.4,1273.7 455.8,1294.4 Q454.2,1315.1 444.6,1324.7 Q435.1,1334.3 412.8,1335.1 Q390.5,1335.9 374.6,1325.5 Q358.6,1315.1 349.1,1303.9 Q339.5,1292.8 337.9,1278.5 Q336.3,1264.2 347.5,1249.8 Z" fill="#15237e" opacity="0.95" filter="url(#blur4)"/><path d="M347.5,1249.8 Q358.6,1235.5 374.6,1233.1 Q390.5,1230.7 414.4,1234.7 Q438.3,1238.7 447.9,1256.2 Q457.4,1273.7 455.8,1294.4 Q454.2,1315.1 444.6,1324.7 Q435.1,1334.3 412.8,1335.1 Q390.5,1335.9 374.6,1325.5 Q358.6,1315.1 349.1,1303.9 Q339.5,1292.8 337.9,1278.5 Q336.3,1264.2 347.5,1249.8 Z" fill="#000" filter="url(#nzJ2)" opacity="0.85"/><ellipse cx="345" cy="1265" rx="9" ry="12" fill="#3058e8" opacity="0.55" filter="url(#blur4)"/><ellipse cx="440" cy="1330" rx="6" ry="4" fill="#3a70f0" opacity="0.7" filter="url(#blur2)"/><ellipse cx="395" cy="1300" rx="18" ry="10" fill="#050510" opacity="0.5" filter="url(#blur4)"/><ellipse cx="415" cy="1250" rx="14" ry="10" fill="#050510" opacity="0.6" filter="url(#blur4)"/><ellipse cx="405" cy="1328" rx="26" ry="7" fill="#050510" opacity="0.55" filter="url(#blur4)"/></g><ellipse cx="368.7" cy="1245.4" rx="15.9" ry="12.5" transform="rotate(-20 368.7 1245.4)" fill="none" stroke="#e8e8e8" stroke-width="1.6" stroke-dasharray="5 3"/><ellipse cx="418.4" cy="1250.4" rx="16.7" ry="11.7" transform="rotate(40 418.4 1250.4)" fill="none" stroke="#e8e8e8" stroke-width="1.6" stroke-dasharray="5 3"/><ellipse cx="449.3" cy="1281.2" rx="9.2" ry="10" transform="rotate(0 449.3 1281.2)" fill="none" stroke="#e8e8e8" stroke-width="1.6" stroke-dasharray="5 3"/><ellipse cx="405.1" cy="1327.1" rx="32.5" ry="10" transform="rotate(8 405.1 1327.1)" fill="none" stroke="#e8e8e8" stroke-width="1.6" stroke-dasharray="5 3"/><text x="398.4" y="1281.2" font-size="16.6" font-weight="bold" text-anchor="middle" fill="#f4f4f4" >No carbon</text><text x="398.4" y="1299.1" font-size="16.6" font-weight="bold" text-anchor="middle" fill="#f4f4f4" >regions</text><g clip-path="url(#cK1)"><ellipse cx="126" cy="1406" rx="50.2" ry="41.4" transform="rotate(-8 126 1406)" fill="url(#gHA2)" filter="url(#blur2)"/><circle cx="116.5" cy="1429.8" r="7" fill="#999" opacity="0.7" filter="url(#blur2)"/><ellipse cx="68" cy="1392" rx="8" ry="10" fill="#333" opacity="0.6" filter="url(#blur2)"/></g><g clip-path="url(#cK2)"><ellipse cx="263" cy="1406" rx="47.8" ry="41.4" transform="rotate(-8 263 1406)" fill="#b81212" filter="url(#blur4)"/><ellipse cx="263" cy="1406" rx="47.8" ry="41.4" transform="rotate(-8 263 1406)" fill="#000" filter="url(#nzJ)" opacity="0.3"/><circle cx="263" cy="1432" r="6" fill="#600" opacity="0.5" filter="url(#blur2)"/></g><g clip-path="url(#cK3)"><ellipse cx="398.4" cy="1405.5" rx="50" ry="42.5" transform="rotate(-8 398.4 1405.5)" fill="#1a2b90" filter="url(#blur2)"/><ellipse cx="398.4" cy="1405.5" rx="50" ry="42.5" transform="rotate(-8 398.4 1405.5)" fill="none" stroke="#3a6cf0" stroke-width="2.5" opacity="0.6" filter="url(#blur2)"/><ellipse cx="340" cy="1384" rx="12" ry="11" fill="#2a50d0" opacity="0.8" filter="url(#blur2)"/><ellipse cx="398.4" cy="1405.5" rx="50" ry="42.5" transform="rotate(-8 398.4 1405.5)" fill="#000" filter="url(#nzJ2)" opacity="0.62"/><text x="401" y="1400.9" font-size="16.6" font-weight="bold" text-anchor="middle" fill="#f4f4f4" >Uniform</text><text x="401" y="1418.1" font-size="16.6" font-weight="bold" text-anchor="middle" fill="#f4f4f4" >coating</text></g><rect x="57.3" y="1230.7" width="27.6" height="31" fill="#fff" /><text x="71" y="1255.7" font-size="31" font-weight="bold" text-anchor="middle" fill="#000" >j</text><text x="184.8" y="1249.4" font-size="18.6" font-weight="bold" text-anchor="end" fill="#e6b820" >S-LFP</text><text x="164.5" y="1328.9" font-size="13.6" font-weight="bold" text-anchor="middle" fill="#fff" >100 nm</text><line x1="153" y1="1335.5" x2="174.7" y2="1335.5" stroke="#fff" stroke-width="3" /><rect x="57.3" y="1328.9" width="36.3" height="9.7" fill="#fff" /><text x="75.4" y="1336.9" font-size="8.5" font-weight="normal" text-anchor="middle" fill="#333" >HAADF</text><rect x="194.4" y="1328.4" width="15.8" height="10.2" fill="#e01010" /><text x="202.3" y="1336.7" font-size="7.5" font-weight="normal" text-anchor="middle" fill="#700" >Fe</text><rect x="332.5" y="1328" width="9.2" height="10" fill="#3a90e0" /><text x="337.1" y="1336.5" font-size="8" font-weight="normal" text-anchor="middle" fill="#124" >C</text><rect x="57.3" y="1351.5" width="27.6" height="31" fill="#fff" /><text x="71" y="1376.5" font-size="31" font-weight="bold" text-anchor="middle" fill="#000" >k</text><text x="184.8" y="1368.7" font-size="18.6" font-weight="bold" text-anchor="end" fill="#e6b820" >R-LFP</text><text x="164.5" y="1449.6" font-size="13.6" font-weight="bold" text-anchor="middle" fill="#fff" >100 nm</text><line x1="153" y1="1455.3" x2="174.7" y2="1455.3" stroke="#fff" stroke-width="3" /><rect x="57.3" y="1449.7" width="36.3" height="9.7" fill="#fff" /><text x="75.4" y="1457.7" font-size="8.5" font-weight="normal" text-anchor="middle" fill="#333" >HAADF</text><rect x="194.4" y="1449.2" width="15.8" height="10.2" fill="#e01010" /><text x="202.3" y="1457.5" font-size="7.5" font-weight="normal" text-anchor="middle" fill="#700" >Fe</text><rect x="332.5" y="1448.8" width="9.2" height="10" fill="#3a90e0" /><text x="337.1" y="1457.3" font-size="8" font-weight="normal" text-anchor="middle" fill="#124" >C</text><text x="511" y="1241.3" font-size="27" font-weight="bold" text-anchor="start" fill="#000" >l</text><rect x="605.1" y="1257.5" width="114.9" height="11" fill="url(#gDis)" /><rect x="485.5" y="1269.8" width="118.6" height="11.6" fill="url(#gCh)" /><text x="716.5" y="1267.3" font-size="11.5" font-weight="bold" text-anchor="end" fill="#fff" >157</text><text x="488.5" y="1280" font-size="11.5" font-weight="bold" text-anchor="start" fill="#fff" >162</text><text x="471.6" y="1259.8" font-size="12.4" font-weight="normal" text-anchor="start" fill="#333" >R-LFP-Li<tspan dy="3" font-size="9">2</tspan><tspan dy="-3">DHBN</tspan></text><rect x="605.1" y="1306.9" width="111.3" height="11" fill="url(#gDis)" /><rect x="490.6" y="1319.2" width="113.5" height="11.6" fill="url(#gCh)" /><text x="712.9" y="1316.7" font-size="11.5" font-weight="bold" text-anchor="end" fill="#fff" >152</text><text x="493.6" y="1329.4" font-size="11.5" font-weight="bold" text-anchor="start" fill="#fff" >155</text><text x="471.6" y="1309.2" font-size="12.4" font-weight="normal" text-anchor="start" fill="#333" >R-LFP-LiOH</text><rect x="605.1" y="1356.3" width="106.9" height="11" fill="url(#gDis)" /><rect x="494.3" y="1368.6" width="109.8" height="11.6" fill="url(#gCh)" /><text x="708.5" y="1366.1" font-size="11.5" font-weight="bold" text-anchor="end" fill="#fff" >146</text><text x="497.3" y="1378.8" font-size="11.5" font-weight="bold" text-anchor="start" fill="#fff" >150</text><text x="471.6" y="1358.6" font-size="12.4" font-weight="normal" text-anchor="start" fill="#333" >R-LFP-Li<tspan dy="3" font-size="9">2</tspan><tspan dy="-3">CO</tspan><tspan dy="3" font-size="9">3</tspan></text><rect x="605.1" y="1405.7" width="74.7" height="11" fill="url(#gDis)" /><rect x="523.6" y="1418" width="80.5" height="11.6" fill="url(#gCh)" /><text x="676.3" y="1415.5" font-size="11.5" font-weight="bold" text-anchor="end" fill="#fff" >102</text><text x="526.6" y="1428.2" font-size="11.5" font-weight="bold" text-anchor="start" fill="#fff" >110</text><text x="471.6" y="1408" font-size="12.4" font-weight="normal" text-anchor="start" fill="#333" >S-LFP</text><line x1="604.1" y1="1249.4" x2="604.1" y2="1441.7" stroke="#555" stroke-width="1.2" /><line x1="471.6" y1="1441.7" x2="736.9" y2="1441.7" stroke="#555" stroke-width="1.2" /><rect x="577.7" y="1233" width="21.3" height="9.4" fill="url(#gCh)" /><text x="603.2" y="1241.6" font-size="11.5" font-weight="normal" text-anchor="start" fill="#333" >Charge</text><rect x="654.6" y="1233" width="20.4" height="9.4" fill="url(#gDis)" /><text x="679" y="1241.6" font-size="11.5" font-weight="normal" text-anchor="start" fill="#333" >Discharge</text><text x="602.5" y="1462.5" font-size="14" font-weight="normal" text-anchor="middle" fill="#222" >Specific capacity (mAh g<tspan dy="-5" font-size="8.5">-1</tspan><tspan dy="5">)</tspan></text><text x="764.5" y="1235.1" font-size="26.8" font-weight="bold" text-anchor="start" fill="#000" >m</text><path d="M810.9,1256a3.4,3.4 0 1,0 6.8,0a3.4,3.4 0 1,0 -6.8,0M813.4,1251.6a3.4,3.4 0 1,0 6.8,0a3.4,3.4 0 1,0 -6.8,0M815.9,1250.3a3.4,3.4 0 1,0 6.8,0a3.4,3.4 0 1,0 -6.8,0M818.4,1254.4a3.4,3.4 0 1,0 6.8,0a3.4,3.4 0 1,0 -6.8,0M820.9,1251.2a3.4,3.4 0 1,0 6.8,0a3.4,3.4 0 1,0 -6.8,0M823.4,1253.2a3.4,3.4 0 1,0 6.8,0a3.4,3.4 0 1,0 -6.8,0M825.9,1250.4a3.4,3.4 0 1,0 6.8,0a3.4,3.4 0 1,0 -6.8,0M828.4,1254.9a3.4,3.4 0 1,0 6.8,0a3.4,3.4 0 1,0 -6.8,0M830.9,1255.1a3.4,3.4 0 1,0 6.8,0a3.4,3.4 0 1,0 -6.8,0M833.4,1255.9a3.4,3.4 0 1,0 6.8,0a3.4,3.4 0 1,0 -6.8,0M836,1251.3a3.4,3.4 0 1,0 6.8,0a3.4,3.4 0 1,0 -6.8,0M838.5,1252.9a3.4,3.4 0 1,0 6.8,0a3.4,3.4 0 1,0 -6.8,0M841,1254.1a3.4,3.4 0 1,0 6.8,0a3.4,3.4 0 1,0 -6.8,0M843.5,1255.5a3.4,3.4 0 1,0 6.8,0a3.4,3.4 0 1,0 -6.8,0M846,1252.6a3.4,3.4 0 1,0 6.8,0a3.4,3.4 0 1,0 -6.8,0M848.5,1255.6a3.4,3.4 0 1,0 6.8,0a3.4,3.4 0 1,0 -6.8,0M851,1252a3.4,3.4 0 1,0 6.8,0a3.4,3.4 0 1,0 -6.8,0M853.5,1253.6a3.4,3.4 0 1,0 6.8,0a3.4,3.4 0 1,0 -6.8,0M856,1254.8a3.4,3.4 0 1,0 6.8,0a3.4,3.4 0 1,0 -6.8,0M858.5,1253.5a3.4,3.4 0 1,0 6.8,0a3.4,3.4 0 1,0 -6.8,0M861.1,1255a3.4,3.4 0 1,0 6.8,0a3.4,3.4 0 1,0 -6.8,0M863.6,1251.3a3.4,3.4 0 1,0 6.8,0a3.4,3.4 0 1,0 -6.8,0M866.1,1252.3a3.4,3.4 0 1,0 6.8,0a3.4,3.4 0 1,0 -6.8,0M868.6,1252.3a3.4,3.4 0 1,0 6.8,0a3.4,3.4 0 1,0 -6.8,0M871.1,1253.4a3.4,3.4 0 1,0 6.8,0a3.4,3.4 0 1,0 -6.8,0M873.6,1252.3a3.4,3.4 0 1,0 6.8,0a3.4,3.4 0 1,0 -6.8,0M876.1,1247.3a3.4,3.4 0 1,0 6.8,0a3.4,3.4 0 1,0 -6.8,0M878.6,1252.3a3.4,3.4 0 1,0 6.8,0a3.4,3.4 0 1,0 -6.8,0M881.1,1252.3a3.4,3.4 0 1,0 6.8,0a3.4,3.4 0 1,0 -6.8,0M883.6,1252.3a3.4,3.4 0 1,0 6.8,0a3.4,3.4 0 1,0 -6.8,0M886.2,1247.3a3.4,3.4 0 1,0 6.8,0a3.4,3.4 0 1,0 -6.8,0M888.7,1252.3a3.4,3.4 0 1,0 6.8,0a3.4,3.4 0 1,0 -6.8,0M891.2,1252.3a3.4,3.4 0 1,0 6.8,0a3.4,3.4 0 1,0 -6.8,0M893.7,1252.3a3.4,3.4 0 1,0 6.8,0a3.4,3.4 0 1,0 -6.8,0M896.2,1247.3a3.4,3.4 0 1,0 6.8,0a3.4,3.4 0 1,0 -6.8,0M898.7,1247.3a3.4,3.4 0 1,0 6.8,0a3.4,3.4 0 1,0 -6.8,0M901.2,1252.3a3.4,3.4 0 1,0 6.8,0a3.4,3.4 0 1,0 -6.8,0M903.7,1252.3a3.4,3.4 0 1,0 6.8,0a3.4,3.4 0 1,0 -6.8,0M906.2,1252.3a3.4,3.4 0 1,0 6.8,0a3.4,3.4 0 1,0 -6.8,0M908.7,1252.3a3.4,3.4 0 1,0 6.8,0a3.4,3.4 0 1,0 -6.8,0M911.3,1252.3a3.4,3.4 0 1,0 6.8,0a3.4,3.4 0 1,0 -6.8,0M913.8,1252.3a3.4,3.4 0 1,0 6.8,0a3.4,3.4 0 1,0 -6.8,0M916.3,1252.3a3.4,3.4 0 1,0 6.8,0a3.4,3.4 0 1,0 -6.8,0M918.8,1252.3a3.4,3.4 0 1,0 6.8,0a3.4,3.4 0 1,0 -6.8,0M921.3,1252.3a3.4,3.4 0 1,0 6.8,0a3.4,3.4 0 1,0 -6.8,0M923.8,1258.4a3.4,3.4 0 1,0 6.8,0a3.4,3.4 0 1,0 -6.8,0M926.3,1247.3a3.4,3.4 0 1,0 6.8,0a3.4,3.4 0 1,0 -6.8,0M928.8,1252.3a3.4,3.4 0 1,0 6.8,0a3.4,3.4 0 1,0 -6.8,0M931.3,1252.3a3.4,3.4 0 1,0 6.8,0a3.4,3.4 0 1,0 -6.8,0M933.8,1258.4a3.4,3.4 0 1,0 6.8,0a3.4,3.4 0 1,0 -6.8,0M936.4,1252.3a3.4,3.4 0 1,0 6.8,0a3.4,3.4 0 1,0 -6.8,0M938.9,1252.3a3.4,3.4 0 1,0 6.8,0a3.4,3.4 0 1,0 -6.8,0M941.4,1247.3a3.4,3.4 0 1,0 6.8,0a3.4,3.4 0 1,0 -6.8,0M943.9,1252.3a3.4,3.4 0 1,0 6.8,0a3.4,3.4 0 1,0 -6.8,0M946.4,1252.3a3.4,3.4 0 1,0 6.8,0a3.4,3.4 0 1,0 -6.8,0M948.9,1247.3a3.4,3.4 0 1,0 6.8,0a3.4,3.4 0 1,0 -6.8,0M951.4,1252.3a3.4,3.4 0 1,0 6.8,0a3.4,3.4 0 1,0 -6.8,0M953.9,1247.3a3.4,3.4 0 1,0 6.8,0a3.4,3.4 0 1,0 -6.8,0M956.4,1252.3a3.4,3.4 0 1,0 6.8,0a3.4,3.4 0 1,0 -6.8,0M958.9,1252.3a3.4,3.4 0 1,0 6.8,0a3.4,3.4 0 1,0 -6.8,0M961.5,1252.3a3.4,3.4 0 1,0 6.8,0a3.4,3.4 0 1,0 -6.8,0M964,1252.3a3.4,3.4 0 1,0 6.8,0a3.4,3.4 0 1,0 -6.8,0M966.5,1258.4a3.4,3.4 0 1,0 6.8,0a3.4,3.4 0 1,0 -6.8,0M969,1252.3a3.4,3.4 0 1,0 6.8,0a3.4,3.4 0 1,0 -6.8,0M971.5,1247.3a3.4,3.4 0 1,0 6.8,0a3.4,3.4 0 1,0 -6.8,0M974,1252.3a3.4,3.4 0 1,0 6.8,0a3.4,3.4 0 1,0 -6.8,0M976.5,1247.3a3.4,3.4 0 1,0 6.8,0a3.4,3.4 0 1,0 -6.8,0M979,1252.3a3.4,3.4 0 1,0 6.8,0a3.4,3.4 0 1,0 -6.8,0M981.5,1252.3a3.4,3.4 0 1,0 6.8,0a3.4,3.4 0 1,0 -6.8,0M984,1252.3a3.4,3.4 0 1,0 6.8,0a3.4,3.4 0 1,0 -6.8,0M986.6,1252.3a3.4,3.4 0 1,0 6.8,0a3.4,3.4 0 1,0 -6.8,0M989.1,1252.3a3.4,3.4 0 1,0 6.8,0a3.4,3.4 0 1,0 -6.8,0M991.6,1258.4a3.4,3.4 0 1,0 6.8,0a3.4,3.4 0 1,0 -6.8,0M994.1,1253.4a3.4,3.4 0 1,0 6.8,0a3.4,3.4 0 1,0 -6.8,0M996.6,1258.4a3.4,3.4 0 1,0 6.8,0a3.4,3.4 0 1,0 -6.8,0M999.1,1258.4a3.4,3.4 0 1,0 6.8,0a3.4,3.4 0 1,0 -6.8,0M1001.6,1252.3a3.4,3.4 0 1,0 6.8,0a3.4,3.4 0 1,0 -6.8,0M1004.1,1252.3a3.4,3.4 0 1,0 6.8,0a3.4,3.4 0 1,0 -6.8,0M1006.6,1252.3a3.4,3.4 0 1,0 6.8,0a3.4,3.4 0 1,0 -6.8,0M1009.1,1252.3a3.4,3.4 0 1,0 6.8,0a3.4,3.4 0 1,0 -6.8,0M1011.7,1247.3a3.4,3.4 0 1,0 6.8,0a3.4,3.4 0 1,0 -6.8,0M1014.2,1258.4a3.4,3.4 0 1,0 6.8,0a3.4,3.4 0 1,0 -6.8,0M1016.7,1258.4a3.4,3.4 0 1,0 6.8,0a3.4,3.4 0 1,0 -6.8,0M1019.2,1252.3a3.4,3.4 0 1,0 6.8,0a3.4,3.4 0 1,0 -6.8,0M1021.7,1252.3a3.4,3.4 0 1,0 6.8,0a3.4,3.4 0 1,0 -6.8,0M1024.2,1252.3a3.4,3.4 0 1,0 6.8,0a3.4,3.4 0 1,0 -6.8,0M1026.7,1247.3a3.4,3.4 0 1,0 6.8,0a3.4,3.4 0 1,0 -6.8,0M1029.2,1252.3a3.4,3.4 0 1,0 6.8,0a3.4,3.4 0 1,0 -6.8,0M1031.7,1252.3a3.4,3.4 0 1,0 6.8,0a3.4,3.4 0 1,0 -6.8,0M1034.2,1258.4a3.4,3.4 0 1,0 6.8,0a3.4,3.4 0 1,0 -6.8,0M1036.8,1252.3a3.4,3.4 0 1,0 6.8,0a3.4,3.4 0 1,0 -6.8,0M1039.3,1247.3a3.4,3.4 0 1,0 6.8,0a3.4,3.4 0 1,0 -6.8,0M1041.8,1252.3a3.4,3.4 0 1,0 6.8,0a3.4,3.4 0 1,0 -6.8,0M1044.3,1252.3a3.4,3.4 0 1,0 6.8,0a3.4,3.4 0 1,0 -6.8,0M1046.8,1252.3a3.4,3.4 0 1,0 6.8,0a3.4,3.4 0 1,0 -6.8,0M1049.3,1252.3a3.4,3.4 0 1,0 6.8,0a3.4,3.4 0 1,0 -6.8,0M1051.8,1252.3a3.4,3.4 0 1,0 6.8,0a3.4,3.4 0 1,0 -6.8,0M1054.3,1252.3a3.4,3.4 0 1,0 6.8,0a3.4,3.4 0 1,0 -6.8,0M1056.8,1252.3a3.4,3.4 0 1,0 6.8,0a3.4,3.4 0 1,0 -6.8,0M1059.3,1252.3a3.4,3.4 0 1,0 6.8,0a3.4,3.4 0 1,0 -6.8,0M1061.9,1247.3a3.4,3.4 0 1,0 6.8,0a3.4,3.4 0 1,0 -6.8,0M1064.4,1252.3a3.4,3.4 0 1,0 6.8,0a3.4,3.4 0 1,0 -6.8,0M1066.9,1252.3a3.4,3.4 0 1,0 6.8,0a3.4,3.4 0 1,0 -6.8,0M1069.4,1252.3a3.4,3.4 0 1,0 6.8,0a3.4,3.4 0 1,0 -6.8,0M1071.9,1252.3a3.4,3.4 0 1,0 6.8,0a3.4,3.4 0 1,0 -6.8,0M1074.4,1258.4a3.4,3.4 0 1,0 6.8,0a3.4,3.4 0 1,0 -6.8,0M1076.9,1252.3a3.4,3.4 0 1,0 6.8,0a3.4,3.4 0 1,0 -6.8,0M1079.4,1252.3a3.4,3.4 0 1,0 6.8,0a3.4,3.4 0 1,0 -6.8,0M1081.9,1252.3a3.4,3.4 0 1,0 6.8,0a3.4,3.4 0 1,0 -6.8,0M1084.4,1258.4a3.4,3.4 0 1,0 6.8,0a3.4,3.4 0 1,0 -6.8,0M1087,1252.3a3.4,3.4 0 1,0 6.8,0a3.4,3.4 0 1,0 -6.8,0M1089.5,1247.3a3.4,3.4 0 1,0 6.8,0a3.4,3.4 0 1,0 -6.8,0M1092,1252.3a3.4,3.4 0 1,0 6.8,0a3.4,3.4 0 1,0 -6.8,0M1094.5,1252.3a3.4,3.4 0 1,0 6.8,0a3.4,3.4 0 1,0 -6.8,0M1097,1253.4a3.4,3.4 0 1,0 6.8,0a3.4,3.4 0 1,0 -6.8,0M1099.5,1252.3a3.4,3.4 0 1,0 6.8,0a3.4,3.4 0 1,0 -6.8,0M1102,1252.3a3.4,3.4 0 1,0 6.8,0a3.4,3.4 0 1,0 -6.8,0M1104.5,1252.3a3.4,3.4 0 1,0 6.8,0a3.4,3.4 0 1,0 -6.8,0M1107,1253.4a3.4,3.4 0 1,0 6.8,0a3.4,3.4 0 1,0 -6.8,0M1109.5,1252.3a3.4,3.4 0 1,0 6.8,0a3.4,3.4 0 1,0 -6.8,0M1112.1,1252.3a3.4,3.4 0 1,0 6.8,0a3.4,3.4 0 1,0 -6.8,0M1114.6,1252.3a3.4,3.4 0 1,0 6.8,0a3.4,3.4 0 1,0 -6.8,0M1117.1,1252.3a3.4,3.4 0 1,0 6.8,0a3.4,3.4 0 1,0 -6.8,0M1119.6,1252.3a3.4,3.4 0 1,0 6.8,0a3.4,3.4 0 1,0 -6.8,0M1122.1,1258.4a3.4,3.4 0 1,0 6.8,0a3.4,3.4 0 1,0 -6.8,0M1124.6,1252.3a3.4,3.4 0 1,0 6.8,0a3.4,3.4 0 1,0 -6.8,0M1127.1,1252.3a3.4,3.4 0 1,0 6.8,0a3.4,3.4 0 1,0 -6.8,0M1129.6,1252.3a3.4,3.4 0 1,0 6.8,0a3.4,3.4 0 1,0 -6.8,0M1132.1,1252.3a3.4,3.4 0 1,0 6.8,0a3.4,3.4 0 1,0 -6.8,0M1134.6,1258.4a3.4,3.4 0 1,0 6.8,0a3.4,3.4 0 1,0 -6.8,0M1137.2,1252.3a3.4,3.4 0 1,0 6.8,0a3.4,3.4 0 1,0 -6.8,0M1139.7,1252.3a3.4,3.4 0 1,0 6.8,0a3.4,3.4 0 1,0 -6.8,0M1142.2,1258.4a3.4,3.4 0 1,0 6.8,0a3.4,3.4 0 1,0 -6.8,0M1144.7,1252.3a3.4,3.4 0 1,0 6.8,0a3.4,3.4 0 1,0 -6.8,0M1147.2,1252.3a3.4,3.4 0 1,0 6.8,0a3.4,3.4 0 1,0 -6.8,0M1149.7,1252.3a3.4,3.4 0 1,0 6.8,0a3.4,3.4 0 1,0 -6.8,0M1152.2,1252.3a3.4,3.4 0 1,0 6.8,0a3.4,3.4 0 1,0 -6.8,0M1154.7,1252.3a3.4,3.4 0 1,0 6.8,0a3.4,3.4 0 1,0 -6.8,0M1157.2,1252.3a3.4,3.4 0 1,0 6.8,0a3.4,3.4 0 1,0 -6.8,0M1159.7,1252.3a3.4,3.4 0 1,0 6.8,0a3.4,3.4 0 1,0 -6.8,0M1162.3,1247.3a3.4,3.4 0 1,0 6.8,0a3.4,3.4 0 1,0 -6.8,0M1164.8,1247.3a3.4,3.4 0 1,0 6.8,0a3.4,3.4 0 1,0 -6.8,0M1167.3,1252.3a3.4,3.4 0 1,0 6.8,0a3.4,3.4 0 1,0 -6.8,0M1169.8,1252.3a3.4,3.4 0 1,0 6.8,0a3.4,3.4 0 1,0 -6.8,0M1172.3,1252.3a3.4,3.4 0 1,0 6.8,0a3.4,3.4 0 1,0 -6.8,0M1174.8,1252.3a3.4,3.4 0 1,0 6.8,0a3.4,3.4 0 1,0 -6.8,0M1177.3,1258.4a3.4,3.4 0 1,0 6.8,0a3.4,3.4 0 1,0 -6.8,0M1179.8,1252.3a3.4,3.4 0 1,0 6.8,0a3.4,3.4 0 1,0 -6.8,0M1182.3,1252.3a3.4,3.4 0 1,0 6.8,0a3.4,3.4 0 1,0 -6.8,0M1184.8,1252.3a3.4,3.4 0 1,0 6.8,0a3.4,3.4 0 1,0 -6.8,0M1187.4,1247.3a3.4,3.4 0 1,0 6.8,0a3.4,3.4 0 1,0 -6.8,0M1189.9,1253.4a3.4,3.4 0 1,0 6.8,0a3.4,3.4 0 1,0 -6.8,0M1192.4,1252.3a3.4,3.4 0 1,0 6.8,0a3.4,3.4 0 1,0 -6.8,0M1194.9,1252.3a3.4,3.4 0 1,0 6.8,0a3.4,3.4 0 1,0 -6.8,0M1197.4,1252.3a3.4,3.4 0 1,0 6.8,0a3.4,3.4 0 1,0 -6.8,0M1199.9,1253.4a3.4,3.4 0 1,0 6.8,0a3.4,3.4 0 1,0 -6.8,0M1202.4,1258.4a3.4,3.4 0 1,0 6.8,0a3.4,3.4 0 1,0 -6.8,0M1204.9,1258.4a3.4,3.4 0 1,0 6.8,0a3.4,3.4 0 1,0 -6.8,0M1207.4,1252.3a3.4,3.4 0 1,0 6.8,0a3.4,3.4 0 1,0 -6.8,0M1209.9,1252.3a3.4,3.4 0 1,0 6.8,0a3.4,3.4 0 1,0 -6.8,0M1212.5,1252.3a3.4,3.4 0 1,0 6.8,0a3.4,3.4 0 1,0 -6.8,0M1215,1252.3a3.4,3.4 0 1,0 6.8,0a3.4,3.4 0 1,0 -6.8,0M1217.5,1252.3a3.4,3.4 0 1,0 6.8,0a3.4,3.4 0 1,0 -6.8,0M1220,1252.3a3.4,3.4 0 1,0 6.8,0a3.4,3.4 0 1,0 -6.8,0M1222.5,1252.3a3.4,3.4 0 1,0 6.8,0a3.4,3.4 0 1,0 -6.8,0M1225,1252.3a3.4,3.4 0 1,0 6.8,0a3.4,3.4 0 1,0 -6.8,0M1227.5,1252.3a3.4,3.4 0 1,0 6.8,0a3.4,3.4 0 1,0 -6.8,0M1230,1252.3a3.4,3.4 0 1,0 6.8,0a3.4,3.4 0 1,0 -6.8,0M1232.5,1247.3a3.4,3.4 0 1,0 6.8,0a3.4,3.4 0 1,0 -6.8,0M1235,1252.3a3.4,3.4 0 1,0 6.8,0a3.4,3.4 0 1,0 -6.8,0M1237.6,1258.4a3.4,3.4 0 1,0 6.8,0a3.4,3.4 0 1,0 -6.8,0M1240.1,1252.3a3.4,3.4 0 1,0 6.8,0a3.4,3.4 0 1,0 -6.8,0M1242.6,1252.3a3.4,3.4 0 1,0 6.8,0a3.4,3.4 0 1,0 -6.8,0M1245.1,1258.4a3.4,3.4 0 1,0 6.8,0a3.4,3.4 0 1,0 -6.8,0M1247.6,1252.3a3.4,3.4 0 1,0 6.8,0a3.4,3.4 0 1,0 -6.8,0M1250.1,1252.3a3.4,3.4 0 1,0 6.8,0a3.4,3.4 0 1,0 -6.8,0M1252.6,1252.3a3.4,3.4 0 1,0 6.8,0a3.4,3.4 0 1,0 -6.8,0M1255.1,1252.3a3.4,3.4 0 1,0 6.8,0a3.4,3.4 0 1,0 -6.8,0M1257.6,1252.3a3.4,3.4 0 1,0 6.8,0a3.4,3.4 0 1,0 -6.8,0M1260.1,1247.3a3.4,3.4 0 1,0 6.8,0a3.4,3.4 0 1,0 -6.8,0M1262.7,1247.3a3.4,3.4 0 1,0 6.8,0a3.4,3.4 0 1,0 -6.8,0M1265.2,1247.3a3.4,3.4 0 1,0 6.8,0a3.4,3.4 0 1,0 -6.8,0M1267.7,1247.3a3.4,3.4 0 1,0 6.8,0a3.4,3.4 0 1,0 -6.8,0M1270.2,1252.3a3.4,3.4 0 1,0 6.8,0a3.4,3.4 0 1,0 -6.8,0M1272.7,1252.3a3.4,3.4 0 1,0 6.8,0a3.4,3.4 0 1,0 -6.8,0M1275.2,1252.3a3.4,3.4 0 1,0 6.8,0a3.4,3.4 0 1,0 -6.8,0M1277.7,1252.3a3.4,3.4 0 1,0 6.8,0a3.4,3.4 0 1,0 -6.8,0M1280.2,1252.3a3.4,3.4 0 1,0 6.8,0a3.4,3.4 0 1,0 -6.8,0M1282.7,1258.4a3.4,3.4 0 1,0 6.8,0a3.4,3.4 0 1,0 -6.8,0M1285.2,1252.3a3.4,3.4 0 1,0 6.8,0a3.4,3.4 0 1,0 -6.8,0M1287.8,1252.3a3.4,3.4 0 1,0 6.8,0a3.4,3.4 0 1,0 -6.8,0M1290.3,1258.4a3.4,3.4 0 1,0 6.8,0a3.4,3.4 0 1,0 -6.8,0M1292.8,1252.3a3.4,3.4 0 1,0 6.8,0a3.4,3.4 0 1,0 -6.8,0M1295.3,1252.3a3.4,3.4 0 1,0 6.8,0a3.4,3.4 0 1,0 -6.8,0M1297.8,1253.4a3.4,3.4 0 1,0 6.8,0a3.4,3.4 0 1,0 -6.8,0M1300.3,1252.3a3.4,3.4 0 1,0 6.8,0a3.4,3.4 0 1,0 -6.8,0M1302.8,1252.3a3.4,3.4 0 1,0 6.8,0a3.4,3.4 0 1,0 -6.8,0M1305.3,1247.3a3.4,3.4 0 1,0 6.8,0a3.4,3.4 0 1,0 -6.8,0M1307.8,1247.3a3.4,3.4 0 1,0 6.8,0a3.4,3.4 0 1,0 -6.8,0M1310.3,1252.3a3.4,3.4 0 1,0 6.8,0a3.4,3.4 0 1,0 -6.8,0" fill="none" stroke="#f0b0b4" stroke-width="1"/><path d="M810.9,1270.5a3.4,3.4 0 1,0 6.8,0a3.4,3.4 0 1,0 -6.8,0M814.6,1255a3.4,3.4 0 1,0 6.8,0a3.4,3.4 0 1,0 -6.8,0M817.1,1255.3a3.4,3.4 0 1,0 6.8,0a3.4,3.4 0 1,0 -6.8,0M819.6,1258.1a3.4,3.4 0 1,0 6.8,0a3.4,3.4 0 1,0 -6.8,0M822.1,1253.2a3.4,3.4 0 1,0 6.8,0a3.4,3.4 0 1,0 -6.8,0M824.7,1252.8a3.4,3.4 0 1,0 6.8,0a3.4,3.4 0 1,0 -6.8,0M827.2,1256.4a3.4,3.4 0 1,0 6.8,0a3.4,3.4 0 1,0 -6.8,0M829.7,1258a3.4,3.4 0 1,0 6.8,0a3.4,3.4 0 1,0 -6.8,0M832.2,1251.2a3.4,3.4 0 1,0 6.8,0a3.4,3.4 0 1,0 -6.8,0M834.7,1257.7a3.4,3.4 0 1,0 6.8,0a3.4,3.4 0 1,0 -6.8,0M837.2,1255.9a3.4,3.4 0 1,0 6.8,0a3.4,3.4 0 1,0 -6.8,0M839.7,1257a3.4,3.4 0 1,0 6.8,0a3.4,3.4 0 1,0 -6.8,0M842.2,1256.2a3.4,3.4 0 1,0 6.8,0a3.4,3.4 0 1,0 -6.8,0M844.7,1264.1a3.4,3.4 0 1,0 6.8,0a3.4,3.4 0 1,0 -6.8,0M847.2,1255.1a3.4,3.4 0 1,0 6.8,0a3.4,3.4 0 1,0 -6.8,0M849.8,1260.4a3.4,3.4 0 1,0 6.8,0a3.4,3.4 0 1,0 -6.8,0M852.3,1260.4a3.4,3.4 0 1,0 6.8,0a3.4,3.4 0 1,0 -6.8,0M854.8,1255.1a3.4,3.4 0 1,0 6.8,0a3.4,3.4 0 1,0 -6.8,0M857.3,1259.6a3.4,3.4 0 1,0 6.8,0a3.4,3.4 0 1,0 -6.8,0M859.8,1263.3a3.4,3.4 0 1,0 6.8,0a3.4,3.4 0 1,0 -6.8,0M862.3,1257.9a3.4,3.4 0 1,0 6.8,0a3.4,3.4 0 1,0 -6.8,0M864.8,1256.4a3.4,3.4 0 1,0 6.8,0a3.4,3.4 0 1,0 -6.8,0M867.3,1242.3a3.4,3.4 0 1,0 6.8,0a3.4,3.4 0 1,0 -6.8,0M869.8,1246.3a3.4,3.4 0 1,0 6.8,0a3.4,3.4 0 1,0 -6.8,0M872.4,1248.3a3.4,3.4 0 1,0 6.8,0a3.4,3.4 0 1,0 -6.8,0M874.9,1242.3a3.4,3.4 0 1,0 6.8,0a3.4,3.4 0 1,0 -6.8,0M877.4,1252.3a3.4,3.4 0 1,0 6.8,0a3.4,3.4 0 1,0 -6.8,0M879.9,1248.3a3.4,3.4 0 1,0 6.8,0a3.4,3.4 0 1,0 -6.8,0M882.4,1252.3a3.4,3.4 0 1,0 6.8,0a3.4,3.4 0 1,0 -6.8,0M884.9,1248.3a3.4,3.4 0 1,0 6.8,0a3.4,3.4 0 1,0 -6.8,0M887.4,1252.3a3.4,3.4 0 1,0 6.8,0a3.4,3.4 0 1,0 -6.8,0M889.9,1242.3a3.4,3.4 0 1,0 6.8,0a3.4,3.4 0 1,0 -6.8,0M892.4,1248.3a3.4,3.4 0 1,0 6.8,0a3.4,3.4 0 1,0 -6.8,0M894.9,1248.3a3.4,3.4 0 1,0 6.8,0a3.4,3.4 0 1,0 -6.8,0M897.5,1248.3a3.4,3.4 0 1,0 6.8,0a3.4,3.4 0 1,0 -6.8,0M900,1242.3a3.4,3.4 0 1,0 6.8,0a3.4,3.4 0 1,0 -6.8,0M902.5,1248.3a3.4,3.4 0 1,0 6.8,0a3.4,3.4 0 1,0 -6.8,0M905,1252.3a3.4,3.4 0 1,0 6.8,0a3.4,3.4 0 1,0 -6.8,0M907.5,1242.3a3.4,3.4 0 1,0 6.8,0a3.4,3.4 0 1,0 -6.8,0M910,1242.3a3.4,3.4 0 1,0 6.8,0a3.4,3.4 0 1,0 -6.8,0M912.5,1242.3a3.4,3.4 0 1,0 6.8,0a3.4,3.4 0 1,0 -6.8,0M915,1248.3a3.4,3.4 0 1,0 6.8,0a3.4,3.4 0 1,0 -6.8,0M917.5,1242.3a3.4,3.4 0 1,0 6.8,0a3.4,3.4 0 1,0 -6.8,0M920,1242.3a3.4,3.4 0 1,0 6.8,0a3.4,3.4 0 1,0 -6.8,0M922.6,1248.3a3.4,3.4 0 1,0 6.8,0a3.4,3.4 0 1,0 -6.8,0M925.1,1242.3a3.4,3.4 0 1,0 6.8,0a3.4,3.4 0 1,0 -6.8,0M927.6,1248.3a3.4,3.4 0 1,0 6.8,0a3.4,3.4 0 1,0 -6.8,0M930.1,1248.3a3.4,3.4 0 1,0 6.8,0a3.4,3.4 0 1,0 -6.8,0M932.6,1242.3a3.4,3.4 0 1,0 6.8,0a3.4,3.4 0 1,0 -6.8,0M935.1,1242.3a3.4,3.4 0 1,0 6.8,0a3.4,3.4 0 1,0 -6.8,0M937.6,1252.3a3.4,3.4 0 1,0 6.8,0a3.4,3.4 0 1,0 -6.8,0M940.1,1248.3a3.4,3.4 0 1,0 6.8,0a3.4,3.4 0 1,0 -6.8,0M942.6,1248.3a3.4,3.4 0 1,0 6.8,0a3.4,3.4 0 1,0 -6.8,0M945.1,1242.3a3.4,3.4 0 1,0 6.8,0a3.4,3.4 0 1,0 -6.8,0M947.6,1252.3a3.4,3.4 0 1,0 6.8,0a3.4,3.4 0 1,0 -6.8,0M950.2,1246.3a3.4,3.4 0 1,0 6.8,0a3.4,3.4 0 1,0 -6.8,0M952.7,1248.3a3.4,3.4 0 1,0 6.8,0a3.4,3.4 0 1,0 -6.8,0M955.2,1248.3a3.4,3.4 0 1,0 6.8,0a3.4,3.4 0 1,0 -6.8,0M957.7,1252.3a3.4,3.4 0 1,0 6.8,0a3.4,3.4 0 1,0 -6.8,0M960.2,1248.3a3.4,3.4 0 1,0 6.8,0a3.4,3.4 0 1,0 -6.8,0M962.7,1248.3a3.4,3.4 0 1,0 6.8,0a3.4,3.4 0 1,0 -6.8,0M965.2,1248.3a3.4,3.4 0 1,0 6.8,0a3.4,3.4 0 1,0 -6.8,0M967.7,1248.3a3.4,3.4 0 1,0 6.8,0a3.4,3.4 0 1,0 -6.8,0M970.2,1248.3a3.4,3.4 0 1,0 6.8,0a3.4,3.4 0 1,0 -6.8,0M972.8,1248.3a3.4,3.4 0 1,0 6.8,0a3.4,3.4 0 1,0 -6.8,0M975.3,1242.3a3.4,3.4 0 1,0 6.8,0a3.4,3.4 0 1,0 -6.8,0M977.8,1248.3a3.4,3.4 0 1,0 6.8,0a3.4,3.4 0 1,0 -6.8,0M980.3,1242.3a3.4,3.4 0 1,0 6.8,0a3.4,3.4 0 1,0 -6.8,0M982.8,1246.3a3.4,3.4 0 1,0 6.8,0a3.4,3.4 0 1,0 -6.8,0M985.3,1248.3a3.4,3.4 0 1,0 6.8,0a3.4,3.4 0 1,0 -6.8,0M987.8,1242.3a3.4,3.4 0 1,0 6.8,0a3.4,3.4 0 1,0 -6.8,0M990.3,1252.3a3.4,3.4 0 1,0 6.8,0a3.4,3.4 0 1,0 -6.8,0M992.8,1248.3a3.4,3.4 0 1,0 6.8,0a3.4,3.4 0 1,0 -6.8,0M995.3,1248.3a3.4,3.4 0 1,0 6.8,0a3.4,3.4 0 1,0 -6.8,0M997.9,1252.3a3.4,3.4 0 1,0 6.8,0a3.4,3.4 0 1,0 -6.8,0M1000.4,1242.3a3.4,3.4 0 1,0 6.8,0a3.4,3.4 0 1,0 -6.8,0M1002.9,1242.3a3.4,3.4 0 1,0 6.8,0a3.4,3.4 0 1,0 -6.8,0M1005.4,1248.3a3.4,3.4 0 1,0 6.8,0a3.4,3.4 0 1,0 -6.8,0M1007.9,1248.3a3.4,3.4 0 1,0 6.8,0a3.4,3.4 0 1,0 -6.8,0M1010.4,1248.3a3.4,3.4 0 1,0 6.8,0a3.4,3.4 0 1,0 -6.8,0M1012.9,1248.3a3.4,3.4 0 1,0 6.8,0a3.4,3.4 0 1,0 -6.8,0M1015.4,1248.3a3.4,3.4 0 1,0 6.8,0a3.4,3.4 0 1,0 -6.8,0M1017.9,1242.3a3.4,3.4 0 1,0 6.8,0a3.4,3.4 0 1,0 -6.8,0M1020.4,1248.3a3.4,3.4 0 1,0 6.8,0a3.4,3.4 0 1,0 -6.8,0M1022.9,1248.3a3.4,3.4 0 1,0 6.8,0a3.4,3.4 0 1,0 -6.8,0M1025.5,1242.3a3.4,3.4 0 1,0 6.8,0a3.4,3.4 0 1,0 -6.8,0M1028,1242.3a3.4,3.4 0 1,0 6.8,0a3.4,3.4 0 1,0 -6.8,0M1030.5,1246.3a3.4,3.4 0 1,0 6.8,0a3.4,3.4 0 1,0 -6.8,0M1033,1248.3a3.4,3.4 0 1,0 6.8,0a3.4,3.4 0 1,0 -6.8,0M1035.5,1248.3a3.4,3.4 0 1,0 6.8,0a3.4,3.4 0 1,0 -6.8,0M1038,1248.3a3.4,3.4 0 1,0 6.8,0a3.4,3.4 0 1,0 -6.8,0M1040.5,1248.3a3.4,3.4 0 1,0 6.8,0a3.4,3.4 0 1,0 -6.8,0M1043,1248.3a3.4,3.4 0 1,0 6.8,0a3.4,3.4 0 1,0 -6.8,0M1045.5,1242.3a3.4,3.4 0 1,0 6.8,0a3.4,3.4 0 1,0 -6.8,0M1048,1248.3a3.4,3.4 0 1,0 6.8,0a3.4,3.4 0 1,0 -6.8,0M1050.6,1248.3a3.4,3.4 0 1,0 6.8,0a3.4,3.4 0 1,0 -6.8,0M1053.1,1248.3a3.4,3.4 0 1,0 6.8,0a3.4,3.4 0 1,0 -6.8,0M1055.6,1246.3a3.4,3.4 0 1,0 6.8,0a3.4,3.4 0 1,0 -6.8,0M1058.1,1248.3a3.4,3.4 0 1,0 6.8,0a3.4,3.4 0 1,0 -6.8,0M1060.6,1252.3a3.4,3.4 0 1,0 6.8,0a3.4,3.4 0 1,0 -6.8,0M1063.1,1252.3a3.4,3.4 0 1,0 6.8,0a3.4,3.4 0 1,0 -6.8,0M1065.6,1248.3a3.4,3.4 0 1,0 6.8,0a3.4,3.4 0 1,0 -6.8,0M1068.1,1248.3a3.4,3.4 0 1,0 6.8,0a3.4,3.4 0 1,0 -6.8,0M1070.6,1246.3a3.4,3.4 0 1,0 6.8,0a3.4,3.4 0 1,0 -6.8,0M1073.1,1248.3a3.4,3.4 0 1,0 6.8,0a3.4,3.4 0 1,0 -6.8,0M1075.7,1248.3a3.4,3.4 0 1,0 6.8,0a3.4,3.4 0 1,0 -6.8,0M1078.2,1248.3a3.4,3.4 0 1,0 6.8,0a3.4,3.4 0 1,0 -6.8,0M1080.7,1248.3a3.4,3.4 0 1,0 6.8,0a3.4,3.4 0 1,0 -6.8,0M1083.2,1248.3a3.4,3.4 0 1,0 6.8,0a3.4,3.4 0 1,0 -6.8,0M1085.7,1248.3a3.4,3.4 0 1,0 6.8,0a3.4,3.4 0 1,0 -6.8,0M1088.2,1248.3a3.4,3.4 0 1,0 6.8,0a3.4,3.4 0 1,0 -6.8,0M1090.7,1248.3a3.4,3.4 0 1,0 6.8,0a3.4,3.4 0 1,0 -6.8,0M1093.2,1248.3a3.4,3.4 0 1,0 6.8,0a3.4,3.4 0 1,0 -6.8,0M1095.7,1242.3a3.4,3.4 0 1,0 6.8,0a3.4,3.4 0 1,0 -6.8,0M1098.2,1248.3a3.4,3.4 0 1,0 6.8,0a3.4,3.4 0 1,0 -6.8,0M1100.8,1248.3a3.4,3.4 0 1,0 6.8,0a3.4,3.4 0 1,0 -6.8,0M1103.3,1248.3a3.4,3.4 0 1,0 6.8,0a3.4,3.4 0 1,0 -6.8,0M1105.8,1248.3a3.4,3.4 0 1,0 6.8,0a3.4,3.4 0 1,0 -6.8,0M1108.3,1242.3a3.4,3.4 0 1,0 6.8,0a3.4,3.4 0 1,0 -6.8,0M1110.8,1248.3a3.4,3.4 0 1,0 6.8,0a3.4,3.4 0 1,0 -6.8,0M1113.3,1246.3a3.4,3.4 0 1,0 6.8,0a3.4,3.4 0 1,0 -6.8,0M1115.8,1248.3a3.4,3.4 0 1,0 6.8,0a3.4,3.4 0 1,0 -6.8,0M1118.3,1242.3a3.4,3.4 0 1,0 6.8,0a3.4,3.4 0 1,0 -6.8,0M1120.8,1252.3a3.4,3.4 0 1,0 6.8,0a3.4,3.4 0 1,0 -6.8,0M1123.3,1248.3a3.4,3.4 0 1,0 6.8,0a3.4,3.4 0 1,0 -6.8,0M1125.9,1248.3a3.4,3.4 0 1,0 6.8,0a3.4,3.4 0 1,0 -6.8,0M1128.4,1248.3a3.4,3.4 0 1,0 6.8,0a3.4,3.4 0 1,0 -6.8,0M1130.9,1242.3a3.4,3.4 0 1,0 6.8,0a3.4,3.4 0 1,0 -6.8,0M1133.4,1248.3a3.4,3.4 0 1,0 6.8,0a3.4,3.4 0 1,0 -6.8,0M1135.9,1248.3a3.4,3.4 0 1,0 6.8,0a3.4,3.4 0 1,0 -6.8,0M1138.4,1252.3a3.4,3.4 0 1,0 6.8,0a3.4,3.4 0 1,0 -6.8,0M1140.9,1242.3a3.4,3.4 0 1,0 6.8,0a3.4,3.4 0 1,0 -6.8,0M1143.4,1248.3a3.4,3.4 0 1,0 6.8,0a3.4,3.4 0 1,0 -6.8,0M1145.9,1252.3a3.4,3.4 0 1,0 6.8,0a3.4,3.4 0 1,0 -6.8,0M1148.4,1248.3a3.4,3.4 0 1,0 6.8,0a3.4,3.4 0 1,0 -6.8,0M1151,1242.3a3.4,3.4 0 1,0 6.8,0a3.4,3.4 0 1,0 -6.8,0M1153.5,1248.3a3.4,3.4 0 1,0 6.8,0a3.4,3.4 0 1,0 -6.8,0M1156,1242.3a3.4,3.4 0 1,0 6.8,0a3.4,3.4 0 1,0 -6.8,0M1158.5,1246.3a3.4,3.4 0 1,0 6.8,0a3.4,3.4 0 1,0 -6.8,0M1161,1242.3a3.4,3.4 0 1,0 6.8,0a3.4,3.4 0 1,0 -6.8,0M1163.5,1242.3a3.4,3.4 0 1,0 6.8,0a3.4,3.4 0 1,0 -6.8,0M1166,1248.3a3.4,3.4 0 1,0 6.8,0a3.4,3.4 0 1,0 -6.8,0M1168.5,1248.3a3.4,3.4 0 1,0 6.8,0a3.4,3.4 0 1,0 -6.8,0M1171,1242.3a3.4,3.4 0 1,0 6.8,0a3.4,3.4 0 1,0 -6.8,0M1173.5,1242.3a3.4,3.4 0 1,0 6.8,0a3.4,3.4 0 1,0 -6.8,0M1176.1,1242.3a3.4,3.4 0 1,0 6.8,0a3.4,3.4 0 1,0 -6.8,0M1178.6,1242.3a3.4,3.4 0 1,0 6.8,0a3.4,3.4 0 1,0 -6.8,0M1181.1,1248.3a3.4,3.4 0 1,0 6.8,0a3.4,3.4 0 1,0 -6.8,0M1183.6,1252.3a3.4,3.4 0 1,0 6.8,0a3.4,3.4 0 1,0 -6.8,0M1186.1,1248.3a3.4,3.4 0 1,0 6.8,0a3.4,3.4 0 1,0 -6.8,0M1188.6,1248.3a3.4,3.4 0 1,0 6.8,0a3.4,3.4 0 1,0 -6.8,0M1191.1,1252.3a3.4,3.4 0 1,0 6.8,0a3.4,3.4 0 1,0 -6.8,0M1193.6,1248.3a3.4,3.4 0 1,0 6.8,0a3.4,3.4 0 1,0 -6.8,0M1196.1,1242.3a3.4,3.4 0 1,0 6.8,0a3.4,3.4 0 1,0 -6.8,0M1198.6,1246.3a3.4,3.4 0 1,0 6.8,0a3.4,3.4 0 1,0 -6.8,0M1201.2,1248.3a3.4,3.4 0 1,0 6.8,0a3.4,3.4 0 1,0 -6.8,0M1203.7,1248.3a3.4,3.4 0 1,0 6.8,0a3.4,3.4 0 1,0 -6.8,0M1206.2,1242.3a3.4,3.4 0 1,0 6.8,0a3.4,3.4 0 1,0 -6.8,0M1208.7,1248.3a3.4,3.4 0 1,0 6.8,0a3.4,3.4 0 1,0 -6.8,0M1211.2,1248.3a3.4,3.4 0 1,0 6.8,0a3.4,3.4 0 1,0 -6.8,0M1213.7,1248.3a3.4,3.4 0 1,0 6.8,0a3.4,3.4 0 1,0 -6.8,0M1216.2,1246.3a3.4,3.4 0 1,0 6.8,0a3.4,3.4 0 1,0 -6.8,0M1218.7,1252.3a3.4,3.4 0 1,0 6.8,0a3.4,3.4 0 1,0 -6.8,0M1221.2,1248.3a3.4,3.4 0 1,0 6.8,0a3.4,3.4 0 1,0 -6.8,0M1223.8,1248.3a3.4,3.4 0 1,0 6.8,0a3.4,3.4 0 1,0 -6.8,0M1226.3,1246.3a3.4,3.4 0 1,0 6.8,0a3.4,3.4 0 1,0 -6.8,0M1228.8,1248.3a3.4,3.4 0 1,0 6.8,0a3.4,3.4 0 1,0 -6.8,0M1231.3,1242.3a3.4,3.4 0 1,0 6.8,0a3.4,3.4 0 1,0 -6.8,0M1233.8,1248.3a3.4,3.4 0 1,0 6.8,0a3.4,3.4 0 1,0 -6.8,0M1236.3,1246.3a3.4,3.4 0 1,0 6.8,0a3.4,3.4 0 1,0 -6.8,0M1238.8,1252.3a3.4,3.4 0 1,0 6.8,0a3.4,3.4 0 1,0 -6.8,0M1241.3,1242.3a3.4,3.4 0 1,0 6.8,0a3.4,3.4 0 1,0 -6.8,0M1243.8,1242.3a3.4,3.4 0 1,0 6.8,0a3.4,3.4 0 1,0 -6.8,0M1246.3,1252.3a3.4,3.4 0 1,0 6.8,0a3.4,3.4 0 1,0 -6.8,0M1248.8,1248.3a3.4,3.4 0 1,0 6.8,0a3.4,3.4 0 1,0 -6.8,0M1251.4,1248.3a3.4,3.4 0 1,0 6.8,0a3.4,3.4 0 1,0 -6.8,0M1253.9,1248.3a3.4,3.4 0 1,0 6.8,0a3.4,3.4 0 1,0 -6.8,0M1256.4,1248.3a3.4,3.4 0 1,0 6.8,0a3.4,3.4 0 1,0 -6.8,0M1258.9,1242.3a3.4,3.4 0 1,0 6.8,0a3.4,3.4 0 1,0 -6.8,0M1261.4,1248.3a3.4,3.4 0 1,0 6.8,0a3.4,3.4 0 1,0 -6.8,0M1263.9,1242.3a3.4,3.4 0 1,0 6.8,0a3.4,3.4 0 1,0 -6.8,0M1266.4,1242.3a3.4,3.4 0 1,0 6.8,0a3.4,3.4 0 1,0 -6.8,0M1268.9,1242.3a3.4,3.4 0 1,0 6.8,0a3.4,3.4 0 1,0 -6.8,0M1271.4,1248.3a3.4,3.4 0 1,0 6.8,0a3.4,3.4 0 1,0 -6.8,0M1273.9,1248.3a3.4,3.4 0 1,0 6.8,0a3.4,3.4 0 1,0 -6.8,0M1276.5,1252.3a3.4,3.4 0 1,0 6.8,0a3.4,3.4 0 1,0 -6.8,0M1279,1248.3a3.4,3.4 0 1,0 6.8,0a3.4,3.4 0 1,0 -6.8,0M1281.5,1248.3a3.4,3.4 0 1,0 6.8,0a3.4,3.4 0 1,0 -6.8,0M1284,1248.3a3.4,3.4 0 1,0 6.8,0a3.4,3.4 0 1,0 -6.8,0M1286.5,1242.3a3.4,3.4 0 1,0 6.8,0a3.4,3.4 0 1,0 -6.8,0M1289,1248.3a3.4,3.4 0 1,0 6.8,0a3.4,3.4 0 1,0 -6.8,0M1291.5,1248.3a3.4,3.4 0 1,0 6.8,0a3.4,3.4 0 1,0 -6.8,0M1294,1248.3a3.4,3.4 0 1,0 6.8,0a3.4,3.4 0 1,0 -6.8,0M1296.5,1242.3a3.4,3.4 0 1,0 6.8,0a3.4,3.4 0 1,0 -6.8,0M1299,1252.3a3.4,3.4 0 1,0 6.8,0a3.4,3.4 0 1,0 -6.8,0M1301.6,1252.3a3.4,3.4 0 1,0 6.8,0a3.4,3.4 0 1,0 -6.8,0M1304.1,1248.3a3.4,3.4 0 1,0 6.8,0a3.4,3.4 0 1,0 -6.8,0M1306.6,1248.3a3.4,3.4 0 1,0 6.8,0a3.4,3.4 0 1,0 -6.8,0M1309.1,1242.3a3.4,3.4 0 1,0 6.8,0a3.4,3.4 0 1,0 -6.8,0M1311.6,1252.3a3.4,3.4 0 1,0 6.8,0a3.4,3.4 0 1,0 -6.8,0M1311.6,1314.8a3.4,3.4 0 1,0 6.8,0a3.4,3.4 0 1,0 -6.8,0" fill="none" stroke="#eac8a0" stroke-width="1"/><path d="M810.9,1258.4a3.4,3.4 0 1,0 6.8,0a3.4,3.4 0 1,0 -6.8,0M813.4,1244.3a3.4,3.4 0 1,0 6.8,0a3.4,3.4 0 1,0 -6.8,0M815.9,1244.3a3.4,3.4 0 1,0 6.8,0a3.4,3.4 0 1,0 -6.8,0M818.4,1244.3a3.4,3.4 0 1,0 6.8,0a3.4,3.4 0 1,0 -6.8,0M820.9,1244.3a3.4,3.4 0 1,0 6.8,0a3.4,3.4 0 1,0 -6.8,0M823.4,1244.3a3.4,3.4 0 1,0 6.8,0a3.4,3.4 0 1,0 -6.8,0M825.9,1251.3a3.4,3.4 0 1,0 6.8,0a3.4,3.4 0 1,0 -6.8,0M828.4,1240.2a3.4,3.4 0 1,0 6.8,0a3.4,3.4 0 1,0 -6.8,0M830.9,1244.3a3.4,3.4 0 1,0 6.8,0a3.4,3.4 0 1,0 -6.8,0M833.4,1244.3a3.4,3.4 0 1,0 6.8,0a3.4,3.4 0 1,0 -6.8,0M836,1240.2a3.4,3.4 0 1,0 6.8,0a3.4,3.4 0 1,0 -6.8,0M838.5,1244.3a3.4,3.4 0 1,0 6.8,0a3.4,3.4 0 1,0 -6.8,0M841,1244.3a3.4,3.4 0 1,0 6.8,0a3.4,3.4 0 1,0 -6.8,0M843.5,1244.3a3.4,3.4 0 1,0 6.8,0a3.4,3.4 0 1,0 -6.8,0M846,1244.3a3.4,3.4 0 1,0 6.8,0a3.4,3.4 0 1,0 -6.8,0M848.5,1244.3a3.4,3.4 0 1,0 6.8,0a3.4,3.4 0 1,0 -6.8,0M851,1244.3a3.4,3.4 0 1,0 6.8,0a3.4,3.4 0 1,0 -6.8,0M853.5,1244.3a3.4,3.4 0 1,0 6.8,0a3.4,3.4 0 1,0 -6.8,0M856,1244.3a3.4,3.4 0 1,0 6.8,0a3.4,3.4 0 1,0 -6.8,0M858.5,1244.3a3.4,3.4 0 1,0 6.8,0a3.4,3.4 0 1,0 -6.8,0M861.1,1244.3a3.4,3.4 0 1,0 6.8,0a3.4,3.4 0 1,0 -6.8,0M863.6,1244.3a3.4,3.4 0 1,0 6.8,0a3.4,3.4 0 1,0 -6.8,0M866.1,1251.3a3.4,3.4 0 1,0 6.8,0a3.4,3.4 0 1,0 -6.8,0M868.6,1244.3a3.4,3.4 0 1,0 6.8,0a3.4,3.4 0 1,0 -6.8,0M871.1,1244.3a3.4,3.4 0 1,0 6.8,0a3.4,3.4 0 1,0 -6.8,0M873.6,1244.3a3.4,3.4 0 1,0 6.8,0a3.4,3.4 0 1,0 -6.8,0M876.1,1244.3a3.4,3.4 0 1,0 6.8,0a3.4,3.4 0 1,0 -6.8,0M878.6,1244.3a3.4,3.4 0 1,0 6.8,0a3.4,3.4 0 1,0 -6.8,0M881.1,1244.3a3.4,3.4 0 1,0 6.8,0a3.4,3.4 0 1,0 -6.8,0M883.6,1251.3a3.4,3.4 0 1,0 6.8,0a3.4,3.4 0 1,0 -6.8,0M886.2,1244.3a3.4,3.4 0 1,0 6.8,0a3.4,3.4 0 1,0 -6.8,0M888.7,1244.3a3.4,3.4 0 1,0 6.8,0a3.4,3.4 0 1,0 -6.8,0M891.2,1244.3a3.4,3.4 0 1,0 6.8,0a3.4,3.4 0 1,0 -6.8,0M893.7,1244.3a3.4,3.4 0 1,0 6.8,0a3.4,3.4 0 1,0 -6.8,0M896.2,1244.3a3.4,3.4 0 1,0 6.8,0a3.4,3.4 0 1,0 -6.8,0M898.7,1244.3a3.4,3.4 0 1,0 6.8,0a3.4,3.4 0 1,0 -6.8,0M901.2,1244.3a3.4,3.4 0 1,0 6.8,0a3.4,3.4 0 1,0 -6.8,0M903.7,1244.3a3.4,3.4 0 1,0 6.8,0a3.4,3.4 0 1,0 -6.8,0M906.2,1244.3a3.4,3.4 0 1,0 6.8,0a3.4,3.4 0 1,0 -6.8,0M908.7,1244.3a3.4,3.4 0 1,0 6.8,0a3.4,3.4 0 1,0 -6.8,0M911.3,1244.3a3.4,3.4 0 1,0 6.8,0a3.4,3.4 0 1,0 -6.8,0M913.8,1244.3a3.4,3.4 0 1,0 6.8,0a3.4,3.4 0 1,0 -6.8,0M916.3,1240.2a3.4,3.4 0 1,0 6.8,0a3.4,3.4 0 1,0 -6.8,0M918.8,1244.3a3.4,3.4 0 1,0 6.8,0a3.4,3.4 0 1,0 -6.8,0M921.3,1244.3a3.4,3.4 0 1,0 6.8,0a3.4,3.4 0 1,0 -6.8,0M923.8,1244.3a3.4,3.4 0 1,0 6.8,0a3.4,3.4 0 1,0 -6.8,0M926.3,1251.3a3.4,3.4 0 1,0 6.8,0a3.4,3.4 0 1,0 -6.8,0M928.8,1244.3a3.4,3.4 0 1,0 6.8,0a3.4,3.4 0 1,0 -6.8,0M931.3,1244.3a3.4,3.4 0 1,0 6.8,0a3.4,3.4 0 1,0 -6.8,0M933.8,1247.3a3.4,3.4 0 1,0 6.8,0a3.4,3.4 0 1,0 -6.8,0M936.4,1244.3a3.4,3.4 0 1,0 6.8,0a3.4,3.4 0 1,0 -6.8,0M938.9,1240.2a3.4,3.4 0 1,0 6.8,0a3.4,3.4 0 1,0 -6.8,0M941.4,1244.3a3.4,3.4 0 1,0 6.8,0a3.4,3.4 0 1,0 -6.8,0M943.9,1244.3a3.4,3.4 0 1,0 6.8,0a3.4,3.4 0 1,0 -6.8,0M946.4,1244.3a3.4,3.4 0 1,0 6.8,0a3.4,3.4 0 1,0 -6.8,0M948.9,1244.3a3.4,3.4 0 1,0 6.8,0a3.4,3.4 0 1,0 -6.8,0M951.4,1240.2a3.4,3.4 0 1,0 6.8,0a3.4,3.4 0 1,0 -6.8,0M953.9,1244.3a3.4,3.4 0 1,0 6.8,0a3.4,3.4 0 1,0 -6.8,0M956.4,1244.3a3.4,3.4 0 1,0 6.8,0a3.4,3.4 0 1,0 -6.8,0M958.9,1244.3a3.4,3.4 0 1,0 6.8,0a3.4,3.4 0 1,0 -6.8,0M961.5,1244.3a3.4,3.4 0 1,0 6.8,0a3.4,3.4 0 1,0 -6.8,0M964,1247.3a3.4,3.4 0 1,0 6.8,0a3.4,3.4 0 1,0 -6.8,0M966.5,1251.3a3.4,3.4 0 1,0 6.8,0a3.4,3.4 0 1,0 -6.8,0M969,1244.3a3.4,3.4 0 1,0 6.8,0a3.4,3.4 0 1,0 -6.8,0M971.5,1244.3a3.4,3.4 0 1,0 6.8,0a3.4,3.4 0 1,0 -6.8,0M974,1244.3a3.4,3.4 0 1,0 6.8,0a3.4,3.4 0 1,0 -6.8,0M976.5,1244.3a3.4,3.4 0 1,0 6.8,0a3.4,3.4 0 1,0 -6.8,0M979,1244.3a3.4,3.4 0 1,0 6.8,0a3.4,3.4 0 1,0 -6.8,0M981.5,1251.3a3.4,3.4 0 1,0 6.8,0a3.4,3.4 0 1,0 -6.8,0M984,1244.3a3.4,3.4 0 1,0 6.8,0a3.4,3.4 0 1,0 -6.8,0M986.6,1244.3a3.4,3.4 0 1,0 6.8,0a3.4,3.4 0 1,0 -6.8,0M989.1,1240.2a3.4,3.4 0 1,0 6.8,0a3.4,3.4 0 1,0 -6.8,0M991.6,1244.3a3.4,3.4 0 1,0 6.8,0a3.4,3.4 0 1,0 -6.8,0M994.1,1251.3a3.4,3.4 0 1,0 6.8,0a3.4,3.4 0 1,0 -6.8,0M996.6,1244.3a3.4,3.4 0 1,0 6.8,0a3.4,3.4 0 1,0 -6.8,0M999.1,1244.3a3.4,3.4 0 1,0 6.8,0a3.4,3.4 0 1,0 -6.8,0M1001.6,1240.2a3.4,3.4 0 1,0 6.8,0a3.4,3.4 0 1,0 -6.8,0M1004.1,1240.2a3.4,3.4 0 1,0 6.8,0a3.4,3.4 0 1,0 -6.8,0M1006.6,1244.3a3.4,3.4 0 1,0 6.8,0a3.4,3.4 0 1,0 -6.8,0M1009.1,1240.2a3.4,3.4 0 1,0 6.8,0a3.4,3.4 0 1,0 -6.8,0M1011.7,1240.2a3.4,3.4 0 1,0 6.8,0a3.4,3.4 0 1,0 -6.8,0M1014.2,1251.3a3.4,3.4 0 1,0 6.8,0a3.4,3.4 0 1,0 -6.8,0M1016.7,1244.3a3.4,3.4 0 1,0 6.8,0a3.4,3.4 0 1,0 -6.8,0M1019.2,1244.3a3.4,3.4 0 1,0 6.8,0a3.4,3.4 0 1,0 -6.8,0M1021.7,1244.3a3.4,3.4 0 1,0 6.8,0a3.4,3.4 0 1,0 -6.8,0M1024.2,1244.3a3.4,3.4 0 1,0 6.8,0a3.4,3.4 0 1,0 -6.8,0M1026.7,1251.3a3.4,3.4 0 1,0 6.8,0a3.4,3.4 0 1,0 -6.8,0M1029.2,1240.2a3.4,3.4 0 1,0 6.8,0a3.4,3.4 0 1,0 -6.8,0M1031.7,1244.3a3.4,3.4 0 1,0 6.8,0a3.4,3.4 0 1,0 -6.8,0M1034.2,1244.3a3.4,3.4 0 1,0 6.8,0a3.4,3.4 0 1,0 -6.8,0M1036.8,1244.3a3.4,3.4 0 1,0 6.8,0a3.4,3.4 0 1,0 -6.8,0M1039.3,1244.3a3.4,3.4 0 1,0 6.8,0a3.4,3.4 0 1,0 -6.8,0M1041.8,1244.3a3.4,3.4 0 1,0 6.8,0a3.4,3.4 0 1,0 -6.8,0M1044.3,1240.2a3.4,3.4 0 1,0 6.8,0a3.4,3.4 0 1,0 -6.8,0M1046.8,1244.3a3.4,3.4 0 1,0 6.8,0a3.4,3.4 0 1,0 -6.8,0M1049.3,1244.3a3.4,3.4 0 1,0 6.8,0a3.4,3.4 0 1,0 -6.8,0M1051.8,1244.3a3.4,3.4 0 1,0 6.8,0a3.4,3.4 0 1,0 -6.8,0M1054.3,1240.2a3.4,3.4 0 1,0 6.8,0a3.4,3.4 0 1,0 -6.8,0M1056.8,1244.3a3.4,3.4 0 1,0 6.8,0a3.4,3.4 0 1,0 -6.8,0M1059.3,1244.3a3.4,3.4 0 1,0 6.8,0a3.4,3.4 0 1,0 -6.8,0M1061.9,1244.3a3.4,3.4 0 1,0 6.8,0a3.4,3.4 0 1,0 -6.8,0M1064.4,1244.3a3.4,3.4 0 1,0 6.8,0a3.4,3.4 0 1,0 -6.8,0M1066.9,1244.3a3.4,3.4 0 1,0 6.8,0a3.4,3.4 0 1,0 -6.8,0M1069.4,1240.2a3.4,3.4 0 1,0 6.8,0a3.4,3.4 0 1,0 -6.8,0M1071.9,1244.3a3.4,3.4 0 1,0 6.8,0a3.4,3.4 0 1,0 -6.8,0M1074.4,1244.3a3.4,3.4 0 1,0 6.8,0a3.4,3.4 0 1,0 -6.8,0M1076.9,1244.3a3.4,3.4 0 1,0 6.8,0a3.4,3.4 0 1,0 -6.8,0M1079.4,1251.3a3.4,3.4 0 1,0 6.8,0a3.4,3.4 0 1,0 -6.8,0M1081.9,1244.3a3.4,3.4 0 1,0 6.8,0a3.4,3.4 0 1,0 -6.8,0M1084.4,1244.3a3.4,3.4 0 1,0 6.8,0a3.4,3.4 0 1,0 -6.8,0M1087,1244.3a3.4,3.4 0 1,0 6.8,0a3.4,3.4 0 1,0 -6.8,0M1089.5,1240.2a3.4,3.4 0 1,0 6.8,0a3.4,3.4 0 1,0 -6.8,0M1092,1244.3a3.4,3.4 0 1,0 6.8,0a3.4,3.4 0 1,0 -6.8,0M1094.5,1244.3a3.4,3.4 0 1,0 6.8,0a3.4,3.4 0 1,0 -6.8,0M1097,1244.3a3.4,3.4 0 1,0 6.8,0a3.4,3.4 0 1,0 -6.8,0M1099.5,1240.2a3.4,3.4 0 1,0 6.8,0a3.4,3.4 0 1,0 -6.8,0M1102,1244.3a3.4,3.4 0 1,0 6.8,0a3.4,3.4 0 1,0 -6.8,0M1104.5,1240.2a3.4,3.4 0 1,0 6.8,0a3.4,3.4 0 1,0 -6.8,0M1107,1240.2a3.4,3.4 0 1,0 6.8,0a3.4,3.4 0 1,0 -6.8,0M1109.5,1244.3a3.4,3.4 0 1,0 6.8,0a3.4,3.4 0 1,0 -6.8,0M1112.1,1240.2a3.4,3.4 0 1,0 6.8,0a3.4,3.4 0 1,0 -6.8,0M1114.6,1240.2a3.4,3.4 0 1,0 6.8,0a3.4,3.4 0 1,0 -6.8,0M1117.1,1244.3a3.4,3.4 0 1,0 6.8,0a3.4,3.4 0 1,0 -6.8,0M1119.6,1244.3a3.4,3.4 0 1,0 6.8,0a3.4,3.4 0 1,0 -6.8,0M1122.1,1244.3a3.4,3.4 0 1,0 6.8,0a3.4,3.4 0 1,0 -6.8,0M1124.6,1244.3a3.4,3.4 0 1,0 6.8,0a3.4,3.4 0 1,0 -6.8,0M1127.1,1240.2a3.4,3.4 0 1,0 6.8,0a3.4,3.4 0 1,0 -6.8,0M1129.6,1240.2a3.4,3.4 0 1,0 6.8,0a3.4,3.4 0 1,0 -6.8,0M1132.1,1240.2a3.4,3.4 0 1,0 6.8,0a3.4,3.4 0 1,0 -6.8,0M1134.6,1240.2a3.4,3.4 0 1,0 6.8,0a3.4,3.4 0 1,0 -6.8,0M1137.2,1244.3a3.4,3.4 0 1,0 6.8,0a3.4,3.4 0 1,0 -6.8,0M1139.7,1244.3a3.4,3.4 0 1,0 6.8,0a3.4,3.4 0 1,0 -6.8,0M1142.2,1244.3a3.4,3.4 0 1,0 6.8,0a3.4,3.4 0 1,0 -6.8,0M1144.7,1240.2a3.4,3.4 0 1,0 6.8,0a3.4,3.4 0 1,0 -6.8,0M1147.2,1244.3a3.4,3.4 0 1,0 6.8,0a3.4,3.4 0 1,0 -6.8,0M1149.7,1244.3a3.4,3.4 0 1,0 6.8,0a3.4,3.4 0 1,0 -6.8,0M1152.2,1244.3a3.4,3.4 0 1,0 6.8,0a3.4,3.4 0 1,0 -6.8,0M1154.7,1240.2a3.4,3.4 0 1,0 6.8,0a3.4,3.4 0 1,0 -6.8,0M1157.2,1244.3a3.4,3.4 0 1,0 6.8,0a3.4,3.4 0 1,0 -6.8,0M1159.7,1251.3a3.4,3.4 0 1,0 6.8,0a3.4,3.4 0 1,0 -6.8,0M1162.3,1244.3a3.4,3.4 0 1,0 6.8,0a3.4,3.4 0 1,0 -6.8,0M1164.8,1240.2a3.4,3.4 0 1,0 6.8,0a3.4,3.4 0 1,0 -6.8,0M1167.3,1244.3a3.4,3.4 0 1,0 6.8,0a3.4,3.4 0 1,0 -6.8,0M1169.8,1244.3a3.4,3.4 0 1,0 6.8,0a3.4,3.4 0 1,0 -6.8,0M1172.3,1244.3a3.4,3.4 0 1,0 6.8,0a3.4,3.4 0 1,0 -6.8,0M1174.8,1240.2a3.4,3.4 0 1,0 6.8,0a3.4,3.4 0 1,0 -6.8,0M1177.3,1244.3a3.4,3.4 0 1,0 6.8,0a3.4,3.4 0 1,0 -6.8,0M1179.8,1244.3a3.4,3.4 0 1,0 6.8,0a3.4,3.4 0 1,0 -6.8,0M1182.3,1244.3a3.4,3.4 0 1,0 6.8,0a3.4,3.4 0 1,0 -6.8,0M1184.8,1244.3a3.4,3.4 0 1,0 6.8,0a3.4,3.4 0 1,0 -6.8,0M1187.4,1244.3a3.4,3.4 0 1,0 6.8,0a3.4,3.4 0 1,0 -6.8,0M1189.9,1244.3a3.4,3.4 0 1,0 6.8,0a3.4,3.4 0 1,0 -6.8,0M1192.4,1244.3a3.4,3.4 0 1,0 6.8,0a3.4,3.4 0 1,0 -6.8,0M1194.9,1244.3a3.4,3.4 0 1,0 6.8,0a3.4,3.4 0 1,0 -6.8,0M1197.4,1244.3a3.4,3.4 0 1,0 6.8,0a3.4,3.4 0 1,0 -6.8,0M1199.9,1251.3a3.4,3.4 0 1,0 6.8,0a3.4,3.4 0 1,0 -6.8,0M1202.4,1244.3a3.4,3.4 0 1,0 6.8,0a3.4,3.4 0 1,0 -6.8,0M1204.9,1247.3a3.4,3.4 0 1,0 6.8,0a3.4,3.4 0 1,0 -6.8,0M1207.4,1240.2a3.4,3.4 0 1,0 6.8,0a3.4,3.4 0 1,0 -6.8,0M1209.9,1251.3a3.4,3.4 0 1,0 6.8,0a3.4,3.4 0 1,0 -6.8,0M1212.5,1244.3a3.4,3.4 0 1,0 6.8,0a3.4,3.4 0 1,0 -6.8,0M1215,1251.3a3.4,3.4 0 1,0 6.8,0a3.4,3.4 0 1,0 -6.8,0M1217.5,1240.2a3.4,3.4 0 1,0 6.8,0a3.4,3.4 0 1,0 -6.8,0M1220,1240.2a3.4,3.4 0 1,0 6.8,0a3.4,3.4 0 1,0 -6.8,0M1222.5,1244.3a3.4,3.4 0 1,0 6.8,0a3.4,3.4 0 1,0 -6.8,0M1225,1244.3a3.4,3.4 0 1,0 6.8,0a3.4,3.4 0 1,0 -6.8,0M1227.5,1244.3a3.4,3.4 0 1,0 6.8,0a3.4,3.4 0 1,0 -6.8,0M1230,1244.3a3.4,3.4 0 1,0 6.8,0a3.4,3.4 0 1,0 -6.8,0M1232.5,1244.3a3.4,3.4 0 1,0 6.8,0a3.4,3.4 0 1,0 -6.8,0M1235,1244.3a3.4,3.4 0 1,0 6.8,0a3.4,3.4 0 1,0 -6.8,0M1237.6,1244.3a3.4,3.4 0 1,0 6.8,0a3.4,3.4 0 1,0 -6.8,0M1240.1,1251.3a3.4,3.4 0 1,0 6.8,0a3.4,3.4 0 1,0 -6.8,0M1242.6,1244.3a3.4,3.4 0 1,0 6.8,0a3.4,3.4 0 1,0 -6.8,0M1245.1,1244.3a3.4,3.4 0 1,0 6.8,0a3.4,3.4 0 1,0 -6.8,0M1247.6,1244.3a3.4,3.4 0 1,0 6.8,0a3.4,3.4 0 1,0 -6.8,0M1250.1,1244.3a3.4,3.4 0 1,0 6.8,0a3.4,3.4 0 1,0 -6.8,0M1252.6,1247.3a3.4,3.4 0 1,0 6.8,0a3.4,3.4 0 1,0 -6.8,0M1255.1,1244.3a3.4,3.4 0 1,0 6.8,0a3.4,3.4 0 1,0 -6.8,0M1257.6,1244.3a3.4,3.4 0 1,0 6.8,0a3.4,3.4 0 1,0 -6.8,0M1260.1,1240.2a3.4,3.4 0 1,0 6.8,0a3.4,3.4 0 1,0 -6.8,0M1262.7,1244.3a3.4,3.4 0 1,0 6.8,0a3.4,3.4 0 1,0 -6.8,0M1265.2,1244.3a3.4,3.4 0 1,0 6.8,0a3.4,3.4 0 1,0 -6.8,0M1267.7,1244.3a3.4,3.4 0 1,0 6.8,0a3.4,3.4 0 1,0 -6.8,0M1270.2,1244.3a3.4,3.4 0 1,0 6.8,0a3.4,3.4 0 1,0 -6.8,0M1272.7,1244.3a3.4,3.4 0 1,0 6.8,0a3.4,3.4 0 1,0 -6.8,0M1275.2,1244.3a3.4,3.4 0 1,0 6.8,0a3.4,3.4 0 1,0 -6.8,0M1277.7,1244.3a3.4,3.4 0 1,0 6.8,0a3.4,3.4 0 1,0 -6.8,0M1280.2,1244.3a3.4,3.4 0 1,0 6.8,0a3.4,3.4 0 1,0 -6.8,0M1282.7,1251.3a3.4,3.4 0 1,0 6.8,0a3.4,3.4 0 1,0 -6.8,0M1285.2,1244.3a3.4,3.4 0 1,0 6.8,0a3.4,3.4 0 1,0 -6.8,0M1287.8,1244.3a3.4,3.4 0 1,0 6.8,0a3.4,3.4 0 1,0 -6.8,0M1290.3,1244.3a3.4,3.4 0 1,0 6.8,0a3.4,3.4 0 1,0 -6.8,0M1292.8,1244.3a3.4,3.4 0 1,0 6.8,0a3.4,3.4 0 1,0 -6.8,0M1295.3,1244.3a3.4,3.4 0 1,0 6.8,0a3.4,3.4 0 1,0 -6.8,0M1297.8,1244.3a3.4,3.4 0 1,0 6.8,0a3.4,3.4 0 1,0 -6.8,0M1300.3,1244.3a3.4,3.4 0 1,0 6.8,0a3.4,3.4 0 1,0 -6.8,0M1302.8,1244.3a3.4,3.4 0 1,0 6.8,0a3.4,3.4 0 1,0 -6.8,0M1305.3,1240.2a3.4,3.4 0 1,0 6.8,0a3.4,3.4 0 1,0 -6.8,0M1307.8,1240.2a3.4,3.4 0 1,0 6.8,0a3.4,3.4 0 1,0 -6.8,0M1310.3,1244.3a3.4,3.4 0 1,0 6.8,0a3.4,3.4 0 1,0 -6.8,0M1277.7,1276.5a3.4,3.4 0 1,0 6.8,0a3.4,3.4 0 1,0 -6.8,0" fill="none" stroke="#9fd8d2" stroke-width="1"/><polyline points="814.3,1350.8 818,1351.4 821.8,1351.9 825.5,1352.4 829.3,1352.8 833.1,1353.2 836.8,1353.5 840.6,1353.9 844.4,1354.2 848.1,1354.4 851.9,1354.7 855.7,1354.9 859.4,1355.1 863.2,1355.3 867,1355.5 870.7,1355.7 874.5,1355.9 878.3,1356 882,1356.2 885.8,1356.3 889.6,1356.4 893.3,1356.6 897.1,1356.7 900.9,1356.8 904.6,1356.9 908.4,1357 912.1,1357.1 915.9,1357.2 919.7,1357.3 923.4,1357.4 927.2,1357.5 931,1357.6 934.7,1357.7 938.5,1357.8 942.3,1357.9 946,1358 949.8,1358.1 953.6,1358.2 957.3,1358.3 961.1,1358.4 964.9,1358.5 968.6,1358.5 972.4,1358.6 976.1,1358.7 979.9,1358.8 983.7,1358.9 987.4,1359 991.2,1359 995,1359.1 998.7,1359.2 1002.5,1359.3 1006.3,1359.4 1010,1359.5 1013.8,1359.6 1017.6,1359.6 1021.3,1359.7 1025.1,1359.8 1028.9,1359.9 1032.6,1360 1036.4,1360 1040.2,1360.1 1043.9,1360.2 1047.7,1360.3 1051.5,1360.4 1055.2,1360.5 1059,1360.5 1062.7,1360.6 1066.5,1360.7 1070.3,1360.8 1074,1360.9 1077.8,1361 1081.6,1361 1085.3,1361.1 1089.1,1361.2 1092.9,1361.3 1096.6,1361.4 1100.4,1361.5 1104.2,1361.5 1107.9,1361.6 1111.7,1361.7 1115.5,1361.8 1119.2,1361.9 1123,1362 1126.8,1362 1130.5,1362.1 1134.3,1362.2 1138,1362.3 1141.8,1362.4 1145.6,1362.4 1149.3,1362.5 1153.1,1362.6 1156.9,1362.7 1160.6,1362.8 1164.4,1362.9 1168.2,1362.9 1171.9,1363 1175.7,1363.1 1179.5,1363.2 1183.2,1363.3 1187,1363.4 1190.8,1363.4 1194.5,1363.5 1198.3,1363.6 1202,1363.7 1205.8,1363.8 1209.6,1363.8 1213.3,1363.9 1217.1,1364 1220.9,1364.1 1224.6,1364.2 1228.4,1364.3 1232.2,1364.3 1235.9,1364.4 1239.7,1364.5 1243.5,1364.6 1247.2,1364.7 1251,1364.8 1254.8,1364.8 1258.5,1364.9 1262.3,1365 1266.1,1365.1 1269.8,1365.2 1273.6,1365.2 1277.3,1365.3 1281.1,1365.4 1284.9,1365.5 1288.6,1365.6 1292.4,1365.7 1296.2,1365.7 1299.9,1365.8 1303.7,1365.9 1307.5,1366 1311.2,1366.1 1315,1366.2" fill="none" stroke="#d8822c" stroke-width="6.4" stroke-linecap="round" stroke-linejoin="round"/><polyline points="814.3,1350.8 818,1351.4 821.8,1351.9 825.5,1352.4 829.3,1352.8 833.1,1353.2 836.8,1353.5 840.6,1353.9 844.4,1354.2 848.1,1354.4 851.9,1354.7 855.7,1354.9 859.4,1355.1 863.2,1355.3 867,1355.5 870.7,1355.7 874.5,1355.9 878.3,1356 882,1356.2 885.8,1356.3 889.6,1356.4 893.3,1356.6 897.1,1356.7 900.9,1356.8 904.6,1356.9 908.4,1357 912.1,1357.1 915.9,1357.2 919.7,1357.3 923.4,1357.4 927.2,1357.5 931,1357.6 934.7,1357.7 938.5,1357.8 942.3,1357.9 946,1358 949.8,1358.1 953.6,1358.2 957.3,1358.3 961.1,1358.4 964.9,1358.5 968.6,1358.5 972.4,1358.6 976.1,1358.7 979.9,1358.8 983.7,1358.9 987.4,1359 991.2,1359 995,1359.1 998.7,1359.2 1002.5,1359.3 1006.3,1359.4 1010,1359.5 1013.8,1359.6 1017.6,1359.6 1021.3,1359.7 1025.1,1359.8 1028.9,1359.9 1032.6,1360 1036.4,1360 1040.2,1360.1 1043.9,1360.2 1047.7,1360.3 1051.5,1360.4 1055.2,1360.5 1059,1360.5 1062.7,1360.6 1066.5,1360.7 1070.3,1360.8 1074,1360.9 1077.8,1361 1081.6,1361 1085.3,1361.1 1089.1,1361.2 1092.9,1361.3 1096.6,1361.4 1100.4,1361.5 1104.2,1361.5 1107.9,1361.6 1111.7,1361.7 1115.5,1361.8 1119.2,1361.9 1123,1362 1126.8,1362 1130.5,1362.1 1134.3,1362.2 1138,1362.3 1141.8,1362.4 1145.6,1362.4 1149.3,1362.5 1153.1,1362.6 1156.9,1362.7 1160.6,1362.8 1164.4,1362.9 1168.2,1362.9 1171.9,1363 1175.7,1363.1 1179.5,1363.2 1183.2,1363.3 1187,1363.4 1190.8,1363.4 1194.5,1363.5 1198.3,1363.6 1202,1363.7 1205.8,1363.8 1209.6,1363.8 1213.3,1363.9 1217.1,1364 1220.9,1364.1 1224.6,1364.2 1228.4,1364.3 1232.2,1364.3 1235.9,1364.4 1239.7,1364.5 1243.5,1364.6 1247.2,1364.7 1251,1364.8 1254.8,1364.8 1258.5,1364.9 1262.3,1365 1266.1,1365.1 1269.8,1365.2 1273.6,1365.2 1277.3,1365.3 1281.1,1365.4 1284.9,1365.5 1288.6,1365.6 1292.4,1365.7 1296.2,1365.7 1299.9,1365.8 1303.7,1365.9 1307.5,1366 1311.2,1366.1 1315,1366.2" fill="none" stroke="#f4c890" stroke-width="1.8" stroke-dasharray="1.4 1.8" opacity="0.9"/><polyline points="814.3,1344.6 818,1345.6 821.8,1346.6 825.5,1347.4 829.3,1348.1 833.1,1348.7 836.8,1349.3 840.6,1349.8 844.4,1350.2 848.1,1350.6 851.9,1350.9 855.7,1351.2 859.4,1351.5 863.2,1351.8 867,1352 870.7,1352.2 874.5,1352.4 878.3,1352.6 882,1352.8 885.8,1353 889.6,1353.1 893.3,1353.2 897.1,1353.4 900.9,1353.5 904.6,1353.6 908.4,1353.8 912.1,1353.9 915.9,1354 919.7,1354.1 923.4,1354.2 927.2,1354.3 931,1354.4 934.7,1354.5 938.5,1354.7 942.3,1354.8 946,1354.9 949.8,1355 953.6,1355.1 957.3,1355.2 961.1,1355.3 964.9,1355.4 968.6,1355.5 972.4,1355.6 976.1,1355.7 979.9,1355.8 983.7,1355.8 987.4,1355.9 991.2,1356 995,1356.1 998.7,1356.2 1002.5,1356.3 1006.3,1356.4 1010,1356.5 1013.8,1356.6 1017.6,1356.7 1021.3,1356.8 1025.1,1356.9 1028.9,1357 1032.6,1357.1 1036.4,1357.2 1040.2,1357.3 1043.9,1357.4 1047.7,1357.5 1051.5,1357.6 1055.2,1357.7 1059,1357.8 1062.7,1357.9 1066.5,1358 1070.3,1358.1 1074,1358.2 1077.8,1358.3 1081.6,1358.4 1085.3,1358.5 1089.1,1358.6 1092.9,1358.6 1096.6,1358.7 1100.4,1358.8 1104.2,1358.9 1107.9,1359 1111.7,1359.1 1115.5,1359.2 1119.2,1359.3 1123,1359.4 1126.8,1359.5 1130.5,1359.6 1134.3,1359.7 1138,1359.8 1141.8,1359.9 1145.6,1360 1149.3,1360.1 1153.1,1360.2 1156.9,1360.3 1160.6,1360.4 1164.4,1360.5 1168.2,1360.6 1171.9,1360.7 1175.7,1360.8 1179.5,1360.9 1183.2,1361 1187,1361.1 1190.8,1361.1 1194.5,1361.2 1198.3,1361.3 1202,1361.4 1205.8,1361.5 1209.6,1361.6 1213.3,1361.7 1217.1,1361.8 1220.9,1361.9 1224.6,1362 1228.4,1362.1 1232.2,1362.2 1235.9,1362.3 1239.7,1362.4 1243.5,1362.5 1247.2,1362.6 1251,1362.7 1254.8,1362.8 1258.5,1362.9 1262.3,1363 1266.1,1363.1 1269.8,1363.2 1273.6,1363.3 1277.3,1363.4 1281.1,1363.5 1284.9,1363.6 1288.6,1363.7 1292.4,1363.7 1296.2,1363.8 1299.9,1363.9 1303.7,1364 1307.5,1364.1 1311.2,1364.2 1315,1364.3" fill="none" stroke="#1a9a90" stroke-width="6.4" stroke-linecap="round" stroke-linejoin="round"/><polyline points="814.3,1344.6 818,1345.6 821.8,1346.6 825.5,1347.4 829.3,1348.1 833.1,1348.7 836.8,1349.3 840.6,1349.8 844.4,1350.2 848.1,1350.6 851.9,1350.9 855.7,1351.2 859.4,1351.5 863.2,1351.8 867,1352 870.7,1352.2 874.5,1352.4 878.3,1352.6 882,1352.8 885.8,1353 889.6,1353.1 893.3,1353.2 897.1,1353.4 900.9,1353.5 904.6,1353.6 908.4,1353.8 912.1,1353.9 915.9,1354 919.7,1354.1 923.4,1354.2 927.2,1354.3 931,1354.4 934.7,1354.5 938.5,1354.7 942.3,1354.8 946,1354.9 949.8,1355 953.6,1355.1 957.3,1355.2 961.1,1355.3 964.9,1355.4 968.6,1355.5 972.4,1355.6 976.1,1355.7 979.9,1355.8 983.7,1355.8 987.4,1355.9 991.2,1356 995,1356.1 998.7,1356.2 1002.5,1356.3 1006.3,1356.4 1010,1356.5 1013.8,1356.6 1017.6,1356.7 1021.3,1356.8 1025.1,1356.9 1028.9,1357 1032.6,1357.1 1036.4,1357.2 1040.2,1357.3 1043.9,1357.4 1047.7,1357.5 1051.5,1357.6 1055.2,1357.7 1059,1357.8 1062.7,1357.9 1066.5,1358 1070.3,1358.1 1074,1358.2 1077.8,1358.3 1081.6,1358.4 1085.3,1358.5 1089.1,1358.6 1092.9,1358.6 1096.6,1358.7 1100.4,1358.8 1104.2,1358.9 1107.9,1359 1111.7,1359.1 1115.5,1359.2 1119.2,1359.3 1123,1359.4 1126.8,1359.5 1130.5,1359.6 1134.3,1359.7 1138,1359.8 1141.8,1359.9 1145.6,1360 1149.3,1360.1 1153.1,1360.2 1156.9,1360.3 1160.6,1360.4 1164.4,1360.5 1168.2,1360.6 1171.9,1360.7 1175.7,1360.8 1179.5,1360.9 1183.2,1361 1187,1361.1 1190.8,1361.1 1194.5,1361.2 1198.3,1361.3 1202,1361.4 1205.8,1361.5 1209.6,1361.6 1213.3,1361.7 1217.1,1361.8 1220.9,1361.9 1224.6,1362 1228.4,1362.1 1232.2,1362.2 1235.9,1362.3 1239.7,1362.4 1243.5,1362.5 1247.2,1362.6 1251,1362.7 1254.8,1362.8 1258.5,1362.9 1262.3,1363 1266.1,1363.1 1269.8,1363.2 1273.6,1363.3 1277.3,1363.4 1281.1,1363.5 1284.9,1363.6 1288.6,1363.7 1292.4,1363.7 1296.2,1363.8 1299.9,1363.9 1303.7,1364 1307.5,1364.1 1311.2,1364.2 1315,1364.3" fill="none" stroke="#c8f0ec" stroke-width="1.8" stroke-dasharray="1.4 1.8" opacity="0.9"/><polyline points="814.3,1335 818,1335.1 821.8,1335.2 825.5,1335.3 829.3,1335.4 833.1,1335.5 836.8,1335.6 840.6,1335.7 844.4,1335.7 848.1,1335.8 851.9,1335.9 855.7,1336 859.4,1336.1 863.2,1336.2 867,1336.3 870.7,1336.4 874.5,1336.5 878.3,1336.6 882,1336.7 885.8,1336.8 889.6,1336.8 893.3,1336.9 897.1,1337 900.9,1337.1 904.6,1337.2 908.4,1337.3 912.1,1337.4 915.9,1337.5 919.7,1337.6 923.4,1337.7 927.2,1337.8 931,1337.9 934.7,1338 938.5,1338.1 942.3,1338.2 946,1338.3 949.8,1338.3 953.6,1338.4 957.3,1338.5 961.1,1338.6 964.9,1338.7 968.6,1338.8 972.4,1338.9 976.1,1339 979.9,1339.1 983.7,1339.2 987.4,1339.3 991.2,1339.4 995,1339.5 998.7,1339.6 1002.5,1339.7 1006.3,1339.8 1010,1339.9 1013.8,1340 1017.6,1340.1 1021.3,1340.2 1025.1,1340.3 1028.9,1340.4 1032.6,1340.5 1036.4,1340.6 1040.2,1340.7 1043.9,1340.8 1047.7,1340.9 1051.5,1341 1055.2,1341.1 1059,1341.2 1062.7,1341.3 1066.5,1341.4 1070.3,1341.5 1074,1341.6 1077.8,1341.7 1081.6,1341.8 1085.3,1341.9 1089.1,1342 1092.9,1342.1 1096.6,1342.2 1100.4,1342.3 1104.2,1342.4 1107.9,1342.5 1111.7,1342.6 1115.5,1342.7 1119.2,1342.8 1123,1342.9 1126.8,1343 1130.5,1343.1 1134.3,1343.2 1138,1343.3 1141.8,1343.4 1145.6,1343.5 1149.3,1343.6 1153.1,1343.7 1156.9,1343.8 1160.6,1343.9 1164.4,1344 1168.2,1344.1 1171.9,1344.2 1175.7,1344.3 1179.5,1344.4 1183.2,1344.5 1187,1344.6 1190.8,1344.7 1194.5,1344.8 1198.3,1345 1202,1345.1 1205.8,1345.2 1209.6,1345.3 1213.3,1345.4 1217.1,1345.5 1220.9,1345.6 1224.6,1345.7 1228.4,1345.8 1232.2,1345.9 1235.9,1346 1239.7,1346.1 1243.5,1346.2 1247.2,1346.3 1251,1346.4 1254.8,1346.5 1258.5,1346.7 1262.3,1346.8 1266.1,1346.9 1269.8,1347 1273.6,1347.1 1277.3,1347.2 1281.1,1347.3 1284.9,1347.4 1288.6,1347.5 1292.4,1347.6 1296.2,1347.7 1299.9,1347.8 1303.7,1348 1307.5,1348.1 1311.2,1348.2 1315,1348.3" fill="none" stroke="#e23c4c" stroke-width="6.4" stroke-linecap="round" stroke-linejoin="round"/><polyline points="814.3,1335 818,1335.1 821.8,1335.2 825.5,1335.3 829.3,1335.4 833.1,1335.5 836.8,1335.6 840.6,1335.7 844.4,1335.7 848.1,1335.8 851.9,1335.9 855.7,1336 859.4,1336.1 863.2,1336.2 867,1336.3 870.7,1336.4 874.5,1336.5 878.3,1336.6 882,1336.7 885.8,1336.8 889.6,1336.8 893.3,1336.9 897.1,1337 900.9,1337.1 904.6,1337.2 908.4,1337.3 912.1,1337.4 915.9,1337.5 919.7,1337.6 923.4,1337.7 927.2,1337.8 931,1337.9 934.7,1338 938.5,1338.1 942.3,1338.2 946,1338.3 949.8,1338.3 953.6,1338.4 957.3,1338.5 961.1,1338.6 964.9,1338.7 968.6,1338.8 972.4,1338.9 976.1,1339 979.9,1339.1 983.7,1339.2 987.4,1339.3 991.2,1339.4 995,1339.5 998.7,1339.6 1002.5,1339.7 1006.3,1339.8 1010,1339.9 1013.8,1340 1017.6,1340.1 1021.3,1340.2 1025.1,1340.3 1028.9,1340.4 1032.6,1340.5 1036.4,1340.6 1040.2,1340.7 1043.9,1340.8 1047.7,1340.9 1051.5,1341 1055.2,1341.1 1059,1341.2 1062.7,1341.3 1066.5,1341.4 1070.3,1341.5 1074,1341.6 1077.8,1341.7 1081.6,1341.8 1085.3,1341.9 1089.1,1342 1092.9,1342.1 1096.6,1342.2 1100.4,1342.3 1104.2,1342.4 1107.9,1342.5 1111.7,1342.6 1115.5,1342.7 1119.2,1342.8 1123,1342.9 1126.8,1343 1130.5,1343.1 1134.3,1343.2 1138,1343.3 1141.8,1343.4 1145.6,1343.5 1149.3,1343.6 1153.1,1343.7 1156.9,1343.8 1160.6,1343.9 1164.4,1344 1168.2,1344.1 1171.9,1344.2 1175.7,1344.3 1179.5,1344.4 1183.2,1344.5 1187,1344.6 1190.8,1344.7 1194.5,1344.8 1198.3,1345 1202,1345.1 1205.8,1345.2 1209.6,1345.3 1213.3,1345.4 1217.1,1345.5 1220.9,1345.6 1224.6,1345.7 1228.4,1345.8 1232.2,1345.9 1235.9,1346 1239.7,1346.1 1243.5,1346.2 1247.2,1346.3 1251,1346.4 1254.8,1346.5 1258.5,1346.7 1262.3,1346.8 1266.1,1346.9 1269.8,1347 1273.6,1347.1 1277.3,1347.2 1281.1,1347.3 1284.9,1347.4 1288.6,1347.5 1292.4,1347.6 1296.2,1347.7 1299.9,1347.8 1303.7,1348 1307.5,1348.1 1311.2,1348.2 1315,1348.3" fill="none" stroke="#fbd0d4" stroke-width="1.8" stroke-dasharray="1.4 1.8" opacity="0.9"/><rect x="813" y="1234.2" width="502" height="201.5999999999999" fill="none" stroke="#333" stroke-width="1.2"/><line x1="809" y1="1435.8" x2="813" y2="1435.8" stroke="#333" stroke-width="1" /><line x1="810.5" y1="1417.5" x2="813" y2="1417.5" stroke="#333" stroke-width="1" /><line x1="809" y1="1399.1" x2="813" y2="1399.1" stroke="#333" stroke-width="1" /><line x1="810.5" y1="1380.8" x2="813" y2="1380.8" stroke="#333" stroke-width="1" /><line x1="809" y1="1362.5" x2="813" y2="1362.5" stroke="#333" stroke-width="1" /><line x1="810.5" y1="1344.2" x2="813" y2="1344.2" stroke="#333" stroke-width="1" /><line x1="809" y1="1325.8" x2="813" y2="1325.8" stroke="#333" stroke-width="1" /><line x1="810.5" y1="1307.5" x2="813" y2="1307.5" stroke="#333" stroke-width="1" /><line x1="809" y1="1289.2" x2="813" y2="1289.2" stroke="#333" stroke-width="1" /><line x1="810.5" y1="1270.9" x2="813" y2="1270.9" stroke="#333" stroke-width="1" /><line x1="809" y1="1252.5" x2="813" y2="1252.5" stroke="#333" stroke-width="1" /><line x1="810.5" y1="1234.2" x2="813" y2="1234.2" stroke="#333" stroke-width="1" /><text x="805.5" y="1440.8" font-size="14" font-weight="normal" text-anchor="end" fill="#222" >0</text><text x="805.5" y="1404.1" font-size="14" font-weight="normal" text-anchor="end" fill="#222" >40</text><text x="805.5" y="1367.5" font-size="14" font-weight="normal" text-anchor="end" fill="#222" >80</text><text x="805.5" y="1330.8" font-size="14" font-weight="normal" text-anchor="end" fill="#222" >120</text><text x="805.5" y="1294.2" font-size="14" font-weight="normal" text-anchor="end" fill="#222" >160</text><text x="805.5" y="1257.5" font-size="14" font-weight="normal" text-anchor="end" fill="#222" >200</text><line x1="1315" y1="1435.8" x2="1319" y2="1435.8" stroke="#333" stroke-width="1" /><line x1="1315" y1="1415.6" x2="1317.5" y2="1415.6" stroke="#333" stroke-width="1" /><line x1="1315" y1="1395.5" x2="1319" y2="1395.5" stroke="#333" stroke-width="1" /><line x1="1315" y1="1375.3" x2="1317.5" y2="1375.3" stroke="#333" stroke-width="1" /><line x1="1315" y1="1355.2" x2="1319" y2="1355.2" stroke="#333" stroke-width="1" /><line x1="1315" y1="1335" x2="1317.5" y2="1335" stroke="#333" stroke-width="1" /><line x1="1315" y1="1314.8" x2="1319" y2="1314.8" stroke="#333" stroke-width="1" /><line x1="1315" y1="1294.7" x2="1317.5" y2="1294.7" stroke="#333" stroke-width="1" /><line x1="1315" y1="1274.5" x2="1319" y2="1274.5" stroke="#333" stroke-width="1" /><line x1="1315" y1="1254.4" x2="1317.5" y2="1254.4" stroke="#333" stroke-width="1" /><line x1="1315" y1="1234.2" x2="1319" y2="1234.2" stroke="#333" stroke-width="1" /><text x="1320.5" y="1440.8" font-size="14.5" font-weight="normal" text-anchor="start" fill="#222" >90</text><text x="1320.5" y="1400.5" font-size="14.5" font-weight="normal" text-anchor="start" fill="#222" >92</text><text x="1320.5" y="1360.2" font-size="14.5" font-weight="normal" text-anchor="start" fill="#222" >94</text><text x="1320.5" y="1319.8" font-size="14.5" font-weight="normal" text-anchor="start" fill="#222" >96</text><text x="1320.5" y="1279.5" font-size="14.5" font-weight="normal" text-anchor="start" fill="#222" >98</text><text x="1320.5" y="1239.2" font-size="14.5" font-weight="normal" text-anchor="start" fill="#222" >100</text><line x1="813" y1="1435.8" x2="813" y2="1439.8" stroke="#333" stroke-width="1" /><line x1="844.4" y1="1435.8" x2="844.4" y2="1438.3" stroke="#333" stroke-width="1" /><line x1="875.8" y1="1435.8" x2="875.8" y2="1439.8" stroke="#333" stroke-width="1" /><line x1="907.1" y1="1435.8" x2="907.1" y2="1438.3" stroke="#333" stroke-width="1" /><line x1="938.5" y1="1435.8" x2="938.5" y2="1439.8" stroke="#333" stroke-width="1" /><line x1="969.9" y1="1435.8" x2="969.9" y2="1438.3" stroke="#333" stroke-width="1" /><line x1="1001.2" y1="1435.8" x2="1001.2" y2="1439.8" stroke="#333" stroke-width="1" /><line x1="1032.6" y1="1435.8" x2="1032.6" y2="1438.3" stroke="#333" stroke-width="1" /><line x1="1064" y1="1435.8" x2="1064" y2="1439.8" stroke="#333" stroke-width="1" /><line x1="1095.4" y1="1435.8" x2="1095.4" y2="1438.3" stroke="#333" stroke-width="1" /><line x1="1126.8" y1="1435.8" x2="1126.8" y2="1439.8" stroke="#333" stroke-width="1" /><line x1="1158.1" y1="1435.8" x2="1158.1" y2="1438.3" stroke="#333" stroke-width="1" /><line x1="1189.5" y1="1435.8" x2="1189.5" y2="1439.8" stroke="#333" stroke-width="1" /><line x1="1220.9" y1="1435.8" x2="1220.9" y2="1438.3" stroke="#333" stroke-width="1" /><line x1="1252.2" y1="1435.8" x2="1252.2" y2="1439.8" stroke="#333" stroke-width="1" /><line x1="1283.6" y1="1435.8" x2="1283.6" y2="1438.3" stroke="#333" stroke-width="1" /><line x1="1315" y1="1435.8" x2="1315" y2="1439.8" stroke="#333" stroke-width="1" /><text x="813" y="1454.3" font-size="14" font-weight="normal" text-anchor="middle" fill="#222" >0</text><text x="875.8" y="1454.3" font-size="14" font-weight="normal" text-anchor="middle" fill="#222" >50</text><text x="938.5" y="1454.3" font-size="14" font-weight="normal" text-anchor="middle" fill="#222" >100</text><text x="1001.2" y="1454.3" font-size="14" font-weight="normal" text-anchor="middle" fill="#222" >150</text><text x="1064" y="1454.3" font-size="14" font-weight="normal" text-anchor="middle" fill="#222" >200</text><text x="1126.8" y="1454.3" font-size="14" font-weight="normal" text-anchor="middle" fill="#222" >250</text><text x="1189.5" y="1454.3" font-size="14" font-weight="normal" text-anchor="middle" fill="#222" >300</text><text x="1252.2" y="1454.3" font-size="14" font-weight="normal" text-anchor="middle" fill="#222" >350</text><text x="1315" y="1454.3" font-size="14" font-weight="normal" text-anchor="middle" fill="#222" >400</text><text x="1063.5" y="1471.3" font-size="14.3" font-weight="normal" text-anchor="middle" fill="#222" >Cycle number</text><text x="0" y="0" font-size="14" text-anchor="middle" fill="#222" transform="translate(773,1334.3) rotate(-90)">Discharge capacity (mAh g<tspan dy="-5" font-size="10">-1</tspan><tspan dy="5">)</tspan></text><text x="0" y="0" font-size="14.3" text-anchor="middle" fill="#222" transform="translate(1349,1336.5) rotate(90)">Coulombic efficiency (%)</text><circle cx="1013.6" cy="1278.7" r="4.6" fill="url(#gRb)" /><text x="1030.3" y="1283.7" font-size="14.5" font-weight="normal" text-anchor="start" fill="#222" >R-LFP-Li<tspan dy="3.5" font-size="10.5">2</tspan><tspan dy="-3.5">DHBN</tspan></text><circle cx="1013.6" cy="1299.3" r="4.6" fill="url(#gOb)" /><text x="1030.3" y="1304.3" font-size="14.5" font-weight="normal" text-anchor="start" fill="#222" >R-LFP-Li<tspan dy="3.5" font-size="10.5">2</tspan><tspan dy="-3.5">CO</tspan><tspan dy="3.5" font-size="10.5">3</tspan></text><circle cx="1013.6" cy="1319.9" r="4.6" fill="url(#gTb)" /><text x="1030.3" y="1324.9" font-size="14.5" font-weight="normal" text-anchor="start" fill="#222" >R-LFP-LiOH</text><text x="827.3" y="1384.6" font-size="13.3" font-weight="normal" text-anchor="start" fill="#333" >LFP || Li half cell  25<tspan font-family='"Liberation Sans", "Noto Sans CJK SC", sans-serif'>&#8451;</tspan></text><text x="827.3" y="1403" font-size="13.3" font-weight="normal" text-anchor="start" fill="#333" >Voltage: 2.5-4.3 V</text><text x="827.3" y="1420.8" font-size="13.3" font-weight="normal" text-anchor="start" fill="#333" >Rate: 5 C</text><text x="1308.9" y="1334.4" font-size="14.5" font-weight="bold" text-anchor="end" fill="#e04a58" >88%</text><text x="1309" y="1390" font-size="14.5" font-weight="bold" text-anchor="end" fill="#26a096" >78%</text><text x="1309" y="1412.9" font-size="14.5" font-weight="bold" text-anchor="end" fill="#d4883a" >76%</text><text x="1277.3" y="1402" font-size="13.1" font-weight="bold" text-anchor="end" fill="#111" >Capacity retention:</text><ellipse cx="1274" cy="1250.5" rx="18.5" ry="12" fill="none" stroke="#222" stroke-width="1.2" stroke-dasharray="3 2"/><path d="M1275,1262.5 C1285,1272 1298,1274 1310,1274.5" fill="none" stroke="#222" stroke-width="1.2" stroke-dasharray="3 2"/><polyline points="1308.1,1276.8 1312.5,1274.5 1308.3,1271.8" fill="none" stroke="#222" stroke-width="1.2" stroke-linecap="round" stroke-linejoin="round"/></svg></body></html>
